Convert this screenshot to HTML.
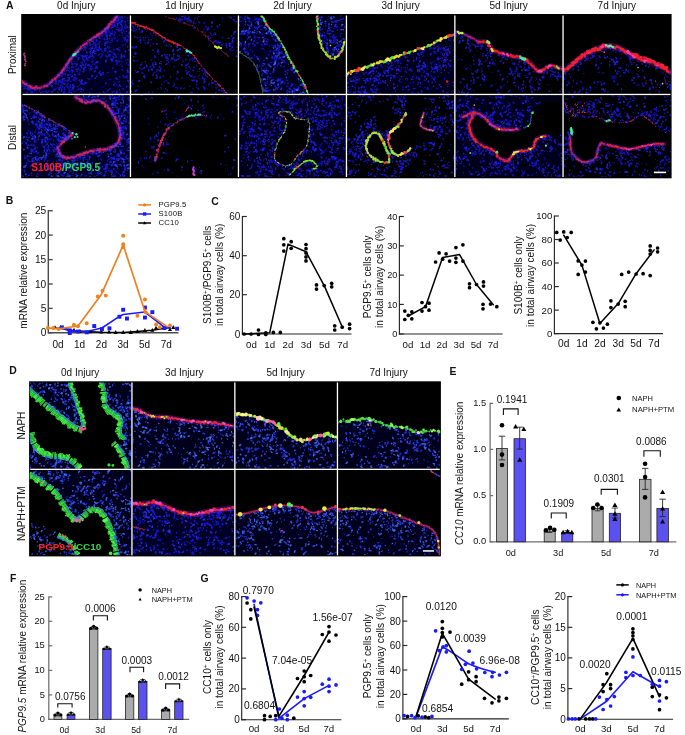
<!DOCTYPE html>
<html><head><meta charset="utf-8"><title>Figure</title>
<style>html,body{margin:0;padding:0;background:#fff}svg{display:block}text{font-family:"Liberation Sans",Arial,sans-serif;fill:#111}</style>
</head><body>
<svg width="685" height="735" viewBox="0 0 685 735">
<defs><filter id="bl" x="-5%" y="-5%" width="110%" height="110%"><feGaussianBlur stdDeviation="0.6"/></filter><filter id="bh" x="-10%" y="-10%" width="120%" height="120%"><feGaussianBlur stdDeviation="2.2"/></filter></defs>
<rect width="685" height="735" fill="#fff"/>
<rect x="21.2" y="14" width="650.4" height="164.3" fill="#000"/>
<rect x="29.1" y="381.3" width="411.8" height="175.1" fill="#000"/>
<clipPath id="c0"><rect x="21.8" y="15.5" width="108" height="78.3"/></clipPath>
<g clip-path="url(#c0)">
<g filter="url(#bl)">
<path d="M20.8 80.7L26.5 84.8L31.4 87.2L36.4 88L44.5 86.4L52.7 80.7L60.9 72.5L65.8 66L70.7 58.6L75.6 52.9L82.1 46.3L88.7 41.4L96.8 35.7L105 30L111.6 22.6L116.5 16.1L118.1 12.8L134.5 12L134.5 98.7L20 98.7Z" fill="#020228" fill-rule="evenodd" filter="url(#bh)"/>
<path d="M67.6 80.2h0M77.8 86.6h0M118.4 20.5l0.3 -1M65 84.1h0M30.5 88.6l-1 -0.9M56 81.2l-0.2 -0.9M27.6 88h0M111.3 27.9l1.3 -0.8M91.2 66.2h0M116.8 16.7l-0.6 0.3M127.4 70.4l0.4 1.5M105.3 42.7l0 1.1M97.5 61.5l-0.1 0.9M106.6 31.8h0M115.7 72.3h0M96.2 40.7l0.5 -0.7M100.7 75.1l0.6 -0.6M80.8 81.3l0.7 0.8M90 56.5l1 -0.8M96.8 76.3h0M110.9 59.3l1.3 0.9M118 20.4l-1.4 0.3M119.9 22.4l-1.3 0.6M116.1 78.2h0M71.4 92.7h0M69.9 60l-0.5 1.1M81.3 88.9l-0.1 0.6M98.4 50.1l0.4 -0.6M95.3 44.2l0.4 1.1M51.1 85.4l1.3 0.9M64.2 78.6l-1.4 0.5M121.7 20.7l0.8 0.6M113.9 25.9l1.2 -0.1M109.4 51.4l0.6 -0.3M34.6 89.7h0M61.7 73.2h0M126.7 92.1l0.7 -0.1M61.7 90.9h0M74.9 74.4h0M96.1 62.8l0.2 -0.5M110.6 33.7l0.6 -0.4M81.7 67.4h0M126.7 86.5h0M100.7 48.6l-0.1 0.7M80.5 49.2h0M125.2 38.1l0.1 0.8M93.4 51.7l-1.1 0.7M109.4 54.8l1 0.9" stroke="#2424f8" stroke-width="1.7" stroke-linecap="round" fill="none" opacity="0.82"/>
<path d="M64.6 91.9l-0.5 0M108.1 72.4h0M112.1 59.2l-0.4 0.9M88.4 65.8l-0.7 -0.2M74.2 86.8l-1 -0.9M86.2 48l-0.5 -1M67.2 84.8l0 -0.8M71.6 76.9l1.2 -0.8M81.2 65.5h0M121.8 24h0M106.7 32.9h0M120.6 30.5l1.3 -0.9M90.1 52.9l0.9 0.8M114.9 22.6l-0.5 0.2M59.3 80.6h0M86.9 42.8l0.4 0.6M92 76.6l0.7 -0.7M73 56.6l0.6 -0.3M32.7 88.4l0.8 0M121.3 55.2l-0.2 -1.1M70.5 85.1h0M82.3 80.9h0M125 17h0M46.1 90.6h0M102.1 75h0M127.6 20.8h0M105.1 45.6l-0.3 -0.6M126.4 31.4h0M125 51.5l0.8 -0M118.4 61.6l1.1 -0.6M120.3 86.1l-0.9 -1M129.2 32.5l0.7 0.7M115 83.6l-0.6 0.2M106 83.1l-0.5 0.5M122 56.9l-0.2 -0.9M99.4 37l-1.3 -0.5M68.3 63.1l-0.5 -0.6M86.4 57.8l0.5 0.8M126.7 76.3l-0.7 0.9M87.1 55.4h0M112.4 41h0M99.8 71.8h0M116.9 23.2l0.4 0.4M85.2 67.3h0M122.5 17.9l-0.7 -1.2M91.3 69.3l-1.2 0.5M92.4 55.7h0M92.9 61.4l-0.9 0.6M79.2 80.7l0.3 -0.8M61.4 89.3l0.4 0.3M61.3 82.2l-0.9 -1.1M108.3 27.7l-0.5 -0.4M109.4 38.6h0M105.9 50.5l-1.1 0.4M103.3 72.9h0M92.4 48.6l-1.5 -0.6M62.3 72.9l-0.5 -0.7M25.4 88.6h0M119.6 89.8h0" stroke="#2424f8" stroke-width="1.4" stroke-linecap="round" fill="none" opacity="0.82"/>
<path d="M83.5 59.4l-0.7 -0.3M58.7 88.6l0.8 -0.9M124.5 56.9h0M77.8 59l1 0.1M68.2 70.4h0M29.4 88.5l-0.7 -0.8M118.7 18.7h0M107.3 36.2l-0.5 0.8M123.2 75.5h0M84.7 67l-0.2 0.8M112.4 31h0M82 83.7l-1.2 -0.1M126.8 40.8l0.1 1M63 74.3l1.4 -0.5M89.1 64.7l0.7 0.8M72.2 57.3h0M81.3 62.9l0.8 0.1M94.8 51l-0.8 1M68.3 74.8l-0.6 0.4M122 25.5l-0.4 1.3M95.2 78.2h0M101.8 35.7l-0.9 -0.2M78.3 89.2l0.9 -0.2M80.2 65.1l0.4 1.2M118 49.9l0.8 -0.1M95.3 71.2l-0.8 0.6M108.4 31.2l0.7 0.8M98.1 50.1h0M73.2 79.9l0.6 0.1M76.1 64l1 0.5M32.3 92.4h0M72.5 88.8l0.3 -1.5M78.4 68.5l-0.6 1M116.3 61.6l0.5 -0.4M72.1 64l0.3 0.5M107.7 29.9l-1 -0.2M60.9 87.8l-0.7 -0.1M126.5 40l1.4 -0.2M108.3 28l-0.1 0.6M27.1 92.8h0M113 20.9l0.7 -0.2M83.5 55.9l-1.1 0.4M86.8 59.3l1.3 0.9" stroke="#1818e0" stroke-width="1.7" stroke-linecap="round" fill="none" opacity="0.82"/>
<path d="M82.8 64l0.1 1.2M83.8 56.6l-1.1 0.6M64 83.7h0M86.8 52.6l0.1 0.5M107 41.5l1.4 0.3M85 56.9l-1 -0.6M95.4 47.2l0.8 -0.7M129.7 61.6h0M75.9 79.1l0.8 -0.6M64.1 88.1h0M94.6 48.4h0M72.1 76.3h0M98.5 50.5l0.3 -1.2M117.3 60.8h0M35.5 89.3l0.3 0.8M84.3 82.4l1 0.3M81.6 80.2l0.8 0.2M105.4 48.5l0.7 -0.3M124.8 28.3h0M62.4 75.9l-1 -0.1M118 93.2l-1.4 -0.6M114.4 34.8l0.3 0.6M85.5 50.1l-0.6 -1.1M61.4 85.3h0M114.9 34.2h0M87.4 45.2l0.3 0.8M56.6 77.1l-0.5 0.1M69 80.2l0.2 -0.5M127.7 59.6l0.5 0.2M84.5 48.1l-0 -1.1M129.4 27.3h0M56.5 83.4h0M66.5 65.8h0M93.7 41.3h0M107.8 38.3l-0.6 1M92.7 56.6l1.4 0.5M116.3 85h0M58.8 82.7h0M122.3 32.7l-0.7 0.3M116.6 29.6l1.4 0.2M112.1 33.9l0.7 -0.8M93.4 43.8l-0.4 0.4M71.3 58.7l-0.6 1.4M108.5 90.2l-1.3 0.8M99.7 93.5l-0.6 -0.1M123.4 31h0M69.3 77.4l-1 0M66.5 67.9l1.3 0.2M62.5 84.1l0.2 -1.4M32.5 87.9h0M65.7 80.3l-1 0.5" stroke="#1c1cd0" stroke-width="1.4" stroke-linecap="round" fill="none" opacity="0.82"/>
<path d="M72.1 87.8l1 0M117.3 90.5l-0.6 0.8M80.3 54.9h0M65.1 89.6l-0.4 -0.3M90.3 78.3h0M120.7 64.2h0M99.6 54.2l-1.2 0.9M129.4 50.7l-0.5 -0.8M126.3 25.4l-0.8 -0.9M44 91.4h0M117.8 24l-0.5 1.4M62.1 73.3h0M26.6 93.8h0M120.3 23.7l0.8 1M109.8 89l0.1 -0.8M71.8 69.5l0.4 0.7M78.2 52.8l0.7 -1.1M68.8 86.9l1.3 -0.2M112.9 56.3l0.9 1.1M75.2 55.7l0.8 0.6M75.9 66.3l0.6 -0.2M55.2 84l0.9 -1.3M106.8 59h0M95.9 53.6l-1.4 -0.2M86.5 51.6h0M112.5 38.7h0M115.2 57l1.4 0M105.8 35.8l-0 -0.9M62.4 86.5h0M78.2 52.8l1 -0.5M73.5 78h0M115 21.1l0.6 -0.8M124.3 37.7l-1.4 0.1M97.5 50.1h0M58.8 80.7l0.5 0.7M122.3 88.8l1.4 0.5M107.1 35.3h0M112.2 22.2l0.4 0.9M31.3 87.7l0.6 -1.5M77.8 52.4l0.5 0.5M123.2 45l-0.5 0.4M46.9 91.8l-1.3 0.4M76.6 70.7l0.5 1.1M66.7 86.2l0.7 1M119 35.5h0M102.8 72.5l0.3 0.8M113.8 85.2h0M93.6 50.4h0" stroke="#2424f8" stroke-width="1.1" stroke-linecap="round" fill="none" opacity="0.82"/>
<path d="M83.7 84l1.1 -0.6M73 67.5l-1 -0.2M115.1 37.3h0M119 81.3l0.3 0.7M109 55.3l1.5 0.1M71.3 70.6l0.7 0.7M126.5 36h0M75.3 80.9l-0.4 -0.4M114.1 37.5l0.3 1.1M62.1 87.5l-0.6 0.8M62 83.3l0.9 -1.2M108.9 46.6h0M112.3 24.7l-0.2 0.6M78.3 57.3l-0.7 0.2M29.9 87.2l0.2 -0.8M110.2 79.4l0.5 0.3M119.6 76.9h0M25.7 88.1l-0.9 0.5M105.7 42l0.1 1.3M117.3 18.2l-0.7 -0M125.8 60.3h0M99.1 43.2l0.8 -1.3M129.6 62.2h0M59.5 89.9l-1.2 -0.5M117.3 26.6h0M88.7 79l0.5 0.8M95.1 50.5h0M74.6 79.4h0M101.7 55.3l-0.3 1.4M84 71.8l-1 -0.6M96.1 66.6l0.4 0.7M70 74.9l1.3 0.1M68.8 80.1l-0.2 1.1M114.9 55.7l1 -1M64.2 74l1.6 0.2M94.9 45.3l-0.4 -1.2M95.5 71h0M23.2 83.1l0.8 -0M82.6 55.3h0M125.5 22.7l-0.7 -1.1M117.6 40.7l-0.8 0.4M57.2 87.5h0M102.9 54.8h0M125.3 77.7h0M67 70.7l0.1 -1.5M32 90.9l-1.1 -0.5M110.2 36.3h0M62.9 81.2l-1.6 -0.1M125 33.3h0M99.3 49.1l1.3 -0M72.5 71.8h0M71 87.5l-1.2 -0.1" stroke="#1010b8" stroke-width="1.7" stroke-linecap="round" fill="none" opacity="0.82"/>
<path d="M75.4 77.9l0.8 0.3M59.3 89.2h0M77.5 63.9h0M108 46.2l-0.4 1.4M78.6 73.9l1.2 0.6M118.8 53.6h0M87.2 43.9h0M103.1 34.9h0M88.8 68.3h0M22.4 86.1l-0 -0.9M114.5 91.1h0M27 85.1h0M101.9 50.9l0.4 0.4M79.2 74.6h0M91.1 51l-1.1 0.7M112.4 68.1l0.8 -0.1M67.1 80.3l0.7 1.1M85.1 65.2l1.1 -0.8M83.3 50.8h0M69.2 68.5l0.5 -1.2M64.5 71h0M85.9 63.2h0M126.1 93.2l-0.1 0.8M69.5 78.7l-0.9 -0.3M32.3 88.2l-0.2 0.5M84.1 56.4l-1.1 0.5M115.7 71.6l-1.1 0M90.1 44h0M118.3 47.8h0M106.9 39.5l-1 -0.4M69.7 91.4l-0.5 -1.4M80.3 70.1h0M60.4 76.1l-1.2 -0.6M83.9 70.2l-0.4 -1.1M110.6 51.5l-1 0M63 80.7l-0.6 -0.4M108.5 56.3l-1.5 0.3M81.8 55.5h0M121.7 18l-0.3 -0.8M100.4 73l0.9 1M82.5 84.2l-1 -1M71.4 89.7h0M120.9 56.9l0.6 1.4M122.2 28.5l-0.4 0.3M77.1 61.6h0M100.4 57.1l0.2 0.6M106.1 31.5l-0.2 0.9M72.5 84.5l0.8 -0.2M31.9 91.9l-1 0.6M96.3 50.3l1 -0.8M51.1 91.8l0.8 -0.4M93 64.3l1.3 -0.2M119.3 17.5h0M116.2 60.4h0M90.6 45l0.2 -0.8M92.5 68.4h0M99.5 73.2l-0.5 -0.6M112.8 58.4l0.6 -0.2" stroke="#1818e0" stroke-width="1.4" stroke-linecap="round" fill="none" opacity="0.82"/>
<path d="M84.2 68.8l-0.6 -0.7M72.1 66.9l-0.5 0.3M128.7 80.7l-0.9 0M119.6 29.7l0.2 -0.5M110.2 35.7l-0.6 -0.6M73.1 88.7h0M116.8 49.2l0.7 -0.4M92.3 47.3h0M105.8 55.5l0.1 0.8M74.9 77.9h0M84.6 56.4h0M113.5 53.3l0.9 0.9M123.4 56.2l0.6 -0.7M97.5 43.9h0M127.5 26.8l0.1 1.1M85.7 82.9l0.8 0.2M64.6 89.7h0M99.9 38.4h0M30 89.7l-1.5 -0.1M99.2 37.6l-0.7 -0.8M83.4 71.6h0M105.7 42.6l-0.4 1.1M76.1 69.4h0M128.8 72h0M99.2 47.3l0.2 -0.7M93.9 51.2l1 0.1M64.5 93.6l0.3 1M84.4 47.8l-0.4 -0.9M104.1 38.3l0.2 1.3M107.5 52.5h0M24.1 86.7h0M47.6 92.8h0M86.5 56.2l-0.6 -0.7M69.6 92.3h0M124 77h0M119.3 29.7l-0.3 1.1M76.5 56.3l-0.8 0.2M108.6 55.7h0M105 49.7l0.3 -0.6M71.7 62h0M117 62.6h0M117.1 78.9h0M106.3 31.6l0.5 1.2M113.8 85.4h0M93.2 41.4l-1.4 -0.3M116.3 93.5h0M73.2 70.7h0M119.5 29.9l-1.5 0.1M106 60.2l-0 1.5M55.1 89.8l-1 -0.4" stroke="#1c1cd0" stroke-width="1.7" stroke-linecap="round" fill="none" opacity="0.82"/>
<path d="M74.2 61.6h0M101.8 53l0.4 1.4M123 27.7h0M76.9 83.8h0M91.7 75.4l-0.4 -0.7M89.5 56.9l-1 1.1M84.8 45.9l-0.3 -1M70.4 71.3l-1.1 0M112.4 92.6l0.7 -0.7M124.5 26.2h0M89.4 48.2l0.6 1.2M74.5 63.5l0.8 -0.7M127.1 72.6l-0.1 0.6M74.9 54.5h0M125.5 21.4l-0.4 0.5M88.4 64.6l-0.7 -0.2M91.1 88.6l0.4 0.5M128.4 82.7h0M123.4 20.1h0M101.7 75.1h0M75.1 54.7h0M52.6 92.8h0M89.3 93.5l0.8 -0.9M58 83.7l0.2 0.9M125.9 28.7l-0.4 -0.5M40.3 90.7l-1 0.2M70.2 85.4h0M128.7 33.4l0.2 0.8M95.8 78.5l-0.1 -1M120.3 27.3h0M127.6 18.1l-0.5 0.9M111.9 22.7l-0.6 -0.3M116 26.9l0.8 0.2M56.1 88.4h0M92.5 54.1l-0.5 0.3M79.3 85.5h0M127.1 78.3l0.7 0.3M81.9 79.7l-0.7 -0.1M118.6 49.7h0M71.7 75.7h0M73.5 90.4l-0.8 0.3M76.9 90.4h0M127.5 75.7l0.3 0.6M103.7 74.4h0M114.5 24.1l0.3 0.5M78.1 55.5l0.9 -0.9M79.6 72.3l0.6 -0.4M106.6 34l-1.3 0.4M104.4 48.8l0.8 -0.6M58.9 77.2h0M107 43.4h0M27.5 89.4l0.2 -0.9M96.4 46.2h0M121.5 22l-0.4 -1.3M68 83.7l0.9 -0.2M107.1 37.8h0M41.8 92.6l-1.1 0.4M84.4 60.3l1.2 -0.5M72.7 76h0M72.5 71.4l0.9 0M120 17.3l-0.3 -1.6M97.5 68.1l-0.7 0.3" stroke="#1818e0" stroke-width="1.1" stroke-linecap="round" fill="none" opacity="0.82"/>
<path d="M116.2 63.6l1 0.6M96.6 68.4l-0.1 -1.1M123.3 30.8l-0.1 -0.6M96.9 47.6l0.8 0.1M124.7 40l0.5 0.9M129 64.8l-0.8 0.3M68.9 77.2h0M67.4 66.1l-0.6 -0.1M63.3 92.5l-0.2 1.5M114.1 49.7l-1.2 0.4M95.1 53.2h0M90.6 67.1l0.3 1.1M112.6 52.1l-1.4 0.5M89.3 42l0.6 1.2M105.8 51h0M82.9 61.4l0.7 -0.1M68.8 92.3l1.3 0.4M83.9 61l0.7 1.3M118.9 79.4h0M118.5 39.3h0M125.8 28.1l0.3 -0.6M110.9 40.6l1.4 -0M92.9 59.7l-0.5 -0.4M112.1 61.6l1.3 -0.1M100.3 41.4h0M99.1 41.7l-0 -0.7M121.7 61.3l0.5 0.3M66.1 93.3h0M89.7 58l-1.3 -0.9M99.3 44.9l0.3 -1.2M80.3 88l1.2 0.4M128.6 37l-0.6 -0.9M54.7 83.4h0M117.9 87l0.4 -0.4M93.5 46.4l0.5 -0.5M60 81.6l-1.3 -0.4M55.2 89.4l0.5 -0.7M65.3 68.9l0.1 -0.9M79.3 70.2l0.2 -1.1M64.4 89.1l-0 -1.5M111.2 24.2l-1 -0.8M113.6 81.9h0M107.6 57.2h0M124.2 37.8l0.1 1.3M75.1 91.4h0M126.6 27.1l-1.1 -0.5M126.9 25.8h0M118.7 59.3h0M69.3 91.7l1 -1.2M122.2 65.5l-0.3 1.1M61 87l-0.5 -0.2M111.9 38.9l-0.6 -0.1M96.6 66.2l-1 0.6M109.8 24.9h0M82.6 89.7l1 0.6M108.4 34.3l0.6 0.1M105.3 44.8h0M106.3 73.1h0M90.2 56.2l1 -1.2M114.8 31.9l0.8 1.2M74 63.8l-0.8 -0.2M124.8 55.5h0" stroke="#1010b8" stroke-width="1.4" stroke-linecap="round" fill="none" opacity="0.82"/>
<path d="M75.9 75.3l-0.7 0.2M118.2 31.4h0M72.3 74h0M122.4 41.3h0M60.3 79.8h0M118.7 17.9l0.3 -1.1M67.8 67.1l-1.3 0.4M119.5 51.2h0M91.5 50.2l-1.1 -0.4M104.1 92.1l-1.1 -0.5M40.3 92.4h0M92.5 76.4h0M57.5 92.4l0.6 0.1M72.8 85.6h0M79.5 57.8l-1.4 0.7M123.9 22.6h0M67.2 81.3h0M83.3 64.9l-0.1 0.6M67.4 87h0M93.5 43l0.9 -0.5M83 64.7l0.8 0.2M94.2 71l0.7 0.5M87.7 78.2h0M105.6 92.8l-1.2 -0.2M74.2 85.3l-1.1 -0.4M91.7 52.3l0.4 0.4M122.8 70.4l-0.9 -0.9M96.4 48.2l-0.5 0.2M127.7 46.2l-0.3 1.5M72 72.5h0M109.5 48.3l-0.6 -0.2M103.6 52.3h0M60.2 85.9l0.9 -0.3M71.1 61.3l0.2 -0.4M89.5 44.2h0M65.2 68.7h0M44.7 86.4l0 -1.5M87.3 52.7l0.5 -0.5M53 91.2l0.8 -1M23.2 88.6l1.4 -0.3M38.1 88.4h0M120.5 18.2l0.1 0.8M106.7 35.9l0.3 -1.5M63.3 93.2h0M68.5 88.4l0.8 0.8M78.1 74.1h0M97.6 67.3l-0.5 -0.7M118.1 25.4l-0.4 -1.5M116 71.6l-1 -0.4M57.3 81.7h0M95.5 68.4l0.4 -0.8" stroke="#1c1cd0" stroke-width="1.1" stroke-linecap="round" fill="none" opacity="0.82"/>
<path d="M94.3 49l1 0.2M118.7 27.6l-0.6 0.1M108.2 29.9l0.1 1.2M94.2 37.6l-1 0.4M48.2 91.1l1 -0.5M71.5 81.7l-1 -0.3M102.5 36l0.7 -0.1M122.8 35l-0.9 0.5M106.3 33.7l-1.5 -0.4M48.5 90.7l0.2 0.7M123.9 23.8h0M110.2 47.5h0M85.7 63.7l-0.1 0.5M69 72.2l1.2 -0.7M57.8 92.6l-0.2 -1.3M89.7 71l-0.5 -0.5M94.1 64.7l0.6 -0.7M116 36.3h0M28.3 90.6l-0.5 1.1M80.8 91.4l1.3 0.2M126.4 63.1l0.5 -0.6M68.3 78.2l-0.9 -0.7M26.5 88.4h0M41.9 91.6l0.8 -0.5M118.1 20.8l1.4 -0.5M117.1 82.9h0M95.7 42.8l0.3 -0.6M127 68.8l1.4 0.2M74.5 76.9l-1.5 0.4M25.5 86.8h0M90.2 65.2h0M92.4 40l0.7 0M85.4 59l-0 0.9M73.2 66.8l1 0.5M84.4 84.6l-0.4 -0.4M127.2 36.4l-0.2 -0.9M35.7 90.5l1.1 -0.7M113.6 25.6h0M75.6 68.3h0M116.9 18.5h0M34.3 91.3h0M62.4 85.7h0M115.9 57.1h0M98.1 35.3l-1 -0.2M46.7 84.9l-0.6 0.9M92.7 62.3h0M113.9 34.4h0M120.1 93.7l-0.1 -1.4M120.6 23.7l-0.7 0.2M104.8 44.4h0M41.7 92.7l0.6 -1.4M102.7 87.2h0M110.4 42.5l-1.3 0.2M73.7 57h0M75.5 91.8l-1.3 -0.6M121.8 15.9h0M121.7 31l-1.4 -0.4M89.7 45.4h0M52.1 87.7l0.4 -0.8M125 44.4l0.5 -0.7M90.3 62.7h0M52.1 88l0.5 -1" stroke="#1010b8" stroke-width="1.1" stroke-linecap="round" fill="none" opacity="0.82"/>
<path d="M20.8 80.7C21.8 81.4 24.8 83.7 26.5 84.8C28.3 85.9 29.8 86.7 31.4 87.2C33.1 87.8 34.2 88.2 36.4 88C38.5 87.9 41.8 87.6 44.5 86.4C47.3 85.2 50 83 52.7 80.7C55.4 78.4 58.7 74.9 60.9 72.5C63.1 70 64.1 68.3 65.8 66C67.4 63.6 69.1 60.8 70.7 58.6C72.3 56.4 73.7 54.9 75.6 52.9C77.5 50.8 80 48.2 82.1 46.3C84.3 44.4 86.2 43.2 88.7 41.4C91.1 39.7 94.1 37.6 96.8 35.7C99.6 33.8 102.6 32.2 105 30C107.5 27.8 109.7 24.9 111.6 22.6C113.5 20.3 115.4 17.7 116.5 16.1C117.6 14.5 117.8 13.4 118.1 12.8" stroke="#7a22b8" stroke-width="4.6" fill="none" stroke-linecap="round" stroke-linejoin="round" opacity="0.38"/>
<path d="M20.8 80.7C21.8 81.4 24.8 83.7 26.5 84.8C28.3 85.9 29.8 86.7 31.4 87.2C33.1 87.8 34.2 88.2 36.4 88C38.5 87.9 41.8 87.6 44.5 86.4C47.3 85.2 50 83 52.7 80.7C55.4 78.4 58.7 74.9 60.9 72.5C63.1 70 64.1 68.3 65.8 66C67.4 63.6 69.1 60.8 70.7 58.6C72.3 56.4 73.7 54.9 75.6 52.9C77.5 50.8 80 48.2 82.1 46.3C84.3 44.4 86.2 43.2 88.7 41.4C91.1 39.7 94.1 37.6 96.8 35.7C99.6 33.8 102.6 32.2 105 30C107.5 27.8 109.7 24.9 111.6 22.6C113.5 20.3 115.4 17.7 116.5 16.1C117.6 14.5 117.8 13.4 118.1 12.8" stroke="#cc245c" stroke-width="1.1" fill="none" stroke-linecap="round" stroke-linejoin="round" opacity="0.4"/>
<path d="M20.5 81.1h0M22.4 82.2h0M29.1 86h0M34.2 87.9h0M46.1 86h0M61.8 72.1h0M62.1 71h0M63.9 68.2h0M65.8 65.5h0M68.6 62h0M69.6 60.1h0M69.8 58.9h0M77 52h0M78 49.9h0M80.8 48h0M81 46.6h0M82.8 45.4h0M83.8 44.8h0M84.6 44.1h0M91 39.7h0M100.1 33.5h0M103.8 31.1h0M113.1 21.7h0M113.8 20.8h0M115 19h0M117.1 15.1h0" stroke="#cc245c" stroke-width="1.8" stroke-linecap="round" fill="none"/>
<path d="M22.1 80.8h0M24.3 83.3h0M40.9 88.1h0M41.8 87h0M64.9 67.5h0M65.5 66.6h0M77.2 50.7h0M87.8 40.9h0M91.6 38.7h0M93.6 37.7h0M101.2 33.3h0M109.4 25.8h0M110.7 24h0" stroke="#cc245c" stroke-width="1.4" stroke-linecap="round" fill="none"/>
<path d="M23.4 82.7h0M30.2 86.3h0M31.1 86.9h0M32 87.6h0M35.3 87.4h0M36.3 86.5h0M39.7 87.9h0M52.6 80h0M55.4 78.2h0M58.5 75.1h0M62.9 70.1h0M73.9 55.1h0M74.4 54h0M75.1 53.2h0M97.1 34.9h0M98.4 34.9h0M99 33.9h0M108.5 26.5h0M109.2 24.2h0M111.5 21.9h0M114.4 19.9h0" stroke="#cc245c" stroke-width="2.4" stroke-linecap="round" fill="none"/>
<path d="M25.1 84.2h0M33 88.3h0M37.5 88.1h0M44 86.6h0M44.8 85.8h0M54.7 79.1h0M63.7 69.4h0M68.8 60.9h0M85.9 43.9h0M89.8 40h0M94.3 36.7h0M115.3 17.8h0M117.6 14.1h0M118.5 13.3h0" stroke="#cc245c" stroke-width="2.1" stroke-linecap="round" fill="none"/>
<path d="M26.3 84.3h0M50.5 82.6h0M51.3 81.9h0M66.5 64.6h0M71.2 58.5h0M102 32.4h0M106.8 28h0" stroke="#8a30c8" stroke-width="2.4" stroke-linecap="round" fill="none"/>
<path d="M27.1 85.1h0M49.1 84.4h0M52.1 81.1h0M56.2 77.4h0M57 76.7h0M59.3 74.3h0M72.8 55.6h0M75 51.6h0M86.7 43.1h0M96.7 36.4h0M102.6 31.4h0M104.8 30.7h0M105.9 28.5h0" stroke="#8a30c8" stroke-width="1.4" stroke-linecap="round" fill="none"/>
<path d="M47.4 85.9h0M60.8 72.7h0M67.2 63.8h0M95.7 36.9h0M104.9 29.1h0M108 27.5h0" stroke="#8a30c8" stroke-width="2.1" stroke-linecap="round" fill="none"/>
<path d="M57.8 75.9h0M68 63h0M72.3 56.6h0M79.9 48.7h0M92.6 38.1h0M116.6 17.4h0M116.8 16.2h0" stroke="#8a30c8" stroke-width="1.8" stroke-linecap="round" fill="none"/>
<path d="M23.6 53.7C23.9 54.6 25.5 57.5 25.6 59.4C25.7 61.3 24.5 64.2 24.3 65.1" stroke="#a03088" stroke-width="1" fill="none" stroke-linecap="round" stroke-linejoin="round" opacity="0.55"/>
<path d="M24.4 53.4h0M25.8 61.3h0" stroke="#a03088" stroke-width="1.9" stroke-linecap="round" fill="none"/>
<path d="M23.8 54.7h0M24.5 55.5h0M24.8 57.5h0" stroke="#a03088" stroke-width="1.6" stroke-linecap="round" fill="none"/>
<path d="M24.9 56.4h0M25 59.4h0M25 65.3h0" stroke="#a03088" stroke-width="2.2" stroke-linecap="round" fill="none"/>
<path d="M25.1 60.2h0M25.4 63.3h0M24.6 64.1h0" stroke="#a03088" stroke-width="1.3" stroke-linecap="round" fill="none"/>
<path d="M73.3 55.8L78.9 50.9" stroke="#3fe8b4" stroke-width="1.4" fill="none" stroke-linecap="round" stroke-linejoin="round" opacity="0.55"/>
<path d="M72.9 55.4h0" stroke="#3fe8b4" stroke-width="1.8" stroke-linecap="round" fill="none"/>
<path d="M74.1 54.6h0" stroke="#3fe8b4" stroke-width="3.1" stroke-linecap="round" fill="none"/>
<path d="M75.5 53.9h0" stroke="#3fe8b4" stroke-width="2.3" stroke-linecap="round" fill="none"/>
</g></g>
<clipPath id="c1"><rect x="131" y="15.5" width="106.9" height="78.3"/></clipPath>
<g clip-path="url(#c1)">
<g filter="url(#bl)">
<path d="M185.9 65.3l0.7 -0.4M139.4 29.2h0M157.2 43.8l-0.5 0.3M180.3 49.3l-0.7 -0.6M177.3 47.3h0M162.6 38.4h0M182 65.1l-0.5 -0.4M138 71.7l-1 0.6M195 58l-0.7 1M160.3 71.1l-0.7 -0.6M193.1 80.5l-1 -0M135.3 53.7l-0.3 -0.6M156.6 74.9h0M189.2 66.8h0M190.5 76.2l1.5 -0M139.6 80.7l-0.7 0.4M162.4 55.4l-0.5 0.5M177.8 72.3l-0.2 -0.9M144.6 77.5l-0.7 -0.9" stroke="#2424f8" stroke-width="1.7" stroke-linecap="round" fill="none" opacity="0.82"/>
<path d="M172.1 57.9l-0.7 0.9M157.1 77.2l-1 1.2M199.4 75.3l-0.5 0.1M177.4 88.9l0.4 -0.3M194.2 61.4l0.9 0.6M144.7 42.9l1.2 0.4M139.5 73.8h0M154.5 55.6h0M158.2 36.4h0M161.2 88.6l-0.3 -1.2M218.9 89.9l1.3 0.6M134.6 36.4l0.4 -0.3M205.1 89.2l-0.4 -0.9M159.4 51.9l-0.5 0.6M163.7 41l0.5 0.4M215.9 87.6l1.5 -0.5M203.2 74.9l0.2 -0.8M135.3 37.1l-0.4 0.7M190.2 86.3l-0.7 -0.4M158.3 59.5h0M134.9 70.6l0.9 0.4" stroke="#1818e0" stroke-width="1.1" stroke-linecap="round" fill="none" opacity="0.82"/>
<path d="M169.9 55.7h0M168.4 58.9l-0.8 -0.6M164.6 70.4h0M157.9 88.8h0M150 67.2l0.8 -0.7M148.9 69.2l-0.3 1.3M173.2 82.1h0M165.7 88.4l-0.3 0.5M166.8 90.3l0.9 -0.3M193.9 77.1l1.2 -0.8M152 70.4l0.4 -1.1M145.2 61.2l0.4 0.9M136.9 29.4h0M166.3 80.7h0M142.9 38.7h0M131.4 47l-1 0.1M132.6 80.1h0M170.1 59.8h0M205.4 73.9l-0.6 0.1M184.4 88.1h0M154.8 56.6l1.1 0.6M211.4 80.5h0M153.4 32.4l0.5 1.4" stroke="#2424f8" stroke-width="1.1" stroke-linecap="round" fill="none" opacity="0.82"/>
<path d="M177.2 72.9h0M148.9 71.6l0.3 -1.2M168.5 61.2l0.4 1.5M132.1 47.9h0M164.8 81.2l-0.5 0.5M179.7 58l-1.2 0.7M154.5 72.3h0M155.4 57.6l-0.6 0.3M188.6 56.8h0M131.8 24.2l-0.7 0.8M161.6 46.8h0M199.8 73.9h0M174.7 83.3h0M148.7 37.7h0M140.2 32h0M163.3 42.4l0.2 -1M199.9 78.6l-0.5 -0.2M191.1 76.6l-0.7 -1M147.8 42l1 0.7M208.3 85.9h0M152.6 37.8h0M216.1 88.7h0M133.8 30.9l1.3 0.8M189.5 61.3h0M161.7 83.8l-0.1 0.5M141.9 31.2l-0.4 1.1M132.3 26.3l0.1 -0.6M176.5 78.3l0.7 -0.5M143.5 73.2l-1.3 0.4M135.4 52.6l-1.1 0.9M176.6 73.1h0M179.1 56.7h0M132.5 83.9l0 1" stroke="#1010b8" stroke-width="1.4" stroke-linecap="round" fill="none" opacity="0.82"/>
<path d="M142.2 30.5l0.1 0.9M190 75l-0.5 -0.5M133 83.8h0M178.5 59.1h0M167 57.4h0M177.3 59.6l-1 0.6M138.2 71.7h0M143.9 68.5l0.4 -1.1M134.7 61l-1 -0.6M148.6 92.4h0M150.6 33.7h0M200.1 68.2l-0.7 1.1M159.6 63.1l0.1 0.6M173.5 56.2h0M186.4 71.1l-0.5 -0.2M178.6 49.4l-1 1.2M155.5 64.5l0.2 -0.7M140.7 39.6l-0.8 0.9M146.5 64.9l0.2 1.5M196.6 84.4h0M137.3 26.8l0.6 -0.3M136.5 46.4h0M140.7 40.4l-0.6 -0.2M156.9 77.9l0.3 -1.3M170.8 46l0.6 0.2M161 61.4h0M173.6 54l0.6 0.1" stroke="#2424f8" stroke-width="1.4" stroke-linecap="round" fill="none" opacity="0.82"/>
<path d="M165.7 39.5l0.9 1.1M160.3 65.9l-0.7 0.9M138.1 31.6l-0.6 0.9M190.4 59.4l-0.7 -0.5M192.4 69.7h0M207.2 88.2h0M195.9 87.8l0.8 0M180.8 86.3h0M186.1 59.4h0M152.5 35.3h0M192.6 60.7l-0.7 -0.1M135.1 27.2l0.6 -1.4M183.5 88.5h0M224.4 90.6h0M131 93.3h0M172.3 85.9l0.3 0.7M152.1 92.6l0.8 -1.1M142.6 72.3l-1.2 -0.1M160.9 60.3h0M136.1 30.5h0M147.5 67.5l-0.7 -0.6" stroke="#1010b8" stroke-width="1.1" stroke-linecap="round" fill="none" opacity="0.82"/>
<path d="M161.2 63.7h0M169.4 44.4h0M204.5 87.5l-0 1.3M153.6 67.1l0.6 0M142.4 31.6l0.1 -0.6M190 59.6h0M133.5 47.2l0.3 0.9M153.8 64.5l-1.4 0.6M131.7 30l-1 -0.4M177.5 55.7l0.2 -0.6M131.4 91.4h0M213.4 82.6l-1.5 -0.1M204.1 78.9l0.3 1.3M180.6 88.2h0M135.5 90.5l-0.3 1M219.3 90.6h0M156.7 71.7h0M187.5 73l0.6 -0.9M158.3 49.9l-1 1.2M223.7 90.1h0M144.6 75.4l-0.3 0.6M164.7 41l-0.5 -0.3M182.1 78h0M145.8 93.7l0.3 1.4M153.4 43.6h0M151 69.5h0M219.5 86.2l-0.2 -1.5M166.9 63.7l-1 0.7M202.8 77l-0.1 0.7M203.4 86.6l0.1 0.5M173.4 49.4l-0.3 1M159.3 66.9h0M160.3 77l-0.3 0.7" stroke="#1818e0" stroke-width="1.7" stroke-linecap="round" fill="none" opacity="0.82"/>
<path d="M160.5 68.1l0.4 1.3M168.9 83.2l-1.1 -0.6M135.2 54.1l1.1 -0.7M153 30.7h0M177 46.2h0M186.9 74.5l-0.1 -1.2M178.3 50.1l-1.2 0.6M165.2 54.8l-0.6 -0.1M151.2 39.5h0M146 29.6h0M158 69.8l-1 -0.1M166.5 56.6l0.4 -0.5M207.8 76.6l-0.6 -0.1M215.9 84.9h0M141.7 64.4l-1.1 0.8M169.4 54.3l0.1 0.5M142.4 69h0M203.8 82.7l1.2 -0.9M202.2 70.1h0M139.1 26.5h0M170.5 76.8h0M157.1 52.2l0.5 -0.2M173.4 86.3h0M167.1 60.4h0M176.8 45.3l-0.5 0.5" stroke="#1c1cd0" stroke-width="1.7" stroke-linecap="round" fill="none" opacity="0.82"/>
<path d="M132.7 46.6h0M173.5 58.2l-1.3 -0.4M140.6 42.2l0.2 0.6M159.4 93.4h0M190.3 68.8h0M198 88.4l1.1 0.8M151.7 83l-0.9 -1.3M187.7 64.5l0.9 -1M136.4 90.8l0.8 -0.9M131.5 86.1l-0.8 0.2M193.1 88.4h0M178.5 56.4h0M202.9 78.8l-0.3 -0.7M197.4 81.1l-1 -0.8M212.7 82.6l-0.8 1.2M151.9 35.2h0M134.2 56.6l-0.7 0.2M151.4 68.9l0.6 -0M136.3 47.5l-0.8 -0M198.1 76.5h0M193.6 69.9l-0.6 1M155.7 64.4l0.8 -0.4M153.1 75.5l-0.8 -0.5M189 54.9l-1.1 0.6M133.9 28.5l-0.8 -1.4M194 67.5l-0.7 -0.6M154.8 62.1l0.9 0.1" stroke="#1818e0" stroke-width="1.4" stroke-linecap="round" fill="none" opacity="0.82"/>
<path d="M155.4 32.7l1.1 0.6M133.4 30.4l1 -0.1M204.6 71.5l0.3 -1.5M158.8 54.1h0M185.6 67.7l1.1 -0.2M140.2 68l-0.8 0.2M194.7 80.6h0M142 62.5h0M145.2 37h0M163.6 75.9l-0.5 0.2M144.5 40.4l-0.6 -0.6M145.5 37.6h0M176 87.7l0.8 -0.4M165.4 56.5h0M164.6 91.6h0M224.7 92.9l-0.9 -0.3M192.2 58.6h0M183 61l0.7 0.5" stroke="#1010b8" stroke-width="1.7" stroke-linecap="round" fill="none" opacity="0.82"/>
<path d="M194 79.8h0M144.9 28.7l0.3 -1.1M197.5 71.4h0M151.1 59.5h0M152 60.1h0M152.8 63.5l0.1 -0.9M185.7 52.7l0.8 -0.4M174.2 66.7h0M190.6 92.3l1.5 0.4M208.8 84.2l1 -0.3M175.5 60.2l-1.1 0.4M150.6 45.8h0M166.2 58.8l1.2 0M138.3 41.4h0M155.6 35.2l0.2 -0.5M143.6 37.4h0M166.7 44.9l-0.6 1M179.2 55.6l0.4 0.5M172.3 59.4l-0.8 -1.4M137.6 60.6l-0.5 0.2M172.6 51.6l0.9 -0.2M147.7 42.2l0.2 1.5M196.7 65.9h0M165.6 57.7h0M149.2 40.6l-0.5 -0.8M135.1 46.1h0M197.2 82.1l-0.8 -1.2M132.3 81.8l-1.4 0.8M153.8 73.8l-0.4 -0.7M199.6 71.4h0" stroke="#1c1cd0" stroke-width="1.4" stroke-linecap="round" fill="none" opacity="0.82"/>
<path d="M131.7 25.6h0M138.4 86.4l-0.7 -0.3M175.9 90.7h0M215.8 92.5l-0.3 0.7M152.1 50.6l1.2 -0.9M173.4 55.2l0.6 -0.7M181.6 87.8h0M173.6 59.3l1.5 0M211.9 87.3h0M222.4 89.9h0M185.1 59.1l1 1M206.2 75.8l-1.5 -0.1M176.9 79.8l1 -0.4M204.7 72.3l0.7 0.7M221.2 90.5l1.4 0.8M207.1 72.9h0M188.6 72l0.4 -0.5M167.2 54.4h0M140.2 37.6l0.5 -0.2M174.3 84.9l-0.2 -0.9M137.8 37.8l-0.8 -0.6M212.3 88h0" stroke="#1c1cd0" stroke-width="1.1" stroke-linecap="round" fill="none" opacity="0.82"/>
<path d="M222.2 18.2h0M229.7 49.1h0M209.2 39.3l-0.9 0.8M193.1 25.1h0M208.7 27.7l-0.5 0.4M194.4 27.2l-0.6 1.3M227.9 38.2l1.4 0.5M195.9 23.6h0M205.3 26.5l1 0.1M186.3 19.8h0M233.3 42.1h0" stroke="#1818e0" stroke-width="1.4" stroke-linecap="round" fill="none" opacity="0.82"/>
<path d="M234 20.5l-0.8 -0.9M193.5 22.1l0.2 1.2M184.8 19.5l-0.2 -1.6M182.7 19.6l-1.4 -0.3M237.7 29.9l0.8 -0.2M229.9 45l-0.6 0.6M233.3 37.9l0.5 -0.2M202.8 31.7h0M198.8 21.9l0.6 0.6M232.4 39.4h0M230 17.2l1.4 0.6M207.3 28.3l-0.1 1.5" stroke="#1c1cd0" stroke-width="1.7" stroke-linecap="round" fill="none" opacity="0.82"/>
<path d="M231.9 50.1l1 0.3M211.5 23.5h0M217 43.4h0M205 22.4l-0.6 -0.4M235.9 21.5l-0.8 0.8M213.5 29.8l1.3 -0.4M203.4 30.1l-0.1 -1M226.8 53.2l-1.3 0.8" stroke="#1010b8" stroke-width="1.1" stroke-linecap="round" fill="none" opacity="0.82"/>
<path d="M227.9 16.7h0M220.5 42.2l0.7 1.1M236.9 50.3h0M231.1 17.3h0M189.6 21.8l-0.6 -0M231.9 42.9h0M204.8 28h0M194.8 19l0.6 -0.4M180.7 21.1l-0.9 1.2" stroke="#1010b8" stroke-width="1.4" stroke-linecap="round" fill="none" opacity="0.82"/>
<path d="M192.7 25.8l0.5 0.1M234.4 34.3l-1.1 -1.2M212.1 35.1l-0.5 0.2M197.5 18.9h0M189.5 20.4l0.5 -0.9M178.5 20.3h0M176.6 18.9l0.4 -1.1" stroke="#2424f8" stroke-width="1.1" stroke-linecap="round" fill="none" opacity="0.82"/>
<path d="M208.6 29.6l-0.7 0.4M226.8 46.6l0.2 1.4M204 24l-0 -1.2M205.3 31.5l-0.1 1.1M194.5 17.8l1.4 0.1M166.2 16.7h0M234.1 55h0M222 37l0.8 1M215.7 33.1l-1.3 -0.3M216.7 26.3l1.1 -0M222.7 21.2h0M210.4 37.9l0.9 -0.1M213.7 34.1l1.1 0.8M184.6 22.9l-1 0.5M186.8 18.6l1.5 0.2" stroke="#1818e0" stroke-width="1.1" stroke-linecap="round" fill="none" opacity="0.82"/>
<path d="M212 22.1l0.3 0.7M237.1 56.7l-0.4 -0.7M232.3 46.9h0M179.9 18.6l-0 1.1M226.4 45.3h0M191.1 21.8l-0.1 -0.9M187.4 18.4l0.9 1.2M215.6 34.1h0M215.6 41l-1.3 0.6M232.3 41.6l0.4 -0.9M219.4 42.7h0M235.5 31.5l-1.2 0.7M211.6 26.4h0" stroke="#2424f8" stroke-width="1.7" stroke-linecap="round" fill="none" opacity="0.82"/>
<path d="M210.4 32.9l0.6 1.2M237.7 38.6l1.4 -0.7M231.8 43.9l0.4 0.4M178.5 19.3l0.7 -0.4M188.7 16.2l0.3 1.4M234.5 16.4h0" stroke="#1c1cd0" stroke-width="1.1" stroke-linecap="round" fill="none" opacity="0.82"/>
<path d="M189.1 18.1l-0.9 0.9M230.8 50.6l-0.5 -1.1M233.9 20.4l0.5 0.5M184.8 15.7l0.3 1.4M216.7 43h0M190.5 21.1l-0.8 -0" stroke="#1010b8" stroke-width="1.7" stroke-linecap="round" fill="none" opacity="0.82"/>
<path d="M236.5 21.5h0M208 36.2l-0.1 1.1M218.1 42.7l0 -1M187.5 21h0M213 42.5h0M230.3 46.1l-0.7 0.1M232.9 38.5l0.5 -0.7M222.2 44.6l-0.6 0.3M218.8 45.8l0.4 1" stroke="#1818e0" stroke-width="1.7" stroke-linecap="round" fill="none" opacity="0.82"/>
<path d="M229.3 44.4h0M209 28h0M226.2 44.1l-0.2 -0.7M216.3 41h0M183.2 16.2l-1.3 0.3M230.4 43.5l-1.4 -0.4M237.7 43.7h0" stroke="#2424f8" stroke-width="1.4" stroke-linecap="round" fill="none" opacity="0.82"/>
<path d="M217.3 26.3l0.8 0.9M231.9 36.2l-0.2 -0.6M231 48.7h0M237.1 47.6l-0.2 -0.5M198.9 16.2h0M219.6 46.6l-0.2 -0.7M219.5 25.4l0.3 -0.8" stroke="#1c1cd0" stroke-width="1.4" stroke-linecap="round" fill="none" opacity="0.82"/>
<path d="M129.6 21.8C131.5 22.5 137.3 24.5 141.1 25.9C144.9 27.3 149 28.2 152.5 30C156.1 31.8 159.6 34.8 162.3 36.5C165.1 38.3 165.9 39.1 168.9 40.6C171.9 42.1 178.4 44.7 180.3 45.5" stroke="#e0202c" stroke-width="0.9" fill="none" stroke-linecap="round" stroke-linejoin="round" opacity="0.55"/>
<path d="M129.5 22.2h0M130.4 22.3h0M137.1 24.5h0M139.5 25.7h0M150.2 29.5h0M155 31.6h0M163.8 37.5h0M165.4 38.2h0M165.7 39.4h0M167.1 40.5h0M170.5 41.8h0M173.3 41.9h0M175.6 43.2h0M179.5 45.3h0" stroke="#e0202c" stroke-width="1.4" stroke-linecap="round" fill="none"/>
<path d="M131.1 22.9h0M133 23h0M135.4 24h0M137.9 24.9h0M140.3 26.1h0M141.2 26h0M142.8 26.7h0M143.8 26.7h0M145.3 27.7h0M147.8 28.7h0M149.5 29.1h0M151.8 30.2h0M153.6 30.6h0M157 33.4h0M159.1 35h0M169.9 40.8h0M172.2 42.2h0M173.6 43.4h0M174.7 43.2h0M177.7 45.1h0M178.7 44.9h0" stroke="#e0202c" stroke-width="1.7" stroke-linecap="round" fill="none"/>
<path d="M132.2 22.5h0M133.8 23.3h0M135 22.6h0M144.3 27.8h0M146.5 27h0M151.2 29.5h0M152.9 30h0M155.5 32.4h0M157.9 33.6h0M160.8 35.6h0M162.1 36.9h0M168.3 40.2h0M169 40.7h0M177.3 43.7h0" stroke="#e0202c" stroke-width="1.9" stroke-linecap="round" fill="none"/>
<path d="M136.2 24.5h0M142.1 26.1h0M147.1 27.9h0M149 27.9h0M158.5 34.2h0M163 37h0M164.6 37.9h0M171.4 41.9h0M176.1 44.2h0" stroke="#e0202c" stroke-width="1.1" stroke-linecap="round" fill="none"/>
<path d="M180.3 45.5C182 46.6 187.4 49.7 190.1 52.1C192.9 54.4 194.8 57.1 196.7 59.4C198.6 61.7 198.9 62.7 201.6 66C204.3 69.2 209.2 74.9 213 79C216.8 83.1 221.9 87.6 224.5 90.5C227.1 93.3 227.9 95.3 228.6 96.2" stroke="#b02890" stroke-width="0.6" fill="none" stroke-linecap="round" stroke-linejoin="round" opacity="0.35"/>
<path d="M180.4 45.4h0M190.7 52.9h0M192.4 54.5h0M196.4 58.5h0M198.4 63h0M199.3 63.4h0M201 65.1h0M208 73.8h0" stroke="#e82030" stroke-width="1.2" stroke-linecap="round" fill="none"/>
<path d="M181.2 45.7h0M181.9 46h0M185.1 48.4h0M200 63.8h0M203.1 68.5h0M206.9 72.7h0M219.4 85.1h0M227.3 94.1h0M228.2 94.5h0" stroke="#e82030" stroke-width="0.8" stroke-linecap="round" fill="none"/>
<path d="M183.1 47.1h0M197.9 61.4h0M209.3 74.8h0M216 81.7h0M220 85.6h0M225.7 92.3h0M226.5 92.7h0M228.4 95.3h0" stroke="#b02890" stroke-width="1.3" stroke-linecap="round" fill="none"/>
<path d="M184.2 48.4h0M190.2 52.3h0M191.6 53.1h0M193.9 55.4h0M207.7 73.1h0M218.6 84.8h0M220.3 86.4h0M221.8 88.3h0M223.1 88.2h0" stroke="#e82030" stroke-width="1.3" stroke-linecap="round" fill="none"/>
<path d="M186.5 49.2h0M187.8 50.1h0M196.5 59.5h0M201.9 66.4h0M205.9 71.4h0M209.7 75.5h0M212.4 78.5h0M214.4 81h0M217.4 83.7h0M223.6 88.8h0M224.7 91.1h0" stroke="#b02890" stroke-width="1" stroke-linecap="round" fill="none"/>
<path d="M187.5 49.2h0M190.1 51.2h0M206.4 72.1h0M211.7 77h0M218.1 84.1h0M224.4 90.3h0" stroke="#b02890" stroke-width="1.2" stroke-linecap="round" fill="none"/>
<path d="M188.2 50.9h0M197.6 60.6h0M198.2 62.2h0M204.2 68.6h0M210.4 76h0M215.7 80.9h0" stroke="#b02890" stroke-width="0.8" stroke-linecap="round" fill="none"/>
<path d="M193.1 55h0M194.5 55.9h0M194.3 57.2h0M195 57.6h0M205.2 69.9h0M208.8 74.2h0M212.8 79.2h0" stroke="#e82030" stroke-width="1" stroke-linecap="round" fill="none"/>
<path d="M165.6 16.8h0M171 18.5h0M179.3 21.2h0M184.6 23h0M189.8 25.2h0M195.6 27.8h0M202.8 32.9h0M204 34h0M204.1 35.1h0M205.2 35h0M221.4 50.5h0M222.7 51.4h0M223.1 52.2h0M228.2 56.1h0M240.2 62.6h0M241.7 63h0" stroke="#c02038" stroke-width="0.9" stroke-linecap="round" fill="none"/>
<path d="M168.6 18.2h0M169.5 17.9h0M172.6 18.7h0M174 19.5h0M177.8 20.6h0M183 22.7h0M183.9 22.8h0M190.7 25.1h0M201.5 32h0M202.3 32.3h0M210.1 40.4h0M212.5 42.5h0M214.1 44.4h0M216.4 46.6h0M219.5 49.1h0M224.7 52.9h0M224.9 53.8h0M241 62.8h0" stroke="#c02038" stroke-width="0.8" stroke-linecap="round" fill="none"/>
<path d="M170.3 18h0M178.7 20.7h0M185.4 23.3h0M187 23.6h0M188.9 25.2h0M194.3 27h0M200.7 31.7h0M210.7 40.9h0M211.3 41.4h0M213.4 43.9h0M215.9 45.9h0M218.2 48.1h0M227.5 55.8h0M228.8 56.7h0M233.9 59.1h0" stroke="#c02038" stroke-width="0.6" stroke-linecap="round" fill="none"/>
<path d="M173.5 18.5h0M174.9 19.5h0M186 24h0M188.2 24.7h0M192.2 25.8h0M197.8 28.9h0M198.8 30.3h0M205.8 35.6h0M205.8 36.7h0M208.6 38.4h0M213 43.1h0M217.7 47.5h0M225.8 53.9h0M227.1 54.9h0" stroke="#c02038" stroke-width="1.1" stroke-linecap="round" fill="none"/>
<path d="M186.5 49.9L192.1 52.9" stroke="#40e8c0" stroke-width="1.1" fill="none" stroke-linecap="round" stroke-linejoin="round" opacity="0.55"/>
<path d="M186.4 50.2h0M188.4 51.2h0M190.1 52.5h0" stroke="#40e8c0" stroke-width="2.1" stroke-linecap="round" fill="none"/>
<path d="M187.1 51.2h0" stroke="#40e8c0" stroke-width="2.4" stroke-linecap="round" fill="none"/>
<path d="M189.4 51.6h0M191.3 52.8h0" stroke="#40e8c0" stroke-width="1.8" stroke-linecap="round" fill="none"/>
<path d="M215 46.7L221.5 48" stroke="#c8e828" stroke-width="1.2" fill="none" stroke-linecap="round" stroke-linejoin="round" opacity="0.55"/>
<path d="M215 46.5h0M216.1 47.1h0M217.2 48.1h0M220.9 48.2h0" stroke="#c8e828" stroke-width="2.3" stroke-linecap="round" fill="none"/>
<path d="M218.6 47.2h0" stroke="#c8e828" stroke-width="2.6" stroke-linecap="round" fill="none"/>
<path d="M219.7 47.8h0" stroke="#c8e828" stroke-width="1.5" stroke-linecap="round" fill="none"/>
</g></g>
<clipPath id="c2"><rect x="239.1" y="15.5" width="106.7" height="78.3"/></clipPath>
<g clip-path="url(#c2)">
<g filter="url(#bl)">
<path d="M261.5 15.3L268.1 25.9L276.2 34.9L284.4 48L291 61.1L297.5 72.5L304 83.9L308.9 96.2L263.2 96.2L261.5 85.6L258.3 72.5L251.7 61.1L237.8 51.2L237.8 14.5Z" fill="#020223" fill-rule="evenodd" filter="url(#bh)"/>
<path d="M289.3 89.6l0.5 0.3M274.1 62.1l0.8 0.5M279.7 47.4h0M266.6 73h0M262 25.4h0M267.9 71.4h0M275 60.5l0.1 1.2M299 90.2h0M261.7 75.5l0.8 -0.7M248.1 53.4l-0.2 -1.5M303.6 90.1l0.5 0.3M240.8 43l0.9 -0.2M280.1 45.2l0.7 -0.5M250.9 50.3l0.2 -1.2M254.2 40.6h0M303.9 89.7h0M244.4 44.6h0M272.7 51.6h0M258.9 19.2l-0.6 0.7M274.9 86.8h0M267.3 26.4h0M300.8 78.8h0M287.7 72.6l-0.3 1.5M275.4 85.9l-0.8 0.2M244.9 45.8l1.1 -0.9M264 79.8h0M275 52.4h0M301.7 84.8h0M259.7 65.3l-0.2 0.9M247.6 38.7l-0.3 1.3" stroke="#1818e0" stroke-width="1.1" stroke-linecap="round" fill="none" opacity="0.82"/>
<path d="M248.2 43.9h0M244.3 19.4l1.4 0.2M259.2 33.2h0M262.2 37.3l0 -0.6M262.3 30.6h0M244.9 51.7l-0.4 -0.9M269.6 73.2h0M261.8 67.1h0M264.3 36h0M263.4 79.6l-0.8 -1.2M288.9 64.4l-1 -0.4M250.2 18l0.5 0.2M284.7 66.5l-1.3 0.6M286.3 91.9h0M262.9 42.3h0M253.3 37h0M281.6 87.2l0.2 -0.6M255.3 39.1l-0.6 -1.2M251.3 26.2l0.7 1.1M246.7 16.3l0.5 -0.5M261.7 21.1l1 -0.6M257.1 29.1h0M273.3 77.5h0" stroke="#1c1cd0" stroke-width="1.1" stroke-linecap="round" fill="none" opacity="0.82"/>
<path d="M266 84l0.5 -0.5M277.1 37.6l-0.7 0.8M262.2 81.8l0.7 0.1M298 86.3h0M292.5 93.1l-0.8 -1.1M263.1 48.3l0.8 1.4M242.6 53.2h0M274.7 36.5h0M247.7 35l-0.6 -0.7M257.4 43.5l-0.8 0.3M274.7 84h0M282.1 56.9l1 0.8M246.2 56.2h0M274.3 65.3l1.3 -0.6M294.4 92.2l0.5 1.3M277.9 65.1h0M270.3 62.6h0M278.7 59.4h0M293.9 72.1l0.7 -0.1M286.2 54.4l-0.3 1.3M254.1 17.3h0M280.4 45.8l-0.2 0.7M271.9 57.9l-0.2 -1.4M273 45.2l-0.9 0.3M249.6 18.8l-0.8 0M250.1 43.3l-1.2 0.5M264.7 25.7l0.2 -0.6M269.4 27.6l-0.5 0.2M250.7 26.1h0M286.9 93.8h0M256.4 56.7l0.2 0.7M291 68.3l-0.1 1.2M281.4 78.9l-0.4 -0.4M273.8 71.6h0M257.3 21.5l-0.6 0.5M247.6 53.2l1.3 0.3" stroke="#1010b8" stroke-width="1.4" stroke-linecap="round" fill="none" opacity="0.82"/>
<path d="M239.5 52l0.8 -0.2M241.9 31.6l1.3 -0.5M266 25.2l1.1 -0.3M264.9 27.8l-0.6 -0.3M301.3 93.7l-1.4 -0M275.2 63.3l-0.9 1.3M273.8 70h0M294.5 72h0M268.9 28.1h0M284.3 56.7l-0.9 0.2M270.8 32.2l0.2 1.4M265.2 72.5h0M263.8 90.8l1.1 -0.4M275.7 40.8h0M300.4 85h0M279.7 52.6l-0.2 1.5M263.4 70.4l1.1 0.8M273.9 53.5l-0.2 -0.4M297.5 89.7l-1.5 0.1M263 37.6h0M269.3 30.7l-0.7 1M275.4 61.9l-0.4 0.9M271.1 82.7l0.8 0.2M272 36h0M270.8 66.6h0M292.7 91l-0.1 0.9M258.1 22.6l0.2 1.5" stroke="#3a6cff" stroke-width="1.7" stroke-linecap="round" fill="none" opacity="0.82"/>
<path d="M278 63.8h0M243.6 29.7h0M256.5 33.3l-0.5 -0.7M284.3 63.7h0M265.8 67.6l-1 1M277.7 49.1l0.7 1M267.4 44.8h0M240.5 21.7l0.9 -0.7M260.3 33.2l-0.4 0.7M244.6 47.1l-0.7 0.8M275.5 46h0M263.7 41.1h0M259 32.1l0.6 0.5M256.1 27h0M294.6 87.3l0.4 0.7M276.2 80.4l-1 -0.1M266.1 33.9h0M279.6 55.6l0.1 -0.9M273.4 64.5h0M287 63.1h0M274.7 50.9l-1.5 0.2M258.2 48.8h0M273.4 62.5l-0.6 0.5M297.3 90.9l-0.3 0.7M257.3 42.4l-0.5 0.3M248.3 29.6l-0.7 0.5M246.3 31.9h0M245.7 23.7h0M268.5 30.7h0M241.3 38.4h0M288.1 93.4l-0.9 -1.1M263.5 48h0M286.7 86.9l-0 -0.6M266.4 32.5h0M261.7 69.2h0M254.8 56.2l-0 -0.6M298.6 79.5h0" stroke="#1010b8" stroke-width="1.1" stroke-linecap="round" fill="none" opacity="0.82"/>
<path d="M300.8 80.4h0M264.9 78.8l-1.4 0.7M273.7 47.2l-0.2 0.8M244.9 48.5l-1.1 0.8M245.5 21.7h0M239.3 44.8l-0.8 -0.5M266.3 70.2l-0.8 1.1M273.1 83.5l1.2 -1M245.3 42.9l0.2 -1.4M259.8 26h0M245.5 31.2l1.2 -0.7M276.4 49.1h0M266.4 57.9l0.7 0.6M251.5 39.5l-0.2 0.5M269.6 65.6l-0.9 -0.8M257.4 28.3h0M265.5 79.6h0M250 36.9h0M257.7 58.8l0.7 0.2M298 89.5l-0.9 0.9M254.7 30.6h0M252.9 32.1l-0.6 0.3M281.3 62.9l1.4 -0.6M257.8 21.4h0M271.5 85.6h0M265.9 91.2l0.7 -0.5M265.1 27.8h0M303.6 92.5l-1.1 -0.4M248.8 18.1l-1.4 -0.2M257.2 65.4l-0 -0.5M266.1 33.4l0.9 -0.6M274.9 34.8l-1.5 -0.3M273.7 68.8h0M296.8 90.3h0M278.4 55.1h0M253.3 32.6l0.7 -0.1" stroke="#3a6cff" stroke-width="1.4" stroke-linecap="round" fill="none" opacity="0.82"/>
<path d="M290.1 61.3h0M262.4 70.2h0M292.4 68.6l-0.2 -0.8M245.3 18l-1 0.3M288.1 70l-0.5 0.1M280.3 43.3h0M248.9 37.2l-0.2 0.9M275 45.3l-0.2 0.6M265.4 44.2l-1 0.7M261.7 70.7h0M257.8 66.7h0M245.4 24.6h0M269.4 64.4l-1.2 -0.3M285.2 55.5l-1.1 -0.5M269.9 77.6h0M302.3 84.8h0M290.9 86l0.4 -0.6M276.3 58.7l0.6 -1.2M268.6 54.5h0M257.1 56.9h0M253 43.3l0.1 0.5M239.5 20.7l-0.5 -1.3M288.2 91.1l-0.7 -0.5M277.9 83.9l-0.1 1M264.4 43.2h0M258.7 20.5l-0.4 -1M262.1 65.5l1.2 0.3M286 53h0" stroke="#1c1cd0" stroke-width="1.7" stroke-linecap="round" fill="none" opacity="0.82"/>
<path d="M304.5 87.8l-1.1 -1M263.4 89.8l0.1 -0.8M286 71.8l-0.9 -0.6M292.1 85.3l0.7 -1M267.3 73.5l-1 -0.9M291.7 69.2l0.5 1.5M244.8 30.8h0M258.8 27.6l-0.1 -1.4M272.5 36.4h0M281.8 59.7h0M276.3 60.3l-0.9 0.1M245.7 56.2h0M263.9 60.5h0M249.9 32.4l-0.9 1.2M294.2 88.6l0.5 0.4M257.7 21.2l0.2 0.6M301.5 93.7l-0.7 0M278.8 53l-0.6 -1.3M273.2 71.8l0.1 0.5M256.3 27.6l-1.6 -0.3M258.1 42.5h0M276.1 87.5h0M261.6 80.1l-0.3 -0.7M248.5 37.6h0M275.3 39.4h0M276.6 50.7l-0.7 -0.4M294.3 72.2l-0 0.5M286.4 77.8l0.1 -0.8M265.1 38.6h0M281 82.7l-0.1 1.3M272.6 57l-0.5 1.3M261 29.3h0" stroke="#2424f8" stroke-width="1.4" stroke-linecap="round" fill="none" opacity="0.82"/>
<path d="M254.7 44.3l0.4 0.5M282.9 46.9l-0.6 0.8M275.5 88.3l0.4 0.6M265.7 71.2l0.1 1M267.2 76.5h0M268.1 40l-0.3 -0.5M254.8 20.2l0.8 -0.3M304.1 85l-0.5 1.4M287.2 80.7l-0.3 -0.9M250.5 28.5h0M269.9 45.9h0M249.2 31.8l1.2 -0.5M241.3 34.2l-0.3 0.5M252.5 32.9l1.2 -0M277.6 66l-0.6 -0.8M277 88l0 0.9M245.5 52.5l1 -0.6M288.2 83l-0.5 1.1M293.7 90.3l1.4 0.7M274.6 67.5h0M261.6 68.6h0M254.5 55.2h0M251.8 25.5l-0.1 -0.8M264.7 71.2l0.1 -0.6M286.1 55l0.3 1.2" stroke="#2424f8" stroke-width="1.1" stroke-linecap="round" fill="none" opacity="0.82"/>
<path d="M259.3 37.3h0M271.7 80.3l-0.7 1M275.6 47.1h0M275.8 55.8l-0.5 0.4M267.8 70.8l0.5 -0.1M239.1 24.9l-0.8 1.2M274.3 90.3l-1 -0.6M274.9 63.9l-1.3 0.5M251.7 23.7l-0.7 1.4M254.7 32.2h0M248 54.7l-0 -0.7M266.1 33.4l1.3 0.3M249.3 29.1l0.1 -1.5M298.6 80l-0.2 -1.5M277.6 48.3l-0.5 0.5M281.6 81.8l1.2 0.9M266.8 88.1l0.6 -0.1M266.1 85.7l-0.7 -0.5M289.8 91.5l-0 0.5M278.9 84.9l-0.8 -0.2M247.6 32.1l0.7 0.5M280.7 89.4l0.7 -0.9M260.3 32.6l-1.1 -1.1" stroke="#3a6cff" stroke-width="1.1" stroke-linecap="round" fill="none" opacity="0.82"/>
<path d="M256.1 18.3l0.4 1M265.2 82.3h0M252.3 58.1h0M262.1 44.7l-0.7 0.2M275.3 67.5h0M277.5 80l0.7 -1M279 47.1l-1.6 0.2M267.4 91.1l1.1 -0.4M240.1 17.4l0.7 -0.3M290.2 88.8l-0.8 -0.4M284.2 61.3l-1.3 -0.8M266.5 29l-0.9 0.6M274.4 58.4h0M280.2 46h0M270.6 73.5h0M278 87.8l0.9 -1M248.4 30.7h0M264.3 89.8l0.6 0.9M292.3 70.1l-0.3 -0.6M283.5 81.9l-1.4 -0.8M299.3 79.3h0M258.7 72.8l0.7 -1.4M267.7 79.2h0M291.8 89.8h0M279.5 80.4l-0.2 -0.6M257.1 66.9l-0.4 1.3M248.5 25.2h0" stroke="#1818e0" stroke-width="1.7" stroke-linecap="round" fill="none" opacity="0.82"/>
<path d="M280.7 57.7l-0.5 0.4M250.7 58.8h0M272.3 32.5l1.5 -0.5M247.6 24.5h0M281.9 53.4l-0.6 -0.7M252.4 51.6h0M274.7 57.6l-0.7 -0.2M276.9 38.9l1.3 0.7M280.3 80.9l-0.2 -1.6M248.6 46.5h0M277.9 53.8l1.4 -0.4M257.8 37.1l0.8 0.7M251.6 58.3l-0.8 -0.2M279.9 56.8h0M251.9 22.1h0M240.2 33.5h0M284.7 82.9l0.4 0.6M268.2 76.6l0.4 0.4M274.3 47.8l-1.1 -0.4M273.6 70.3l0.4 -0.3M279 47.2l0.2 1.1M277.4 80.7l0.8 0.8M282.1 51.8l-1 0.7M268.2 76.6l-0.4 0.5M277.9 45.5l1.5 0.2M275.8 90l-0.6 -0.2M262 85.4l-1.1 0.4M261.2 48.6h0M255.5 23h0M253.9 41.7l0.2 -1.2M263 73.3h0M245.9 51.8l-0.9 0.7M245.3 16.4l0.5 -0.8M248.7 31.7h0" stroke="#1c1cd0" stroke-width="1.4" stroke-linecap="round" fill="none" opacity="0.82"/>
<path d="M250 22l-0.6 -0M254.8 46.1l0.4 -0.6M262.8 19.3l-0.7 -0.2M273.2 38.6l0.9 1M296.1 88.5h0M275 33.5l-0.2 1.3M260.2 19.6l-0.6 -1.2M274.8 59.3h0M266.6 44.2l-1.1 -0.7M254 64.5l-0.7 0.9M291.3 83.4h0M268.4 33.3l-1 0.7M243.2 20.8h0M266.3 28.9h0M277.2 55.5l-0.2 0.5M271.2 77.2h0M257.5 31.9l-0.7 -0M271.7 62.6h0M257.5 28.9l-0.5 0.2M277.1 55.7l-1.1 -0.1M261.7 74.9h0" stroke="#1818e0" stroke-width="1.4" stroke-linecap="round" fill="none" opacity="0.82"/>
<path d="M241.1 46.3h0M255.1 19l1.1 0M264.8 84.1l0.7 -0.8M262 34.4h0M266 87.9h0M270.3 50.5l0.1 1.1M293 66.3l-0.3 0.8M244.9 49.2l-0.6 0.7M278.1 50.4l0.9 -1.3M259.6 60.9l0.1 -0.9M279.2 64.3l-0.7 -1.4M274 54.9h0M274.1 45.6h0M270 29.9l-0.2 -0.8M271.3 35l0.4 1.1M276.5 52.9l0.9 -0.1M261.7 79.3l0.7 0.8M243.3 29.1h0M255.3 36.8l-0.5 -0.1M270.8 84.5l-1.4 0.1M287.9 86.6l-0.8 -0.5M255.9 27.8l-0.7 0M266.8 68.9h0M294.5 67.5l1.1 -0.6M274.6 40.5l0.5 -0.7M285.8 62.5h0M244.3 34.2l0.8 -0.7M255 36.4l-0.7 -0.6M269.7 90.2l1 0.5M249.6 20.2l-0.8 1M277.8 40.7l-0.3 -0.6M239.9 43.1l-1.2 -0.9" stroke="#1010b8" stroke-width="1.7" stroke-linecap="round" fill="none" opacity="0.82"/>
<path d="M263.1 63.5h0M283.3 47.3h0M277.1 57.1h0M240.7 43.6l0.6 0.9M267.6 81.5h0M273.2 79.8l-0.7 0.4M277.7 80.8l1.1 -0.9M244.6 33.7l-0.3 -1.5M265.9 91.1l-1 -0.9M281 65.9h0M264.7 63.5l-0.1 1M249.2 58.1h0M304.5 93.1h0M298.1 89l0.6 -1.5M239.3 42.3l-1 -1M266.5 41.3l0.6 0.6M257.1 70l-0.6 -0.2M250 26h0M262.6 88.6l0.9 -0.4M276.6 56.2l1 -0.8M243.8 34l-1.3 -0.4M248.9 44.6h0M285.4 74.5h0M264.1 40.3l-0.3 -0.6M280.3 58l-1 0.2M277.6 44.4h0M303.7 84.4h0M302.1 85.5l-0.3 -1.1" stroke="#2424f8" stroke-width="1.7" stroke-linecap="round" fill="none" opacity="0.82"/>
<path d="M317.1 15.3L317.9 31.6L320.4 43.1L325.3 52.9L333.5 58.6L341.6 51.2L344.6 41.4L345.2 15.3Z" fill="#020223" fill-rule="evenodd" filter="url(#bh)"/>
<path d="M319.6 26.9l0.8 0.5M322.9 35.2l-0.5 0.4M320 40.3h0M324.9 21.4l0.9 0.2M336.9 42.6l0.5 0.9M328.3 28.2l0.8 0.4M338.2 51.5l-0.8 -0.8M340.9 41.3h0M340.7 29.8l0.9 -0.4M340.2 36h0M343.2 43.8l0.8 0.7M337.3 40.2l-0.3 -0.4M338.9 20.4l0.2 0.5M340.1 44.4h0M321.1 22.2l1.6 0M343.2 38.9l1.2 0.1M329.4 33.8l0.7 0.1M334.3 47.8h0" stroke="#3a6cff" stroke-width="1.1" stroke-linecap="round" fill="none" opacity="0.82"/>
<path d="M321 33.1l-0.4 0.4M337.2 30.1l0.1 -0.8M326.4 23.1l-1.4 0.2M341.2 18.3h0M326.8 39.1l-0.1 -1.2M336.2 40.6l-0.3 -0.4M332.3 16.7l-0.7 0.1M324.2 41.8l-0.2 -1.3M320.8 19.5h0" stroke="#1818e0" stroke-width="1.1" stroke-linecap="round" fill="none" opacity="0.82"/>
<path d="M333.1 22.6l0.6 -0M333.9 57.1l1.2 -0.4M331.7 53.3l-0.5 0.2M336.5 55.7l-0.3 0.5M338.9 52.8l0.9 0.5M320.3 17.8l-0.9 -0.2M336.8 26.1l0 1.3M329.8 40.4l1.4 -0.3M344.5 26.7h0M337.2 20.6l-0.8 0.3M336.9 46.6h0M340.2 43.7h0M323.6 26.3h0M335.6 42.7h0M328.6 51.1l-0.6 -1.4M334.1 21.7l1.5 -0.4M326.8 48.4l-0.1 0.5M328 53.1l-1.1 1.2" stroke="#1818e0" stroke-width="1.4" stroke-linecap="round" fill="none" opacity="0.82"/>
<path d="M330.3 41.9h0M328.6 25l-0.3 1.2M341.3 19.4l-1.3 0.2M321.2 16.2l1 1M342.7 19.4l0.5 -1M329.2 26.9l0.9 0.6M342.3 39.1h0M339.8 27.7h0M340 45.7l-0 0.7M335.9 49.7l-1.4 -0.3M333.9 28.8h0M334.1 55.1l-1.3 0.7" stroke="#2424f8" stroke-width="1.1" stroke-linecap="round" fill="none" opacity="0.82"/>
<path d="M337.5 52.4l-0.5 0.8M333 49.1h0M321 39.4l1.3 0.7M342.6 46.3h0M338.6 52h0M337.2 22.4l-1.5 0.2M319.2 18.2h0M328.3 49.4l-1 -0.3" stroke="#1010b8" stroke-width="1.1" stroke-linecap="round" fill="none" opacity="0.82"/>
<path d="M332.7 21.8l-1.2 -0.3M333.3 49.1l-0.7 0.7M319.5 27.8h0M324.3 33h0M325 36.3l-0.3 -0.6M334.3 50.7l-0.8 0.5M328.2 30.3l-0.4 1.2M327.6 48.4l-0.3 -0.6M334.2 26.1h0M331.3 56.1l-0.7 -0.6M319.4 24.8l-1.5 -0.5M341.4 42.6h0M329.6 30.3l0.7 -0.1" stroke="#2424f8" stroke-width="1.4" stroke-linecap="round" fill="none" opacity="0.82"/>
<path d="M327.1 40.6h0M322.3 34.2l-0.5 1M334.2 28h0M327.7 49.2h0M344.9 26.7h0M336.4 53.1h0" stroke="#1c1cd0" stroke-width="1.1" stroke-linecap="round" fill="none" opacity="0.82"/>
<path d="M325.7 25.6h0M336.8 21.1l-0.6 -0.3M340.5 51.4l1.6 -0.2M335.9 56h0M333.7 40.3l1.2 0.7M321.1 24.2h0M343.1 45.4l0.9 -0.5M331.2 41h0M326 43.2h0" stroke="#1c1cd0" stroke-width="1.7" stroke-linecap="round" fill="none" opacity="0.82"/>
<path d="M321.2 24.3l-0.6 -1.1M327.1 43h0M343.1 29.7h0M330.4 41.8h0M320.5 20.1h0M336.5 49.1h0M327 51.4h0M332.6 54.7l0.8 -0.9M329.1 24h0M340.7 41h0" stroke="#3a6cff" stroke-width="1.7" stroke-linecap="round" fill="none" opacity="0.82"/>
<path d="M319.2 29.1l0.4 0.5M336 36.7l-0.2 1.5M333.6 28.6h0M337.4 51.6h0M328.8 16.4h0M341.3 21.9l0.7 -0.9M318 16l-0.8 0.3" stroke="#1010b8" stroke-width="1.4" stroke-linecap="round" fill="none" opacity="0.82"/>
<path d="M335.6 48.9l-0.5 0.4M342 25.7l-0.6 0.6M341.7 41.2l-0.5 -0.9M322.2 28.8l0.3 0.6M327.4 32.9l1 0.9M337.1 51h0M327.7 39.6h0M334.9 39.2l-0.2 -0.8M336.5 48.6h0M321 23l0 -0.8M340.6 46.9h0M335.7 25.2l-0.8 -0.2" stroke="#1c1cd0" stroke-width="1.4" stroke-linecap="round" fill="none" opacity="0.82"/>
<path d="M330.9 36.3l-0.7 0.1M331.2 42.1l0.8 1M324.4 37.2l0.1 0.7M338.6 44.9l0 0.6M333.8 58l0.5 1.1M333.1 36.5l0.3 1.5M333.7 38.9l0.3 -1.3" stroke="#1010b8" stroke-width="1.7" stroke-linecap="round" fill="none" opacity="0.82"/>
<path d="M322.4 35.6h0M328.2 52.2h0M331.7 24.5h0M334 17.6l-0.1 -0.6M338.7 49.3h0M329.7 40.2h0M341.8 25l1 -0.5M332 18.5l-0.8 0.4M334.3 47.7l0.8 0M331.1 17.2l-0.6 1M339.5 41.8h0M334.7 47.6l0.7 -0.3" stroke="#3a6cff" stroke-width="1.4" stroke-linecap="round" fill="none" opacity="0.82"/>
<path d="M331.7 42.2l1.6 0M336.8 46.5l1.4 -0.8M333.2 31.3l-1.4 -0M333.5 34.9h0M341.5 47.7l0.7 1.3M334.5 37.8l-0.5 -1.2M341.3 33.5h0" stroke="#1818e0" stroke-width="1.7" stroke-linecap="round" fill="none" opacity="0.82"/>
<path d="M320.9 36.7l1.1 -0.6M319.6 33.8l0.1 0.9M319.3 32.9l-0.9 -0.6M340.6 15.7h0M319.3 32.3h0M326.6 45.9l0.7 -1.4M321.6 17.5h0M335.7 24.6l-0.3 1.5M317.5 15.6l0.4 -1.1M326.8 47.6l0.6 0.3M319.7 29.2l1.1 0.4M319.9 34.9l-0.7 -0.9M322.5 43.7l0.2 -0.8" stroke="#2424f8" stroke-width="1.7" stroke-linecap="round" fill="none" opacity="0.82"/>
<path d="M261.5 15.3C262.6 17 265.6 22.6 268.1 25.9C270.5 29.2 273.5 31.2 276.2 34.9C279 38.6 282 43.6 284.4 48C286.9 52.3 288.8 57 291 61.1C293.1 65.1 295.3 68.7 297.5 72.5C299.7 76.3 302.1 80 304 83.9C305.9 87.9 308.1 94.2 308.9 96.2" stroke="#7ad03c" stroke-width="1" fill="none" stroke-linecap="round" stroke-linejoin="round" opacity="0.55"/>
<path d="M261.8 15.1h0M261.5 16.5h0M262.5 17.1h0M263.9 18.7h0M264.1 19.8h0M276.4 35.3h0M284.9 49.6h0M286.3 52.4h0M288.1 57.4h0M291.2 62.9h0M293.2 65.4h0M293.8 66.2h0M293.7 67.5h0M296.1 70.9h0M297.5 71.3h0M307 91.1h0" stroke="#7ad03c" stroke-width="2.3" stroke-linecap="round" fill="none"/>
<path d="M263.4 17.8h0M274.7 32.7h0M275.2 33.6h0M279.5 40.8h0M281 41h0M281.3 43.3h0M282 44.1h0M283.1 45.9h0M284.2 48.8h0M286 53.7h0M288.4 56.1h0M289.7 57.8h0M290.2 59.9h0M302.1 79.6h0M302.6 80.5h0M306.4 90.2h0" stroke="#7ad03c" stroke-width="1.3" stroke-linecap="round" fill="none"/>
<path d="M264.3 20.9h0M269.8 28.7h0M272.2 30.7h0M303.4 83.6h0" stroke="#40e060" stroke-width="2" stroke-linecap="round" fill="none"/>
<path d="M265.4 21.5h0M304.9 85.2h0" stroke="#40e060" stroke-width="2.3" stroke-linecap="round" fill="none"/>
<path d="M265.4 22.7h0M305.5 88.3h0M308.6 94.9h0" stroke="#e84040" stroke-width="2" stroke-linecap="round" fill="none"/>
<path d="M266.2 23.4h0M267.8 26.2h0M304.9 86.3h0M309.3 95.8h0" stroke="#e84040" stroke-width="2.3" stroke-linecap="round" fill="none"/>
<path d="M266.4 24.5h0M277.8 36.9h0M278 38h0M279 38.6h0M283.4 46.9h0" stroke="#7ad03c" stroke-width="2" stroke-linecap="round" fill="none"/>
<path d="M267.4 25.2h0M268.7 26.8h0M292.8 63.2h0M293 64.3h0M299.8 76h0" stroke="#e84040" stroke-width="1.7" stroke-linecap="round" fill="none"/>
<path d="M269.3 27.6h0M271.9 29.5h0M290.4 60.9h0M297.1 72.8h0M307.6 93.1h0" stroke="#40e060" stroke-width="1.3" stroke-linecap="round" fill="none"/>
<path d="M270.4 29.6h0M273.1 31.3h0M274.3 31.6h0M287.2 54.3h0M293.9 68.6h0M307.9 94.1h0" stroke="#40e060" stroke-width="1.7" stroke-linecap="round" fill="none"/>
<path d="M276 34.3h0M279.1 39.8h0M282.5 45h0M284.5 47.5h0M286 51.4h0M287.4 55.4h0M289.1 59.2h0M291.5 61.5h0M300.7 77.9h0M302.9 81.5h0M307.5 92h0" stroke="#7ad03c" stroke-width="1.7" stroke-linecap="round" fill="none"/>
<path d="M276.8 36.3h0M298.7 74.3h0M298.8 75.4h0M306.3 86.9h0" stroke="#e84040" stroke-width="1.3" stroke-linecap="round" fill="none"/>
<path d="M237.8 51.2C240.1 52.9 248.3 57.5 251.7 61.1C255.1 64.6 256.6 68.4 258.3 72.5C259.9 76.6 260.7 81.6 261.5 85.6C262.3 89.5 262.9 94.4 263.2 96.2" stroke="#4f8a34" stroke-width="0.4" fill="none" stroke-linecap="round" stroke-linejoin="round" opacity="0.55"/>
<path d="M238.5 51.7h0M244.6 55.5h0M249.9 59.1h0M252 61.6h0M253.5 63.4h0M254.5 64.7h0M258.7 74.1h0M259.9 76.3h0M259.9 77.9h0M260.6 80.2h0M261.4 85h0" stroke="#4f8a34" stroke-width="0.8" stroke-linecap="round" fill="none"/>
<path d="M239.2 52.1h0M241.2 53.3h0M242 53.7h0M242.6 54.2h0M246.6 56.8h0M247.1 57.4h0M247.9 57.8h0M250.3 59.9h0M253.3 62.5h0M254.2 63.9h0M256.7 68h0M258.3 72.6h0M258.6 73.3h0M259.3 74.8h0M260.2 78.7h0M260 79.5h0M261.9 88.1h0M262.5 88.8h0M262.1 89.7h0M262.2 92.1h0M262.7 92.9h0M262.8 93.7h0M262.8 94.5h0" stroke="#4f8a34" stroke-width="0.7" stroke-linecap="round" fill="none"/>
<path d="M239.7 52.7h0M240.5 53h0M248.9 57.7h0M254.8 65.4h0M255.6 66.7h0M257.1 69.6h0M257.8 71.1h0M257.9 71.8h0M260.4 81.9h0M261.7 86.5h0M262 87.3h0" stroke="#4f8a34" stroke-width="1" stroke-linecap="round" fill="none"/>
<path d="M243.2 54.7h0M243.8 55.3h0M245.4 55.7h0M245.8 56.6h0M251.2 60.1h0M251.4 61h0M255.2 66.1h0M256.3 67.3h0M257.7 70.2h0M259.4 75.6h0M259.6 77.2h0M260.4 81.1h0M261 82.6h0M261.4 84.2h0M261.8 85.7h0M262.4 90.5h0M262.6 91.3h0M263 95.2h0" stroke="#4f8a34" stroke-width="0.6" stroke-linecap="round" fill="none"/>
<path d="M317.1 15.3C317.3 18 317.4 27 317.9 31.6C318.5 36.3 319.2 39.5 320.4 43.1C321.6 46.6 323.1 50.3 325.3 52.9C327.5 55.5 330.7 58.9 333.5 58.6C336.2 58.3 339.8 54.1 341.6 51.2C343.5 48.4 344.1 43.1 344.6 41.4" stroke="#a8d830" stroke-width="1.1" fill="none" stroke-linecap="round" stroke-linejoin="round" opacity="0.55"/>
<path d="M317.7 15.2h0M317.6 23h0" stroke="#40e860" stroke-width="1.8" stroke-linecap="round" fill="none"/>
<path d="M317.2 16.4h0M317.3 19.7h0M317.2 20.8h0M318.2 28.4h0" stroke="#40e860" stroke-width="2.4" stroke-linecap="round" fill="none"/>
<path d="M316.5 17.5h0M339.3 53.8h0" stroke="#ff5070" stroke-width="2.1" stroke-linecap="round" fill="none"/>
<path d="M317.6 18.6h0M317.9 31.7h0M318.3 37.3h0M330.1 58.3h0M338.9 54.9h0" stroke="#ff5070" stroke-width="2.4" stroke-linecap="round" fill="none"/>
<path d="M317.3 21.9h0" stroke="#40e860" stroke-width="1.4" stroke-linecap="round" fill="none"/>
<path d="M318 24h0M317.7 29.6h0M318.5 35h0M319 36h0M318.9 38.3h0M319.4 39.3h0M321.6 47.9h0M327.2 54.7h0M328.5 56.6h0M330 56.4h0M335 56.9h0M338.2 55.8h0M341.5 51.4h0M342.6 49.4h0M342.2 48.1h0M343.9 43h0M344.4 42h0" stroke="#a8d830" stroke-width="2.4" stroke-linecap="round" fill="none"/>
<path d="M318.1 25.1h0M320.3 43.6h0M321.5 46.7h0M336.4 57h0M337.5 56.6h0M343.7 45.2h0" stroke="#a8d830" stroke-width="1.8" stroke-linecap="round" fill="none"/>
<path d="M316.7 26.3h0M319.4 40.4h0M323.3 48.3h0M324.1 51.6h0M331.2 58.7h0M332.5 58.1h0M342.3 50.6h0M343.1 47.3h0M344 44.1h0" stroke="#a8d830" stroke-width="1.4" stroke-linecap="round" fill="none"/>
<path d="M317.8 32.9h0M340.1 51.7h0" stroke="#ff5070" stroke-width="1.4" stroke-linecap="round" fill="none"/>
<path d="M318 34h0M321.2 41h0M320.2 42.5h0M321.3 44.4h0M321.4 45.5h0M322.9 49.7h0M323.6 50.6h0M325.2 52.2h0M326 52.9h0M325.9 54.4h0M327.6 55.9h0M334.9 58.9h0M343.1 46.2h0" stroke="#a8d830" stroke-width="2.1" stroke-linecap="round" fill="none"/>
<path d="M340.1 53h0" stroke="#ff5070" stroke-width="1.8" stroke-linecap="round" fill="none"/>
<path d="M346.9 72.8L350.6 76.6" stroke="#60e040" stroke-width="0.9" fill="none" stroke-linecap="round" stroke-linejoin="round" opacity="0.55"/>
<path d="M346.9 72.8h0M347.4 73.5h0M348.3 75.1h0M349.5 76.4h0" stroke="#60e040" stroke-width="1.4" stroke-linecap="round" fill="none"/>
<path d="M347.9 74.2h0" stroke="#60e040" stroke-width="1.7" stroke-linecap="round" fill="none"/>
<path d="M349.4 75.3h0" stroke="#60e040" stroke-width="1.9" stroke-linecap="round" fill="none"/>
<path d="M350.7 76.5h0" stroke="#60e040" stroke-width="1.1" stroke-linecap="round" fill="none"/>
<circle cx="263.5" cy="41.4" r="0.9" fill="#ff3060"/>
<circle cx="330.5" cy="45.5" r="0.8" fill="#c0e040"/>
</g></g>
<clipPath id="c3"><rect x="347" y="15.5" width="107.3" height="78.3"/></clipPath>
<g clip-path="url(#c3)">
<g filter="url(#bl)">
<path d="M345.8 74.5L354.8 70.9L364.6 67.6L381 61.9L399 56.1L416.9 49.6L430 45.5L443.1 38.2L453.7 34.9L459.5 32.9L459.5 98.7L345 98.7Z" fill="#02021e" fill-rule="evenodd" filter="url(#bh)"/>
<path d="M388.4 75.3l-0.8 0.7M445.7 41.8h0M353 71.8h0M391 65.2l1.1 0.2M384.8 73.2h0M385.2 88.8h0M348.9 73.5l-0 1M431.6 64h0M436.1 53.4h0M417.7 69.4l0.9 0.1M398.8 60.7l-1 0.4M371.9 82h0M364.5 91.3l-1 0.7M360.4 75.7h0M445.1 60.4l0.8 -1.3M395.1 60.5h0M418.8 49.5h0M397.7 62.2l0.8 -0.1M373.7 65.2l1 0.1M413.6 52.3l-0.7 -0.1M431.3 71.2l-0.3 0.5M414.9 93.7l-1.3 -0.3M398 68.8h0M418.5 93.2l0.6 0.4M417.5 71.1h0M438 59.9l1 -0.8M437.5 71.6l-0.2 -0.5M372.6 71.8l-0.2 -0.5M422.1 65.4l0.8 0.2M437.4 67.3l0.7 -0.4M405.6 79.2l0.4 -0.6M397.9 73.3h0M363.6 78.3l-0.7 -0M375.5 86.2h0M349.8 78.6l0.1 0.5M356.3 79.9l-0.4 1.3" stroke="#2424f8" stroke-width="1.1" stroke-linecap="round" fill="none" opacity="0.82"/>
<path d="M434.4 69.3l-0.4 0.4M434.8 44.6h0M441.5 61.5l0.5 -0.4M390.9 68.1l-0.5 0.2M353.1 77.5h0M425 65.5l0.5 0.7M413.7 74.2h0M374 91.9l-0.3 0.6M448.9 40.3l1.3 -0M440.5 52.6l1.2 -0.4M377.5 64.4l0.1 0.7M419.2 77.9l-1.4 0.3M367.4 80.8l0.7 -0.1M356.1 77.3l-1.4 0.1M407.4 64.9l0.1 -0.5M366.4 72.2l-0.9 0.8M437.9 69.3h0M374.1 87h0M368.6 74.4l-1 0.1M411.9 93.6l-0.4 -1.1M385.3 65.9h0M376.3 76l-0.6 -0M394.1 67.2h0M449.5 45.8l0.6 0.6M398.4 61.4h0M431.5 77.8l1.3 -0.6M444.8 79.1l0 -1.1M448.9 72.7l-0.5 0.1M427.1 66.7l-1.5 0.4M355.3 82.6l1.2 -0.2M393.7 64.1h0" stroke="#1010b8" stroke-width="1.4" stroke-linecap="round" fill="none" opacity="0.82"/>
<path d="M391.3 58.8h0M374.6 80.3l-0.2 1.2M394.3 88.5l-0.5 -0.8M366.6 67.7l0.8 0.1M424.4 66.3l-0.6 -0.3M403.9 55.7l0.9 -1.1M424.1 62.9l-0.7 0.2M433.3 86.3h0M419.8 61.7l0.3 -0.8M437.3 67l-1.6 -0.1M454.1 56.5h0M397.9 60l-1.4 0.2M388.4 70.2l-1.3 0.7M428.2 74.2l-0.5 -0.3M420.3 82.7h0M450.6 60.7l-0.8 -0.2M444 55.6h0M444.3 48.6l-1.3 -0.5M375 67.8l-0.9 0.7M351.3 81.3h0M422.7 66.9l-0 -0.8M438.1 57.9h0M429.8 45.9l-0.6 0M421 49.4l0.5 -0.8M419.5 79.4l-0.6 -0.6M443.8 60.5l1.2 0.3M436.6 68.6l-0 -1.2M418 67l1.1 -1.1M361.4 87.6h0M439.5 84.7h0M450.3 66.2h0M447.6 55.2h0M371.2 71.3l-0.6 0.8M391.8 63h0M376.8 80.1l1 -0.1M411.6 79.1h0M366.5 92.6l0.1 1.2M391.2 61.6h0" stroke="#2424f8" stroke-width="1.7" stroke-linecap="round" fill="none" opacity="0.82"/>
<path d="M434.3 79.6l-0.6 -0.8M360.3 92.4l0.6 1.3M435.2 77.6h0M365.5 90.8l-0.6 -0.6M409.8 53.4l-0.3 1.3M356.9 73.2l-0.8 0.1M436.9 88.6h0M409.3 69.7l1.3 -0.6M437.5 70.2h0M444.1 50.2l0.8 -0.6M358 91.2l1.1 0.8M428.8 81.6l-0.6 -0.5M363.9 80.3l1.5 0.4M427.6 87.8l-0.4 0.5M437.1 59.4l0.9 -0.2M395.4 91.1h0M433.6 45.4l-0.9 -1.1M421.3 93.7l-1.3 0.3M365.4 81.5h0M398.1 70l1 0.5M377.8 75.7l0.7 1.3M445.8 65.3h0M397.2 69.4l1.4 0.1M377.6 68.2l-0.5 -0.8M453.8 85.3l0.1 0.7M381.3 64.6l0.1 1.3M386.3 75.9h0M445.6 61.9h0M445.2 62l0.5 -1.4M364.7 93.6l-0.6 -1.3M450.4 65.1h0M366.7 79.6h0M372.7 91.6l0.5 0.3M432.3 69.2l-0.2 -1.3M384.7 72.9l-0.7 -1M443.3 90.8l-0.4 0.8M438.6 48.3l-0.8 1.3M367.9 80.7l-0.8 -0.7M394.7 75.8l-0.6 0.7M370.5 72.1l-0.3 0.4M390.7 78.5l0.7 -1M439.9 65.3l-0.3 0.9M418.3 53.7l0.5 0.3" stroke="#1818e0" stroke-width="1.7" stroke-linecap="round" fill="none" opacity="0.82"/>
<path d="M359 88.1l-0.6 -0.1M376.9 93.4l-0.9 0.7M376.7 90.4l0.1 -0.8M425.2 64.9h0M446.8 54.7l1.1 -0.6M438 51.2l-0.3 -1.3M434.4 72.6l-0.3 -1M372.4 85.4l1.1 -1.2M393.6 76.4l-0.4 -0.8M371.5 76.1h0M436.7 42.2h0M422.9 52.3h0M430.4 54.6l1.1 -1.1M370.9 90l0 -1.3M390.8 66.3h0M388.5 64.4l0.2 -1M384.8 82.4h0M421.7 90.6l-0.1 1M348.3 91.6l-0.4 -1.3M443.1 64.9l0.9 1M434 47.8l-0.7 0.9M364.1 87.3l-0.1 -0.5M421.3 54.5h0M416.6 58.3l0.2 -0.8M417.8 93.2h0M412.9 79.3h0M373.3 73.8h0M353.9 93l-0.1 -0.6M378.2 73.2l0.9 0.7M399 66.1h0M408.8 60.9l-0.7 0.3M372.9 67.9l1.1 -0.5M441.3 72.8h0M406.2 87.4l0.4 -0.3M448 49.6l0.4 -1.2" stroke="#1c1cd0" stroke-width="1.7" stroke-linecap="round" fill="none" opacity="0.82"/>
<path d="M443.4 62.5h0M430.8 63.2h0M375 92l1.1 1M428.7 75.9l-1.1 0.1M424.9 87.4h0M425.3 67.2h0M419.8 68.9h0M405.2 67.6h0M422.8 48l-0.7 0.5M431.9 62.2h0M454.1 37.4h0M405.4 71.6l1 0.8M402.9 87.3h0M424.3 50l-0.2 -0.5M410.7 70.4l1.3 0.6M417.3 67.5l-0.5 -1.3M397.9 63.2h0M422.1 75.2l-0.3 0.9M446.7 54.1l0.5 0.6M435.5 47.8l-1.1 0.9M375 89.3h0M425.7 48.9h0M448.2 63.7l0.7 0.3M440.6 48.5l-0.3 0.4M430 49.2l-0 -1.3M424.7 65.9l0.7 -0.3M374.8 80.3h0M375.7 78.8l-1.2 -1M392.8 58.4h0M355.5 91.4l0.3 -0.5M378.2 62.9h0M443.1 66.6h0M445.8 57.9l0.7 -0.7M442.5 58.2l-0.4 -0.4M359.1 79.4l0 0.6M386.8 63.3l0.1 -0.6M351.1 72.5h0M364.3 80.4h0M389.8 68l-1.4 0.1M364.6 69.8l-1.6 0.1M394.1 75.9l0.5 0.4M414.5 88.5l-1 0.2M385.6 82.4l0 0.8M372.9 78.2l0.6 0.1" stroke="#1c1cd0" stroke-width="1.4" stroke-linecap="round" fill="none" opacity="0.82"/>
<path d="M351.4 78.7h0M439 41.4l0.1 -1.6M430.8 46.4l0.4 0.4M434.5 62l-0.9 -1M347.6 75.1l1.1 0.3M446.6 92.3l0.6 0.3M444 57.3l0.7 -0M415 88.3l0.9 0.1M383.6 70.2h0M377.7 63.6l0.3 1.1M407.7 85.8l0.7 0.3M347.4 91.1h0M386.6 77.1h0M434.8 64.3l-0.4 0.3M425.2 50.2l-1.3 0.2M432 67.4l-0.7 -0.6M424 51.7l0.3 -0.8M453.7 59.2l0.5 0M445.6 50.9l-0.2 -0.6M441.4 70.1h0M380.7 83.3l0.3 -1.1M430.6 75.8l1.1 0.3M405.8 68.6l0.1 0.8M380.3 73.4h0M369.7 81.3l0.7 -0.8M407.3 80.2h0M355.5 84.6l-0.1 -0.7M407.5 79.1l-0.4 -1.1M371.6 90.7h0M407.3 68.1l0.2 -0.8M407.6 56.7h0M384 69.7l0.2 1.4M410.6 82l-0.4 0.5M365.4 78.9h0M362.1 91.5l-0.9 -1.1M403.5 67.2h0M350.5 91.3l-0.5 1.3" stroke="#1010b8" stroke-width="1.1" stroke-linecap="round" fill="none" opacity="0.82"/>
<path d="M431.5 66.5l0.1 1M390.6 77.5l-0.6 1M420.6 52.7l0.9 0.3M424.7 77.2l0.3 -1.6M351.1 78.2h0M362.8 72.9l1.1 0M359.8 70.4l1 -0.9M419.9 86.8l0.7 -0.6M395.8 61.3h0M418.3 64.9h0M446.5 52.9l0.2 0.6M437.1 45.3h0M437.1 46.6l1.3 -0.7M451.7 91.3h0M438.2 76.2h0M421.8 53l1.1 -0.5M376.2 71.8l0.7 -0.5M413.2 82.1l-0.5 0.5M423.8 55.8l-0.8 0.5M448.3 64.6l0.5 -0.5M378.8 80.2l0.3 -1.4M442 47.2h0M446.9 53l0.9 -0.5M417.8 82.1l0.4 1.2M432.1 81.7l-0 0.8M442.6 53.5l-0.1 1.4M391.8 69.4l1.4 0.1M450.2 70.2h0M413.5 61.4l1 -0.7M438 49.2l0.9 -0.1M419.3 57.6l0.6 -0M418.1 54.6l-0.5 -0.4M413.4 60.4l-0 -0.6" stroke="#1818e0" stroke-width="1.1" stroke-linecap="round" fill="none" opacity="0.82"/>
<path d="M437.9 69.9l-0.7 0.6M429.2 84.6h0M365.4 92.5l-0.5 -1.2M397.7 76.8h0M418.3 63.6h0M379.9 75.4l-0.6 -0.1M434.8 80.1l-1.2 -0.8M349 86.8l-0.7 0.8M448.9 83.9l-1.3 0.7M356.5 82.7l0.4 0.3M353.2 79.9l0.4 -0.6M424.3 64.5l1 0.7M437.9 50.7h0M418.3 84.2l-0.7 0.6M453.9 50l-0.5 -0.1M418.5 55l1 0.4M389.7 66.3h0M416.1 60.1l0.8 -1.2M449.7 37h0M438.9 62.6h0M454.3 90.8l-1.5 -0.1M444 39.4h0M363.5 74h0M413.2 57.5h0M422.2 70.3h0M424.6 80.6l1.1 0M400.7 63.6l-0.7 -0.9M365.2 83.2l1.1 -0.9M438.1 64.2h0M445.8 52.5l0.6 -1.1M387.6 60.9h0M406.1 86.8l-0.7 -0.2M386 61.1l-0.2 0.7M447.5 59.6l-0.8 -0.8M365.4 83.8h0" stroke="#1c1cd0" stroke-width="1.1" stroke-linecap="round" fill="none" opacity="0.82"/>
<path d="M378.6 82.4l0.2 1.3M359.2 78.7h0M370.4 78.5h0M445.8 46.7l-0 0.6M407.7 64.5l-0.9 0.3M400.9 82.2h0M409.5 90l-1.6 0.1M402.6 89.6l0.6 -0.3M418.2 54.3l-0.6 -0.6M408.5 86.2h0M355.3 88l-0.3 -0.9M386.1 70.6l1 0.7M379.2 62.6h0M454.1 81.8l-1.1 0.9M413.1 77.1l-0.9 -0.4M354.9 92.9l-1.4 -0.6M394.1 83.8l-0.8 1.2M368.5 93.7h0M422.2 52.1l-1 0.6M443 65.8l1.1 0.2M435.4 81.7h0M387.3 84.9l0.3 0.6M355.3 78.8h0M407.1 57.8h0M358 70.6l0.8 -0.9M382.4 67.3h0M397 73.4l-0.7 0.3M448.8 38.7h0M416.6 76.8l0 0.9" stroke="#1818e0" stroke-width="1.4" stroke-linecap="round" fill="none" opacity="0.82"/>
<path d="M383 75.7l0.4 0.6M379.7 75.5l0.5 -1M364 69.1h0M419.8 50.3h0M352 86.2l1 0.1M382.8 81l0.7 0.9M419.6 71.3l-0.3 -1.5M372.8 70.6l0.9 0.8M422.5 68.5l-1.5 0.5M435.4 68.2l-1.5 -0.2M364.2 74.2h0M394.1 61.6h0M436.2 64.3l0 0.6M422.8 47.8h0M453.8 40.7l0 -1M392 68.4h0M405.7 56.7l-0.6 1.1M388.2 72.9l-0 -1.1M396.8 69.6l1.5 0.3M370.2 79.4l0.1 -1.3M376 78.6l-0.9 -0.1M401.4 67.9h0M370 68.7h0M370.1 72.5l-1.3 0.6M367.9 78.7l-1 0.3M387.8 66.8h0M447.3 50l-1 -0.5M426.5 73.6h0M362.5 86.3l-0.5 0.4M446.2 67.2h0M417.7 70.2l0.3 1.3M372.1 90.3h0M449.6 51.7l0.3 1.5M351 81.2l1.5 0.1M354.4 81l-1.5 -0.1M357.8 79.9l-0.6 -0.3M441.5 86.6l-1 0.3M347.9 75.9l-1.2 0.9" stroke="#2424f8" stroke-width="1.4" stroke-linecap="round" fill="none" opacity="0.82"/>
<path d="M390 75.2l1.4 -0.4M380.7 65.3h0M385.4 71.9h0M427.1 89l1.2 -0.1M425.1 77.6l-0.5 -1.2M434.1 51.4l1.3 0.7M412.6 92.4h0M399 81.3l0.4 -0.8M395.1 77.8h0M400.6 71.1l-1.3 0.3M371.5 79.2h0M387.9 72h0M395.9 67.4h0M423.6 72.3l0.7 -1M347.6 82.8l1.3 0.2M375.4 86.1h0M435.2 53l-1.5 -0.5M357.8 76.4h0M354.9 75.5h0M380.6 82.2h0M425.2 80.4l-1 -0.2M399.9 78.7h0M400.2 58.3h0M438.9 47.7l0.5 0.4M441.3 67.3l-0.3 0.8M423.4 66.2h0M431.1 48.1l-1.2 0.9M377.5 89.7l-0.4 -0.7M395.6 75.8h0M440.2 58.7h0M427.8 69.1l-0.8 -0.1" stroke="#1010b8" stroke-width="1.7" stroke-linecap="round" fill="none" opacity="0.82"/>
<path d="M426.4 79.1h0M444.7 59.5h0M407.7 60.2h0M395.2 87.2h0M390.7 80.5h0M385.4 80.8h0M447.9 86.7h0M401.2 76.6h0M444.4 54h0M444.3 70.1h0M397.7 86.1h0M396.6 70.2h0M380.3 93.5h0M448.4 50.8h0" stroke="#e02848" stroke-width="1" stroke-linecap="round" fill="none"/>
<path d="M345.8 74.5C347.3 73.9 351.7 72 354.8 70.9C357.9 69.7 360.3 69.1 364.6 67.6C369 66.1 375.2 63.8 381 61.9C386.7 60 393 58.2 399 56.1C405 54.1 411.8 51.4 416.9 49.6C422.1 47.8 425.7 47.4 430 45.5C434.4 43.6 439.2 39.9 443.1 38.2C447.1 36.4 451 35.8 453.7 34.9C456.5 34 458.5 33.3 459.5 32.9" stroke="#dcd828" stroke-width="1.6" fill="none" stroke-linecap="round" stroke-linejoin="round" opacity="0.55"/>
<path d="M345.5 73.7h0M360.8 69.1h0M377.2 62.7h0M378.9 62.7h0M380.1 61.4h0M395.4 56.8h0M396.8 56h0M434.2 42.7h0M445.8 37.4h0M447.2 36.6h0" stroke="#dcd828" stroke-width="3" stroke-linecap="round" fill="none"/>
<path d="M347.4 74.1h0M354.5 70.5h0M365.1 66.9h0M381.8 61.5h0M398.7 56.6h0M399.9 55.2h0M430.1 45.2h0M456.5 34.2h0" stroke="#dcd828" stroke-width="2.6" stroke-linecap="round" fill="none"/>
<path d="M348.5 72.5h0M350.8 74h0M353.1 71.1h0M401.4 54.8h0M431.5 44.4h0M444.2 37.7h0M454.8 34.2h0M458.3 34.6h0" stroke="#dcd828" stroke-width="2" stroke-linecap="round" fill="none"/>
<path d="M351.5 71.6h0M394 57.8h0" stroke="#dcd828" stroke-width="3.5" stroke-linecap="round" fill="none"/>
<path d="M356.2 70.4h0M358 70.6h0M359 68.6h0M448.6 35.9h0M459.3 32.5h0" stroke="#f04038" stroke-width="3.5" stroke-linecap="round" fill="none"/>
<path d="M362.6 69.3h0M386.4 60.2h0M387.7 59h0M389.7 59.9h0M441.1 38.8h0" stroke="#ffe860" stroke-width="3.5" stroke-linecap="round" fill="none"/>
<path d="M363.8 67.9h0M440.3 40.6h0" stroke="#ffe860" stroke-width="2.6" stroke-linecap="round" fill="none"/>
<path d="M367 67.3h0M390.8 58.2h0M404.1 52.8h0M409.1 52.5h0" stroke="#58e038" stroke-width="3" stroke-linecap="round" fill="none"/>
<path d="M368.4 66.5h0M383.8 62.3h0M385.3 61.8h0M392.2 57.2h0M436.8 41h0" stroke="#58e038" stroke-width="2.6" stroke-linecap="round" fill="none"/>
<path d="M369.8 65.8h0M407.7 53.2h0M410.4 51.6h0M413.8 51.4h0M427.2 46.4h0" stroke="#58e038" stroke-width="2" stroke-linecap="round" fill="none"/>
<path d="M371.3 65.1h0M428.6 45.6h0" stroke="#58e038" stroke-width="3.5" stroke-linecap="round" fill="none"/>
<path d="M372.9 64.9h0M415.2 50.6h0M422.9 48.7h0" stroke="#ffe860" stroke-width="3" stroke-linecap="round" fill="none"/>
<path d="M374 63.4h0M421.2 48.4h0M424.2 47.3h0M438.2 40.2h0" stroke="#ffe860" stroke-width="2" stroke-linecap="round" fill="none"/>
<path d="M405.8 52.9h0" stroke="#f04038" stroke-width="3" stroke-linecap="round" fill="none"/>
<path d="M417.7 48.2h0M450.1 35.3h0M451.8 35.5h0" stroke="#f04038" stroke-width="2.6" stroke-linecap="round" fill="none"/>
<path d="M419.4 48h0M453.2 34.5h0" stroke="#f04038" stroke-width="2" stroke-linecap="round" fill="none"/>
<circle cx="447.2" cy="81.5" r="1.2" fill="#f01818"/>
<circle cx="350.6" cy="72.8" r="1.3" fill="#ff4040"/>
</g></g>
<clipPath id="c4"><rect x="455.5" y="15.5" width="106.9" height="78.3"/></clipPath>
<g clip-path="url(#c4)">
<g filter="url(#bl)">
<path d="M523.5 62.8h0M491.6 85l0.9 0.4M461.6 59.6l0.5 0.3M507.3 82.1l0.1 -0.6M523.2 84.7l-0.7 0.2M479.7 62.7l-0.6 0.5M480 85l0.8 -0.1M463.1 78.8l-0.5 -0.1M514.7 79.7h0M488.7 55.7h0M484.9 78l-0.2 -0.6M500.8 87.9l0.2 -0.6M561.3 77l-1 -0.5M486.8 57h0M553.6 74.7l-1.4 -0.6M487.8 58.9h0M524 68.9h0" stroke="#2424f8" stroke-width="1.1" stroke-linecap="round" fill="none" opacity="0.82"/>
<path d="M490.2 63.2h0M497.8 89.8l-0.9 0.6M505.4 58.3l0.6 1M480.4 45.3h0M481.6 71.8l0.4 -0.5M551.8 68.9l0.8 1M473.6 44.4l0.3 0.8M507 59.6l0.3 -0.8M461.8 36.8l-0.9 0.8M517.9 74.1l0.2 0.6M467.4 39.5h0M501.4 87l-0.1 1.2M486.1 60.4l-1 0.9M518.8 62.2h0M492.6 59.9l-0.9 -0.6M490.3 86.2l0.8 0.5M543.5 77.5l-0.2 -0.6M514.9 71.2l1 0.2M470.1 45.6h0M551.7 71.4l-1 -1M490.5 54.4h0M511.3 72.6l0.5 0.8" stroke="#1010b8" stroke-width="1.7" stroke-linecap="round" fill="none" opacity="0.82"/>
<path d="M544.4 71l0.8 -1.4M471.1 37.8h0M558.2 76.3l0.7 -1.3M477.9 42.3h0M513.6 82.4l1.1 0.4M531.5 77.2l-0 0.9M517 68.8l-0.7 1M474.1 64.1h0M542.2 77.1h0M529.2 74.2h0M462.8 36.9h0M475.4 45.7l0.1 0.9M511.6 71.8l-0.3 -1.5M513 63.3l-0.2 0.7M503.3 63.3l0.2 -0.7M539.6 79.5l1.2 0.7M543.6 76.3h0M531.2 88.4l-0.1 -0.5M467.3 85.2l-0.7 1.3M523.6 81.2h0M520.9 66.9l-0.7 -0.2M556.7 77.8l0.8 -0.3M499.4 93.2l-1.1 -0.5M470.2 88.5l0.1 0.5M499.1 55.2l-1 0.3M523 88.6l0.4 -0.6M519.8 73.9l-0.9 -0M456 36.5l0.2 -1.1M467.9 40.5l0 1M466.4 47.5l-0.7 0.6M555.7 76.1l-1.3 0.1M544 74h0M557.6 79.2l-0 0.6" stroke="#1818e0" stroke-width="1.7" stroke-linecap="round" fill="none" opacity="0.82"/>
<path d="M486 55.2l-0.4 0.5M531.9 90.8l-0 0.6M525.9 70.2l0.9 -0.5M549.5 91h0M503.2 78.7l-0.8 1.1M462.7 40.4l0.9 0M489.5 63.2l0.3 -0.7M479.4 64.1l-0.5 1M479 59.8l0 1.1M509.6 90.6h0M468.5 43.8h0M468.1 92.9l-1 0.8M482.8 74.3h0M484.7 76.6l-0.5 -0.2M478.8 42.6l-1.3 0.1M485.9 55.5h0M473 73.9h0M460.7 82.5h0M530.4 86.2h0M461.7 92.6l0.2 -0.7M549.2 91.3h0M522 70.2h0M524.4 62.1l1.2 0.2M459.8 41.7l-0.6 1.2M473.6 60.5h0M490.9 56.3h0" stroke="#2424f8" stroke-width="1.7" stroke-linecap="round" fill="none" opacity="0.82"/>
<path d="M508.9 66.3h0M455.8 87.9h0M512.6 57.4l1.4 0.1M537.5 82.3l0.7 -0.5M521.3 88.2l0.6 0.2M518.7 87.9l-0.1 1.3M471.8 73l-0.2 1.4M466.9 84.2l0.4 -0.6M502.9 57.5l1.4 -0.4M535 71.9h0M488.8 68.4h0M487.3 65.5h0M471.1 72.1h0M481.2 69.8l-0.2 -1.5M519.5 59.7h0M501.2 86.1l-1.5 0.3M524.4 65h0M502 87.1l-0.8 -1.1M535.7 80.4l0.2 -0.6M489.4 50.9l0.1 1M483.7 46.9h0M470.5 65.2l-0.4 1.1M524.7 68.1l0.1 -1.1M555.7 67.9h0M470.7 84.4h0M515.6 74l-1.2 -1M467.8 68.6l-0.4 -0.4M488.9 66.5l1.1 -0.7" stroke="#1010b8" stroke-width="1.1" stroke-linecap="round" fill="none" opacity="0.82"/>
<path d="M544 72.7h0M469 47.9h0M528.9 68l0.7 -0.1M480.3 61.1h0M510.5 73.9l-1.6 -0.1M550.9 74.4h0M512.5 75l0.7 -0.7M494.6 63.8l-0.1 0.6M514.7 64.5l-0 -1.4M514.7 78.4l0.6 -1.2M482.4 45.9l-1.3 0.5M481.1 63.8l0.7 0.6M500.2 74.7h0M530 80l0.7 -0.1M546.4 72l1.1 0.1M515.4 85.5h0M491.6 52.4l-0.6 0.3M547.3 73.6h0M477.9 69.6l-0.6 1.4M477 72.2h0M477.5 46.1l0.9 0.3M529.6 81l0.2 1.4M532 68.2h0M471.1 80.9l-0.1 -0.5M502.4 57.8l1 -0.7M553.4 72.6l-0.3 -0.9" stroke="#1c1cd0" stroke-width="1.7" stroke-linecap="round" fill="none" opacity="0.82"/>
<path d="M486.3 48.8l0.9 0.1M464.8 87l-0.5 -0.2M461.2 38.1l-1.4 -0.8M550.3 77l0.1 -1.4M529.7 74.5l0.9 -1.3M524.5 70.5h0M535.3 68.9l1 -0.5M526.3 77.2l1.5 0.4M466.5 68.5l-1.3 0.8M501.3 61.2l-1.3 0.2M472.2 56.4h0M464 67.2h0M467.8 87.5l-0.7 1.2M486.4 50.4l1.2 0.3M518.5 86.9l-0.2 1M491.8 53.5l1.2 -0.2M464.8 92.9l-0.2 -0.5M458.3 59.4h0M480.6 61.6h0M481.8 69.9h0M462.6 90.4h0M487.6 58.4l-0.3 -1.4M560.5 74.9h0M517.3 72.2h0M528.9 72.9l0.8 -0.2" stroke="#1818e0" stroke-width="1.1" stroke-linecap="round" fill="none" opacity="0.82"/>
<path d="M481.9 75.6h0M525.8 75.9l-0.8 -0.3M532.7 93.2l-0.9 -0.9M525.2 64.1l-0.5 0.3M511.2 56.3h0M534.7 69.6h0M531.6 84.4l0.5 -0.2M524.7 63.8l-1 -0.4M461.2 33.2l0.8 0.7M513.5 83.1h0M525.8 86.1l-0.3 1M469.5 52l-0.2 -1.1M491.9 72.4h0M557 77.3h0" stroke="#1010b8" stroke-width="1.4" stroke-linecap="round" fill="none" opacity="0.82"/>
<path d="M534.3 89.4l-1.1 -0.5M487.6 53.3l0.5 -0.9M457.8 92.6h0M551.6 90.8h0M482.5 53.2l1.3 0.6M509.2 91.6l-1 0.4M560 91.4l-0.7 -0.6M470.1 68.5h0M548.3 84.5h0M523.4 82.6h0M521.6 89l-0.6 0.1M526.7 62.5l0.2 -0.6M469.2 39.3l-0.2 -0.5M501.4 59.7l0 0.9M533.2 71.3l0.6 0.7M531.9 86.8l0.4 1M486.1 48.5l0.3 -0.7M477.3 50.9h0M475.3 47.7l0.6 0.5M458.7 91l0.8 1.1M523 83.7l0.6 1.2M522.8 90.5l-0.4 0.7M511.5 60.1l0.7 0.1M474.3 55h0M555.1 71.5l-0.3 1.2M514.2 78.2h0M483.1 58.1h0" stroke="#1c1cd0" stroke-width="1.1" stroke-linecap="round" fill="none" opacity="0.82"/>
<path d="M513.6 57.5l-0.5 0M467.7 40.2l0.1 -1M562.1 84.6l0.8 1.2M492.6 62.9l-0.3 0.8M473.8 79.2l0.1 1.6M487.9 66.2h0M562.4 89.5h0M468.4 43.9l-1.2 -0.7M521 61.1h0M510.1 69.1l0.4 -0.7M535.1 90.3h0M469.8 45.9h0M472.1 43.9h0M539.8 84l-1.3 0M493.3 62.2h0M524.9 69.9l0.9 0.6M519.5 61.4h0M480.9 48.8l0.8 -1.1M484.1 79.5l-0.6 -0.6M516.7 67.3h0M538.6 87.7l0 1.4" stroke="#2424f8" stroke-width="1.4" stroke-linecap="round" fill="none" opacity="0.82"/>
<path d="M504.1 85.3h0M516.3 58l-0.1 0.7M536.2 78.5l0.5 0.3M463.2 92.9l1.1 0.7M528.5 66.3l0.5 1.4M539.9 88.6l-0.1 -0.6M539.1 72.6h0M539.5 73.1l-0.1 -1.2M501.7 54.4l0.7 1.2M478.7 77.2l-1.3 0.9M517.7 75.6l0.2 1M464.2 79.5l-1 -0.3M456 33.9l0.4 -1.1M491.7 50.2h0M477.4 42.5l0.5 -0M543.8 77.4l-0.3 0.5M473 83.5l1.3 -0.8M519.2 75.5l0.4 1.4M537.3 90.3h0M482.4 78l0.3 1.4M559.6 76.5h0M488.4 65.6h0M557.9 73.3l0.6 -0.7M518.5 58.8l1.1 -0.4M475.3 71.1l0.6 -0.8M498.6 70.5l-1.1 1M527.5 70.6l1.4 -0.3M473.9 90.5h0M476.5 46.6h0" stroke="#1c1cd0" stroke-width="1.4" stroke-linecap="round" fill="none" opacity="0.82"/>
<path d="M489.8 53l0.8 0.8M561.8 88.5h0M484.4 81.1l-0.2 -0.5M500.2 53h0M459 32.7h0M483.1 56.1l-0.2 -0.8M518.3 64.6l0.5 0.2M473.2 77.3l-0.9 0.1M482.1 44.7h0M468.6 89.9l0.7 -0.4M537.2 71.9h0M529.2 63.5l0.7 0.3M507.3 76.7h0M558.7 67.9h0M470.3 49.4l0.5 1.4M460.1 40.5h0M489.8 50.8h0M542.7 77.8l-0 -0.6" stroke="#1818e0" stroke-width="1.4" stroke-linecap="round" fill="none" opacity="0.82"/>
<path d="M453.8 31.3C454.8 31.5 457 31.6 459.5 32.4C462.1 33.3 466.1 34.9 469.4 36.5C472.6 38.2 477.5 41.3 479.2 42.2" stroke="#7a22b8" stroke-width="3.7" fill="none" stroke-linecap="round" stroke-linejoin="round" opacity="0.38"/>
<path d="M453.8 31.3C454.8 31.5 457 31.6 459.5 32.4C462.1 33.3 466.1 34.9 469.4 36.5C472.6 38.2 477.5 41.3 479.2 42.2" stroke="#a028c8" stroke-width="0.8" fill="none" stroke-linecap="round" stroke-linejoin="round" opacity="0.55"/>
<path d="M453.8 31.7h0M457 31.8h0M457.6 32.5h0M458.6 32.1h0M463.2 33.5h0M470.7 38.1h0M477.9 41.5h0" stroke="#a028c8" stroke-width="1.5" stroke-linecap="round" fill="none"/>
<path d="M455.3 32h0M462.5 33.1h0M463.8 33.9h0M464.6 34.2h0M466.1 34.8h0M470.8 36.3h0M476.7 40.4h0" stroke="#a028c8" stroke-width="1.3" stroke-linecap="round" fill="none"/>
<path d="M456.2 31.4h0M460.8 33h0M461.6 33h0M465.1 35.1h0M466.9 35h0M472 37.4h0M476 40h0" stroke="#a028c8" stroke-width="1" stroke-linecap="round" fill="none"/>
<path d="M459.3 32.5h0M468.7 36.7h0M478.5 42.1h0" stroke="#f02020" stroke-width="1.3" stroke-linecap="round" fill="none"/>
<path d="M468 36.3h0" stroke="#f02020" stroke-width="1.7" stroke-linecap="round" fill="none"/>
<path d="M469.5 36.8h0M477.2 41.2h0" stroke="#a028c8" stroke-width="1.7" stroke-linecap="round" fill="none"/>
<path d="M472.5 38.1h0M473.1 38.6h0" stroke="#f02020" stroke-width="1" stroke-linecap="round" fill="none"/>
<path d="M474.1 38.6h0" stroke="#f02020" stroke-width="1.5" stroke-linecap="round" fill="none"/>
<path d="M479.2 42.2C480.5 42.2 485.2 41 487.3 42.2C489.5 43.5 490.1 47.8 492.2 49.6C494.4 51.4 497.1 51.8 500.4 52.9C503.7 54 508 55.2 511.9 56.1C515.7 57.1 520 57.2 523.3 58.6C526.6 60 528.8 62.1 531.5 64.3C534.2 66.5 536.7 71.4 539.7 71.7C542.7 72 546.5 66.6 549.5 66C552.5 65.3 554.6 66.8 557.6 67.6C560.6 68.4 565.8 70 567.5 70.5" stroke="#7a22b8" stroke-width="5.2" fill="none" stroke-linecap="round" stroke-linejoin="round" opacity="0.38"/>
<path d="M479.2 42.2C480.5 42.2 485.2 41 487.3 42.2C489.5 43.5 490.1 47.8 492.2 49.6C494.4 51.4 497.1 51.8 500.4 52.9C503.7 54 508 55.2 511.9 56.1C515.7 57.1 520 57.2 523.3 58.6C526.6 60 528.8 62.1 531.5 64.3C534.2 66.5 536.7 71.4 539.7 71.7C542.7 72 546.5 66.6 549.5 66C552.5 65.3 554.6 66.8 557.6 67.6C560.6 68.4 565.8 70 567.5 70.5" stroke="#f01c1c" stroke-width="1.3" fill="none" stroke-linecap="round" stroke-linejoin="round" opacity="0.55"/>
<path d="M479.2 42.1h0M480.4 41.9h0M488.9 43.9h0M495.7 51.3h0M499.3 53.1h0M514.7 56.9h0M517.5 56.3h0M526.5 59.3h0M533.1 66h0M535.5 69.2h0M541.9 69.9h0M546.3 67.1h0M555.4 66.6h0" stroke="#f01c1c" stroke-width="2.5" stroke-linecap="round" fill="none"/>
<path d="M481.7 41.5h0M484.4 41.7h0M485.7 42.3h0M498.3 51.9h0M520 57.1h0M528 61.7h0M531.6 65.6h0M534 66.9h0M534.5 68.2h0M537 71.5h0M544.4 69h0M545.4 68.1h0M552.9 65.3h0M561.6 68.8h0M565.4 69.9h0" stroke="#f01c1c" stroke-width="1.7" stroke-linecap="round" fill="none"/>
<path d="M483.1 41.7h0M488.4 45.6h0M492.4 49.3h0M493.3 50.2h0M494.4 50.9h0M500.7 53.1h0M511 55.3h0M512.1 56.3h0M525.2 58.8h0M527.3 60.5h0M531 64.4h0M543.3 69.7h0M557.8 67.6h0M558.9 68.4h0" stroke="#f01c1c" stroke-width="2.9" stroke-linecap="round" fill="none"/>
<path d="M486.8 42.6h0M490.2 46.2h0M504.4 54.5h0M551.5 65.5h0" stroke="#ff40a0" stroke-width="1.7" stroke-linecap="round" fill="none"/>
<path d="M488.8 42.2h0M508.2 55.7h0M521.2 57.9h0M522.1 59.3h0M548.8 65.9h0" stroke="#ff40a0" stroke-width="2.2" stroke-linecap="round" fill="none"/>
<path d="M497.1 51.2h0M502 53.2h0M513.5 56.3h0M516.2 56h0M528.7 63h0M536.6 69.9h0M554.2 65.9h0M556.6 66.9h0M562.9 68.9h0M564.3 69h0" stroke="#f01c1c" stroke-width="2.2" stroke-linecap="round" fill="none"/>
<path d="M503.3 53.4h0M507.2 54.3h0M523.6 59.1h0M541.4 71.6h0M548.1 67.5h0" stroke="#ff40a0" stroke-width="2.5" stroke-linecap="round" fill="none"/>
<path d="M538.8 71.2h0M539.9 71h0M550.1 65.7h0M566.7 70.1h0" stroke="#ff40a0" stroke-width="2.9" stroke-linecap="round" fill="none"/>
<path d="M457.9 32.3L462.5 33.3" stroke="#b8f040" stroke-width="1.4" fill="none" stroke-linecap="round" stroke-linejoin="round" opacity="0.55"/>
<path d="M458 31.9h0M459.1 33.6h0" stroke="#b8f040" stroke-width="2.3" stroke-linecap="round" fill="none"/>
<path d="M460.7 33h0" stroke="#b8f040" stroke-width="1.8" stroke-linecap="round" fill="none"/>
<path d="M462.1 33.1h0" stroke="#b8f040" stroke-width="2.7" stroke-linecap="round" fill="none"/>
<path d="M487 41.4L489.3 43.4" stroke="#9cf040" stroke-width="1.3" fill="none" stroke-linecap="round" stroke-linejoin="round" opacity="0.55"/>
<path d="M487.3 41h0" stroke="#9cf040" stroke-width="2.2" stroke-linecap="round" fill="none"/>
<path d="M488.1 42.2h0" stroke="#9cf040" stroke-width="2.9" stroke-linecap="round" fill="none"/>
<path d="M489.2 43h0" stroke="#9cf040" stroke-width="2.5" stroke-linecap="round" fill="none"/>
<path d="M491.6 49L492.9 50.9" stroke="#e8e040" stroke-width="1.1" fill="none" stroke-linecap="round" stroke-linejoin="round" opacity="0.55"/>
<path d="M491.5 49h0M492.5 51h0" stroke="#e8e040" stroke-width="2.4" stroke-linecap="round" fill="none"/>
<path d="M491.9 50.1h0" stroke="#e8e040" stroke-width="1.8" stroke-linecap="round" fill="none"/>
<path d="M519.7 57.8L524.9 58.8" stroke="#40f090" stroke-width="1.7" fill="none" stroke-linecap="round" stroke-linejoin="round" opacity="0.55"/>
<path d="M520 56.2h0" stroke="#40f090" stroke-width="2.1" stroke-linecap="round" fill="none"/>
<path d="M521.4 57.8h0M522.9 58.7h0" stroke="#40f090" stroke-width="2.7" stroke-linecap="round" fill="none"/>
<path d="M524.5 59.3h0" stroke="#40f090" stroke-width="3.6" stroke-linecap="round" fill="none"/>
<path d="M556.3 67.3L559 68.2" stroke="#60f060" stroke-width="1.3" fill="none" stroke-linecap="round" stroke-linejoin="round" opacity="0.55"/>
<path d="M556.8 66.1h0M557.6 67.7h0M558.7 68.4h0" stroke="#60f060" stroke-width="1.7" stroke-linecap="round" fill="none"/>
</g></g>
<clipPath id="c5"><rect x="563.6" y="15.5" width="107.4" height="78.3"/></clipPath>
<g clip-path="url(#c5)">
<g filter="url(#bl)">
<path d="M656 64.9l-1.2 -0.2M616.2 76.2h0M618.8 71.7h0M594.3 56l-0.4 -0.5M601.4 84.5h0M580 89.9l0.1 0.9M665.2 80.6l0.5 0.2M633.6 57.9h0M567.3 71.6h0M633.8 62.4h0M613.9 50l-1 0.9M579.2 92.1l-1.2 0.9M649.9 63.6l0.4 -0.5M578.1 69.9l0.9 -0.1M609.8 64.2l-0.1 1.4M641.8 64l1 -0" stroke="#1818e0" stroke-width="1.4" stroke-linecap="round" fill="none" opacity="0.82"/>
<path d="M570.2 66l-0.7 -1M590.4 90.4l-0.6 0.2M608.2 91.3h0M628.1 56.9l1.2 -0.1M638.7 84.4l0.3 -0.5M585.5 56.5h0M637.4 74.1l-0.6 -0.6M575.7 65.7l0.8 -0.8M572 86.7l0.5 0.4M644.2 86.7l-0.1 -1.4M630.8 58.2l0.1 -1.3M608.1 91.7l-0.9 1M638.6 75l0.4 -0.7M588 92.9h0M582.6 90h0M567.1 73.2h0M613.1 60.1l0.9 0.8M600.5 82.6l-0.4 -1M663.9 79.6h0M642 84.3h0M596.2 61.3l0.7 0.4M613.9 49.8l1.1 -1.1M656.8 65.7h0M628.3 70.7l0.5 -0.4M590.9 90.9l-1 -1.2M661.2 71.4l-0 0.6M664.1 68.5l0.1 -1.6" stroke="#1010b8" stroke-width="1.1" stroke-linecap="round" fill="none" opacity="0.82"/>
<path d="M601.6 85.2l0.1 -1M594.6 82.2l-0.4 0.6M580.3 64.4l1.1 -0.9M613.8 81.2l0.4 0.6M665.5 82.7h0M595.6 65.6l0.5 -0.4M583 87.7l0.1 1.2M612.3 59.6l-0.6 0.6M653.2 86.9h0M651.1 62.8l-1.2 -0.4M568.1 67.8h0M601.7 48.8l-0.8 0.5M601.2 63.5h0M575.5 91.8l-0.5 -0.2M616.8 58.3l-0.5 0.2M618.6 67.5h0M612.4 78.4h0M624.5 72.7l0.6 -0.4M619.1 50.8l0.2 0.5M573.6 65.3l0.3 -0.5M603.8 83.6l0.4 -0.5" stroke="#1818e0" stroke-width="1.7" stroke-linecap="round" fill="none" opacity="0.82"/>
<path d="M656 87.1h0M629.7 60.4h0M649.6 88.4l0.5 -0.6M581.2 82.5l-0.3 -1.2M621.3 57.8h0M643.5 70.8l-0.5 -0.3M579.3 62h0M646.9 83.7h0M613.7 80.1h0M568.5 81.7h0M616.9 49.9l-1.4 -0M665.5 75.1h0M612.1 76.5l1.3 0.3M629.9 59l-0.9 -0.9M606 49.7h0M645.8 62.7h0M620.1 76.7l0.1 -0.7M578.1 69.7h0M614.8 78.3l-0.5 -1.2M659.7 91.6l-0.4 -0.9M621.4 54.1h0M665 68.9l0.6 -0.1" stroke="#1010b8" stroke-width="1.7" stroke-linecap="round" fill="none" opacity="0.82"/>
<path d="M622.6 70.5h0M633.7 78.3h0M573.4 80.8h0M651.2 79.5h0M660.4 84.4l0.3 1.1M656.9 67.4l0.2 1.3M636 65.4l1.3 -0.8M565.7 74.7l-0.5 -1.2M603.1 47.3h0M649.1 66.5l-0.8 0.3M630.9 62.2h0M638.2 76.7l0.7 -0.1M620.9 51.6l0.3 -1.1M649.5 89.9l0.6 -1M565.4 69.9h0M598.7 67.6h0M630.7 57.8l-0.5 0.4M670.3 72.9l-0.8 0.7M569 83.2h0M607.5 56.9l-0.5 0.4M626.5 54.4l0.5 -0.5" stroke="#1c1cd0" stroke-width="1.7" stroke-linecap="round" fill="none" opacity="0.82"/>
<path d="M596.2 58.6h0M568.7 91.7l0.7 0.5M631.6 58.6l-1.4 0M636.7 85.8l1.1 -0.8M588.2 59.1l0.4 -0.5M586.1 91.6l-0.2 1.2M609.3 67.1h0M598.6 72.6l0.5 -0.3M569.3 73.5l0.4 0.7M616.2 51.4l-0.5 1.1M628.6 65.9h0M594.3 51.7l1.2 -1M659.4 93.4l0.4 1.2M597.5 84.2h0M666.5 76.7l0.5 0.2M596.1 59.6h0M602.2 73.3l1.5 -0.4M652.9 87l0.7 1.3M602.1 89.3l-0.6 0.4M610.1 75.2h0M642.3 84.4l-0.2 -1.5" stroke="#1818e0" stroke-width="1.1" stroke-linecap="round" fill="none" opacity="0.82"/>
<path d="M615.7 71.4l-0.2 -1M668.2 76h0M601.6 84.3h0M598.1 68.9h0M605.3 88.8l-0.2 0.8M602.5 51.8l-0.8 -0.5M633.1 60.2h0M643.2 86.2l-0.6 -0.3M612.8 59.4l0.5 0.5M607.7 49.1h0M632 64.4l0.1 -0.7M610.8 58.9l0.7 -0.1M658.6 91.8h0M634.4 77.8l-0.8 0.5M598.9 55.6l0.3 1.4M590.5 57.9l1.1 0.2M616.6 58.6l-0.9 -1.3M668.5 86.2h0M594.4 53.8h0M652.5 84l-1.1 -1.2" stroke="#2424f8" stroke-width="1.1" stroke-linecap="round" fill="none" opacity="0.82"/>
<path d="M626.8 64.9h0M593.6 56.3l-0.9 0.9M623.6 72.9h0M586.4 89.7h0M649.4 93.2h0M667.6 83.8l-1.4 -0.1M584.7 60.8l1 -0.7M602 89.1l1.3 0.3M567.7 84.9h0M659.2 67.5l1.4 0M616.9 73.8l0.5 0.2M567.7 84.9l-0.8 0.5M655.7 80.7h0M570.3 77.2h0M646.1 65.2l-0.7 0.8M609.7 61.7h0M613.3 62.1l0.9 -0.5M630.5 59.3h0M615.5 76.1h0" stroke="#2424f8" stroke-width="1.4" stroke-linecap="round" fill="none" opacity="0.82"/>
<path d="M603.5 90.1l-0.1 -1.4M671 86.1h0M596.1 87.7h0M605 50h0M617.3 61.9l-1 0.8M591.9 54.9l0.7 0.5M621.5 88.7l0.3 1M595.9 64l0.6 1.1M565.7 90.7h0M632.5 58.8h0M572.9 69.9l1 -1.2M566 71.7l-0.9 0.2M615.2 62.6l-0.7 0.7M585.9 93.2l1.1 0M598.4 81.9l-1.2 0M617.3 84.7l0.7 -0.8M585.5 57.4h0" stroke="#1c1cd0" stroke-width="1.4" stroke-linecap="round" fill="none" opacity="0.82"/>
<path d="M588 58.3h0M632.9 77.5l0.7 1.1M615.4 64.7l0.5 -0.4M574.8 93.1l-0.9 -0.9M664.8 78.1l-0.7 0M623.4 52.3l-0.6 -0.6M630.2 54.6l1.1 0.4M632.1 79.8l0.9 0.9M589.8 60.7h0M580.2 62.5l0.4 -0.7M587.5 57.4l-0.6 -1.3M627.7 71.6l0.9 0.8M576.5 65.8h0M571.5 65.9l-0.4 -1.5M608.8 48l0.5 -0.1M610.4 49.6h0M670.8 81.5h0M583.7 73.6l0.5 -0.3M620.1 50.9h0M616.6 72.4l1.1 -0.8" stroke="#1c1cd0" stroke-width="1.1" stroke-linecap="round" fill="none" opacity="0.82"/>
<path d="M564 77.3l-0.2 0.7M600.4 57.6l-0.5 -0.5M637.4 61.9l1.2 -0.4M625.8 70.2l0.3 -0.6M651.1 63.5h0M663.5 72.9l-1 0.6M658.2 84.1h0M622.3 52.1h0M592.6 52.2l-0 0.6M644.3 76.3h0M602.2 51.6l-0.9 -0.6M633.3 93.7l-1.1 0.2M619.8 58.4h0M566.5 84.2l1.1 0.4M617.7 64.4h0M610.9 52.1h0M564.6 79.5l0.1 -1.2" stroke="#1010b8" stroke-width="1.4" stroke-linecap="round" fill="none" opacity="0.82"/>
<path d="M620.7 68.3l-0.6 -0.2M632 80.1h0M569.9 67.2h0M576.7 83.5h0M586.4 58.5l0.6 1M604.7 91.2h0M634.2 82.8h0M564.5 71.3l-0.3 0.5M625.9 70.2l0.7 -0.5M649.9 80.1l0.5 -0.1M604.7 57.4l0.7 0.7M644.8 78.1h0M615.4 63.7l-1.1 0.9M644.5 60.3h0M669.7 84.5l1.1 1M656.3 68.3l-0.7 0.5M670.9 89.2l-0.6 -1.4M616.7 61.2l1 0.8M578.3 66.7h0M590.3 86.8l0.5 1M584.8 57.5h0M610.5 48.5h0" stroke="#2424f8" stroke-width="1.7" stroke-linecap="round" fill="none" opacity="0.82"/>
<path d="M669 81.5h0M656.1 90.2h0M651.3 81.1h0M667.3 87.2h0M665.3 82.1h0M644.1 77.1h0M645.8 83.1h0M665.2 79.8h0M657.2 84.9h0M659.3 87.5h0M655.6 81h0M664.9 77.1h0M655.7 81.7h0M646.1 81h0" stroke="#e02020" stroke-width="1" stroke-linecap="round" fill="none"/>
<path d="M562 72.2C563.4 71.1 567.5 68.1 570.2 66C572.9 63.8 575.6 61.5 578.4 59.4C581.1 57.4 583.8 55.3 586.5 53.7C589.3 52.1 592 50.8 594.7 49.6C597.4 48.4 600.4 47.3 602.9 46.7C605.3 46.1 607 45.9 609.4 46C611.9 46.1 615.1 46.4 617.6 47.2C620 47.9 621.1 48.8 624.1 50.4C627.1 52.1 631.2 55.1 635.6 57C639.9 58.9 646.2 60.4 650.3 61.9C654.4 63.4 656.8 64.3 660.1 66C663.4 67.6 667.2 70.2 669.9 71.7C672.6 73.2 675.4 74.4 676.5 74.9" stroke="#7a22b8" stroke-width="6.1" fill="none" stroke-linecap="round" stroke-linejoin="round" opacity="0.38"/>
<path d="M562 72.2C563.4 71.1 567.5 68.1 570.2 66C572.9 63.8 575.6 61.5 578.4 59.4C581.1 57.4 583.8 55.3 586.5 53.7C589.3 52.1 592 50.8 594.7 49.6C597.4 48.4 600.4 47.3 602.9 46.7C605.3 46.1 607 45.9 609.4 46C611.9 46.1 615.1 46.4 617.6 47.2C620 47.9 621.1 48.8 624.1 50.4C627.1 52.1 631.2 55.1 635.6 57C639.9 58.9 646.2 60.4 650.3 61.9C654.4 63.4 656.8 64.3 660.1 66C663.4 67.6 667.2 70.2 669.9 71.7C672.6 73.2 675.4 74.4 676.5 74.9" stroke="#f0202c" stroke-width="1.7" fill="none" stroke-linecap="round" stroke-linejoin="round" opacity="0.55"/>
<path d="M562 72.2h0M584.7 55.8h0M585.3 53.7h0M591.6 51.4h0M605.5 46.7h0M616.9 46.7h0M620 48h0M655.7 64.7h0M664.7 68.8h0M666.7 68.7h0M667.1 71.1h0M674.9 74.2h0" stroke="#f0202c" stroke-width="2.7" stroke-linecap="round" fill="none"/>
<path d="M563.1 70.9h0M568.7 67.3h0M572.9 64.7h0M580.4 58.2h0M592.9 50.2h0M595.6 48.2h0M599.6 49.5h0M600.6 47.4h0M615 47.8h0M621.3 49.1h0M622.9 49.7h0M638.8 58.3h0M641.8 59.9h0M648.2 61.3h0" stroke="#f0202c" stroke-width="3.2" stroke-linecap="round" fill="none"/>
<path d="M564.2 69.6h0M567.7 68.8h0M570 66.3h0M575.2 62.2h0M576.5 61.2h0M577.2 59.5h0M581.4 56.8h0M590.2 52.3h0M594.6 50h0M598 49.6h0M603.5 45h0M607 45.5h0M608.7 46.7h0M610.4 45.6h0M625.4 51.9h0M631.7 54.2h0M635.9 56.7h0M640.4 58.7h0M650 61.4h0M661.8 67.3h0M663.4 67.6h0M676 75.7h0" stroke="#f0202c" stroke-width="3.6" stroke-linecap="round" fill="none"/>
<path d="M571.6 65.7h0M587.2 53.6h0M618.6 47h0M624.3 50.4h0M637.4 57.3h0M643.2 60.9h0M668.5 72.1h0M672.1 72.3h0M673.5 73.3h0" stroke="#f0202c" stroke-width="2.1" stroke-linecap="round" fill="none"/>
<path d="M573.4 62.7h0M632.7 55.8h0" stroke="#ff38a0" stroke-width="2.7" stroke-linecap="round" fill="none"/>
<path d="M588.3 52.1h0M602.2 46.8h0M628.7 52.7h0M634.1 56.7h0M644.8 61.1h0" stroke="#ff38a0" stroke-width="3.6" stroke-linecap="round" fill="none"/>
<path d="M627.7 51.3h0M657.4 65h0" stroke="#ff38a0" stroke-width="3.2" stroke-linecap="round" fill="none"/>
<path d="M630 53.9h0M646.8 60.2h0M659 65.5h0" stroke="#ff38a0" stroke-width="2.1" stroke-linecap="round" fill="none"/>
<path d="M571.8 63.3C573.4 62.1 577.8 58.3 581.6 55.8C585.4 53.3 592.5 49.6 594.7 48.3" stroke="#f02030" stroke-width="1.3" fill="none" stroke-linecap="round" stroke-linejoin="round" opacity="0.55"/>
<path d="M571.5 62.9h0M575.6 59.6h0M578.6 57h0M580.7 57.7h0M585.7 53.3h0M589.9 50h0M591.6 50.3h0M592.2 48.6h0M593.6 48.6h0" stroke="#f02030" stroke-width="1.7" stroke-linecap="round" fill="none"/>
<path d="M572.8 62.5h0M578 58.4h0M581.4 56.4h0M583.3 54.5h0M588.9 51h0" stroke="#f02030" stroke-width="2.2" stroke-linecap="round" fill="none"/>
<path d="M574.3 62.2h0M577.1 59.4h0M581.9 54.8h0M587.6 51.2h0" stroke="#f02030" stroke-width="2.9" stroke-linecap="round" fill="none"/>
<path d="M584.6 54h0M586.9 52.7h0" stroke="#f02030" stroke-width="2.5" stroke-linecap="round" fill="none"/>
<path d="M633.9 54.5C635.6 55.1 640.9 56.8 643.8 57.8C646.6 58.8 647.3 58.7 651.1 60.4C654.9 62.1 664.1 66.8 666.6 68.1" stroke="#f02030" stroke-width="1.5" fill="none" stroke-linecap="round" stroke-linejoin="round" opacity="0.55"/>
<path d="M634.1 54.1h0M637.1 54.8h0M650.1 59.7h0M654.2 61.8h0M658.4 63.8h0M665.1 67.6h0M666.9 67.5h0" stroke="#f02030" stroke-width="2.9" stroke-linecap="round" fill="none"/>
<path d="M635.6 54.3h0M638.2 56.2h0M641.2 57.1h0M644.3 57.6h0M647 59.1h0M648.5 59.4h0M651.4 60.4h0M652.8 61.3h0M655.1 63.6h0M656.5 64.1h0M659.4 65.1h0M662.9 65h0M663.8 66.6h0" stroke="#f02030" stroke-width="2.5" stroke-linecap="round" fill="none"/>
<path d="M639.2 58.2h0M645.9 57.6h0" stroke="#f02030" stroke-width="2" stroke-linecap="round" fill="none"/>
<path d="M661.2 65h0" stroke="#f02030" stroke-width="3.4" stroke-linecap="round" fill="none"/>
<path d="M605.8 46L613.7 47" stroke="#40f0c0" stroke-width="1.2" fill="none" stroke-linecap="round" stroke-linejoin="round" opacity="0.55"/>
<path d="M605.9 45.2h0M608.2 46.4h0" stroke="#40f0c0" stroke-width="2.3" stroke-linecap="round" fill="none"/>
<path d="M609.5 46h0M613 47.3h0" stroke="#40f0c0" stroke-width="2.6" stroke-linecap="round" fill="none"/>
<path d="M610.7 45.7h0M611.8 46.6h0" stroke="#40f0c0" stroke-width="2" stroke-linecap="round" fill="none"/>
<circle cx="662.6" cy="83.6" r="0.9" fill="#e8d030"/>
<circle cx="638" cy="67.6" r="0.8" fill="#e8d030"/>
<circle cx="604.2" cy="52.2" r="0.9" fill="#ff5040"/>
</g></g>
<clipPath id="c6"><rect x="21.8" y="95" width="108" height="82.1"/></clipPath>
<g clip-path="url(#c6)">
<g filter="url(#bl)">
<path d="M20 94.2L134.5 94.2L134.5 181.7L20 181.7ZM21.6 104L36.4 111.4L52.7 121.2L67.4 129.3L72.6 134.2L64.1 140.8L58.4 147.3L60.9 155.5L69.1 157.9L82.1 153.9L93.6 150.6L106.7 149L118.1 142.4L119.7 131L114.8 117.9L108.3 108.1L98.5 100.7L85.4 102.4L75.6 97.5L74 94.2L21.6 94.2Z" fill="#020228" fill-rule="evenodd" filter="url(#bh)"/>
<path d="M23.3 108.7h0M118.4 109.1h0M84.1 163.5l0.8 0.3M40 125.5l0 -1.2M118.5 110.7l0.2 1M71.8 164.6l0.5 -0.9M58.9 156.4l0.5 -0.4M36.7 151l-0.8 0.7M111.6 174.2h0M73.7 165.7l0.7 -0.2M128.8 168.3l-1.2 -0.1M88.2 166.5l1 -1M26.1 174l-0.4 0.6M122.1 114.1l0.6 0.9M63.6 168h0M127.9 139.9h0M94.1 99.7l-0.6 -0.2M99.8 162.5l0.2 1.4M124.6 175.9l-0.3 -0.4M25.5 110.6l1.5 0.1M126.5 134.6l1.1 -0.7M123.2 100.5h0M47.1 132.7l-0.5 -0.8M77.5 163.7h0M36.1 125.2l-0 -0.5M31.3 150.9h0M121.6 116.6l-0.5 -0.7M109.3 149.8l0.4 -0.3M121 125.1h0M84.7 155.4l-0.5 -0.1M38.8 122.1l-0.3 -0.8M49.1 174.3l-0.1 0.7M115.6 151.9h0M38.3 132.1h0M27.3 156.1l0.7 -0.3M83.2 95.9h0M124.6 110l1.4 0.1M47.1 166.4h0M55 131.8l-0.5 -0.4M41.2 132.6l0.1 -0.6M65.2 128.4h0M81.9 174.6l-0.5 0.3M39.3 126.9h0M53.5 169.5h0M53.8 124.4h0M96.2 100.9l-0.3 -0.5M123.5 159.8l-0.8 -0.9M87.8 162.1l-0.7 0.9M58.9 176.6h0M128.3 138.9l1.5 -0.3M24.5 149.6l-1 0.2M57.7 156.4h0M27.2 118.2l-0.6 -1.3M27.5 147.3l-0.3 1.1M65.2 136.1l0.3 -0.8M124 152.9h0M67.8 175.8h0M105.4 168.4l0.7 -0.5M124.8 138.8h0M120.7 134.8l0.8 0.6M25.6 114l-1.1 -0.7M52 130.1h0M122.5 122.9l0.6 0.6M46 128.1h0M62.5 156.7l0.3 1.4M113 103.5l-0.2 0.7M129.7 143.1h0M68.7 165.6l0.5 -0.6M46.2 137.2l-1.2 0.8M110.6 154.1l0.6 -0.7M88.5 96.7l1.1 -1.1M82.5 99.1h0M97 164.2l0.4 1" stroke="#3050ff" stroke-width="1.4" stroke-linecap="round" fill="none" opacity="0.82"/>
<path d="M111.5 158.2l1.1 -0.5M40.5 115.5l0.3 -1.5M105.3 168.8l0 0.7M42.1 131.1l-0.5 -1.4M127.8 150.4l0.9 0.2M80.4 164.2l0.6 -1.4M33.8 118l0.8 -0.9M110.8 158h0M100.6 167.9l-0.3 0.6M56.6 161.5h0M87 100.8h0M105.2 97.2h0M39.1 171.6h0M129.5 147.4l0.8 1M83.2 159.7l-0 1M126.5 139.9h0M40.1 164.8l0.5 -0.2M127.1 155.1h0M24.8 110.4l-1.5 0.4M45.4 140.7l0.3 -0.9M49.3 122.9h0M120.2 118.2h0M119 155.9l-0.4 0.5M64.1 165.8l1.2 -0.5M96.7 153.8l0.8 -0.1M123.7 159.8l1.1 -0.3M69.1 132.6h0M72.6 163.1l-1 0.1M55.5 132.3h0M82.2 164.3h0M118.6 113.3h0M47.8 129.5l0.4 1M44.2 160.7h0M114.1 157.9l0.6 0.6M118.6 173.1h0M43.9 134.4l0.8 1M92.5 168.7h0M123.8 109.9l0.1 0.5M121 153.9h0M38.1 139.8l0 -0.8M129.2 143.5l-0 -0.9M38.8 170.1h0M70.4 135.8h0M108.8 154.7h0M49.1 150.7l0.3 -0.8M81.3 163.2h0M46.6 152.8l-0.3 0.5M127.3 107.5l0.8 -0.6M89.3 159.3h0M34.5 140.4l1.4 0M90.2 164l0.6 1.5M87.6 164l-0.7 -1.3M49.4 135.3l-0.3 0.7M44.3 126h0M57.8 126.2h0M114.5 104.4l0.9 0.9M58.8 136.4h0M61.7 175.2l1 0.2M42.1 127.4l0.9 0.4M53.9 129.6h0M93.1 97.5l-1.5 0.1M61.4 160.9l1.4 -0M126.6 150.1h0M122.5 174.8l0.5 -0.9M39.3 132.2l0.7 0.9M92.2 97.4h0M42.4 139.3l-0.5 0.8M56 156.3l0.6 -1.4M64.6 173.3h0M121.2 161h0M42.1 125.7h0" stroke="#2424f8" stroke-width="1.4" stroke-linecap="round" fill="none" opacity="0.82"/>
<path d="M57.9 153.6l-0.9 0.5M41.9 122.8h0M121.9 158.8h0M43.8 155.7h0M120.7 127.7h0M40.9 126.8h0M79.3 156.5l1.1 0.8M112.1 103.4l0 1.5M36.7 160l0.5 -0.3M121.5 139.5l0.2 -1.5M49 169.4l-0.6 -0.7M123.9 161.7l-0.7 0.7M77.4 175.6l-0.9 0.9M44.3 120.8h0M74.1 164.7l-1.1 1.1M102 102.5l1 -0.3M58.5 176.2l-1.3 -0.3M48.2 130.7l-0.8 -1.3M120.3 128.3h0M33.1 138.7l-1.1 0.2M126.8 165.4l1.3 -0.7M65.6 138.5l-0.9 0.8M99.2 152.4l-0.4 -0.3M60.5 141.2l-1.4 -0.1M62.8 137.3l0.5 0.9M24.3 137l-0.7 0.3M69.4 132.3l-0.3 0.6M43.5 146.5h0M25 166.3l1 -0.7M117.3 166.4l-1.4 -0.6M51.6 177l0.4 -0.3M98.3 95.9l-0.6 0.5M118.8 159.1l-0.6 1M41.8 142.7l0.5 -0.7M23.8 166.9l1 0.2M121.5 123h0M119.7 144.4l0.6 0.1M50.9 168.4l0.8 0.4M64.2 173.5h0M129.1 105.7l1.2 0.8M118.6 116.5l0.3 -0.6M47.1 150.8h0M32.5 121.6l0.1 1.3M66.3 162.8l-1.5 0M108.6 156.7h0M26.2 143h0M23 106.5l-0.7 -0.6M109.3 149.3l0.9 1.2M40 118.9h0M123.7 132.7l-0.6 1.2M35.4 137.2l-0.7 -1.3M55.2 128.5l-1.5 -0.2M118.2 146.3h0M124.1 165.2l0.4 0.9M116.2 165.2l-1.3 -0.5M120.6 151.8l0.6 1.2M46.5 155.5l-0.1 -1.3M65.3 137.2l1.3 -0.1M56.5 170.7l-0.5 -0.5M60.1 154l0.5 -0.2M47.4 124.5h0M42.9 119.6l-0.9 1.2M59.1 159.9h0M41.8 157.7l1.3 -0.4M124.7 118.2h0M59 171.6l-0.1 1M38.7 158.7h0M51.9 130.3h0" stroke="#3050ff" stroke-width="1.7" stroke-linecap="round" fill="none" opacity="0.82"/>
<path d="M41 134.5l1.4 0.5M58.7 124.8l1.1 -0.8M64.5 167.3l-0.9 -1.2M55.4 166.3h0M99 171.5l-0.2 -1.4M37.2 153.6l1.3 -0.8M68 166.9l-0.9 1.3M24.7 115.4h0M120.4 158.1h0M123.2 111.8l0.5 -0.6M91.2 173.4l-0.1 -0.9M33.9 136.4l-1.2 0.5M114.8 103.4l1.4 -0.7M71.4 167.3l-1.2 0.7M128.4 141.4l-0.9 1.1M107.6 106.5h0M74 160h0M75 163.9l-0.4 -0.3M23.7 110.9l-0.5 -0.7M122.7 95.2l-1.2 0.4M121 151.2l-0.9 -1M25.5 117.5l-0.1 -1M54.9 148.5l0.7 0.9M75.1 159.1l-0.3 1.2M113.6 102.2h0M33.9 161.2l-0.5 0.6M67.3 176.7h0M119.2 120.3h0M46.9 143.3l0.4 1M100 151.3h0M94.8 176.6h0M120.4 131.6l-1 0M36.1 124.2l1.6 -0M41.3 115l-1.5 -0.5M31.7 144.5l-0.4 0.7M125.3 126.2h0M46.9 162.9l-0.7 0.4M23.2 109.7l0.1 0.6M120.9 105.4h0M32 122.2l-0.6 -0.4M57.9 140.5h0M31.2 173.8l0.2 -0.8M37.6 112.3l0.6 -1.1M107 166.4l-0.4 -1.2M64.8 137.3l-0.6 -1.4M44.3 147.6l-0.4 -1.1M105.5 173h0M71.8 166l1.1 0.7M77.5 160.1h0M108.5 170.5h0M60.5 141.3h0M112.6 163.8h0M45.6 127.4l0.2 0.8M68 158.6l0.9 -0.6M57.7 147.9h0M125.1 169.8l-0.1 0.8M126.2 106.9h0M114.1 168.3l-0.8 1M40 167h0M60.5 159.9l-1.4 -0.5M80.5 156.5l-1 -0.4M28.8 137.8h0M107.4 160.9h0M50.1 168.7l-0 -0.8M31.2 135.2h0" stroke="#1c1cd0" stroke-width="1.7" stroke-linecap="round" fill="none" opacity="0.82"/>
<path d="M42.3 134.6l0.3 -0.7M114.7 99.6l1.3 -0.1M27.3 141.7h0M50.9 151.7h0M60.7 174.4l1.2 0.3M122.2 114.3l0.6 0.7M64.3 128.7l1.2 0.9M44.9 141.8h0M122.3 134.7l1.5 -0.1M106.9 166.8h0M33.5 124.4l1 -0.4M34.4 114.6l-0.8 1M58.8 126h0M37.1 123.8l-0.5 0.8M125.4 120.2l0.9 -0.2M63.7 135.7l0.8 -0.6M32.5 133.4h0M59.5 141.2h0M22.2 176.2l0.2 -0.7M46.9 165.3h0M84.5 157.1l-1 0.7M57.5 164.8l-0.4 0.4M73.4 161.7l0.3 1.2M34.6 152.4h0M124 136.1l-1.3 -0M56.2 146.1h0M28.2 131l-0.4 -0.4M121.9 138.7l-0.5 1M117.3 159.4h0M129.6 135l0.1 -0.6M61.6 169l0.5 -0.3M33.4 149.8l-0.8 0.9M77.1 171.7h0M56 149.8h0M62.2 126.6l-0.5 -0.3M114.5 101.9l1 -0M30.7 150.2l0.5 -1.4M44.6 140.7l-0.6 -1.4M123.2 135.2h0M109.7 96.2l0.1 -1.3M84.4 166.5l1.1 -1M53.6 169.4h0M48.1 147.1l0.3 1.5M104.2 175.8l0.4 -1M101.6 159.8l-0.6 -0.7M37.5 147.3h0M61.1 161.4l0.7 0.4M91.5 174.5h0M84.1 98.4l-0 -0.7M27 144.3l1.5 -0.3M56.3 154.5l-0.9 0.5M124.6 116.6h0M68.3 162.3h0M34.6 147.7l0.9 -1.2M42.2 119.1l-1.2 -0.6M126.1 127.4l0.2 0.8M53.5 125.8h0M123.9 176.4h0M113.5 101.5l-1.1 -0.9M36.8 121h0M119.3 126.9l-0.4 -0.4M49.4 168.5h0M113.7 175.2h0M26.2 109.8h0M54.8 151.6l-0.6 -0.3M81.5 164.3l0.1 0.6M88.4 172.3h0M88.1 160.7l-0.8 1M31.2 156.4h0M58.5 166.6l-0.1 -0.5M114.8 117.7l0.9 0.5M48.1 168.5h0M29.1 161.4l-0.2 -1M27.2 176.6h0M68 164.6l1.1 0.6M22.7 108.6h0M43.5 128.4l0.1 -0.5M53.4 140.1h0M66.6 163.1l1.2 -0.3" stroke="#1010b8" stroke-width="1.7" stroke-linecap="round" fill="none" opacity="0.82"/>
<path d="M47.7 134.2l0.3 0.5M38.5 133.4l-0.2 0.5M99 173l-1.5 -0.1M61.9 163.1h0M100 100h0M56.6 126.5h0M24.8 171.1h0M111.2 149.3h0M47.3 166.3h0M46.9 149.7h0M125.5 108.2l0.4 -0.4M126.1 121.3l-0.4 0.8M114.1 156.3h0M110.5 98.5l-0.3 -1.5M65.2 129.4h0M88.1 155.8l-0.7 0.2M70.9 170.9l-1 0.4M121 157.5h0M105.4 171.5l1.4 0.1M23.9 141.5h0M109 159.2h0M66.3 129.1h0M120.8 164.1l-1 0.7M22.5 106.8l-0.5 0.7M120.3 174.9h0M46.2 156.6l-0.5 -0.8M41.7 125.3l0.9 -0.6M57.5 131.5l-1.1 0.2M27.6 145.4l0.9 -0.5M122.6 130.6l0.9 -0.2M24.6 171.9l-0.3 -1.5M46.5 124.4h0M119.2 155.7l0.2 0.6M122.6 99.3l-0.5 -0.1M50.9 126.3h0M62.6 142.5h0M45.4 157.5l-0.1 1.2M122.4 97.7l0.4 -0.6M112.1 146.1l0.5 -0.1M116.5 113.2h0M32.1 159.8l0.7 -1.3M124.8 169.7h0M24.4 158.5l0.9 -0.9M117.6 155.6l-0.4 -0.7M121.3 122l-0.2 0.5M125.4 167.6l-0.1 1.4M112.8 112l0.1 -1.4M122.9 137.8h0M34.4 141.7l1.5 0.6M83.9 158.6l-0.9 -0.6M42.3 141.2l-0.3 1.3M72.6 158.2l0.9 0.4M109.8 170.8l0.8 0.9M62 140.2l0 0.7M128.1 113.2h0M34 138.7l0.7 -0M58.6 125l-1.4 -0.7M73.7 169.7l1.2 1M106.3 165.9l-0.9 -0.9M123.6 120.4l0.3 0.4" stroke="#1818e0" stroke-width="1.7" stroke-linecap="round" fill="none" opacity="0.82"/>
<path d="M64.2 135.7h0M47.1 128.2l-0.3 0.6M86 176.7l0.4 -1.2M26.6 132.5l0.7 0.2M90 156.5h0M116.6 158h0M114.7 147.3h0M93.7 154l-0.4 -1.3M57.5 148l0.4 -0.8M111.7 166l0.8 -0.5M121.5 129.1h0M57.1 171.7l-0.4 -1M55.4 165.8h0M39.7 129.4l-1.3 0.2M92.1 151.8h0M31.7 164.5l0.9 -0.5M54.7 150.8l-1 0.8M123.6 108.8h0M113.3 103.3l0.2 -0.5M114.9 176.1l0.6 0.5M108.7 151.1l0.8 -0.2M84.3 175h0M32.1 154.3h0M74 160h0M83.3 157.9l1.2 -0.3M40.4 123.2l-0.5 0.6M48.6 127.7h0M43.3 152.9h0M122.5 159.5h0M129.7 159.5l-0.6 1.3M59.8 155.9h0M36.8 166.2l0.7 0.2M128.6 147.6h0M119.3 127.7h0M28.4 122.2h0M33.8 158.2l0.6 -0.6M22.7 111.4l0.2 1.4M57.5 129.2l-0.2 -1.2M48.3 124.2h0M129.4 95.6l1.4 0.4M72.1 162.9l1.3 -0M116.1 143.6l-1.2 -0.1M59.1 167.1l-0.2 0.5M123.1 151l-0.5 -0.2M102.5 167.1l0.4 -0.4M94.5 101.1h0M112.6 109.1h0M54.6 150.9h0M92.2 162.1l0.3 1.5M79.2 156.2l1.1 0.7M126.6 166.8h0M39.4 162.9l0.7 0.9M46.2 137h0M63.1 130.2h0M26.2 157.8l-0.7 -0.8M52.9 149l0.4 0.7M109.5 148l1 0.1M52.3 144.3l1.5 -0.5M55.3 128.4l-0.8 -0.4M36.7 117.3h0M120.3 121.3h0M31.4 175.2h0M51.2 128.1h0M44.7 126.7l0.9 0.6" stroke="#1c1cd0" stroke-width="1.1" stroke-linecap="round" fill="none" opacity="0.82"/>
<path d="M50.2 124.3l-0.9 1.1M63 163.9l-0.6 1M100.8 152.1l1 0.7M86.8 99.9l-1.4 -0.1M30.7 166l0.8 -0.3M110.3 162.5l0.2 -0.8M44.5 151.2h0M121.2 165.6h0M69.2 166.8h0M93.1 100.8l-0.9 -0.3M52.7 134.9l-0.2 -0.9M47.1 137.6h0M76.1 174.3h0M59.1 139.7l-0.6 -1.1M64.9 134.8l-0.7 -0.2M120.8 142.5l-0.8 -0.6M129.4 99.9h0M113.4 158.3l0.7 0.9M41.6 115.9l0.1 -0.6M114.8 98.3l-0.5 -1.1M126.9 104.4h0M121.8 138.6l-0.5 -1M82.4 166.4l0.1 -0.6M67.7 161.7h0M80.2 99.1h0M28.9 175.3h0M104.5 175.4l-0.5 0.2M123.1 132.7h0M47 138.4l0.9 0.8M31.3 118.5h0M50.4 129.9h0M43.2 116.4l-1 0.6M35.1 148.9l0.2 -0.6M34.5 117.2l1.4 -0.1M123.1 146.4l-0.8 -0.2M63.9 140.1h0M59.2 166l0.8 -0.3M127.1 158.8l1.1 -0.3M123 127.2h0M51.7 165.1h0M36.8 176.7l1.2 0.9M124 172.1l-0.6 -0.2M116.6 159.8h0M129.3 123.1l0 -0.8M37 113.7l-1.1 -0.7M75.2 96.4h0M63 169.5l-1.1 0.6M89.7 156.7l-0.1 1.1M97.7 156.4l1.3 -0.6M115.3 114.3l-0.6 -1.3M88.4 164.1l0.4 1.3M64.4 157.1l-0.1 -0.6M67.6 173.9h0M119.9 128.4l1.2 -0.5M61.7 166.1h0M45.1 129.8l0.9 -0.4M117.9 154.6l0.9 -0.4M69.5 158.1h0M74.5 160.5h0M66.6 176.3h0M111.9 172.4l-0.3 -1.4M49.2 120l-0.1 -1.2M103.8 151.1h0M27.9 120h0M56.2 136.6l-1.5 -0.3M119.7 120.4h0M89.1 99h0M30.7 133.7l-0.1 -1.5M36.3 163.4l-0.3 -0.6M114.6 161.8l0.5 -0.5M22.1 143.4h0M69 168l0.1 -0.5M118.3 117.1l0.7 -0.2" stroke="#2424f8" stroke-width="1.7" stroke-linecap="round" fill="none" opacity="0.82"/>
<path d="M71.9 175.7l0.5 -0.2M100 166.8l-1.3 -0.1M29.1 124.2h0M120.2 109l-1 0.3M118.8 115.9h0M105.4 150.5l0.4 -0.9M27.5 111h0M55.2 129.7l0.9 -1.3M47.6 139.5l-0.5 -0.4M39.1 157.4l0.5 0.7M94.1 152.4h0M121.7 153.7l0.9 -0.7M109 168.5h0M26.8 133.5l0.4 0.3M51.8 175.6l-0.5 -0.1M100 154.7l0 1M53.6 136h0M124.6 126.6l-0.7 0.4M69.4 135.4l-1 0M34.4 145.1l-1.4 0.3M58 134.7l0.5 -1.4M40.2 125.6h0M113 105h0M82.5 154.8l-0.1 -0.5M64.7 162.8l-0.4 0.8M57.6 173.8l0.7 -0.6M117.8 113.5l-1.3 -0.1M117.2 99.9l-1.3 0.6M116.6 171.7l-0.7 0.7M57.1 139.8l1.4 0.5M33.7 158.8l0.4 -1.3M33.2 161.3l-0.9 0.2M23.6 118l-0.6 -1.1M31.8 152.1l-0.6 0.2M45.2 145l0.9 0.6M125.7 156.8h0M30.3 141.4h0M96.5 153.1l-0.9 0.8M83.7 98.5l0.7 0.2M120.5 175.7l-0.4 0.7M45.5 152.5l0.2 0.6M119.7 143l-0.6 -0.5M30.1 161.7h0M63.3 132.9l-0.6 1M112.2 96l0.7 -0.8M57.5 163.9h0M50.9 147.7h0M80.9 162.1l0.5 1.3M105.9 102l0.1 -1.4M24 106.6h0M32 151.6l-0.8 0.8M45.8 157.2l0.5 0.6M37.2 156.3l-0.8 -0M57.9 164.8l-0.5 -1.3M106 151.4h0M102.9 99.2l1.1 -0.5M45.1 133.3h0M120.8 143.4l-0.2 -0.7M53 150.1h0" stroke="#2424f8" stroke-width="1.1" stroke-linecap="round" fill="none" opacity="0.82"/>
<path d="M96.4 175.5h0M121 130.5l-0.1 -0.7M126.3 134.4h0M124.7 115.1l0.6 0.1M116.8 108.1l0.5 -0.5M37.4 173.9l0.5 0.1M92 171.8l-0.6 -0.9M53.6 150l0.4 -0.6M122.7 174.9h0M24 112.5h0M59.9 136.7l-1.1 -1M89.3 156.7h0M104.3 168.6l-0.5 1M71.4 163.4l1.2 -0M26 139.3h0M32.3 150.2l-0.6 -1M126.5 141.1l0.8 0.1M37.1 126.4l0.5 1.1M117.2 109.9h0M51.2 139.1h0M107.6 153.7h0M56.8 135.7h0M22.9 118.6l1 -1M117.7 168.2h0M50.3 143.8l0.6 0.6M119.3 158.7l-1.4 0.3M110.8 150.7l-0.6 -0.2M124.1 161.9l-0.5 0.9M40.3 132.4l-0.5 1.1M31.7 151.3l1.3 -0M57.9 156.9l-0.4 -0.3M27.9 160h0M32.7 117.3l0.1 0.6M111.8 176.3h0M85.5 157.4l-1 0.2M87.9 168.3l-0.6 0.1M123.3 95.2l-1.4 -0.6M23.9 111.6l-0.6 0.7M36.8 160.2l-0.1 -1.6M28.5 147.7h0M37 175.1h0M119.9 135.3l-1 -0.5M70.7 167.9l0.3 0.7M45.1 158.5l-0.1 1.1M113.9 176.9l-1 -0.4M35.3 158h0M72.8 166.3h0M52.5 145.8l-0.6 -0.7M43.2 143.6h0M51.5 171.4h0M24.2 117l-0.4 0.9M46.6 123.4l-0.3 0.5M76.3 95.9l0.7 -0.3M73.5 168.8h0M124.1 106.8h0" stroke="#1c1cd0" stroke-width="1.4" stroke-linecap="round" fill="none" opacity="0.82"/>
<path d="M48.7 145.6l-0.4 0.7M98.6 174l-0.5 1M121.2 146.2l-1 0.1M68.8 175.8l0.2 -1M68.2 176.3l-0.6 -0.7M117.8 97.3l-1 0.6M125.5 170.9l-0.9 -0.8M89.3 173.5l1 -0.5M54.6 128.6l1.2 -1M80.6 176.3h0M41.4 116.1h0M95.9 101h0M48.7 165.5h0M60.7 171.6h0M50.6 169.3l-1.1 -0.9M49.4 129.9l-1.1 -0.8M121.8 127.7l0.4 0.7M27 162.4l-0.7 1.3M126.2 158.1l-0.2 -1.4M115.1 175.5l-0.4 1.5M45 124.4h0M81.4 163.8l0.8 -1.1M58.8 151.1l1.1 -1M129 142.8l0.1 -0.6M109.6 164.3h0M121.1 124.1h0M50.6 138.7l-0.8 1.1M56.6 170.4l-0.8 -0.4M118.7 111.7h0M105.4 167.5l1 -0.9M46.2 163.8h0M73 173h0M39.7 160.4h0M47.9 121.7h0M58.1 147.7l0.8 -0.1M39.9 128.5l-1.3 -0M36.1 124.2l0.3 -0.5M112 159.4l0.8 -0.5M119.4 95.6l-0.8 1.1M112.1 165.3l-1.4 -0.1M36 124.5l0.6 1.1M48.4 127.1l-0.3 1.1M50.9 170.7l-0.4 1.3M43.3 169.6l-0.3 0.4M82.3 166.2h0M26.1 137l1.1 0.5M127.9 111h0M29.2 152.9l0.5 0.6M64.3 164.6h0M79 95.6l0.2 0.5M111.4 162.2l-0.6 -1.1M112.9 171.1h0M128.6 141.3h0M51.8 128.6l1.3 -0M113.5 105.1h0M127.9 169.8l-0.3 0.7" stroke="#1818e0" stroke-width="1.4" stroke-linecap="round" fill="none" opacity="0.82"/>
<path d="M24.5 158.8l1.3 0.2M56.1 144.2l0.2 -1.3M113.5 97.1h0M74.1 158.8l-0.9 0.5M92.7 100.3l-0.2 -1M56.3 174.1l-0.6 -0.6M116.4 107.9h0M42.8 145.3l-0.4 -1M26.1 115.6h0M49.7 135.9l0.2 -0.7M77.9 158.3l0.5 0.2M127.6 150.9l-0.8 -1.4M127.5 117.4l-0.1 -0.8M110.6 165.4l1.1 -1M111.7 107.9l1.2 -0.8M57.3 148.3l-1.1 -1.1M86.3 97.7l1.5 0.2M58.7 126.5l1.2 -0.5M63.3 176.5l0.7 -0.7M59.5 139.3l0 -0.6M113.1 157.2l-0.3 0.4M113 164.8l0.5 -1.2M57.7 138.6l-0.8 -0.3M98.6 154.6h0M118 124.5l0.5 1.2M107.9 168.5l-1.1 0.9M115.7 97.4h0M43.9 127.5l-1.1 -0.8M128.6 110.7l-0.6 -0.4M36.4 128.6h0M53.4 161.3l-0.3 1.5M42.4 122.1l0.3 1.2M117.9 121.8l0.7 -0.7M123.2 157.3h0M37.2 125.8l0.8 -0.1M35.6 157.7l0.1 -1.1M30.2 112.5l-0.9 0.9M116.6 144.6l-1 1.2M117.5 120.6h0M124.5 126.8l-0.5 0.3M76 165.1h0M80.6 155.7l0.4 -1.4M56.3 156.6l0.6 -0.2M23.4 139l-0.2 0.9M98.7 172.3l0.8 -1.1M91.2 95.3h0M60.7 167.1l-0.4 -0.4M94.2 170h0M35.6 157.7h0M102.7 97.9l-1.4 0.7M66.3 131.1l0.7 -0.8M34.4 131.7l1.1 0.8M36.5 113.8l-1 -0.3M91.1 168.3h0M126 167.9l0.1 0.7" stroke="#1010b8" stroke-width="1.1" stroke-linecap="round" fill="none" opacity="0.82"/>
<path d="M88.9 168.4l-0.6 -0.4M40.8 157.6l-0.6 0.5M96.6 153.6h0M75 166.7h0M27.1 139.7l1.1 0.5M60.6 156.9l0.6 -1.2M84.5 100.7l0 0.9M48.9 120.7l0.3 -0.7M23.2 116l0.2 0.8M58.7 125.3h0M77 163.9l1 -1.2M85.9 96.7h0M32.9 165.4h0M35.5 157.6l-0 1.6M76.9 165.3l-0.7 -0.2M95.3 97.2l-1.2 -0.8M34.9 111.4l-0.4 -0.7M124.3 128.3h0M63.2 129l0.9 -0.1M119.9 118.3l0.1 1.1M45.4 142.2l-0.2 -1.1M59.6 166.3l0.1 -1.5M87 167.2l-0.5 -1.2M55.9 126.2l-0.5 -1M113.5 161.3l-0.2 1.4M81.3 98l-0.4 1.4M118.1 164.5h0M83.6 95.8l0.3 0.6M76.1 156.5l-1.2 0.2M112 148.7l-0.9 -0.1M58 135.3l0.3 -0.7M23.5 177h0M113 98.2l0.8 0.3M123.6 101.8l-0.5 1.4M114.9 170.2h0M122.4 158.7l0.5 0.3M93 151.5l-0.8 -1.3M70 175.4l-0 1.1M71.3 133.2l0.1 1M125.7 128l0.7 1.1M68.7 176.1l0.4 0.9M85 153.8l1.3 -0.9M114 152.1l-0.4 -0.5M56.2 168.9l0.1 -1M23.6 119.9l1.2 -0.2M38.7 136.9l0.8 -1.4M92.6 152.6l0.2 1.5M41.6 159.3l-0.4 -0.3M81.3 162.4l-0.6 0.2M51.2 173.4h0M55.5 135.4l-0.5 0.8M21.9 134.8l-1 0.7M36.5 112.8l1.2 -1M56 128.7h0M115.1 150.6l-0.1 -0.9M61.3 138.2l-0.7 -1.3M108.1 164.2l-1.5 -0.2M103.5 152.5h0M109.4 98.2l1.1 1M121.7 103l-1.2 -0.1M101.2 172.5l-1.1 0.9M64.2 172.5l1.4 -0.1M117.5 103.4h0M46.5 166.2l-0.8 0.7M33 160.7l-1.3 0.5M26.3 115.4l0.5 -0.6M48.8 153.5h0M128.6 168.7l0.4 -0.5M24.9 155.7h0M112.7 107.5h0M35.7 130.3h0M99.6 150.6h0M42.7 119.6h0M126.1 109.7l-0.4 -1.5M31.4 153.5l-0.8 0.3M114.2 165h0M71.8 160.4l1.4 0.7M89.6 176.1l0.8 0.7" stroke="#3050ff" stroke-width="1.1" stroke-linecap="round" fill="none" opacity="0.82"/>
<path d="M112.8 175.9h0M124.2 166.4h0M93.7 152.3l-0.6 1M99.7 172.6l-0.7 -0.5M48.2 141.4h0M104.7 164.4h0M80.3 158.1l-0.4 1.6M125.1 153.9l-0.9 0.2M50.7 124.1l0.9 0.3M47.4 148.7l1.3 0.4M126.9 144.8l0.6 0.1M48.3 160.1l-0.9 0.8M122 130.9l-0.9 0.6M54.4 145.2l-1 -0.9M39.6 122.4h0M29.1 156.1l0.6 0.1M32.4 134.3l0.4 -1.4M127.8 117.2h0M34.5 112.3l-1.4 -0.7M56.2 150.5h0M53.3 141.1h0M51 164.6l0.7 0.3M127.7 142.9l-0.8 -0.7M90.7 154.2h0M114.3 148.8h0M26 106.7h0M28.4 137.6l-1.2 -0M44.2 141l1.1 -0.2M78.3 165.6h0M36.9 147.9l1.1 0.4M46.8 120.7h0M38.4 117.8h0M99.8 171.9h0M106.5 169.9l-0.1 -0.7M73.9 163.3l-0.4 -0.6M116.4 102.4l0.6 0.5M78.5 165.4l0.1 -1.6M76.8 158.7l-0.6 -0.8M40 142.9h0M116.1 106.8l-0.5 0.2M127.5 148.1h0M38.7 158.8l-0.3 0.5M44 117.6l1 0.5M108.5 95.4l-0.3 -1.1M42.6 125l1.1 0.5M24 105.2l-0.2 0.5M122.2 126.7l0.4 0.6M118 99.9l0.9 -0.4M119.6 149.5l0.4 0.4M50.4 138.7h0M125.5 125.9l-0.8 1.1" stroke="#1010b8" stroke-width="1.4" stroke-linecap="round" fill="none" opacity="0.82"/>
<path d="M114.3 114.3l-0.6 0.5M50.9 126.2l-1 -1M68.1 161.5h0M122.5 176.1h0M113.1 147.5l0.7 0M119.3 154.5l-0.2 1.2M34.8 149.8l-0.7 0.1M93.5 151.5h0M89.4 166.8l-1.2 -0.2M65.6 136.8l0.3 0.4M92.3 153.4l0.4 0.5M45.8 159h0M47.1 166.8h0M107.1 167.1l-0.3 0.6M74.7 167.9h0M42.1 174.8h0M58.4 166h0M103.4 102.7l0.4 -0.7M77.9 95.4l0.3 0.5M33.2 134.4h0M100.1 168.3l-0.6 0.2M62.2 139.7h0M51.8 144.3l-0.1 0.5M101.2 174.4l0.6 -0.5M118.2 153.9l-0.5 0.7M118.8 112.8h0M92.6 96l0.2 0.5M96.9 96.3l0.5 0.7M43.8 170.4l0.4 -0.4M49.5 172.5l-0.1 -0.5M33.8 152.6l-0.4 -0.4M78.2 158.3h0M44.8 148.9l-0.8 0.9M127.9 98.5l0.7 -1M63.6 137.6l0.9 0.1M110.6 96.1h0M125.2 128.1l0.3 -0.4M69.4 132.2h0M38.4 126.8l-1.4 -0.1M129 105.6l-0.6 1.5M112.5 173.1h0M52.8 147.4l1.5 -0.2M64 132.8l-0.7 1.1M58.4 140.6l-0.8 -0.8M22.3 169.6h0M117.8 153.6l0.3 1.5M110.2 152.6h0M114.4 165.2l-0.6 -0.7M87.5 159.3l-1.2 -0.1M95.1 153.8l-0.5 -0.2M36.9 162l1.1 0.3M46.8 141.1h0" stroke="#1818e0" stroke-width="1.1" stroke-linecap="round" fill="none" opacity="0.82"/>
<path d="M21.6 104C24.1 105.2 31.2 108.5 36.4 111.4C41.5 114.2 47.5 118.2 52.7 121.2C57.9 124.2 64.1 127.2 67.4 129.3C70.7 131.5 71.8 133.4 72.6 134.2" stroke="#a82c70" stroke-width="0.7" fill="none" stroke-linecap="round" stroke-linejoin="round" opacity="0.3"/>
<path d="M21.6 104.1h0M26.1 105.7h0M33 109.9h0M38.3 111.9h0M43.5 115.6h0M45.6 116.8h0M48.3 118.6h0M48.8 119.2h0M53.4 121h0M60.3 124.9h0M70.3 131.5h0M72.1 134.2h0" stroke="#a82c70" stroke-width="0.8" stroke-linecap="round" fill="none"/>
<path d="M22.4 104.3h0M42.1 114.9h0M64.4 127.4h0M65.9 128.1h0" stroke="#6030c8" stroke-width="1.1" stroke-linecap="round" fill="none"/>
<path d="M24.6 105.1h0M34.4 110.6h0M36.2 110.8h0M51.7 120.7h0M71.9 133.4h0" stroke="#a82c70" stroke-width="1.1" stroke-linecap="round" fill="none"/>
<path d="M25.3 105.5h0M41 113.6h0M44.3 115.9h0M52.5 120.8h0M55.9 122.9h0M61.6 125.9h0M71.1 133h0" stroke="#a82c70" stroke-width="1.3" stroke-linecap="round" fill="none"/>
<path d="M26.7 106.5h0M38.8 112.7h0M42.6 115.6h0M49.8 119.1h0M51 120.3h0M53.6 122.1h0M54.6 122.1h0M62.9 126.8h0M63.8 126.8h0" stroke="#6030c8" stroke-width="1.4" stroke-linecap="round" fill="none"/>
<path d="M27.3 107.1h0M31.1 108.4h0M32.5 109.1h0M39.5 113h0" stroke="#6030c8" stroke-width="0.8" stroke-linecap="round" fill="none"/>
<path d="M29 107.1h0M29.4 108.2h0M44.4 117.2h0M58.9 124.1h0M60.9 125.6h0M62.3 126.3h0M69.1 130.5h0" stroke="#a82c70" stroke-width="1.4" stroke-linecap="round" fill="none"/>
<path d="M31.7 108.9h0" stroke="#6030c8" stroke-width="1.3" stroke-linecap="round" fill="none"/>
<path d="M72.6 134.2C71.2 135.3 66.5 138.6 64.1 140.8C61.8 143 59 144.9 58.4 147.3C57.9 149.8 59.1 153.7 60.9 155.5C62.6 157.3 65.5 158.2 69.1 157.9C72.6 157.7 78 155.1 82.1 153.9C86.2 152.6 89.5 151.4 93.6 150.6C97.7 149.8 102.6 150.3 106.7 149C110.7 147.6 115.9 145.4 118.1 142.4C120.3 139.4 120.3 135.1 119.7 131C119.2 126.9 116.7 121.7 114.8 117.9C112.9 114.1 111 110.9 108.3 108.1C105.6 105.2 102.3 101.7 98.5 100.7C94.7 99.8 89.2 102.9 85.4 102.4C81.6 101.8 77.2 98.3 75.6 97.5" stroke="#7a22b8" stroke-width="4.8" fill="none" stroke-linecap="round" stroke-linejoin="round" opacity="0.38"/>
<path d="M72.6 134.2C71.2 135.3 66.5 138.6 64.1 140.8C61.8 143 59 144.9 58.4 147.3C57.9 149.8 59.1 153.7 60.9 155.5C62.6 157.3 65.5 158.2 69.1 157.9C72.6 157.7 78 155.1 82.1 153.9C86.2 152.6 89.5 151.4 93.6 150.6C97.7 149.8 102.6 150.3 106.7 149C110.7 147.6 115.9 145.4 118.1 142.4C120.3 139.4 120.3 135.1 119.7 131C119.2 126.9 116.7 121.7 114.8 117.9C112.9 114.1 111 110.9 108.3 108.1C105.6 105.2 102.3 101.7 98.5 100.7C94.7 99.8 89.2 102.9 85.4 102.4C81.6 101.8 77.2 98.3 75.6 97.5" stroke="#d02858" stroke-width="1.2" fill="none" stroke-linecap="round" stroke-linejoin="round" opacity="0.4"/>
<path d="M72.6 134.2h0M61.2 143.9h0M58.6 149.7h0M59.8 152.8h0M59.8 154.1h0M70 157.6h0M71.1 157.3h0M78.7 154.8h0M81 154.3h0M85.4 153h0M92 151h0M93.3 151.4h0M100.1 150.8h0M102.3 149.8h0M105.7 149.1h0M119.8 138.6h0M111 111.8h0M109.7 110h0M108.2 108.2h0M107.7 107.1h0M96 101h0M94.8 100.5h0M86.9 102.5h0" stroke="#d02858" stroke-width="1.9" stroke-linecap="round" fill="none"/>
<path d="M71.6 134.8h0M70.9 135.8h0M63.9 141.7h0M63.4 156.6h0M67.7 157.6h0M73.5 157.4h0M82.3 154.7h0M84.2 152.9h0M90.8 151h0M104.6 149.5h0M119.8 137.4h0M115.2 117.4h0M105.1 106.4h0M103.4 103.1h0M88 102.1h0M85.7 103h0M82.2 101.8h0M81.7 100.2h0M80.3 100.4h0M76.6 97.7h0" stroke="#d02858" stroke-width="2.5" stroke-linecap="round" fill="none"/>
<path d="M70 136.5h0M68.4 138.2h0M59 146.4h0M58.1 151h0M60.6 154.9h0M65.6 156.9h0M96.6 150.8h0M116.9 143.5h0M120.5 132.8h0M119.3 131.8h0M118.8 127.2h0M114.5 116.5h0M113.5 115.7h0M112.2 112.4h0M89.1 101.9h0M77.1 99.1h0" stroke="#7030d0" stroke-width="1.5" stroke-linecap="round" fill="none"/>
<path d="M68.8 136.8h0M66.5 139.5h0M65 139.5h0M62.4 156.2h0M97.7 149.5h0M115.7 145.8h0M116.2 144.5h0M120.5 135.1h0M119.8 130.5h0M119.1 128.3h0M112.3 113.7h0M110.6 110.7h0M93.6 100.6h0M92.5 101.1h0M91.4 101.4h0" stroke="#7030d0" stroke-width="2.5" stroke-linecap="round" fill="none"/>
<path d="M62.3 141.7h0M61.9 143h0M57.5 148.5h0M64.3 157.5h0M66.5 158.6h0M68.9 158h0M79.9 154.7h0M86.3 152.1h0M87.7 152.7h0M98.9 150h0M107.1 149.5h0M111.1 147h0M112.3 146.8h0M117.9 142.8h0M118.9 140.7h0M119 139.6h0M117.2 122.8h0M116.5 120.6h0M115.6 119.8h0M109.3 108.7h0M105.2 104.6h0M102.2 103h0M101.4 101.9h0M97.1 100.6h0M90.4 102.5h0M79.6 99.4h0" stroke="#d02858" stroke-width="2.2" stroke-linecap="round" fill="none"/>
<path d="M60.7 145h0M75.7 156.8h0M76.6 155.8h0M77.4 154.7h0M83.1 153.2h0M88.7 152h0M89.7 151.1h0M94.2 150h0M101.2 149.3h0M103.4 149.2h0M107.7 147.9h0M109.8 147h0M118.4 141.8h0M119.9 136.3h0M118.6 126h0M118.6 124.8h0M118.4 123.6h0M116.8 121.8h0M115.3 118.7h0M104.3 103.9h0M84.5 102.5h0M78.7 98.7h0" stroke="#d02858" stroke-width="1.5" stroke-linecap="round" fill="none"/>
<path d="M57.8 147.3h0M58.7 152h0M61.4 155.7h0M72.2 157.1h0M113.4 146.4h0M114.5 146.1h0M120.5 134h0M107.6 105.6h0M99.4 100.8h0" stroke="#7030d0" stroke-width="2.2" stroke-linecap="round" fill="none"/>
<path d="M113 114.7h0M98.3 100.3h0" stroke="#7030d0" stroke-width="1.9" stroke-linecap="round" fill="none"/>
<circle cx="72.6" cy="132.9" r="1" fill="#40e8c0"/>
<circle cx="76.4" cy="134.2" r="1.2" fill="#40f0b0"/>
<circle cx="74.8" cy="137.2" r="1.1" fill="#38e0c0"/>
<circle cx="77.6" cy="136.9" r="0.9" fill="#60f0a0"/>
<circle cx="72" cy="138.8" r="0.8" fill="#30c0d0"/>
<circle cx="100.1" cy="148.6" r="0.9" fill="#ff3030"/>
<circle cx="85.4" cy="147" r="0.8" fill="#ff3030"/>
</g></g>
<clipPath id="c7"><rect x="131" y="95" width="106.9" height="82.1"/></clipPath>
<g clip-path="url(#c7)">
<g filter="url(#bl)">
<path d="M198.6 110.3l-0.8 0.4M191 160.1l0.9 0.2M187.6 169.2h0M162.6 145.2l0.9 -0.1M232.9 111.9l0 -0.5M163.7 145.9l-0 -1.4M168.7 136.9h0M210.2 116.9l0.6 1.2M148 118.2l0.9 0.4M175 111.9l-0.4 0.3M176.6 95.2h0M172.1 172.7h0" stroke="#1010b8" stroke-width="1.3" stroke-linecap="round" fill="none" opacity="0.82"/>
<path d="M146.6 157.9l-0.4 0.8M181.7 169.7h0M237.8 158l0.6 -0.3M171.1 125.9l1.6 -0.3M164.6 111.4h0M179.6 119.9l-0.3 -0.6M181.8 166.7l0.6 0.7M165.3 124.8l0.7 -1M218.3 117.4l-0.6 -0.3" stroke="#1c1cd0" stroke-width="1.6" stroke-linecap="round" fill="none" opacity="0.82"/>
<path d="M158.5 133.5l0.2 -0.9M153.5 148.5l0.5 -0.7M165.2 110.6l1.2 -0.4M205.1 116.7h0M166.5 132.6l0.5 -0.5M221 164.4l-0.3 -1.1M171.9 131.4l-0.7 0.2M155.6 161.6l-0.6 0.7M166.4 145l0.9 -0.8M162.6 135l0.2 0.8M152.9 173.9l0.2 -0.6M228.3 174.2h0M176.7 119.2l-0.6 -0.7M223.8 118.6h0M187.9 105.3l0.8 0.6" stroke="#2424f8" stroke-width="1" stroke-linecap="round" fill="none" opacity="0.82"/>
<path d="M151.4 145.9h0M154.5 137.7h0M189.7 168.2h0M172.1 117h0M154.7 142.2l-1.1 -0.3M198.3 116.1l-0.6 0.1M179.5 96.6l-0.5 0.5M197.3 101.8l0.8 -1.3M174.9 113.1l-0.7 -0.5M162.3 129.5h0M148.2 144.7l0 0.5M182.2 117.4l1 -0.8M164 170.9l0.2 -1.4M212.2 97.3l0.7 0.3M148.5 124.5l0.3 -0.8M217.2 97.2h0M204.3 115.8l-0.8 -0.8M169.3 126.5l0.2 -1.1M149.4 141.9l-1 0.4M195.5 113.9h0M141.6 166.4l1 -1.1M222.5 96.2l-0.5 0.2M154.6 149.9l0.5 0" stroke="#1010b8" stroke-width="1" stroke-linecap="round" fill="none" opacity="0.82"/>
<path d="M165 139l0.7 -0.1M198.6 115.8l1.4 -0.2M166.5 142.9h0M190.2 107.8l0.9 0.9M233.2 166.8l-0.8 1.4M225.8 165h0M151.6 147.3l0.3 0.9M203.9 112l-1.2 0.5M175.6 98.1l-0.5 0.9M237.8 108.6h0M155.2 138.4l-0.2 0.7M150.9 162.3h0M196.8 118.4h0M144 168h0M160.7 121.9h0" stroke="#1010b8" stroke-width="1.6" stroke-linecap="round" fill="none" opacity="0.82"/>
<path d="M182.3 117.8l-1.4 -0M217.3 117.9l0.2 0.7M175.9 118.3h0M140.8 95.7h0M150.5 156.3l-0.8 1M166.9 117.7l-0.6 -0.2M166.6 113.8l-0.7 0.9M232.5 111.5l-0.4 0.7M168.3 170.8l-0.5 -0.8" stroke="#1818e0" stroke-width="1.3" stroke-linecap="round" fill="none" opacity="0.82"/>
<path d="M187.7 161.9l-0.3 -0.8M146.5 99l-1.1 0.1M198 101.8h0M168.6 124.8l-1.1 0.8M142.4 95.4l-0.8 -0.9M203.1 105.9l-0.8 -0.1M151.2 98.1l1.2 0.1M191.6 109.5l-0.3 -0.8M183 119.8l0.8 0.2M156 134.9l0.7 1.4M140.6 158.3h0M158 126.9h0M192.4 105.3h0" stroke="#2424f8" stroke-width="1.3" stroke-linecap="round" fill="none" opacity="0.82"/>
<path d="M176 161.3l-0.6 -0.4M228 98.4l-1.1 -0.3M195.7 168.4l1.1 0.9M199.7 172.1l0.1 1.1M236.2 113.8h0M186.9 101.2l0.3 -0.4M184.4 102.9l0.5 0.1M161.1 158.1l1.3 -0.1M165.4 153.1l1.1 0.7M151.3 141.1l-0.6 -0.7M199.8 167.8l-0.5 -0.9M200.2 114.3l-1 -0.7M177.3 176.2h0M221.1 114.5l-0.8 -0.4M174.1 110h0" stroke="#1818e0" stroke-width="1" stroke-linecap="round" fill="none" opacity="0.82"/>
<path d="M228.4 147.2h0M191 99.7l0.4 0.8M224.9 135.6l1 0.1M176.3 159.9l0.4 -0.5M159.3 147.3h0M237.1 105.6l0.9 -0.8M150.9 138.6l-0.7 -0.6M163.3 142.6l0.1 1.5M230.6 173.8h0M163.5 152.9l0.8 0.1M201.6 170.5l-0.7 1M157.7 140.4l0.7 -0.3M145.9 151.5h0M235 160.3l-1.4 -0.4M167.8 144.3h0M179 96.8l-0.8 1.3" stroke="#2424f8" stroke-width="1.6" stroke-linecap="round" fill="none" opacity="0.82"/>
<path d="M171 123.5l-1.3 -0.5M144.5 158l-0 0.6M237.2 97.4l-0.6 1.2M195.4 116.7l0.5 0.5M178.2 159.1l-1.4 0.5M157.7 158h0M131.7 100.6h0M198.6 96h0M157.5 144.2h0M154.1 146.7l-1.3 0.3M213.9 96.8h0M206.2 117.1l-0.1 -0.7M158 140.1l-0.6 0.4M235.3 139.5l-0.3 -1.3M158.1 172.9l-1.1 -0.5M204.8 111.7h0M211.3 115.2l0.5 0.3" stroke="#1c1cd0" stroke-width="1.3" stroke-linecap="round" fill="none" opacity="0.82"/>
<path d="M155.7 136.2l-1.3 -0.1M203.9 104.6h0M168.5 144.2h0M182.9 105.1h0M203.4 108.5l1.1 -0.7M157 137l1 -0.8M208.1 112.2h0M182.5 114.1h0" stroke="#1c1cd0" stroke-width="1" stroke-linecap="round" fill="none" opacity="0.82"/>
<path d="M201.2 173.4h0M168.7 169.5l-1 -0.1M192.9 168.5l1 0.9M224.9 151.9l0.1 -0.7M138.4 161.7l0.1 1.4" stroke="#1818e0" stroke-width="1.6" stroke-linecap="round" fill="none" opacity="0.82"/>
<path d="M155.5 160.4C155.9 158.8 157.4 153.6 158.2 150.6C159.1 147.6 159.7 145.1 160.7 142.4C161.7 139.7 162.6 136.7 164 134.2C165.3 131.8 168.1 128.8 168.9 127.7" stroke="#b82c64" stroke-width="1.3" fill="none" stroke-linecap="round" stroke-linejoin="round" opacity="0.3"/>
<path d="M155.1 160.3h0M155.4 157.7h0" stroke="#8030b0" stroke-width="2.8" stroke-linecap="round" fill="none"/>
<path d="M155.7 159.1h0" stroke="#8030b0" stroke-width="2.4" stroke-linecap="round" fill="none"/>
<path d="M156.6 156.8h0M162 139.9h0M162.8 137.5h0" stroke="#e03040" stroke-width="2.4" stroke-linecap="round" fill="none"/>
<path d="M156.7 154.2h0" stroke="#b82c64" stroke-width="2.1" stroke-linecap="round" fill="none"/>
<path d="M158.3 152h0M160.3 144.7h0M166.5 131h0M168.1 129.1h0" stroke="#b82c64" stroke-width="1.6" stroke-linecap="round" fill="none"/>
<path d="M157.1 150.3h0M159.4 145.7h0M168.8 128.1h0" stroke="#b82c64" stroke-width="2.8" stroke-linecap="round" fill="none"/>
<path d="M158.3 149.4h0M160.3 143.4h0M164.3 134.1h0M165.5 133.4h0M166.6 129.5h0" stroke="#b82c64" stroke-width="2.4" stroke-linecap="round" fill="none"/>
<path d="M161.1 142.3h0M160.6 140.8h0M163.9 135.3h0" stroke="#e03040" stroke-width="2.1" stroke-linecap="round" fill="none"/>
<path d="M162.2 138.7h0" stroke="#e03040" stroke-width="1.6" stroke-linecap="round" fill="none"/>
<path d="M168.9 127.7C170.5 126.6 175.7 122.9 178.7 121.2C181.7 119.4 184.4 118 186.9 117.1C189.3 116.1 190.1 115.7 193.4 115.4C196.7 115.2 204.3 115.4 206.5 115.4" stroke="#a83088" stroke-width="0.6" fill="none" stroke-linecap="round" stroke-linejoin="round" opacity="0.3"/>
<path d="M169 127.9h0M173.9 123.8h0M177.4 121.8h0M180.9 119.7h0M181.8 119.8h0M185.9 117.3h0M186.7 116.9h0M188.9 116.2h0M189.9 116.5h0M200.9 115.1h0" stroke="#a83088" stroke-width="1.3" stroke-linecap="round" fill="none"/>
<path d="M170.2 126.7h0M175.2 122.8h0M179 121.2h0M185.1 117.3h0M187.5 116.9h0M190.6 116h0M193.6 114.8h0M195.3 115h0M198.5 115.4h0" stroke="#a83088" stroke-width="0.8" stroke-linecap="round" fill="none"/>
<path d="M172.1 125.3h0M173 125.2h0M176.2 122.8h0M177.7 120.8h0M180.2 120.2h0M184.6 118.3h0M194.5 115.9h0M196.1 114.6h0M196.9 115.3h0M200.1 115.6h0M201.7 114.8h0M206.5 115.4h0" stroke="#a83088" stroke-width="1.2" stroke-linecap="round" fill="none"/>
<path d="M173.5 124.5h0M177.2 122.9h0M182.3 119h0M183.8 118.3h0M188.1 116.1h0M199.3 114.7h0M202.5 115.4h0M204.1 115.4h0" stroke="#a83088" stroke-width="1" stroke-linecap="round" fill="none"/>
<path d="M187.2 116.7C188.2 116.5 191.2 115.6 193.4 115.3C195.6 114.9 199.1 114.9 200.3 114.8" stroke="#48f098" stroke-width="0.9" fill="none" stroke-linecap="round" stroke-linejoin="round" opacity="0.55"/>
<path d="M187.2 116.8h0M192.7 115.9h0M193.6 115.7h0M195.3 114.2h0" stroke="#48f098" stroke-width="1.5" stroke-linecap="round" fill="none"/>
<path d="M188.1 116.6h0M188.9 115.8h0M189.7 115.3h0M199.1 114.6h0" stroke="#48f098" stroke-width="1.8" stroke-linecap="round" fill="none"/>
<path d="M190.8 115.9h0M197.3 115.5h0" stroke="#48f098" stroke-width="1.2" stroke-linecap="round" fill="none"/>
<path d="M191.7 115.3h0M194.5 115.4h0M198.2 114.6h0M200.1 114.5h0" stroke="#48f098" stroke-width="2" stroke-linecap="round" fill="none"/>
<path d="M193.4 167.3L193.7 175.4" stroke="#c040c8" stroke-width="1.1" fill="none" stroke-linecap="round" stroke-linejoin="round" opacity="0.55"/>
<path d="M193.5 167.3h0M193.7 171.7h0" stroke="#c040c8" stroke-width="2.1" stroke-linecap="round" fill="none"/>
<path d="M193.5 168.4h0M193.5 172.8h0" stroke="#c040c8" stroke-width="1.8" stroke-linecap="round" fill="none"/>
<path d="M193.1 169.5h0M193.8 170.6h0M193.4 173.9h0M194.2 174.9h0" stroke="#c040c8" stroke-width="2.4" stroke-linecap="round" fill="none"/>
<path d="M161.5 112.2L163.2 110.5" stroke="#e03030" stroke-width="0.6" fill="none" stroke-linecap="round" stroke-linejoin="round" opacity="0.55"/>
<path d="M161.4 112.1h0" stroke="#e03030" stroke-width="0.7" stroke-linecap="round" fill="none"/>
<path d="M162 111.6h0" stroke="#e03030" stroke-width="0.9" stroke-linecap="round" fill="none"/>
<path d="M162.7 111.1h0" stroke="#e03030" stroke-width="1.2" stroke-linecap="round" fill="none"/>
<path d="M185.2 111.4L188.8 106.8" stroke="#d03060" stroke-width="0.6" fill="none" stroke-linecap="round" stroke-linejoin="round" opacity="0.55"/>
<path d="M185.3 111.4h0" stroke="#d03060" stroke-width="0.7" stroke-linecap="round" fill="none"/>
<path d="M186.6 110.4h0M187 108.7h0" stroke="#d03060" stroke-width="1.1" stroke-linecap="round" fill="none"/>
<path d="M186.6 109.4h0M187.9 108.4h0" stroke="#d03060" stroke-width="0.9" stroke-linecap="round" fill="none"/>
<path d="M188.1 107.5h0M188.9 107.1h0" stroke="#d03060" stroke-width="1.2" stroke-linecap="round" fill="none"/>
</g></g>
<clipPath id="c8"><rect x="239.1" y="95" width="106.7" height="82.1"/></clipPath>
<g clip-path="url(#c8)">
<g filter="url(#bl)">
<path d="M237 94.2L351.5 94.2L351.5 181.7L237 181.7ZM278.7 112.7L286.1 119.5L284.7 131L277.1 144.1L274.9 158.8L282.8 165.3L291 164L297.5 155.8L305.7 147.3L308.9 134.2L308.9 121.2L302.4 119.5L294.2 117.9L289.3 112.2Z" fill="#01011a" fill-rule="evenodd" filter="url(#bh)"/>
<path d="M273 122.4l0.7 0.6M322.6 115.9l-0.5 -0.3M239.3 170.4h0M307.8 103.9l-0.7 0.4M279.4 127.2h0M313.7 118.7h0M313 149.8l-0 -1.6M279.7 113.8l0.4 1.4M319.9 133.9l0.5 0M343.7 161.3l-1.2 0.5M245.9 145.7l0.2 0.5M313.9 149.8l0.9 -0.6M268.2 153.4l-0.8 -0.5M297.5 163.5h0M320.8 153.4l1 -0.2M285.2 110.8l0.5 0.1M247.6 147.2l-0.2 1.4M278.8 164.3h0M311.9 141.8l-0.2 -1M317.5 128.2h0M335.2 136.2h0M275 127.3l-0.2 0.5M296.3 163.1l0.8 1.3M271.4 157.2l0.7 0.1M274.6 122.9l-0.1 -1.6M340.7 105.6l-0.9 1.2M277.2 134.1h0M254.7 142.9l-0.3 0.5M256.1 108.3l-0 1.5M259.6 128.6l0.7 0.6M343.3 147.6l1.1 1.1M263.5 141l-1.4 0.2M318.2 99.6l1 1M264.5 131.1l0.4 -0.6M298.6 156.8h0M308.8 135.9h0M336.9 101.3l-0.6 -1.2M281.4 133.1h0M268.8 141.7h0M320.8 163.5l1.4 -0.2M307.7 170.3l-0.7 0.9M292.6 107.1l0.2 0.7M302.2 101.7l0.7 -0.6M240.3 133.9l-0.8 0.6M301.7 171h0M263.6 106.9l0.9 1.1M250.8 129.1l0.3 -0.5M295.1 173.7h0M324 137.8h0M297 175.5h0M293.2 175.6h0M249.4 176.4l0.5 -0.9M303.3 170.6h0M320.3 129.1h0M338.2 100.4l-1.2 -0.8M263.7 159.9h0M320.2 132.4h0M275.5 169.5l0.3 -1.5M322.6 125.6l-1 -1.2M260.2 120.2h0M269.6 149.9h0M315 114.4h0M290.2 111.4h0M323.4 122.9l-1 -0.2M310.9 136.8h0M259.6 159.3h0M279.7 117.6l0.2 1.5M265.6 140.8h0M279.2 175.9l-0.2 -1M314.9 169.9l0.5 -0.2" stroke="#1818e0" stroke-width="1.4" stroke-linecap="round" fill="none" opacity="0.82"/>
<path d="M345.8 137.6l0.8 0M291.6 111.7h0M247.6 157.5h0M266 134h0M297.6 117.8l1.2 0.9M252.7 143.2l-1.5 0.3M261.6 166.8l0.5 0.4M309.5 139.5l0.9 -0.1M319.1 163.6h0M279 99.8l-0.6 0.9M299.5 173.8l-1.1 0.3M332.5 107.9l1.1 0.5M344.3 133.2l-0.4 -0.4M294 169.8h0M255.1 125.2l0 -1.6M316.2 114l-0 1M318.3 175.7h0M296.3 103.7l-1.4 -0.2M259.4 117.7l-0 -0.9M257.4 171.8l-1.5 0.5M317.6 168.7l-1 0.2M331.8 142.5l0.7 0.3M306.8 111.3l0.7 -0.7M246.7 143.8l-0.5 -0.2M262.8 166.6h0M322.8 152.6h0M249 132.4l0.8 0M271.3 160.2l-0.6 0.2M328.5 175.8l-0.9 -0.7M288.7 174.6l-0.1 -0.6M309.1 114.3l-0.3 -0.4M270.9 112.2l0.7 0.2M334.6 157.8l-1.4 0.3M286.2 103.2h0M275.7 161.6l-1.1 1.1M263.8 139.4l0.8 -0M313.9 103.9h0M259.2 127.8l-0.6 0.6M316.2 149.1l-0.1 0.7M303.1 162.6h0M339.1 138h0M341.9 161l1 -0.7M267.9 110.3l-1.2 0.1M271.4 135.3l1.4 -0.4M311.4 142.5l0.7 -0.5M293.6 96.6l0.4 0.7M326 149.5h0M262.4 149.2l-0.4 0.8M307.3 104.8h0M324.6 115.4l0 -0.9M256.6 136.4l1.1 0.1M334.7 124.1l-0.4 -0.5M241.6 148.5l0 -0.5M338.7 130.6l-0.3 1.3M292.4 107.6h0M315.2 148.9l-0.1 0.9M288.1 173.3l-1 -0.4M249.7 114.2l-0.3 -0.7M338.8 114.1h0M273.4 141.4l-0.9 1.2M328.5 106.5l0.9 -0.9M261.3 134.7l0.4 -1" stroke="#1818e0" stroke-width="1.7" stroke-linecap="round" fill="none" opacity="0.82"/>
<path d="M239.5 144.1h0M330.3 113.8l0.6 -1.3M318.8 129.4l-0.4 -0.9M311.3 110.7h0M334 158.6l0.8 -1M323.3 122.9h0M308 140.2h0M316.3 175.4l-0.6 -0.5M334.9 95.6l-0.2 1.4M327.5 165.1h0M271 176.5l0.8 1.3M247.1 111.4h0M320.7 145.5l-0.4 0.8M289.3 106l0.7 -0.4M258.5 111.2l1.1 -0.8M313.1 112.2l0.9 1M320.7 127.9l-0.7 -1.1M311.5 170.2l0.7 -0.6M323.9 106.1l0.5 -0.5M288 169.1l1.2 -0.4M287.4 95.5h0M272.7 96.3l0.6 -0.4M266.7 131.2l0.7 -1.4M293.6 164.1l0.8 0.1M336.8 163.9l-0.7 0.2M337 164.8h0M279.4 115.7l1.1 -0.9M242.7 127.5l-0.4 -0.6M309.5 136.3l0.1 -0.5M305.8 100h0M331.3 149.9l1.1 0.1M264.1 147.2h0M340.8 171.3l-1.1 0.7M253.4 142.1l-0.2 1.1M241.7 116l1.3 0.5M301 175.6l-0.6 0.2M275.2 161.2h0M302.4 154.8l0.5 -0M303.6 150l-0.2 -0.5M312 154.7h0M270.1 136.1l-0.4 1.1M284.2 122h0M330.3 102.9l0.8 -0.1M278.1 109.7l-1.6 0.3M284.1 121l-1.4 -0.2M274.6 134.2h0M261.2 166.3h0M305.8 113.6h0M340.8 107.7h0M333.8 142.7l-0 1.1M319.3 129l-1.1 -0.4M316.7 124.1l0.4 0.5M329.5 147.7h0M280 114l-0.2 -1.5M341.8 118.7h0M259.3 98.8h0M275.1 111.4l-0.6 0.3M243.4 123.7l-0.9 -0.7M335.6 158.7l-1.5 0.1M323.9 150.9l0.7 0.5M338 168.4h0M300.1 165.9l0.2 -0.6M342.3 95.7l0.2 0.7M313.6 168.6h0M320.9 162.5h0M323.8 118.8h0M320.5 153.7h0M257.4 171.1h0M258 120h0M306.3 175.7l-0.3 0.5M276.3 162.4l-0.6 -0M341.5 167.2l0 -0.9M293.4 103.9h0M252.6 126h0" stroke="#1010b8" stroke-width="1.4" stroke-linecap="round" fill="none" opacity="0.82"/>
<path d="M280 137.3h0M242.8 164.7h0M281.9 101.4l0.2 0.8M276.1 162.7l0.7 0.3M326.3 128.8h0M268.2 154.7l-1 -0.7M258.1 134.8l0.5 -0.3M335.3 106.9h0M267.2 136.2l-1.2 -0.2M274.6 107.2h0M267.8 100.2l0.5 -0.2M331 115.1h0M342.5 139.5h0M311.1 141.7l-1 -0.7M311.3 107.4h0M295.3 108.3h0M264 174.2l1 -0.8M284.5 96.1h0M274.4 140.6l0.8 -0M310.9 161.5l0.7 0.5M301.2 169.3l-0.3 -1.4M327.1 142.6l-0.1 0.9M314.8 144.8h0M300.4 112.3l-0.6 0.6M324.1 115h0M316.9 98.6h0M323 150.5h0M288.2 174.1l0 -1M327.6 138.4h0M313.7 162h0M335.3 104.8h0M280.9 164.7l0.6 -0.5M292.8 163.2l0.7 1.3M259.1 107h0M289.3 110.4h0M263.7 170h0M306.7 119.5l-0.2 0.7M331.6 105.4l0.6 -0M253 95.4h0M344.3 144h0M278.2 122.9l-0.9 0.6M319.7 102h0M340.8 108.5l1.1 0.4M335 169.2h0M240.2 133.4l-1.1 0.5M337.1 149.1l0.3 -1.1M256.3 136.2l-0.8 -1.1M277.7 127h0M314.3 173.2h0M251.9 166.2l-0.2 0.7M325.7 165.5l0.3 -1M282.6 168.4l1.5 0.4M313.5 168.9h0M313.6 149.7h0M286.4 165.5l-0.8 1M295.2 169.9h0M273.9 99.1l-0.1 -0.6M343.1 133l1 -0.4M248.3 142.9h0M277 105h0M307.6 102.5l-0.7 -0.2M309.7 141.3h0M321.1 153.1h0M260.8 142.6l-0.3 -0.9M328.9 161.3l0.7 0.4M290.3 168.3h0M317.2 127.8l0.7 -0.9M279.6 133.9l1 0.1M268 96.2h0M331.8 137.8l0.4 0.5M244.4 176.9l0.9 1.1M343.4 141.7h0M264.9 158.8l1.3 -0.7M283.4 129.4l1.2 -0.3M250.8 142.7h0M249 155.8h0M336.8 142.1l-0.2 -1.5M274.2 103h0M245.3 103.4l0.5 0M312.1 100.5l0.2 0.6M304.2 149.6l0.5 0.7M270.7 162h0" stroke="#1c1cd0" stroke-width="1.1" stroke-linecap="round" fill="none" opacity="0.82"/>
<path d="M336.8 161.7l1.3 0.4M336.9 114.4h0M288.3 101.8l-0.4 0.4M289.5 107.7l1.2 -0.1M291.5 165.8l-0.5 0.3M304.7 115.9h0M247.5 176.9l-0 -0.9M243.7 97l0.9 -0.2M301.2 117.5l1.3 0M315.7 150.2l0.3 -1.2M337.2 165.4h0M337.5 141.9l-0.4 0.6M255.3 114.6l1.5 0M249.9 135.9l-0.2 -1.4M327.3 161.3l1.5 0.4M320.5 120.6h0M319.5 147.6h0M298.2 159.3l1.2 0.9M326.5 96.6h0M265.3 176.9l0.7 0.2M301 170.5h0M297.2 113.6l-1.2 -1M308.2 109.5l-0.4 -1M240.2 98.3l1 0.8M289.6 100.4h0M250.3 112.1l-1.4 -0.2M268.5 115.5l-0.6 0.4M297 109.8h0M305.9 151.3h0M269.5 161l0.2 1.5M293.3 103.8l-0.9 1.2M342.7 174h0M312.1 130.1l0.5 -0.6M271.2 144.3l1.1 -0.8M292.1 114.2l0.3 -0.7M272.2 151.5l0.1 -0.7M331.7 171.3l-0.5 -0.8M322.9 110.8l0.9 -0.1M252.5 135.1l0 1.3M313.5 98.5h0M326.3 114.3l-0.8 1M257.2 173.3h0M333 121.2h0M298.7 168.7l1.1 -0.1M268.8 160.2h0M331.1 110l0.8 0.2M269.5 170.7l-0.5 0M311.5 126.5h0M247 151.4l-0.7 0.6M338.7 161.7l0 -1.2M251.6 142.4l-0.3 0.8M241.5 104.7l0.7 -1.2M320.9 116.5l-0.7 -1.1M316.6 169.1h0M265.3 136.6h0M296.7 167.2l-0.4 -1.4M265.4 169.5l0.8 0.2M329.8 159.5l-1.3 -0.2M301.9 114.2l-1 1M253.7 97.4l1.1 0.3M328.9 120.1h0M246.3 113.7l-0.5 -1.1M308.5 170.2l0.9 1.3M309.7 173.8l0.5 -0.2M247.2 149l-1.3 -0.1M321.8 157.8l-0.5 -0.8M266.3 100.4l-0.5 1M329.6 143.9h0M278 104.3l0.6 0.9M277.9 164.6l-0.3 1.2M316.7 171.1l0.6 1.1M274.8 156.8h0M303.3 152l0.2 0.9M248.8 159.9h0M309.7 136.7h0M271.4 156.7h0M338.3 107.2l-0.3 -0.9M331.4 170.7l-0.5 -0.5M261.6 113.7l-0.1 -1.6M243.9 132.8l-0.3 0.4M273 147.1l-0.5 0.8M308.8 164.4h0M336 140.6l-0.5 -0.2M268.5 166.9h0M264.4 148.6l-1.2 0.1M336.2 163.8h0" stroke="#1c1cd0" stroke-width="1.7" stroke-linecap="round" fill="none" opacity="0.82"/>
<path d="M322.5 99.7l0.4 -0.8M295.4 167.1l0.1 -1.5M316.8 107.2l-0.7 -1.1M317.5 129.2h0M258.9 139.4l-0.4 -1.1M258.1 166.6l-0.3 -0.4M268.6 139.6h0M268 134.6h0M312.4 147.8l0.9 -0.7M297.5 103.3h0M305.4 160.1h0M273.8 130.7l1.1 0.5M330.9 152l-1.2 -0.1M312.3 107.4l-0.8 0.2M334.2 136.1l-0.1 -0.9M317.7 111.3l-0.4 0.3M322.5 120.9h0M278.7 123l-0.1 -1.4M331.5 108.1h0M338.5 143.2l1.4 0.4M264.2 167.2l-1 -0.1M254.4 137l0.2 -1.2M252.8 123.4l-0.4 -1.1M341.6 169.7l-0.6 -1M320.4 150.2l-0.2 -0.8M286.1 101.7h0M280.4 118.6l0.4 0.9M318 154.8h0M273.4 104l-1.4 -0.7M260.2 171.1l0.4 0.8M286.6 100.7l-0.3 -0.8M254 131.7l-0.8 -1.3M334.8 114.1l-0.7 -1.4M270 134h0M299 159.3h0M336.6 167.3l0 -1.5M285.8 97.8l0.8 0.3M264.6 143.9l0.4 0.5M279.7 126l0.5 -0.7M247.2 137.1h0M256.5 145.5h0M328.7 169.1h0M239.7 131.5l0.5 -0.5M324.3 126.6l0.8 -0.2M325.1 173.5h0M306.1 170.1h0M310.4 134.7l-0.5 -0.8M341.9 124.8l-0.4 -0.9M243.2 176l-1.6 -0.3M256.8 158.5l0.6 -0.9M271.9 171.4l0.1 -1.1M291.2 113.7h0M282.2 166.4h0M263.6 141.3l0.2 0.5M325.2 137.1l-1.1 0.7M300.8 110.4l0.6 0.7M282.3 108.9l-0.4 -0.5M331.5 117.8l1 -0.7M279.7 163.4l-0.1 0.5M260.9 154.3h0M326 172.3l1.5 -0.2M272.1 116.3h0M313.1 122.3l-0.1 -1.3M270.1 132.4l0.1 -0.5M336.6 157.7l-1.5 -0.2M341.7 97.9h0M265 137.6h0" stroke="#2424f8" stroke-width="1.4" stroke-linecap="round" fill="none" opacity="0.82"/>
<path d="M322.4 95.5l-0.5 0.7M253.2 96.8h0M324.1 119.9l-0.2 0.6M283 165.4l-0.6 -1.1M265.7 111.2l-0.5 -0.2M302.1 153l0.3 1M258.5 161l-1.3 0M327.3 121.8l-0.3 -1.4M278.3 95.7h0M265.4 155.8h0M313.3 147l-0.9 0.6M276.8 164.2l-0.9 0.4M318.6 121.9l0.9 1M322.8 101.5h0M323.4 100.6h0M325.4 176.8h0M280 102.8h0M313 164.2l-0.3 0.5M326.1 112.4h0M254.3 129.3h0M321.7 151.3l0.1 -1.2M266.8 115.1l-1.2 -0.9M294.2 169.9l1.6 -0.2M296 115.7l0.9 0.8M341.5 132.6l-0.6 -0.1M266.9 169.1l-1.1 0M275.4 160.2l-1 0.2M266.2 175.5l-1.5 0.3M284.7 129.4h0M315.7 150.1l-0.5 -1.3M270.4 150.4h0M258.3 116.7h0M314.4 109l1 -1.1M242.9 176.3l0.2 -0.5M326.7 96.1l0.7 -0.1M247.4 117h0M252.1 108.6h0M267.3 140.9l0.1 -0.7M294.7 104.1h0M291.3 108.8h0M322 127.2l0.1 0.7M316.6 117.3l-1.1 -0.1M333.3 145.2l-0.1 -0.9M332 134.9l1.1 -0.4M278.2 101.1l0.8 1.1M252.8 106.3l0.5 1.5M326.9 137.4l-1 0.5M331.1 140.6l0.5 0M268.9 176.8h0M307.3 144.5l0.5 0.4M272.3 148.9l0.6 -0.7M280.7 120.4h0M338.7 101.4l-0.3 -1.1M251.7 165.2l0.8 -0.2M330.7 174.7l-0 -1.5M256.7 140.5l-0.5 0.7M335.5 96.9h0M262.3 118.3l0.4 1.4M313.4 133.2h0M305 110h0M309 146.1h0M336.5 115.3l0.9 0M337.4 148.6l1 0.3M304.5 165h0M277.4 105.3l-0.8 -0.7M324.7 100.3h0M318.9 114.8l-0.1 1M289.2 165.9l-0.5 -0.6M262.8 144.3l0.8 0.3M307.1 152.7l-0.9 -0M250.2 144.9l-1.1 0.7M333.3 120.5l0.5 0.2M291.1 108.4l-0.6 0.6M335.2 106.3l-0.9 -0.5M262.6 143.7h0" stroke="#2424f8" stroke-width="1.1" stroke-linecap="round" fill="none" opacity="0.82"/>
<path d="M313.7 112.5h0M304.8 149.4h0M310.8 171.1h0M245 122.6l-1.1 0.2M345.3 147.8h0M319.2 124.3l-0.7 -0.7M260.9 174.3h0M250.2 117.1h0M339.2 141l0.6 -0.3M302.9 175l0.4 -0.7M330.6 147.6l-0.5 0.2M344.2 148.6l-0.1 1.3M298.4 175.6l-1.1 0.2M283.7 124.5h0M336.3 134.4h0M296.5 172.3l-0.3 -0.5M299.2 99.7l-1.1 0.4M291.4 104l-0.1 -0.9M281 111.1h0M268.6 170.6l0.8 0.7M260.4 124.4l-0.3 -0.9M326.4 163.2l-1.6 -0.1M258.9 141.8h0M342 131l-0.5 0.5M272.1 168.7l-1.3 -0.7M306.7 161.9h0M276.5 147.6l-0.5 1.4M269.5 140.4l0.1 -0.7M335.2 141.2l-0.1 1.2M321.2 101.5l1.5 0.1M243.7 121.6h0M256.2 143.3l0.1 0.6M271.6 109.9l1.1 -0.1M324.6 112.1h0M270.7 153.8h0M282.2 131.2l0.9 -1M276.6 121.8l-0.6 -0M284 124.8h0M250.9 151.5h0M311.5 168.5l-0.5 0.9M278.9 113.5l0.4 1.4M332.5 172.6h0M282.3 130.9l-1.5 -0.5M268.1 156.6l-0.2 -0.7M306.6 111.8l-0.2 0.8M269.6 124.2l-0.8 -0.1M252.5 128.8h0M260.6 128.5l-0.5 -0.2M251.6 131.5h0M275.5 146.6h0M310.7 144.2h0M267.8 109.3h0M324 117h0M313.1 132.8l0.9 0.9M300 173.3l1.1 1M271.1 100.6h0M331.9 148.5l-0.7 0.8M263.6 165.3h0M313.8 122h0M260.2 159.4l1.1 1.1M309.6 119.8h0M263.9 117.6l0.6 -1M254.6 110.2l-1.3 -0.8M244.1 148.3l0.1 -0.9M305.8 98.3h0M252.9 129.1h0M259.3 138.5l0.3 -0.5M344.1 118.1h0M264.9 118.2l-1.6 0.1M265.3 105h0M270.1 113.3h0M249.1 153.7l-0.3 -1.5M311.2 118.3l-1.2 0.8M304.7 151.8l-0.6 0.4M332.1 133.9l0.6 0.8M339.7 140.2h0M331.8 115.7l-1 1.1M322.3 121.5l-1.2 0.5M258.7 166.4l1.1 0.7M256.8 112.5l-0.6 0.5M329.9 122.5h0M280.4 129.1l-0.4 1.3" stroke="#1818e0" stroke-width="1.1" stroke-linecap="round" fill="none" opacity="0.82"/>
<path d="M263.4 149.3l-0.6 1.1M265.1 134.1h0M255.7 105.7l-0.1 -0.9M314.6 150.2l0.2 0.7M318.3 109.8l0.5 0.9M255.7 151.1l0.3 -1.5M282 133l-0.5 0.3M262.2 134.1l-0.1 0.8M264.9 123.5l-1 0.7M302.3 176.8l-1.1 -0.5M310.1 171.4l-1 -1.1M329.6 168.4h0M314.6 143.9l0.2 -0.7M248.4 157.2h0M271.1 171.3l0.4 1.4M256.7 152l0.4 -0.5M242.9 125.4h0M313 117.7h0M315.3 120.3l0.7 1.1M335.6 167.3l-0.6 -0.1M255.1 112.9l1.3 -0.1M340.3 159.9h0M280.2 97.6l-0.7 -0.5M267.4 162.7l0.1 0.9M251.1 128.8l1.1 0.8M282.3 117.2h0M318.6 125.7h0M332.5 156.9l1.3 -0.1M310.3 162.2l0.8 0.4M330.7 105.4l-0.7 0.5M264.2 142.1l-1.2 -0.6M329.9 114.3l-0.9 -0.2M270.9 166.6h0M272.4 117.6l-0.9 -0.1M292.9 168.3l-0.6 -0.3M245.1 110.6l0.3 0.5M254.2 147.8l0.2 -0.6M313.8 142.9l-0.1 -0.6M299 112.5l0.3 -1.2M339.9 167l0.1 -0.7M340 138.2l0.7 -0M330.7 173.3h0M341.9 137.9h0M241.7 129.6l0.5 -1M308.7 118.5l-1 0.1M250.7 131.4h0M326.6 123.5h0M309 129.2l-0.8 0.5M323.4 171.4l0.8 0.6M282.8 109.2l-0.5 0.8M320.5 135l1.3 -0.5M324.6 161.1l-0.3 0.4M277.6 117.5l-0.7 0.5M306.8 150.6l0.9 -0.3" stroke="#2424f8" stroke-width="1.7" stroke-linecap="round" fill="none" opacity="0.82"/>
<path d="M243.5 154.4l0.7 1.1M252 127.9l0.6 -0.5M340.1 102.6l0.1 -0.5M268 109.9l1.4 -0.3M247.8 175.2l0.9 0.4M282.6 110.2l-1.3 -0.7M269.1 109.9l1.4 -0.2M315.7 144.7l0.7 0.9M311.9 129.6l0.2 -0.8M286.5 98.4l0.5 -0.5M337.6 150.3l-1.2 -0M284.8 111h0M305.3 109.8h0M338.6 143.3l-1.1 0M334.8 152.5l1.1 0.3M291.3 101.2h0M275.5 163.3h0M263 164.4h0M333.2 145.2h0M332.1 153.6h0M298.4 161.4l-0.3 0.6M291.5 96h0M273.5 125.6h0M251.7 142.8l-1 0.6M275.5 141.1l-0.5 0.9M317.2 118.8l-0.5 1.4M255.1 121.5l0.1 -1M259.7 156.7l-0.6 0.6M280.1 107.7l-0.4 0.5M311.8 141.1h0M325.8 107l0.5 0.5M288.9 103.4l1.2 -0.3M255 176h0M330.7 137.3l-1.2 0.1M258.2 166.5l-0.8 -0.4M299.9 114.1l-1.1 -0.2M307.5 106.6h0M342.5 99l0.1 1.1M260.7 116.5l-0.3 -0.6M255.7 114.6h0M261.8 109.9h0M254.9 161l-0.6 -0.7M305.6 173l1.3 0.3M314.2 176.6l0.8 1.1M320.9 144.4l1.3 -0.9M340 113.1l-0.7 -0.5M291 167.7l0.6 -1.1M306.9 172.8h0M239.8 146.8h0M273.2 95.7h0M247.1 153.9l0 0.6M266.2 125.3h0M323.2 171.6h0M336.4 158.7h0M299.6 159.9h0M281.4 116l-0.6 0.6M339.4 133.1h0M261.9 136.6h0M260.3 149.6l0.3 0.7M340.6 141.3h0M332.7 144.5l-0.3 -1.3M280.2 123.8h0M318.1 121.3l0.1 0.8M264.5 166.9l0.9 0.6M301.5 108.3h0M262.5 99.8h0M274.3 103.9h0M305.6 163.1l-0.5 -1.2M275.1 154.5h0M312.5 147.3l0.4 -0.8M245.4 142.1l1.3 0" stroke="#1010b8" stroke-width="1.1" stroke-linecap="round" fill="none" opacity="0.82"/>
<path d="M290.7 104.8l1 0.2M278.2 136.4l0.6 1.1M259.7 138.5h0M285.7 99.8l0.1 0.5M243.5 158.7h0M284.2 99.3l0.8 0.5M335.4 132.3l0.9 -0.7M255.4 116.8l-0.9 0.7M345.3 168.1l0.1 -0.6M307.7 151.1l-1.1 -0.7M341.5 172.3l0.6 -0.3M259 174.6l-0.3 1.2M345 129l0.9 -0.4M344.2 105l1.5 0M258.1 114.9l0.6 0M332.9 159.7h0M278.4 165.4l0.9 -0.7M310.2 130.1l1.2 -0.2M257 113l0 -0.8M337.6 145.1l0.7 -0.2M266 107.5l-0.7 -0.5M313.4 141.6h0M322 164.1l-0.5 1.4M274.5 162.8h0M292.3 102l1.6 -0.4M243.3 117.2l0.3 -0.6M249.2 128.9l1.4 0.2M257.2 115.8l-0.5 -0.9M299.9 109.1l1.5 -0.2M274.4 159.4h0M273.8 104.5l0.3 0.4M302.5 102.9l-0.5 -0.8M272 157l1.1 -0M345.8 141.1l-0.3 0.8M265.8 131.4l-0.1 1.5M345.5 130.7l1.1 0.7M337.5 163l-1.4 -0.8M295.6 103.3h0M331.7 157.9l0.8 0.2M326.7 102.4l-0.9 1.3M328.7 146l-0.4 1M330 160.5h0M271.6 161.8l-0.2 -0.8M241.5 144.3l-0.2 1.2M271.9 171.6l0.4 0.5M314.2 120.9h0M271.5 116.3l-0.5 0.9M322.5 152.4l-0.3 -0.7M309.9 129.4l-1.3 0.4M269.3 164.6h0M342.3 138.4l0.7 -0.6M318.5 95.3l-0.8 -0.5M311.6 119.1h0M252 131.5l-1 -0.5M261 129.9l-0.6 0.2M259.9 119.8l0.9 0.2M284.4 169.6l0.1 0.5M331.5 126h0M267.8 112.3l-1 0.7M314.3 111l-1 0M313.5 117.3h0M258.6 118.2h0M305.6 165.1l-0.1 0.9M257.7 162.5l0.8 1.1M275.3 144.3l1.2 0.3M257.7 163.6h0M259.1 116.2h0M258.4 103.7l-0.9 -1.2M278.6 121.4h0M326.9 123.2h0M252.6 106.9h0M311.5 169.8l0.3 -1.2M306.5 176.3h0M297 102.9l-0.7 1M278.8 128.4l1.1 0.9M345.1 121.2l-0.9 -0.6M250.6 135.9l-0.6 0.1M343.6 165.1h0M321.3 161.2l0.6 0.5M326.3 158.2h0M310.2 114.1h0" stroke="#1010b8" stroke-width="1.7" stroke-linecap="round" fill="none" opacity="0.82"/>
<path d="M240.5 148.3l0.2 0.6M336.7 132.3l-1 -0.4M274 149h0M267.8 117.9l0 -1.1M271.3 102.9h0M249.9 168.9l0.7 -0.9M318.6 165l-0.3 0.6M278.2 95.8h0M241.5 160.8l0.3 0.5M309.3 101.3h0M322.1 172.7h0M247.7 127h0M274.2 128.3h0M251 168.3l0.7 -1.2M294.9 116.8h0M323.6 114.6h0M327.9 164.4l-0.1 -1.6M242.1 117.5l0.7 -1M266.6 176.4l1.3 0.2M272 174.1l0.9 0.1M242.2 145.9l-0.4 0.4M294.2 166.1l0.5 0.2M319.1 171.7l-1.1 -0.4M326.1 120.9h0M326.8 125.8l-1 -0.9M259.9 168.7l1.2 1M305.8 163.1l0.4 1.1M333.2 101.4h0M260.1 135.7l0.5 -0.3M335 158.8l0.1 1.1M329.7 112.1l-0.3 1.4M332.5 112h0M264.4 119.5l-0.1 0.7M254.5 151.4l-1.1 0.7M265.8 111.5l0.2 1.2M302.3 155.9l0.7 0.9M273.2 114.4l-0.9 0.4M266.7 100.4l-0.4 1.1M294.8 168.1l0.8 0.1M297.7 163.2l-1 -0.3M301.4 158l0.3 0.5M314.2 175.3l-0.2 -1.4M271.5 139.7l0.9 -0.3M326.5 175.4h0M303.6 99.8l0.5 -0M287.8 166.9l-0.5 -1.4M313.4 134.6l-1.4 -0M258.4 127.3h0M254.7 161.3l-0.3 -1M331.6 114l0.4 0.9M320.5 170.9l0.8 -0.5M247.6 114.4l0.5 -0.2M321.5 103.8h0M314.9 99.4l0.5 1.1M322.5 100.4l0.2 -1.5M332.4 147.1h0M262.6 104.3l-0.4 -1M272.8 161.8l0.3 -0.8M330.4 103.9l-0.7 -0.1M260.3 164l-0.3 -1M325.8 141.8l-1.2 -1M244.3 119.3l-0.7 0.8M316.3 145.1l-1.5 -0.1M338.5 132.3h0M332.7 152.6l-1.5 0.3" stroke="#1c1cd0" stroke-width="1.4" stroke-linecap="round" fill="none" opacity="0.82"/>
<path d="M300.8 111.7h0M249.4 126.4h0M286.1 175.2h0M272.9 98.8h0M251.1 100.6h0M264.8 134.1h0M311.3 152h0M259.8 124.4h0M266.7 159.7h0M245.1 131.7h0M331.8 129.9h0M247.5 165.2h0M259.7 157.5h0M279.1 163.4h0M322.5 104h0M246.7 102h0M271.9 121.9h0M343.2 135.5h0M268.8 146.1h0M307.4 105.7h0M272 127h0M309.8 97.2h0M298.5 116h0M298.4 164.9h0M326.3 163.6h0M331.4 156.8h0" stroke="#e02838" stroke-width="0.9" stroke-linecap="round" fill="none"/>
<path d="M278.7 112.7C278.1 113.9 285 116.5 286.1 119.5C287.1 122.6 286.2 126.9 284.7 131C283.2 135.1 278.7 139.4 277.1 144.1C275.4 148.7 274 155.2 274.9 158.8C275.9 162.3 280.1 164.4 282.8 165.3C285.5 166.2 288.5 165.6 291 164C293.4 162.4 295 158.6 297.5 155.8C299.9 153 303.8 150.9 305.7 147.3C307.6 143.7 308.4 138.6 308.9 134.2C309.5 129.9 310 123.6 308.9 121.2C307.9 118.7 304.9 120.1 302.4 119.5C299.9 119 296.4 119.1 294.2 117.9C292 116.7 291.9 113 289.3 112.2C286.7 111.3 279.2 111.4 278.7 112.7Z" stroke="#b8d830" stroke-width="0.7" fill="none" stroke-linecap="round" stroke-linejoin="round" opacity="0.25"/>
<path d="M278.6 112.7h0M281.5 115.3h0M283 116h0M278.7 163.4h0M308.3 137.5h0M309 136.8h0M293.4 117.7h0M282.7 112h0" stroke="#f04040" stroke-width="1.1" stroke-linecap="round" fill="none"/>
<path d="M278.9 113.4h0M281.4 136.9h0M278.9 141h0M277 143.6h0M277.2 144.5h0M274.4 156.1h0M274.4 158.6h0M275.6 160.8h0M291.6 163.9h0M300.7 152.7h0M301.1 151.9h0M301.9 151.6h0M306.4 146.1h0M309.5 131.2h0M309.5 129.6h0M304.4 119.8h0M300.5 119.2h0M295.6 119h0M295.1 118h0M285.9 111.2h0M278.9 112.6h0" stroke="#b8d830" stroke-width="1.1" stroke-linecap="round" fill="none"/>
<path d="M280.4 115.5h0M274.7 152.9h0M299.7 154h0M302.6 151.3h0M303.2 150.7h0M302.9 119.5h0M292.9 116h0M283.5 111.2h0" stroke="#f04040" stroke-width="1.3" stroke-linecap="round" fill="none"/>
<path d="M282 116.1h0M286.5 119.5h0M285.5 125.1h0M274.6 154.5h0M296.6 156.5h0M297.3 156.1h0M297.6 155.3h0" stroke="#f04040" stroke-width="1.4" stroke-linecap="round" fill="none"/>
<path d="M284.7 116.5h0M276.3 147.6h0M276.4 148.4h0M274.5 150.4h0M287.9 165.4h0M308.3 140h0M309.6 126.4h0M298.1 118.8h0M288.3 111.8h0M284.3 111.7h0M281.1 111.9h0" stroke="#50e848" stroke-width="0.8" stroke-linecap="round" fill="none"/>
<path d="M285.4 118.2h0M286.5 123.6h0M285.5 129.1h0M281.7 136.1h0M278.5 141.6h0M277.1 142.7h0M276.7 146h0M274.8 155.3h0M274.4 157.8h0M307.7 143.1h0M307.9 139.1h0" stroke="#b8d830" stroke-width="0.8" stroke-linecap="round" fill="none"/>
<path d="M285.5 119h0M286.5 122.8h0M285 130.6h0M284.7 132.2h0M280.4 138.1h0M279.4 139.4h0M306.8 145.4h0M309 136h0M308.8 131.9h0M294.3 117.8h0M292.5 115.3h0M291.7 114.9h0M290.4 112.9h0M286.7 111.8h0" stroke="#b8d830" stroke-width="1.4" stroke-linecap="round" fill="none"/>
<path d="M285.9 121.3h0M284.7 165.6h0M299 154.4h0M303.8 149.1h0M305.2 148.2h0M309.7 125.6h0M309.6 124.8h0" stroke="#f04040" stroke-width="0.8" stroke-linecap="round" fill="none"/>
<path d="M286.1 126h0M283.6 132.6h0M275.4 149.8h0M308.6 135.1h0M309.5 128h0M287.5 112h0M280.2 111.6h0M279.5 112.1h0" stroke="#50e848" stroke-width="1.4" stroke-linecap="round" fill="none"/>
<path d="M285.1 126.6h0M275.1 148.9h0M277.5 162.4h0M278.4 162.6h0M287 165.3h0M294.1 160.7h0" stroke="#50e848" stroke-width="1.1" stroke-linecap="round" fill="none"/>
<path d="M285.9 127.6h0M283.5 133.5h0M283.2 165.1h0M285.5 166.8h0M307.7 140.6h0M309.7 123.2h0M308.5 120.1h0M289.1 112h0" stroke="#50e848" stroke-width="1.3" stroke-linecap="round" fill="none"/>
<path d="M281 137.6h0M279.9 138.8h0M278.8 140h0M289.4 165h0M290.1 164.6h0M294.8 159.2h0M295.6 158.8h0M300.6 153.8h0M308.2 141.6h0M309.3 128.8h0M308.2 122h0M301.3 119.2h0M296.6 118.2h0" stroke="#b8d830" stroke-width="1.3" stroke-linecap="round" fill="none"/>
<path d="M289 175.4C289.9 174.6 292.5 171.8 294.2 170.2C295.9 168.6 296.7 167.3 299.1 165.6C301.6 164 305.9 160.5 308.9 160.4C311.9 160.3 316.5 163.7 317.1 165.3C317.7 166.9 313.3 169.4 312.5 170.2" stroke="#78e828" stroke-width="0.9" fill="none" stroke-linecap="round" stroke-linejoin="round" opacity="0.55"/>
<path d="M289.6 174.8h0M296.7 166.9h0" stroke="#f05030" stroke-width="1.4" stroke-linecap="round" fill="none"/>
<path d="M290.2 174.2h0M292.8 171.8h0M298.6 166.5h0M304.8 161.4h0M307.3 160.5h0M309.1 160.3h0M314.1 162h0M315.2 163.6h0M313.4 168.5h0" stroke="#78e828" stroke-width="1.7" stroke-linecap="round" fill="none"/>
<path d="M293.5 171.2h0M294.1 170.6h0M299.2 165.7h0M300.8 165h0M301.1 163.9h0M301.9 163.6h0M302.8 163.3h0M313.3 161.7h0M316.6 165.6h0M316.5 168.1h0" stroke="#78e828" stroke-width="1.1" stroke-linecap="round" fill="none"/>
<path d="M294.3 169.6h0M294.6 168.7h0M303.9 161.7h0M305.7 161.3h0M306.5 161h0M310 160.4h0M311.8 160.7h0M312.6 161h0M314.6 168.6h0" stroke="#78e828" stroke-width="1.9" stroke-linecap="round" fill="none"/>
<path d="M295.7 168.4h0M299.9 165.2h0M308.3 160.9h0M310.9 160.5h0M314.3 163.3h0M316 163.9h0M317.3 166.2h0M316.2 166.6h0M315.5 168.4h0" stroke="#78e828" stroke-width="1.4" stroke-linecap="round" fill="none"/>
<path d="M296.6 168.1h0" stroke="#f05030" stroke-width="1.9" stroke-linecap="round" fill="none"/>
<path d="M297.9 167h0" stroke="#f05030" stroke-width="1.7" stroke-linecap="round" fill="none"/>
</g></g>
<clipPath id="c9"><rect x="347" y="95" width="107.3" height="82.1"/></clipPath>
<g clip-path="url(#c9)">
<g filter="url(#bl)">
<path d="M373.8 124.2h0M360.5 126l0.6 -0.1M350.8 171.6l0.6 0.1M434.1 99.2l0.1 0.6M451.5 102.4h0M386.1 130.9l0.5 0.4M353 153.5l-0.4 1M347.8 167.7l-0.5 -0.8M433.5 146.2h0M445.1 167.8l0.7 -0.4M349.7 173.6l1 -0.5M365.9 130.4h0M356.1 148.7h0M442.6 118.9l0.5 -0.3M433.6 120l0.7 -1M400.1 115.2h0M421 147.1h0M417.9 177.1h0M386.5 135.7l0.8 -0.7M372.6 131.4l1.3 -0.7M373.7 117.3l1.2 -0.6M350.9 115.6l0.7 -0.7M367.7 127.8l-1.1 -0.6M388.7 161.6l1.3 0.5M351.7 151.3h0M446.6 95.2h0M396.2 172.1h0M396.5 172.3h0M445 175.9l1.3 0.1M438.1 119l-0.4 -0.4M389.4 159.3h0M356.3 134.5l0.1 1.1M359.1 151.4h0M411.9 152.7h0M362.9 95.6l0.3 0.7M424.6 149l0.5 -0.4M440.3 120.4h0M416.6 154l-0 0.8M430.4 125.4h0M371.6 174l-0.6 0.7M394.8 155.9l0.8 -0.4M401.9 168l1.4 -0.7M389.6 155.6l-0.9 -0.3M391.9 157.3l1.2 0.9M409.7 160.8h0M381.8 135.1l0.3 -1.3M442.4 129.3h0M397.6 108.5h0M363 155.2l-0.4 -0.5" stroke="#1c1cd0" stroke-width="1.7" stroke-linecap="round" fill="none" opacity="0.82"/>
<path d="M452.1 102.2l0 -1.1M433.9 127.8l0.4 1.3M352.5 104.4h0M367.5 157h0M437.2 154.5l1.1 -0.9M356.7 140.9h0M440.7 118h0M370.7 124.3l0.5 1.2M453.9 158.5l-0.1 -1M434.2 144l0.1 -0.7M400.2 112.4l0 0.6M397.3 161.9l-1.2 -0.7M432.2 111.4l-0.4 1.4M386.9 140h0M430.9 142.9l1.2 0.5M438.1 121.9l-1 -0.4M362.1 132.8l-0.5 0.9M398.2 111.5h0M439.2 97.3h0M367.3 123.4l1.3 0.9M443.7 165.6l0.3 0.7M444.6 118l1 -1M439.5 174.3l0.8 -1M449.9 107.5l-0.2 1M360.1 129.8l0.3 -0.5M439.2 107.1l0 1.2M357.9 139.8l-0.5 -0.1M401 100.9l-1.1 -1M436.1 126.8l-1.4 0.3M393.1 152.1l-0.7 1.2M405.4 161.3l0.5 -0.3M441.6 131.2l0.9 0.6M399.9 161.2l0.9 0M384.7 142.3l0.9 0M359.3 105.5h0M358.2 143.1h0M359.7 135.5l-0.1 1.4M352.5 111.7h0M374.9 162.3l-1.5 -0.2M440.1 146.3l-0.1 0.8M386.4 134l1 -0.2M388.4 137.5h0M439.5 126.8l0.1 -0.7M401 172.3l-0.6 -0.1M433.1 169.8h0M452.6 121.4h0" stroke="#2424f8" stroke-width="1.7" stroke-linecap="round" fill="none" opacity="0.82"/>
<path d="M443.5 101h0M399.4 99.7l1 -0.8M364.2 95.6l-0.3 -1.3M355.5 121.6l-0.2 0.6M380.1 170.4h0M440.7 132.7l-0.3 -1.3M439.7 157.4h0M404 97.2l0.6 0.7M426.1 109l-0.6 0.1M380.8 174.1h0M443 117.8h0M349.6 150.9l1 0.2M404.5 109.7h0M401.3 96.6h0M378 130.6l0.7 0.6M454.1 160.5l0.6 -0.4M364.2 139.7l-0.9 0.5M373.5 95.2l0.4 0.5M384.3 141.8l0.9 0M427.1 114.2l-0.9 0.7M389.3 151.2l0.3 0.7M359.4 116.2h0M447.7 108.4l-1.1 -0.5M349.3 170h0M400.1 168.8l1.4 0.5M356 159.4l0.8 0.3M430.1 150.8h0M441.7 166.3l0.4 -0.8M402.4 163.6l0.7 1.2M380.3 134l-1.5 -0.3M361.7 159.5h0M375.2 128.8l-0.9 -0.9M398.6 97.4l-0.5 1.3M431.8 115.5l-0.4 -0.7M437.2 132.1l-0.8 -0.5M383.7 139.2l0.4 0.3M430.8 117.4h0M437.8 166.5h0M355.8 146.4h0M391.1 152l-1.3 0.5M353.4 161.4l-1.3 -0.4M405.9 158.4h0M388.5 139.5h0M409.5 159.4l1.1 -0.5M390.9 151.9h0M438.8 170.9h0M440.5 135.3h0M384.7 171.2l-0.1 -1.5M353.9 146.9l-0.8 0.8M347.3 141.1l0.6 -1.1M448.9 165.4h0M370.5 154.9h0M364.3 134.4l0.8 -0.1M439.7 172.3l0.1 1.5M410.7 154.9h0M412.6 148.6l-1.4 -0.5" stroke="#1010b8" stroke-width="1.7" stroke-linecap="round" fill="none" opacity="0.82"/>
<path d="M434.9 110.4l1.5 0.2M355.2 172.3l0.3 1M443.7 97.8l0.6 0.2M366.1 139.7l1.5 0.1M366.1 145.8l1 0.6M401.2 157.4l-1.1 0.4M434.2 176.2l-0.6 -1M447.9 167.7l-0.7 -0M348.2 107.6h0M410 150.6h0M382.1 174.5l0.8 -0.4M406 100.9h0M436.4 118.6h0M442.6 123.3l-0.6 -0.4M393.8 175.6l-1.1 0.1M354.2 155.4l-0 0.8M361 126.4l0.5 0.3M395.9 102.3l-0.9 -0.6M366.6 152.7h0M350.6 151.3l-1.5 0.3M360.8 143.5h0M429.7 175.1l0.3 -0.8M435.1 129.8h0M355.2 155.6l-0.2 -1.4M402.2 167.2l-1 -0.8M348.4 160.3l1.5 0.5M398.7 166.1l1.2 0.9M435.6 107.6l0.4 -1.1M440.6 135.5h0M358 138.4l0.4 -0.9M423.7 145.5l0.9 0.6M394.2 124.6h0M351.3 170.3l0.6 0.2M368.7 159.7l0.4 0.5M374.5 176.2l1.1 -0.1M444.4 95.6h0M384.6 174.8l1.2 0.6M405.1 95.4h0M362.6 134.9l-1.3 0M452.9 105.5l-0.2 -1M405.8 155.6l-0.9 -1.2M449.1 131.4l0.6 -1.4M355.9 156.2l-1.3 0.6M376.3 134.3h0M375.4 123.9h0M400.9 169.7l1.4 -0.7M362 132.4l0.6 -1M451.4 108.2l-0.7 -0.6M395.8 109.8h0M439.3 148.7h0M401.8 102.3l0.5 0.2M390.4 154.1l-0.9 0.2M431.9 111.9l0.5 -0.3M423.8 122l-0.4 0.6M363.7 136.8l-0.6 -0.4M360.9 148.3l-0.9 -0.2M352.3 141.6l-1.1 1" stroke="#1818e0" stroke-width="1.7" stroke-linecap="round" fill="none" opacity="0.82"/>
<path d="M352.2 173l-0.7 -0.2M391.6 176.8h0M425.6 118.6h0M362.6 142.4l0.1 0.8M391.2 131.4l0.3 -0.7M433.1 167.5h0M407.5 160.6l0.7 0M447.3 152.9l0.8 -0.1M360.8 152.3l-0.1 -1M377.4 131.8l-0.5 1.3M408.9 152.5l-0.8 0.2M370.4 173.6h0M448.7 101.9l0.2 -0.6M431.4 170.5h0M440.7 116.4h0M347.1 139.2l0.9 -0.6M450.7 120.3h0M388.5 144.7h0M403.6 112.7l-0.5 0.1M440 127.1h0M435.9 128.7l-1.4 0.3M361.8 143.4l1.4 0.4M402.5 99.4h0M377.1 175l-0.5 -1.5M355.6 138.7l-1 -0M351.1 146.9h0M397.4 112.5l-0 -0.5M387.7 140.2l0.5 -1.5M367.3 159.5l-0.1 1.1M352.8 162.5h0M387.4 136.1l-0.8 0.3M398.5 109.5l-0.4 0.8M389.7 166.5l-0.3 0.5M431.7 125.5h0M389.1 167h0M428.6 116.8l0.6 0.8M378.8 169l0.5 1.5M348.4 144.2h0M351.8 143.2h0M437.9 160.2h0M429.5 108.2l-0.6 0.5M354.3 113.6l0 -0.9M360.8 95.1l-0.3 -1.4M442.7 120.2l-0.6 -0.3M358.5 107l0.7 0.3M363.6 132l0.4 -1" stroke="#1010b8" stroke-width="1.1" stroke-linecap="round" fill="none" opacity="0.82"/>
<path d="M355.5 114.5h0M354.4 154.3h0M445.5 125.7h0M371.3 157.8l-0.7 0M390.1 95.1l0.8 1M435.1 126.7l-0.6 -0.1M348.1 154.4l0.9 -0.5M355.2 153l0.7 1.1M449.2 103.6l-1.4 0.4M430.7 168.9l-0.1 0.6M374.9 120.2l0.9 -0.1M388.3 135.3l-0.6 1.3M407.5 159.4l0.3 0.4M433 130.3l-0.2 0.8M371.1 160.2h0M362.2 100.3l-0.7 1.4M448.9 122.4h0M373.6 160.9h0M368.2 96.5l0.6 1.1M449.6 131.8l0.3 -0.4M373.7 128.4h0M442.9 97.8l1.2 -0.9M361.7 147.8l0.7 -1.3M387.4 132.5l1.1 -0.5M369.9 96.1l0.3 1.3M403.5 163.7l-0.6 -0.5M386.3 167.8l1.4 0.1M415.6 149.4h0M364.9 124.2l-0.5 -1.1M431.6 101.5h0M432.8 102.8h0M352.1 153l0.9 -0.7M438 129.8h0M429.9 145.8h0M447.1 101.8h0M424 150.1l0.7 -0.3M353.4 169.8h0M392.2 176.3l-1.4 -0.6M420.5 173.4h0M370 125h0M396.6 113.7l0.4 -0.9M366.6 149.7l1.2 0.5M350.1 117.9l0.8 1.2M390.8 128.2l-0.3 1M447.3 105.6h0M380 134l1.1 -0.5M430.4 127.8l0.2 -0.5M387.7 151.1h0M445.2 164.5l-0.5 0.1" stroke="#1c1cd0" stroke-width="1.4" stroke-linecap="round" fill="none" opacity="0.82"/>
<path d="M453.6 130.7l1.3 -0.4M429.1 143.2l-0.6 -0.6M364.8 150.2h0M382.3 137.2l-0.6 -0.1M425.4 174.3h0M353.8 175.6l0.5 -0.1M416.4 157.4l0.1 -0.8M358.1 136.7l-1.4 0.1M430.7 131l-0.9 -1.1M438.2 128.3h0M363.6 155.4h0M392.6 161.4l0.3 1.2M441.6 129.3h0M370.8 100.7l0.1 -1.5M401.5 163.5l-0.8 0.6M397.6 100.1l0.1 -1.3M355.4 170.7l1.2 0.4M445.3 161.2h0M431.3 106.5h0M376.8 167.8l0.6 0.7M360.9 152.9l-0.4 1.4M424.7 121.9l0.9 -0.2M419.9 146.3l-0.9 0.7M360.3 142.2h0M440.3 129.4l0.8 0.4M388 154.1l0.8 0.3M385.8 137.6l-0.1 -0.8M434.8 163.8l0.5 1.2M397.5 103.4l-0.6 -0.8M361.2 152.2h0M356.3 164.2l-0.6 0.9M356.7 149.7l-0.8 0.9M387.2 168.2l0.2 0.6M447.3 163.6l0 0.5M443.6 139l-1 -0.4M429.1 119.3l0.4 0.5M399.9 117.5h0M358.5 154.7l0.8 0.3M452.8 108.3l-1 -0.4M446.8 127.3l0.7 0.4M374 171h0M449.4 150.6l-0.3 -1M376.1 104h0M425.9 149.5l0.2 -1.5M372.7 96.7l0.8 0.8M406.9 162.2l-0.3 -0.9M376.4 126.5l-0.6 -0.3M429.5 129.2h0M453.1 155.7h0M382.6 136.5h0" stroke="#1010b8" stroke-width="1.4" stroke-linecap="round" fill="none" opacity="0.82"/>
<path d="M404.7 109.2h0M443.2 126.1h0M349.8 140l0.4 -0.5M447.4 99.7h0M366.9 119.3h0M395.8 176.4l0.7 0.6M401.3 100.9l1.5 0.4M368.2 124.4h0M354.5 149.5h0M451.2 119.6h0M439.5 127.3l1 -0.3M442.2 160.5l-0.3 0.4M349.7 171.9l0.1 -0.6M422.6 172.6h0M404.8 101.8l0.7 -0.6M360.6 158.6l-0.1 1.4M367.2 111h0M398.7 96.2l-1.4 -0.2M450.6 118.6l0.7 0.7M388.4 150h0M399.6 109l0.1 -0.8M408.4 164.3l-0.3 -1.5M368.8 135.3l1.1 0.2M402.6 106.9l0.3 0.5M445.7 132.6h0M386.7 99.3h0M434.8 126.5h0M395.3 173.9l-0.9 -0.6M425.9 98.3l-1.4 -0M358.4 137.1h0M389.3 163.4h0M350 152.2l0.2 1M424 163.9l1.5 -0.3M434.9 173.6h0M383.4 163.3h0M349.8 112.8l0.8 -0.3M429.8 143.1h0M452 125.2l0.3 -0.6M438.2 176.8l-0.8 1.1M355.6 102.2h0M426.3 174.3h0" stroke="#2424f8" stroke-width="1.1" stroke-linecap="round" fill="none" opacity="0.82"/>
<path d="M402.8 105.1l-0.6 -0.5M349.2 138.9l-1.4 -0.2M441.4 143.5l-0 1.4M402.2 106.4h0M423.5 142.9l0.7 0.4M371.8 164.4l-0.6 0.3M348.1 115.8l-0.6 0.9M355.5 153.3l0.6 0.4M417.6 146.5l-0.7 -0.6M403.5 161.1l0.8 -0.4M348.4 112.1l0.2 1.5M445.9 133.9l1.4 -0.4M356.4 111.7h0M368.5 126.8l-0.8 -0.7M409.1 154.2l0.3 -0.9M403.4 162.1h0M363.5 144.4l-0.7 -0M370.7 122.4l1 -1.1M361 142.9l0.9 0.3M399.5 176h0M436.2 132.4l-0.5 0M373.8 129.3l-0 -0.6M385.3 138.8h0M367.1 162.5h0M359.8 95.5l-0.2 -1.3M404.8 103.9l0.1 1.2M439.3 134.3l-1.6 0.2M359.9 95.3h0M379.6 131.5h0M366.6 126.8l-0.4 0.4M421.7 122.5h0M432.5 148.5l0.5 -0.2M370 99.2h0M398.6 155.6l0.5 0.5M438.5 136.6l0.7 0.6M383.5 101.1h0M403.3 164.8l-1.3 -0.1M430.2 142.8l1.4 0.3M358.5 155.9l0.1 0.5M383.8 138.4h0M388.3 100.2l-0.7 -1.2M360.1 149.1l-1.1 -0.5M452 107.5l0.5 -0.3M358 105.5h0M450.6 114.5h0M368.9 134.7l-1.2 0.7M452.9 158.8h0M347.1 140l-0.6 1M350.9 173.5l-0.7 0.8" stroke="#1818e0" stroke-width="1.4" stroke-linecap="round" fill="none" opacity="0.82"/>
<path d="M450.2 144.5h0M414.6 156.5l-0.6 0.5M388.4 139.2l-0.6 -0.1M438.3 116.8l-0.8 -0.2M444 139.7h0M364.2 162.4l-0.3 -1.2M413.9 154l-1 0.4M446.1 121.1l-0.9 1.1M396.6 109.7l0.4 0.8M356.9 142.9l0.6 0.2M395.2 171.2h0M454 112.5l-1.2 0.3M392.8 157l-1.2 -1M372.6 128.3l-0.6 -0M358.2 97.7l-0.8 -0M403.5 155.2h0M399.7 162.6l1 0.5M404.7 113.7h0M369.5 175.1l-1.1 0.3M379.5 101.6l1.2 0.3M353.2 143.9l-0.4 0.8M433.5 114.5l0.7 -0M361.2 141l-0 -0.9M447.1 104.3l-1 -1.2M445.5 114.4h0M440.5 117.7h0M377.2 171.2l0.4 0.5M449.2 100.9l-1 -0.7M353.4 164h0M349.4 149.5l1.5 -0.6M443.9 101.4h0M433.3 118.4h0M426.9 113.2l1.1 -0.3M394.3 109.4h0M412.9 155.4l1.4 -0.1M411.5 162.2h0M387.8 131.2l-1 -0.4M453.3 101l-0.5 0.3M384.9 135.3l-1.2 0M359 158.4h0M439 135.2h0M450.3 114.8l1.2 0.2M400.9 113.4h0M351.4 149h0M437.1 126.6l0.7 -0.6M359.6 140l0.7 -0M425.1 116.5h0M378.5 165.2h0M365.3 161.1l1.2 -0.7M370.6 127.1l-1.3 0.3M349.2 116.5h0M414.5 148.8h0" stroke="#1818e0" stroke-width="1.1" stroke-linecap="round" fill="none" opacity="0.82"/>
<path d="M360.5 96.3h0M361.9 157h0M447.4 96.5l0.5 -0.8M403.4 160.9l-0.3 -1M448.4 104.6l-0.9 0.2M364.8 153.7l1.5 -0.2M453.1 119.6l-0.8 0.3M359 169.7l-0.3 1.2M349.2 139.5l0.3 0.6M374.1 161.3h0M385.1 135l-0.4 -0.4M402 171.8l-0.5 -0.7M380.6 164.8l0.5 0.1M362.4 137.9l0.7 0.6M354.7 154.7l0.5 0.3M395.8 99.1h0M393.7 121.4l-0.7 0.1M435.6 173.7l0.3 -0.4M366.8 102.1l-0.7 1.1M431.9 150.1l-0.8 -1M347.4 118.7h0M355.5 139.5l-1.1 0.4M430 98.5l-0.8 -0.3M394.2 170.8l1.3 0.7M371.3 123.9l0.2 1.3M368.7 126.9l0.3 -0.4M452.1 105.9h0M377.8 135.2l0.8 0.8M349.3 174.4l-1.6 0.1M394.4 168.8h0M423.5 175.7l0.2 0.9M445 101.6l0.5 -1.3M448.6 97.2l0.3 -1.2M437.8 129l-0.1 0.6M416.3 147.9l0.4 -0.8M364.6 141l-0 1.1M448.8 162.6l-0.1 -0.8M369.1 172l-0.7 1.1M404.2 98.8l-0.4 -1.4M426.7 98.6h0M358.2 146.3l1.2 -0.3M431.3 119.7l0.9 1.2M377.4 167.1h0M363.5 136.8h0M388.2 142.3l0.6 0.8M367.7 156.9h0" stroke="#1c1cd0" stroke-width="1.1" stroke-linecap="round" fill="none" opacity="0.82"/>
<path d="M367.9 127.7h0M392.9 108.6l0.4 -1.5M371.7 120.6l-0.7 0.2M387.2 176.9l0 -0.6M367.2 133.8h0M370.7 119.3h0M431.1 99.5l1.3 -0.5M450 105.8h0M383.4 165.3h0M354 140.1l0.1 -1.5M394.9 113h0M374.5 132.8l0.5 0.6M415 152.8l-1.4 0.1M355.6 112.9l-1.2 -0.3M347.5 168.7l-0.6 1.2M453.5 122.5l-0.6 0.3M450.5 116l0.6 0.2M432.9 144.5l1.2 0.5M441.5 160.2l-0.5 0.3M425 161.1l-1.2 -0.2M362.8 132l0.3 0.5M361.7 139.4l0.1 0.7M402.6 105.2l-0.9 0.5M359.1 156.8l-1.3 0.6M401.6 163.2h0M433.3 102.3h0M448.5 103.8l0.1 -1M357.7 146l-0.5 -0M451.2 172.7l1.3 -0.5M434.2 127.4h0M406.2 165.9l-0.1 0.6M378.6 169.4l-1.3 -0.3M405.1 154.4l0.7 1" stroke="#2424f8" stroke-width="1.4" stroke-linecap="round" fill="none" opacity="0.82"/>
<path d="M397.9 164.1h0M416.7 155.1h0M366.8 156.5h0M438.3 166.8h0M365.8 152.8h0M397.4 155.7h0M359.2 164.5h0M362.7 154h0M430.1 155h0M372.1 169.5h0M443.7 158.2h0M359 137.6h0" stroke="#e02838" stroke-width="0.9" stroke-linecap="round" fill="none"/>
<path d="M366.3 142.4C367.3 139.8 370.3 134.4 372.8 133.4C375.2 132.5 378.8 134.4 381 136.7C383.2 139 384.5 143.4 385.9 147.3C387.3 151.2 389.7 157.6 389.5 160.1C389.2 162.6 387 162.7 384.2 162.4C381.5 162 375.8 160.2 372.8 157.9C369.8 155.7 367.3 151.5 366.3 149C365.2 146.4 365.2 145 366.3 142.4Z" stroke="#b4dc34" stroke-width="1.3" fill="none" stroke-linecap="round" stroke-linejoin="round" opacity="0.55"/>
<path d="M366.8 142.6h0M366.4 141h0M367.7 140.2h0M378.7 133.9h0M380.2 136.4h0M383.5 143.3h0M384.4 144.3h0M386.6 150.6h0M375.9 160.4h0M375.3 158.6h0M366.7 149.3h0" stroke="#b4dc34" stroke-width="2.9" stroke-linecap="round" fill="none"/>
<path d="M368.4 139.1h0M384.4 141.5h0M386.2 149.3h0M387.6 162.6h0M382.4 161.7h0M379.6 161.8h0M378.6 160.8h0M373.2 157.2h0M367.4 151.9h0M367 150.7h0M366 146.9h0M366.3 143.2h0" stroke="#b4dc34" stroke-width="1.7" stroke-linecap="round" fill="none"/>
<path d="M368.3 137.5h0M369.7 136.8h0M370.3 135.6h0M373.3 132.9h0M374.7 132.8h0M376.1 132.8h0M380.9 137.5h0M381.4 138.7h0M381.8 139.8h0M389.1 159.3h0M373.4 159.3h0M371.6 157.1h0" stroke="#b4dc34" stroke-width="2.5" stroke-linecap="round" fill="none"/>
<path d="M372 133.5h0M379.8 134.8h0M380.9 162.1h0M371 155.8h0M369.7 155.3h0M368 153.1h0M366.1 148.2h0M365.5 145.7h0M366.4 144.6h0" stroke="#b4dc34" stroke-width="2.2" stroke-linecap="round" fill="none"/>
<path d="M382.7 140.8h0" stroke="#f03838" stroke-width="2.9" stroke-linecap="round" fill="none"/>
<path d="M384.2 145.8h0M388.1 151.5h0" stroke="#58e848" stroke-width="1.7" stroke-linecap="round" fill="none"/>
<path d="M385.6 146.7h0M385.6 148.1h0" stroke="#58e848" stroke-width="2.5" stroke-linecap="round" fill="none"/>
<path d="M387.8 152.9h0M389.3 153.9h0M388.9 162h0M377.4 160.2h0" stroke="#58e848" stroke-width="2.9" stroke-linecap="round" fill="none"/>
<path d="M389.4 155.2h0M388.9 156.8h0" stroke="#f03838" stroke-width="2.2" stroke-linecap="round" fill="none"/>
<path d="M389.3 160.6h0" stroke="#58e848" stroke-width="2.2" stroke-linecap="round" fill="none"/>
<path d="M386.3 162.2h0" stroke="#f03838" stroke-width="2.5" stroke-linecap="round" fill="none"/>
<path d="M384.8 163.5h0M383.7 162.1h0" stroke="#f03838" stroke-width="1.7" stroke-linecap="round" fill="none"/>
<path d="M405.8 112.7C404.7 114.6 402 120.8 399.3 124.4C396.6 128 391.2 130.7 389.5 134.2C387.8 137.8 388.1 142.3 389.1 145.7C390.2 149.1 393 153.7 395.7 154.8C398.4 156 403 153.6 405.5 152.6C408 151.5 409.9 149 410.7 148.3" stroke="#a8e038" stroke-width="1.4" fill="none" stroke-linecap="round" stroke-linejoin="round" opacity="0.55"/>
<path d="M405.7 112.6h0M400.5 122.8h0M390.2 147.8h0M391.5 148.6h0M391.4 150.3h0M395.6 153.7h0M403.5 153.7h0M407.2 151.6h0M409.6 150h0" stroke="#a8e038" stroke-width="1.8" stroke-linecap="round" fill="none"/>
<path d="M405.7 114.2h0M398.1 126.4h0M392.2 151.5h0" stroke="#a8e038" stroke-width="3.1" stroke-linecap="round" fill="none"/>
<path d="M405.2 115.5h0M396.4 126.7h0M396.6 154.8h0M398 156h0" stroke="#a8e038" stroke-width="2.3" stroke-linecap="round" fill="none"/>
<path d="M403.8 116.5h0M398.1 124.5h0M388.2 142.4h0M404.3 152.2h0" stroke="#f04060" stroke-width="2.3" stroke-linecap="round" fill="none"/>
<path d="M402.6 119.1h0M389.5 133.9h0M388.7 143.8h0M389 145.2h0" stroke="#f04060" stroke-width="1.8" stroke-linecap="round" fill="none"/>
<path d="M401.5 120h0M393.1 129.4h0M390 132.5h0M388.4 139.5h0M400.8 154.9h0M410.2 148.5h0" stroke="#ffe850" stroke-width="2.3" stroke-linecap="round" fill="none"/>
<path d="M401.8 121.9h0M399.3 154.6h0" stroke="#ffe850" stroke-width="1.8" stroke-linecap="round" fill="none"/>
<path d="M399.5 123.8h0M389.1 136.8h0M390.1 146.3h0M406.1 152.6h0" stroke="#f04060" stroke-width="2.7" stroke-linecap="round" fill="none"/>
<path d="M395.7 128.1h0M392.6 153h0M394.1 153.6h0M408.4 150.7h0" stroke="#a8e038" stroke-width="2.7" stroke-linecap="round" fill="none"/>
<path d="M394.3 128.6h0M392.5 130.9h0M401.8 153.5h0" stroke="#ffe850" stroke-width="3.1" stroke-linecap="round" fill="none"/>
<path d="M391 131.4h0" stroke="#ffe850" stroke-width="2.7" stroke-linecap="round" fill="none"/>
<path d="M388.7 135.2h0M389.2 138.2h0" stroke="#f04060" stroke-width="3.1" stroke-linecap="round" fill="none"/>
<path d="M423.8 113C423.3 114.9 420 121.7 420.5 124.4C421 127.2 424.6 128.4 426.8 129.3C428.9 130.3 432.5 130.2 433.6 130.3" stroke="#7a22b8" stroke-width="3.7" fill="none" stroke-linecap="round" stroke-linejoin="round" opacity="0.38"/>
<path d="M423.8 113C423.3 114.9 420 121.7 420.5 124.4C421 127.2 424.6 128.4 426.8 129.3C428.9 130.3 432.5 130.2 433.6 130.3" stroke="#e05070" stroke-width="0.8" fill="none" stroke-linecap="round" stroke-linejoin="round" opacity="0.55"/>
<path d="M423.8 113h0M423.6 113.8h0M420.6 122.9h0M423.5 128.1h0M424.4 128.2h0" stroke="#e05070" stroke-width="1.3" stroke-linecap="round" fill="none"/>
<path d="M423.1 115.3h0M420.9 122.1h0M420.4 123.6h0M426.5 129.4h0" stroke="#e05070" stroke-width="1.5" stroke-linecap="round" fill="none"/>
<path d="M422.7 116h0M428.9 129.8h0" stroke="#e8d840" stroke-width="1" stroke-linecap="round" fill="none"/>
<path d="M422.9 116.9h0M429.7 129.9h0M431.2 129.9h0" stroke="#e8d840" stroke-width="1.3" stroke-linecap="round" fill="none"/>
<path d="M422.3 117.5h0" stroke="#e8d840" stroke-width="1.7" stroke-linecap="round" fill="none"/>
<path d="M421.3 118.9h0M421 119.6h0M420.2 124.6h0M420.1 125.6h0M421.5 126.7h0M422.3 127.1h0M425 128.7h0M427.2 129.7h0M428 130.1h0M430.5 129.6h0M433.6 130.2h0" stroke="#e05070" stroke-width="1" stroke-linecap="round" fill="none"/>
<path d="M421.5 120.6h0M421.2 121.4h0M421 126h0M426 128.6h0" stroke="#e05070" stroke-width="1.7" stroke-linecap="round" fill="none"/>
<path d="M432.8 130.7h0" stroke="#e8d840" stroke-width="1.5" stroke-linecap="round" fill="none"/>
</g></g>
<clipPath id="c10"><rect x="455.5" y="95" width="106.9" height="82.1"/></clipPath>
<g clip-path="url(#c10)">
<g filter="url(#bl)">
<path d="M453 94.2L567.5 94.2L567.5 181.7L453 181.7ZM477.5 116.3L484.1 117.9L492.2 126.1L500.4 129.7L518.4 129.7L523.3 127.7L529.8 124.4L532.6 113L544.6 101.5L567.5 101.5L567.5 134.2L546.2 136.2L536.4 139.5L533.1 147.3L524.9 150.6L515.1 152.2L508.6 159.7L500.4 158.1L493.9 150.6L482.4 145.7L474.3 139.1L469.4 127.7L472.6 116.3Z" fill="#01011a" fill-rule="evenodd" filter="url(#bh)"/>
<path d="M498.6 107.7l-1.3 -0.6M549.9 140.3l-1.1 -0.6M506.6 123.2l-0.5 1.2M507.2 160.3l-0.1 -0.7M478.5 114.1h0M506.3 108.8l0.6 -1.1M554.7 165.8l-1.2 0.3M504.8 127.3l-1.1 0.3M550.5 148.3l0.7 -0.6M556.7 176h0M467.8 127.8l-1.1 -0.4M493.5 109.4l-0.4 -1.2M462.7 139.9l1.1 -0.3M530.8 113l-0.1 -0.5M509.9 103.8l-0.5 0.2M547.3 168.2h0M489.3 152.2l0.8 -0.7M527.8 99.8h0M530.2 148.8l0.7 -0.1M510 168.3l-1.2 0.8M533 97.6l-0.8 -0.4M472.9 113.7l-0.6 0.2M488 166.7h0M478.6 171.7l-0.6 0.2M459.6 131.1l0.3 -0.8M465.7 131.9l-0.9 0.1M495.3 108.7h0M497 173.4h0M499.2 165.6h0M558 168.3l0.6 -1.2M544.7 151.5h0M522 152.1l0.8 0.3M557 170.9l-1.1 -0.6M528.6 100.9h0M561.3 163.9h0M511.5 112.3l-1.5 0.2M495.4 171.9l-0.6 1.2M551.1 136.8l0.5 0.6M504.2 126.7l-0.6 -1.2M516 126.7h0M558.5 143.7l0.2 1.2M469 138.7l-1 -1M541.3 95.6h0M513.7 161l-0.7 1M495.1 121.4h0M487.7 117.5l1.3 0.3M528.2 160.5l-0.9 -0.4M505.4 128.4l-1.2 -1M461.5 105.9h0M537.7 160.8h0M492.2 154.7l-0.9 -1.2M482.4 158.6h0M486.2 169.4l0.4 -0.6M535 163.5l1 0.9M472.4 167.9h0M482.2 151.5l-1 0.8M502.3 165.3h0M520.2 115.4h0M478.7 152.7h0" stroke="#1c1cd0" stroke-width="1.1" stroke-linecap="round" fill="none" opacity="0.82"/>
<path d="M467.8 120.7l0.8 -0.6M561.8 157.7h0M490.8 102.6l-1.2 0.5M531.9 155.5l1.2 -0M548.7 165l-0.4 0.6M483.9 171.2l1.1 -0.6M523.6 103.1l-1.2 0.3M460.7 119.6l-0.6 0.5M463 159.2l1 -0.9M544.9 137.7l0.2 -1M463.7 153.6h0M466.2 123.8l0.8 -1.1M466.3 147.2l-0.9 1.3M459.4 100.8h0M531.3 156.2h0M518 163.7l0.2 -1.1M516.5 109.5l-0.4 1M496 96.9h0M515.5 125.2h0M485.9 151h0M484.2 169.9l-0.4 -1M472.2 153.5l1.4 -0.4M539.6 102.6h0M541.3 150.3l1.6 0.2M525.8 102.2h0M459.3 156.9l0.1 1.4M562 161.2h0M488.8 116.9h0M500.6 97l-0.6 0.5M466.6 148.1l0 0.6M548.8 136.2l-0 -0.6M495 162.3l1.2 -0.2M473.6 108.2l-0.8 0.2M513.4 167.6l1 0.7M490.4 116.3l0.1 -1.2M493.3 122.1h0M517.6 113.9l0.3 -1.4M494.3 111.5h0M545.9 145.7h0M530.1 157.4h0M496.8 104.6l-0.5 -1.3M498.1 97.1h0M503.6 123.4l0.3 -0.4M516.3 119.9h0M555.3 142.7h0M500.4 114.4l0.3 -1.4M496.2 98.2h0M502.5 128.8l-0.5 -0.5M510.9 170.2l0.4 -0.7M459.5 116.4l-0 -1.1M475.6 115.3h0M490.8 118.7h0M493 167.8h0M522.5 115.7l1.2 0.2M506.6 169.3l-1.4 0.1M486.5 112.3l0.2 1M489.8 152.7l0.2 0.9M493.8 113.5h0" stroke="#2424f8" stroke-width="1.7" stroke-linecap="round" fill="none" opacity="0.82"/>
<path d="M527.5 158.8l0.4 1.1M467.1 100.9l1 1M473.1 115h0M513.7 123.9l1 -0.9M504.1 120.8h0M481.7 166.6l0.7 1.1M466.7 150.1l-1.3 0M539.4 168.2l-0.4 -1.1M479.5 150.8l-0.3 0.8M497 125.3l1.3 -0.4M538.7 168.4h0M516.3 170.2h0M510.1 124.5h0M542.8 164.4h0M547.5 143.7l0.3 0.5M558.1 167h0M517.8 161.1h0M468.3 123.3l0.6 0.1M514.3 121.1l-0.4 0.5M494.6 105.1l-0.4 0.3M520 114.6h0M554.8 171.8l-0.5 0.7M560.2 144.1l-0.6 0.1M468 118l0.1 1.1M459.9 163.3l1.3 0.5M499.1 166.5l-0.4 1M538.4 164.5h0M502.5 124.1h0M530.1 159.6l-0.5 -1M522 159.2l-0.4 0.6M458.7 138.7h0M526.7 154.3h0M513.2 102.6l0.9 0.4M498.5 101.2l-0.4 0.6M466.7 106.3h0M470.3 97h0M498.1 120.8h0M498.1 124.3l-0.7 0.2M483.3 150.3l-0.4 1.4M457.2 152.8h0M549.1 172.4l-0.8 0.3M456.1 159.4l0.8 0.9M558.1 176.3l0.5 0.4M529.6 164.8l0.1 0.6M539.2 167.5l0.5 -0.4" stroke="#1c1cd0" stroke-width="1.4" stroke-linecap="round" fill="none" opacity="0.82"/>
<path d="M490.5 175.1h0M474.2 145.9l-1.3 -0.6M457.2 120.5l1.4 0.5M531.6 149.3l0.6 -0.4M459.6 108.1h0M520.8 125.7l-0.3 0.5M507.9 114.3l-0.7 1.1M457.5 161.3h0M498.9 127.3h0M511.4 165.1l0.9 -0.3M507.4 167.7l-0.5 -0.9M513.8 166.4h0M508.8 105.6l0.9 -0.3M505.4 174.5l0.5 -0.4M509 168.4h0M471.3 174.1h0M456.2 110.4h0M534.1 165.4l1.6 0.1M491.7 167.4h0M472.1 155.4h0M520.3 113l0.6 0.3M549.7 147.9h0M455.6 169.4l0.8 -0.8M512.1 174.7l1.2 0.8M523.9 173.7l-0.9 -0.5M481.2 153.9l-1 0M471.2 117.3h0M510.7 171.8l1.2 -0.9M538.4 147.4l-0.4 -1.3M482.5 173h0M525.2 100.7l1.2 0M554.9 140.1l-0.6 1.4M533.7 111.2h0M491.8 115.4l1.3 -0.5M500 103.3l0.8 -0.7M527 96.6h0M521.6 119.6h0M507.7 124.7l1.6 -0.1M517.7 129.3l-0.6 0.4M530.6 152.4l0.9 -0.5M508.2 122.7h0M551.2 140.3h0M495.6 173.3l1.3 0.6M478.5 147.1l-0.7 -0.6M490.1 151.2h0M456.4 110.9h0" stroke="#1c1cd0" stroke-width="1.7" stroke-linecap="round" fill="none" opacity="0.82"/>
<path d="M529.6 103.2h0M528.7 159.7h0M510.1 117.2l1.3 -0.2M493 107.1l0.7 0.8M505.2 128.4l-1 1.1M474.6 115.2l-0.9 0.6M497 165.1l0.9 -1.1M541.9 171.4l-0.1 -0.7M558.2 169.2l-0 0.8M514.7 122h0M508.5 165.6l0.4 1M500.3 126.7l-1.4 -0.4M490.9 166.3h0M461.7 127.4h0M527.3 120.4l0.6 1.2M490 96.3h0M489.9 167.2l-1 0.2M457.5 131.9l-0.4 -0.4M467.7 159.1h0M547 167.7h0M551.3 176.3l0.2 -1.5M550.4 146.4l1 0.2M498.7 102l0.7 -1.2M505.8 166.1l1 -0.9M492.9 124.2l-0.7 0M559.1 144.2l-0.7 0.2M513.3 115.8l0.8 -0.2M461 117.2l-0.8 0.3M526.6 151.1l1.2 0.4M461.2 116.8l-0.1 0.5M500.1 102.9l0.1 0.8M492 168.8h0M524.8 172l-0.5 0.3M480.8 152.1h0M509.8 117.6l0.7 -1.2M495.2 112.6h0M502.3 103.2h0M489.6 163.6l0.7 1.4M517 119.8h0M521.8 170.7l0.5 0.9" stroke="#1818e0" stroke-width="1.1" stroke-linecap="round" fill="none" opacity="0.82"/>
<path d="M477.4 175.2h0M456.4 157.2l-0.5 1.4M460.6 135.2l0.3 0.9M542.8 138l0.1 0.8M456.8 130.8l-0.1 1.5M546.2 163.1h0M498.7 158.6l0.5 -0.3M469.5 164.2l-0.2 0.5M507.6 164.7l0.3 -0.4M468.6 136.1h0M525.7 152.4l-1.2 0.3M500.5 161.1h0M464 166.1h0M484.6 147.9h0M552 148.7l-0.6 0.9M475.9 154.3l-1.1 0.1M512.1 95.8l-1.4 -0.6M467.5 159.4l-0.5 0.7M460.5 159h0M493.1 154.8l-0.1 -0.5M463.6 112.8l0.1 -1.1M474.2 108.1h0M539.1 169h0M519.7 98h0M477.6 142.3h0M524.5 155.4h0M502.4 108.3l-0 -0.5M544.4 175.5h0M493.9 164l-0.4 0.8M467.2 104l-0.8 -0.7M463.5 106.4l-1 -0.5M555.8 175.3h0M542.7 169l1.5 0.5M482.6 100.3l1 -0.8M504.1 95.5l-0.7 -0.4M496.9 163.5l-1.3 0.3M469.3 172h0M561.7 144l-0.7 1.4M560 175.2l-0.4 -0.3M506.2 111.2h0M507.4 129.3l-0.1 0.6M468.7 101.3h0M544.8 158h0M552 168.4h0M519.6 121.8l1.1 0.2M507.1 123.4h0" stroke="#2424f8" stroke-width="1.4" stroke-linecap="round" fill="none" opacity="0.82"/>
<path d="M516.7 129.6h0M461.5 161.1l0.1 0.9M468 160.2l0.9 0.3M465.7 111.7l-0.5 1M491.3 150.4l-1.6 0.1M516.7 154.3l1.1 1M461.5 134.5l-1.4 0.1M501.4 115.3h0M475.2 141l-0.2 -1.2M499.9 162.9l1 1.2M501.4 122.3l1.1 -1M485.9 114.7h0M560.6 135.6l0.3 -0.6M456.6 107.3h0M461.5 114.5l-0.3 0.5M528.8 111.4l-1.1 -0.8M508.7 102.4h0M515.8 125.8l1.1 -0.8M470.9 147.4h0M558.9 154.2h0M532.8 163.4l-0.6 0M529.5 158.2l0.7 -1M554.5 169.5l-0.6 0.7M552.9 168.3l0.4 -1.5M543.4 169.4h0M490.5 164l-1.2 -0.4M458.7 126.7l-1.4 0.3M542.9 142.6l0.3 -1.1M519.5 120.4l-0.4 1.1M536 157.4h0M480.6 162.7h0M528 109.1l-0.6 1M517.8 170h0M479.8 149.4l-1 0.4M527.8 107.4l1.4 -0.3M475.9 99.6h0M540.6 153.5l-0.5 -0M516.5 166.8h0M497.1 167.7l0.4 -0.3M501.7 97l-0.4 1.4M504.9 166.9l1 -0.5M531.1 152l-0.1 -1.1M486.3 115.9l0.7 0.2M513.2 162.8l0.3 1.1M538.7 160.6l-1.2 0.1M473.4 145.3h0M545.4 167.9l0.1 -0.6M530.6 106.4h0M536.6 172.6h0" stroke="#2424f8" stroke-width="1.1" stroke-linecap="round" fill="none" opacity="0.82"/>
<path d="M487.3 150.2l-0.3 -0.7M465.3 100h0M469.9 140.3l-0 -0.6M475 154.7l-0.6 0M538.6 155.1l-0.9 -1.1M475.6 148.7l-0.6 -1.4M457.8 151.2h0M467.3 98.4h0M535.7 163.4l-1.5 -0.2M503.4 97.4l0.6 -0.2M509.3 122.9l0.1 -1.5M499.4 173.5h0M532 162.5l-0.5 -0.4M456.2 164.1l0.7 -0.5M491.4 123l-0.5 -0.8M484.9 115.7h0M479.8 148h0M491.1 120l-0.4 0.7M480.9 115.4l-0.5 1.3M509.2 112.8l-0.5 -0.2M523.5 96.1l-0.8 -0.6M503.4 162.1h0M457.2 105.9l0.8 1.2M476.1 171.8h0M464.7 133.6l0.3 1.3M476.9 98.9l-0.3 0.7M531.9 154.4l0.2 -0.7M522.3 110.6l1.5 0.1M476.8 153.1h0M467.6 106.8l1 0.7M469.8 120.1l-0.9 -0.3M491 173.6l1 -1.1M512.7 174.9h0M516.7 153.4l0.6 0.6M470.5 96.9l0.2 -0.6M559.3 175.2h0M468.7 149.4l-0.4 0.4M468.6 148.6l0.8 0M480.9 162.2l-0.5 -0.4M519.7 117.7l-0.5 -0.3M536.9 142.8l0.7 -1.3M464.9 112l-0.5 -0.2M504 105.6l-0 0.7M494.9 112.3h0M532.8 166.5l-0.9 -1.3M534.7 151.3h0M526.5 98.3h0M494.6 164.8l1 0.8M489.2 119h0M473.7 114.1h0M551.1 150.7l-1.3 0.7" stroke="#1010b8" stroke-width="1.7" stroke-linecap="round" fill="none" opacity="0.82"/>
<path d="M458.8 115.3l-1.6 -0.3M492.4 123.1l-0.7 0.4M511.2 95.2h0M462.8 145.3l0.8 -1.2M513.8 165.5l0.4 -0.9M555.8 149.4l0.1 -0.5M559.1 156.4h0M535.3 156.6h0M484 114.8l-0.6 0M519.6 156.3h0M491 154.7l-0.8 0.5M490.8 158.9h0M459.6 117.4l1.3 0.2M504.7 170.1l1.3 -0.6M503.2 97.3l-0.1 -0.6M561 164.1l0.7 -0.6M455.8 160.5l1.2 -0.5M505.7 128.5h0M504.7 163h0M489.1 149.3l-0.8 1.1M499.7 169.9l0.3 0.5M520.5 125.6h0M516 110.6h0M463.4 144.7h0M464.7 134.7h0M499 171.4l-0.6 -1.1M465.4 123.4h0M518.2 115.9h0M469.2 131.8l1 -0.9M516.6 96.6l-0.4 0.3M518.8 117.8l-0.5 -0.5M530.1 155h0M457.3 108.3h0M475.7 114.5h0M494.4 111.2h0M466.4 137.5l0.1 0.8M532.9 166h0M479.8 148.8l0.9 -0.7M537.1 168l-0.7 -0.2M467.8 151.3l-1.2 -0.5M484.6 147.2l0.4 1.3M492.3 117.6l-0 0.8M467.4 95.3h0M532.8 164.8h0M515.2 161.1l0.8 -1.1M545.9 159.5l-0.8 0.3M470.7 119.5l-0.1 -0.8M519.7 156.2h0M511.4 109.4l-0.6 -0.2M503.7 167.9l0.3 -1.3M543 164.4h0M492.3 160l0.1 0.8M461 116.5l-0.9 0.3M539.7 169.1h0" stroke="#1010b8" stroke-width="1.1" stroke-linecap="round" fill="none" opacity="0.82"/>
<path d="M540.1 169.8l-0.7 -0.8M559.1 176.5l1.1 -0.2M472.1 95.6h0M470.5 114.4l0.6 0.1M457.5 154.7h0M524.4 95.1l0.1 -0.9M529.7 155.3l0.2 1M502.4 128.4h0M459.7 105.4l-1.2 1M468.1 107.6l0.9 1M465.2 154.6h0M528.4 159.6l0.4 0.5M466.3 133.7h0M538.2 103.2l-0.2 1M471.4 111.2l1.3 0.1M457.1 137.6l1.2 -0.5M500.4 172.6l-0 1.5M539.8 168.9l-0.2 1.1M545.6 139.9l-0.9 -1.2M521.4 175.3l1.3 0.7M528.9 153.3l1.5 -0.1M498.7 124.7h0M545.7 176.1h0M463.6 103.8l-1.1 1.1M492.2 119.4l-0.2 0.7M479.8 173.1h0M531.6 175.2l0.9 -0.7M522.3 174.7h0M497.8 102.4h0M528 98.5h0M482.3 177l1.5 0.3M494.7 126.2l0.1 0.6M515.3 118.1h0M456.7 107.8l-0.8 1M504 121.9h0M519.5 114.3l-0.8 -0.9M542.7 139.4l1.5 0.2M491.6 97.2h0M470.1 109.8l-0.7 0M492.1 167.6h0M533.2 155.1l-1 0.8M507.9 126.9h0M480.8 112.3l-1 0.4M533.5 151.9l0.1 -1.5M482.1 170.5h0M527.7 149.8l-1.5 0.3M463.2 165.9h0M501.3 109.4h0M492 162.6l-0.9 0.9" stroke="#1010b8" stroke-width="1.4" stroke-linecap="round" fill="none" opacity="0.82"/>
<path d="M558.4 175.6h0M517.6 157.2l1.4 0.4M468.1 134.7l1.4 0.4M460.7 99.5l-1.2 0.3M502 170.7l0.7 0.2M482.2 103.1l-0.3 0.6M467.3 124.9h0M496 124.5h0M505.7 167.9l-0.5 1.2M492.8 113.9l0.1 -0.9M460.8 105l-0.7 -0.8M471.4 133.9l-0 0.7M531.8 98.1h0M465.9 148.4h0M506 124.3h0M477.2 114.1h0M537.7 159.8l-0.9 1.1M507.6 161.3l1.1 0.4M510.6 164.1h0M526.4 158.4l-1.2 -0.9M466.1 105.5l-0.7 0.1M472.2 150.5h0M484.4 153.9l-0.4 1.1M476.1 112.9l-1.3 -0.3M537.2 103.6l-1.3 -0.7M547.2 139.9l-0.4 -0.7M545.1 137.3l0.5 0.4M475.3 151.4l-0.2 1.3M515.2 96.3h0M480.2 145.4h0M496 126.4h0M500.3 165h0M466.2 114.5h0M536.6 162.5h0M528.9 175.4h0M487.5 114.1h0M463.4 173h0M511 161.7h0M471.2 139.8l-1.4 0.7M520.4 114.6l-0.6 -0.1M498.7 162.7l0.4 0.7M496.8 167.4l1 0.4M463.2 138.8l-0.4 -1M509.1 109.2l-0.4 0.5" stroke="#1818e0" stroke-width="1.4" stroke-linecap="round" fill="none" opacity="0.82"/>
<path d="M471.9 142.9l0 0.8M479.5 174.2l-1.1 0.7M466.2 95.3l-0.1 0.7M509.6 125.7l0.6 -0.6M501.3 115.4l0.8 1.3M500.3 125.5l-0.7 1.4M466 128.3h0M464.4 147.9h0M543.5 170.7l-0.1 0.7M458.3 132.8h0M543.3 172.6l0.6 -0.1M536.4 163.5l-0.2 -1.2M550 138.7l-0 -1.5M466.4 128.8h0M507.9 106.5h0M475.9 149.2l0.9 0.5M496.5 163.6h0M547.7 175h0M552 147.9h0M515.8 154.2l0.5 0.3M511.1 121.2h0M472 112.4l1.2 0.7M506.2 161l-0.7 -1.4M517.8 156.7l0.3 1.1M466.2 156.8l-1.3 -0.2M471.2 174.4l-0.5 -0.6M480.9 117l0.3 0.7M502.7 159.2h0M499.9 121.6h0M478.5 113.3l0.8 1.2M520 121.3h0M561.3 153.2h0M530.1 109.9l-1.2 0.2M527.8 174.8h0M506.4 119.8l-0.4 -0.4M483.3 161.2l0.9 -0.3M479.8 109.9l-0.7 0M495.8 161.6h0M493.3 112.8l1 -0.9M470.4 119.7l-1.3 -0.3M461.6 127.8l1.3 -0.7M550.4 150.3h0M518.6 120.5h0M522.5 115.4l-0.6 -0.8M544.3 139h0M477.5 146.5l0.3 -0.5M536.1 148.9l1.1 0.9M493.2 119.4h0M460.9 127.8h0M472.9 174.1h0M471.4 110.5l-0.5 0.4M496.8 127l0.9 -1.2M515.3 167.9h0M498.5 163.4h0M459.5 138h0M520.6 153.6l0.6 -1.5M505.3 112.2l-1 0.2M485.8 116h0M468 116.9l-0.5 0.4M471.7 135.3l-0.4 1.4M527.6 159.8l0.3 1.4M506.4 120.2l-0.6 -0.2M470.2 137.4h0M473.9 110h0" stroke="#1818e0" stroke-width="1.7" stroke-linecap="round" fill="none" opacity="0.82"/>
<path d="M462.8 117.1C464.7 116.3 470.7 112.7 474.3 112.7C477.8 112.7 481.1 115 484.1 117.1C487.1 119.2 489.5 123.2 492.2 125.2C495 127.3 497.7 128.6 500.4 129.3C503.1 130.1 505.6 129.7 508.6 129.7C511.6 129.7 516.8 129.4 518.4 129.3" stroke="#7a22b8" stroke-width="4.8" fill="none" stroke-linecap="round" stroke-linejoin="round" opacity="0.38"/>
<path d="M462.8 117.1C464.7 116.3 470.7 112.7 474.3 112.7C477.8 112.7 481.1 115 484.1 117.1C487.1 119.2 489.5 123.2 492.2 125.2C495 127.3 497.7 128.6 500.4 129.3C503.1 130.1 505.6 129.7 508.6 129.7C511.6 129.7 516.8 129.4 518.4 129.3" stroke="#f02424" stroke-width="1.2" fill="none" stroke-linecap="round" stroke-linejoin="round" opacity="0.55"/>
<path d="M462.8 117h0M468.9 113.8h0M471.4 113.9h0M475.7 112.9h0M476.7 113.5h0M479.2 113.6h0M480.2 114.1h0M486 119.7h0M495.8 127.8h0M499 129.4h0M503.7 130h0M504.8 128.9h0M514.1 129.9h0M515.2 129.3h0" stroke="#f02424" stroke-width="1.5" stroke-linecap="round" fill="none"/>
<path d="M463.8 116.4h0M473.4 112.6h0M487.7 121.3h0" stroke="#f02424" stroke-width="2.5" stroke-linecap="round" fill="none"/>
<path d="M464.9 116.1h0M474.6 112.2h0M477.9 113.6h0M487.6 119.8h0M490.9 124.7h0M495.2 126.7h0M496.7 128.7h0M498.2 128.1h0M501.4 129.4h0M502.5 129.7h0M512.9 129.9h0" stroke="#f02424" stroke-width="2.2" stroke-linecap="round" fill="none"/>
<path d="M466.1 115.9h0M482.1 115.6h0M482.9 116.5h0M491.8 125.5h0M493 125.9h0M506 130.2h0M510.6 130.3h0M511.8 130.1h0" stroke="#c030c0" stroke-width="1.9" stroke-linecap="round" fill="none"/>
<path d="M467.1 115.4h0M494 126.3h0M509.5 129.9h0" stroke="#c030c0" stroke-width="2.2" stroke-linecap="round" fill="none"/>
<path d="M467.8 114.1h0M470 113.3h0M472.4 113.3h0M485.4 118.8h0M508.3 129.5h0" stroke="#f02424" stroke-width="1.9" stroke-linecap="round" fill="none"/>
<path d="M481.1 114.9h0M484 116.9h0M485.1 117.4h0M488.9 121.8h0M507.1 129.6h0M517.5 129.6h0" stroke="#c030c0" stroke-width="1.5" stroke-linecap="round" fill="none"/>
<path d="M489.9 124h0M516.3 128.8h0" stroke="#c030c0" stroke-width="2.5" stroke-linecap="round" fill="none"/>
<path d="M474.3 113C473.6 114.3 471 118.7 470.2 121.2C469.4 123.6 468.7 124.7 469.4 127.7C470 130.7 472.1 136.1 474.3 139.1C476.4 142.1 479.2 143.8 482.4 145.7C485.7 147.6 490.9 148.4 493.9 150.6C496.9 152.8 498 157.1 500.4 158.8C502.9 160.5 507.2 160.4 508.6 160.7" stroke="#7a22b8" stroke-width="4.9" fill="none" stroke-linecap="round" stroke-linejoin="round" opacity="0.38"/>
<path d="M474.3 113C473.6 114.3 471 118.7 470.2 121.2C469.4 123.6 468.7 124.7 469.4 127.7C470 130.7 472.1 136.1 474.3 139.1C476.4 142.1 479.2 143.8 482.4 145.7C485.7 147.6 490.9 148.4 493.9 150.6C496.9 152.8 498 157.1 500.4 158.8C502.9 160.5 507.2 160.4 508.6 160.7" stroke="#f02020" stroke-width="1.2" fill="none" stroke-linecap="round" stroke-linejoin="round" opacity="0.55"/>
<path d="M474.2 113h0M473.2 115.2h0M470.7 119.3h0M469 123.9h0M469.2 126.4h0M471 132.1h0M477.4 141.9h0M483.3 146.2h0M490.3 148.3h0M492.2 149.9h0M497 153.5h0M499.6 157.6h0M501.4 158.8h0M502.3 159.8h0M505.9 160.5h0M508.3 160.7h0" stroke="#f02020" stroke-width="1.5" stroke-linecap="round" fill="none"/>
<path d="M473.6 114h0M471.7 115.7h0M471.9 118.6h0M469.6 122.8h0M469.6 127.5h0M475.3 139.2h0M484.2 147.1h0M496.4 152.4h0M497.1 154.9h0M507.1 161.1h0" stroke="#f02020" stroke-width="2.3" stroke-linecap="round" fill="none"/>
<path d="M472.5 117.5h0M469.9 121.6h0M469 125.2h0M469.6 128.7h0M470 129.9h0M469.9 131.2h0M470.9 133.4h0M471.4 134.5h0M471.7 135.7h0M473.6 138.9h0M475.4 140.6h0M476 141.8h0M481.3 144.9h0M491.3 149h0M496.9 156.5h0M504.6 161h0" stroke="#f02020" stroke-width="2.6" stroke-linecap="round" fill="none"/>
<path d="M470.5 120.5h0M472.6 136.7h0M485.4 147.3h0M486.8 147.1h0M487.8 148h0M493.1 150.7h0M494.1 151.2h0M500.1 158.7h0M503.6 159.5h0" stroke="#f02020" stroke-width="2" stroke-linecap="round" fill="none"/>
<path d="M508.6 160.7C509.7 159.3 512.4 153.9 515.1 152.2C517.9 150.5 521.9 151.4 524.9 150.6C527.9 149.8 531.2 149.2 533.1 147.3C535 145.4 534.2 141.1 536.4 139.1C538.6 137.2 544.6 136.4 546.2 135.9" stroke="#7a22b8" stroke-width="4.6" fill="none" stroke-linecap="round" stroke-linejoin="round" opacity="0.38"/>
<path d="M508.6 160.7C509.7 159.3 512.4 153.9 515.1 152.2C517.9 150.5 521.9 151.4 524.9 150.6C527.9 149.8 531.2 149.2 533.1 147.3C535 145.4 534.2 141.1 536.4 139.1C538.6 137.2 544.6 136.4 546.2 135.9" stroke="#f03020" stroke-width="1.1" fill="none" stroke-linecap="round" stroke-linejoin="round" opacity="0.55"/>
<path d="M509.1 159.8h0M524 151.3h0M532.3 148.1h0M535.8 140.3h0" stroke="#f03020" stroke-width="2.4" stroke-linecap="round" fill="none"/>
<path d="M509.5 158.7h0M522.9 151.2h0M534.4 146.8h0M533.8 145.3h0M534.8 144.5h0M534.3 142.1h0M535.5 141.3h0M537.5 139.1h0M543.3 136.1h0M545.6 136.2h0" stroke="#f03020" stroke-width="2.1" stroke-linecap="round" fill="none"/>
<path d="M510.4 158h0M526.1 150.6h0M527.4 150.8h0M533.2 147.5h0M538.3 138.6h0M539.1 137.6h0" stroke="#f03020" stroke-width="1.4" stroke-linecap="round" fill="none"/>
<path d="M511.2 157.2h0M511.6 156.1h0M512.5 155.5h0M519.6 151.2h0M520.6 150.8h0M521.7 149.9h0M525 150.5h0M528.2 149.5h0M534.4 143.2h0M536 139h0M544.5 136.4h0" stroke="#f03020" stroke-width="1.8" stroke-linecap="round" fill="none"/>
<path d="M513 154.4h0M516.3 151.7h0M517.5 151.8h0" stroke="#f0e040" stroke-width="2.1" stroke-linecap="round" fill="none"/>
<path d="M514.1 154h0M518.5 151.5h0" stroke="#f0e040" stroke-width="1.8" stroke-linecap="round" fill="none"/>
<path d="M514.1 152.4h0M515.4 152.4h0M530.3 149.2h0M541.2 136.9h0" stroke="#f0e040" stroke-width="2.4" stroke-linecap="round" fill="none"/>
<path d="M528.9 148.3h0M531.2 148.4h0M542.4 137h0" stroke="#f0e040" stroke-width="1.4" stroke-linecap="round" fill="none"/>
<path d="M532 113.3C531.8 114.3 531.3 117.5 530.8 119.5C530.4 121.5 530.4 124 529.2 125.4C527.9 126.8 524.3 127.3 523.3 127.7" stroke="#3060e0" stroke-width="0.6" fill="none" stroke-linecap="round" stroke-linejoin="round" opacity="0.55"/>
<path d="M532.1 113.3h0M531.3 114h0M531.3 114.8h0M531 118h0M530.5 121.2h0M530.2 122.7h0" stroke="#3060e0" stroke-width="0.7" stroke-linecap="round" fill="none"/>
<path d="M531 115.6h0M528.1 125.7h0M526 126.5h0M524.7 128.1h0M523.7 127.2h0" stroke="#3060e0" stroke-width="1.1" stroke-linecap="round" fill="none"/>
<path d="M531.2 117.2h0M530.2 123.6h0M529.2 124.8h0" stroke="#50f060" stroke-width="0.9" stroke-linecap="round" fill="none"/>
<path d="M530.9 118.8h0M530.7 119.6h0M531.2 120.5h0M530.2 121.9h0M528.8 125.4h0M526.9 126.9h0" stroke="#3060e0" stroke-width="0.9" stroke-linecap="round" fill="none"/>
<path d="M529.8 124.3h0" stroke="#50f060" stroke-width="1.1" stroke-linecap="round" fill="none"/>
<path d="M527.6 126.5h0M525.3 127h0" stroke="#3060e0" stroke-width="1.2" stroke-linecap="round" fill="none"/>
<circle cx="532.5" cy="112.7" r="1.3" fill="#50f850"/>
<circle cx="528.2" cy="126.1" r="1" fill="#50f850"/>
<circle cx="499.1" cy="129.3" r="1.1" fill="#a0f040"/>
<circle cx="496.8" cy="152.2" r="1.4" fill="#40f040"/>
<circle cx="545.9" cy="145.7" r="1.1" fill="#40e8c0"/>
<circle cx="470.2" cy="153" r="0.9" fill="#60e840"/>
<circle cx="474.3" cy="105.1" r="0.8" fill="#e8c040"/>
</g></g>
<clipPath id="c11"><rect x="563.6" y="95" width="107.4" height="82.1"/></clipPath>
<g clip-path="url(#c11)">
<g filter="url(#bl)">
<path d="M624.8 112.6h0M589.8 104.5h0M613.4 153.9l-1.1 -0.7M651.3 175.1l-0.5 -0.3M563.7 169.2h0M563.8 155h0M607.8 119.2l1.1 0.1M611 111.1l0.1 -0.8M631.7 157.4l-1.2 -0.4M613.9 96l-1 0.3M606.8 149.1l0.1 0.9M567.5 99.2l0.6 -0.8M571.2 109.3h0M591 101.5h0M668.6 130.4l1.4 0.6M595.8 112.6l1.1 -0.9M631.6 95.5l-0.7 -0.3M660.7 117.9l-1 -0.5M612.7 96.1l-1 -1M644.5 175.8l-0.4 -1M612.2 162.5h0M641.4 174.7l0.6 1.3M594.6 114.3h0M579.2 160.4l-0.9 1.2M636.4 164h0M656 113l-0 0.6M635 117.2l-0.9 0.1M570.8 173.6l0.5 0.4M654 114.5l-0.1 -0.8M619.3 98.3l-0.9 0.7M597.7 102.6l0.3 -0.6M607.1 167.9l1 0.7M621.9 152.7h0M571.9 158l-0.5 1.1M614.1 114.3l-0.1 -1.5M607.6 106l1.1 -0M665 163.7l0.2 -1.3M590.1 164.4l-0.3 0.8M626.2 158.9l-1.2 0.6M570.4 154.4l-1 -0.2M652.9 120.1l0.8 -0.7M592.3 108.8h0M572.3 95.9l0.2 1.4M662.2 130.3h0M618.7 102.2l1.2 0.6M657.1 108.5l-0.5 0.3M664.8 165l-0.5 0.2M567.4 154.7l0.5 -0.3" stroke="#1010b8" stroke-width="1.4" stroke-linecap="round" fill="none" opacity="0.82"/>
<path d="M664.1 113.6l0.7 -0.2M613.8 175.3h0M591.5 160.5l0.7 0.8M565.9 105.1l-1.2 1M571.5 153.1l-0.2 1.3M639.7 110.2l1 -0.6M641.6 111.6l0.3 -0.7M601 161.2l-0.7 -0.6M663.6 129l0.4 1.1M583.9 162.7l-0.8 -0M646 164.3l0.4 -0.5M582.5 111.5h0M566.4 144.8l0.2 -1.2M665.7 97.5l-1 -0.4M574 113.2h0M592.6 162.7l0.5 0.2M627.2 175l-0.2 0.6M666.9 156.7l-0.4 -0.7M580.8 101.8l-1.5 0.6M617.4 107.2h0M631.3 162.4l0.8 -0.2M649.5 115h0M642 172.3l1.4 0.3M574.3 165.1h0M662.8 149.7l0.1 -0.6M649.7 120.1l-0.9 0M657.7 115.1l-1.2 0.4M620.7 148.4l0.5 0.1M604 174.7h0M627.9 153l1.1 0M663.9 129.2l0.6 0.3M607.8 152.7l0.6 0.4M644.3 149h0M569.8 156.2l-0.7 -0.6M565.1 153.6l-0 1.1M613 116.5l-1 0.9M631.2 95.7h0M565.4 158h0M582.9 173.5h0M611.4 118.4h0M664.8 112.9h0M587 101.4l-0.4 1.5M614.9 111.4l-0.6 -0.9M625.3 97.5l-0.7 0.2M659.6 106.5h0M600 113.8l-0.9 -0M657.3 164.1h0M598.7 173.5h0M592.8 102.9l0.1 1.5" stroke="#1010b8" stroke-width="1.1" stroke-linecap="round" fill="none" opacity="0.82"/>
<path d="M646.1 149.2l-0.7 -0.5M664.9 169h0M605.6 105.4l0.7 1.4M631.8 159.4l0.6 1M573.5 110.5l0.5 1.3M630.3 105.5h0M624.6 154.8l0.5 -1.1M589.8 163.5l0.5 -0.4M627.1 105.4l-0.9 -0.5M579.7 160.9h0M573 109.7l0.7 -0.8M664.5 117h0M567.3 140.9l-0.4 -1.1M654.1 121.6l-0.3 -0.4M566.7 143.3l-0.6 1M613 112.5l0.5 -0.4M608.7 175.5l-0.3 -0.9M594.8 107.2l-1.5 0.2M606.2 155.3l0.9 -1.1M626.5 151.5l0.8 0.8M619.9 95.7l0.7 0.6M623.7 95.6l-0.7 1.3M571.7 155.4l0.9 -1.3M578 112.8h0M657.3 120l0.2 1M648.6 115.3l1 -1.1M644.9 150.1h0M587.9 163.2l-0.9 0.5M655.2 159.5h0M583.7 162.5l-0.6 0.5M646.8 151.6l-0.6 -0.7M660.6 177l0.6 0.7M569 113.4l-1.1 -0.9M589.4 100.3h0M664.2 147.9h0M653.4 117.5h0M645.9 99.6h0M574.6 166.6l-0.7 -0.1M618.6 109.5l-0.7 -0.6M619.2 158.2h0M573.6 159.1h0M654.1 168.4h0M616.4 146.6l0.5 -0.4M654.8 119.6l0.8 0.1M638.5 149.2h0" stroke="#1818e0" stroke-width="1.1" stroke-linecap="round" fill="none" opacity="0.82"/>
<path d="M603.6 119h0M660.9 126.4l-0.8 0.6M654.2 109.5l0.5 -0.7M649.7 119.8h0M590.1 112.3h0M567.7 149.2h0M621.5 147.9l1.5 0.1M583.7 116.3l0.9 0.8M598.5 150.3l-0.9 0.7M565.6 138.9l0 -0.9M564.3 108.7h0M626.3 122.6l-0.5 -0.9M654.2 148.7l1.3 0.3M589.4 168.6l-0.7 -0.9M581 172.3l-0.7 -0.5M598.6 149.3l0.9 0.7M600.4 157.9l-0.5 -0.4M627.8 103.8h0M590.1 109.3l-0.7 -0.2M667.6 112.2h0M571.9 156.8l-0.7 -0.7M666.4 128.3l0.3 -0.9M601.4 169.1l0.5 0.9M627.9 161.6h0M664.8 156.7l0.5 -0.2M607.5 168.1l-0.4 -1.2M659.9 164.5h0M569.7 135.4l-1.1 -0.9M604.1 112.1l-0.8 -1.2M640.7 115.3h0M645.2 97.6l0.3 0.4M565.5 144.4l-0.8 0.6M594.5 104.1l-0.5 -0.5M650.5 145.9h0M613.6 173.3l0.9 -0.2M568.1 131.9h0M572.7 96.9l0.5 -0.1M600.5 169.6l-0.5 0.1M598.8 100.4h0M621.3 151.2l-0.4 -0.6M594.8 172.2l0.8 0.1M588.5 117.2l0.8 -0.5M571.4 109.7h0M563.9 149.2h0M607 144.7l-0.1 0.8M612.9 114h0M607.3 165.1l0.4 -0.7" stroke="#1818e0" stroke-width="1.7" stroke-linecap="round" fill="none" opacity="0.82"/>
<path d="M605.1 177.1h0M626.1 171.9l1.5 0.4M628.7 118.4l-0.3 -1.4M661.8 147.8h0M605.9 156.4l-0 1.5M567.7 149.8l0.2 0.7M620.2 102.4h0M617.8 115.8h0M596.5 168.5l1 1M662.2 160.3l1.1 -0.3M611.7 114.3l1.1 0.2M634.7 156.3l-0.3 0.5M570 144.8l-0.8 -0.8M655.2 123.4l1 -0.6M596.3 169.2l1 -0.9M568 133l0.8 0.9M593.3 116.9l-1.4 -0.6M651.9 122.3h0M627.2 116.1l0.3 -0.9M590.7 171.5l-0.5 -0.1M600.1 173.3l0.5 -0.8M643.9 103.6h0M566.8 151.9l-1.3 0.7M608.6 120.2l0.9 0.4M662.9 121.8h0M583.7 108.7h0M661.6 123.8h0M589.1 171.3h0M644 106.7l1.2 -0.3M629.6 164.6h0M622.1 153.5h0M664.9 109.8l-1.1 -0.1M625.7 171.5l-0.7 0.7M612.7 104.5h0M658.8 170.4h0M656.3 123.2l1.3 -0.8M648.5 115.2l0.3 0.7M665.3 157.5h0M637.1 105.8l-0.7 -0.3M590.7 163.4h0" stroke="#2424f8" stroke-width="1.7" stroke-linecap="round" fill="none" opacity="0.82"/>
<path d="M575.5 103.6h0M624.1 101.5l-0.6 0.7M631.2 149.8h0M596 167.4l0 0.7M569.8 120.8h0M638.4 115.9h0M574.6 114.4l0.7 -0.2M611.5 108.3h0M565.2 151.6l-1.4 -0.3M599.5 102.4l1.1 0.1M668.9 159.4l-0.2 -0.5M583.1 111.1l-0.9 0.9M646.8 114.8l-0.4 -0.7M575.9 157.7l0.5 0.2M629.1 101.8l0.9 0.2M625.8 99.1l1.2 0.3M607.7 165.3l-0.6 -1.4M619.9 172.4h0M657.1 149.1l0.5 0.4M620 153.2l0.9 0.9M564.1 158.3l-1.5 0.3M593 107.4l0.2 -1.4M647.5 151.2l-0.1 0.7M670.6 151.4h0M654 146.1l0.4 1M652.8 111h0M565.4 159.3l0.5 0.5M589 104.6l-0.9 -1.3M630.2 160.3l-0.5 0.2M631.2 163.3l-1.1 0.7M575.7 159.8h0M618.4 111.6h0M610.6 116.9l1.4 -0.7M634.8 109.3h0M645.6 148.5l0.9 -1.2M629.3 117.2l-0.9 -1.2M618 110.8l0.6 -0.9M650.4 111.5l0.9 0.9M626.7 113.7l1.6 0.3M600.6 102.5l-1.1 -0.7M602.4 168.6h0M602.2 176.4h0M587 104.7l-0.2 1.1M601 108.3l0.6 -0.1M573.1 159.2l-0.2 1.6M638.7 148.7l-0.2 1.3M614.5 111.3l0.9 1.3M644.3 170.1h0M599.6 159.2l1 -1" stroke="#2424f8" stroke-width="1.1" stroke-linecap="round" fill="none" opacity="0.82"/>
<path d="M607.4 158.1h0M659.1 147l-0.1 -1.2M662.5 105.8l-0.6 0.1M573 158.3h0M663.9 150.2l-0.6 -0.7M621.1 159.7h0M640.2 150.3l-1.5 -0.1M601.3 99.1l-0.5 -1.3M620.2 116.2h0M600.5 150.3h0M656.5 107.5h0M661.4 116.9l-1.2 -0.2M671 115.3l-0.9 -0.4M565 103l0.9 0.5M609.1 162.2l0.6 0.8M635.5 157.2l1.4 0.2M636 165.5h0M665.9 105.7h0M656 150h0M575 116.7l0.9 -0.1M670.2 106l0.8 -0.2M658.8 120.3l-0.5 0.3M566.5 107.8l-0.4 -1.5M578.3 103.1h0M607.2 158.3h0M662.5 145.2h0M615.8 155.4l1.6 0.2M639.3 174.7h0M607.4 112.3h0M582.2 175.2h0M638.1 112.6l0.3 1M614.7 120.9h0M629.8 106.7l0.8 -0.1M591.6 160.6l-0.5 -0.1M622.8 158.3l-1.1 -1.2M600.5 168.7l-0.5 0.2M569.7 118.7h0M660.2 117.9l-0 -0.9M666.6 131.7h0M607.5 121.7h0M620.4 120.8h0M597.9 160.1l-1 -0.2M597.8 110.8h0M583.1 111.2l0.4 -0.6M650.4 116.5l0.4 -1.3M624.1 102.4l-0.9 -1.1M633.4 112.7h0M659.2 153l-1.1 -0.4M639.3 149.8l-1.1 0M646.7 148.4l1.3 0.6M659 152l0.9 0.4M668.1 170.1l0.2 1M658.8 119.8h0" stroke="#2424f8" stroke-width="1.4" stroke-linecap="round" fill="none" opacity="0.82"/>
<path d="M609.7 153.1h0M660.7 175.9l-0.3 -0.7M659.7 106.6h0M668.1 167.7h0M564.7 152.4h0M610.8 116.5l-0.6 0.1M631.3 163.6l0.5 0.4M617.5 111l-0.9 -0.2M566 137h0M588.8 111.7l0.7 -0.5M578.2 175.7l-0.8 0.4M646.7 149.3h0M636.8 163.2l1.4 0.7M592.1 160.1l-0.4 -0.4M595.8 116.1h0M607.1 166.4l-0.3 1.1M588.7 160.8l0.7 -1.2M596.4 116.5l-1.1 0.1M624.7 164.1l1.2 -0.3M581.3 162l0.2 1.1M627.6 152.9l-0.8 1.2M625.5 149.9l0.3 -1.3M578 115h0M586.2 165.9l-0.5 0.5M569.2 176l0.3 -0.6M632.4 100.6l1.4 0.3M652.5 114.5h0M658.7 170.8h0M634.8 170.9l0.1 1.2M646.4 114.4l-1 -0.5M628.4 163l-0.7 -0.6M588 111.1l-0.3 -1.2M593.8 162.8l-0 -1.5M586.8 170.7l-0.8 -0.9M574.5 155.8l1.4 0.2M667.1 102.1h0M636.6 148.7l-0.8 -0.8M609.4 172.6l0.7 -1.1M630.6 106.1l-0.2 1.2M666.2 129.1l-1.4 0.4M654.7 112.9h0M563.9 159.7h0M665.7 120.4l0.3 -1.3M608.8 114.6l0.6 0.1M615.9 151.4h0" stroke="#1818e0" stroke-width="1.4" stroke-linecap="round" fill="none" opacity="0.82"/>
<path d="M664.5 148.1h0M567.4 151.9h0M598.9 150.5h0M621 162.5l-0.1 -1.5M613.8 163h0M663 116.5l1 0.4M660.4 154l0.2 -1.1M656 168l0.4 -0.4M599.6 113h0M643.3 113.5h0M580.5 177l1.3 0.3M619.6 113.4l-0.3 1.1M569.5 175.2l-0.7 -1M565.8 110.6l-0.9 0.5M568.8 138l-0.3 1.4M589.6 165.2l-0.2 -1.5M664.8 96.9h0M629 106.6l0.9 0.4M617.2 147.8l0.5 0.2M601.9 155.3l1.1 -0.2M670.4 100.2h0M588.6 108.7h0M656.3 151.7h0M649.6 115.6h0M577.8 113.2h0M609.6 165.9l1 -0.9M577.6 115.7l-0 -0.6M582.7 175.6l0.5 -0.3M665.9 108.5l0.4 0.4M601.8 118l-0.5 0.3M655.1 109.4l0.7 0.4M660.3 161.5l0.3 1M662 153.2h0M566.6 109.1h0M604.9 148.3l0.8 -0M590.8 101.6h0M668.9 162.5l0.9 -1.1M606.3 121.1l0.5 0.8M624.1 96.4h0M585.3 108.9h0M584.7 110.7l-0.7 -0.2M618.9 160.3l-0.2 -1.1M621 156.8l0.2 -1.4M596.7 99.7l-1.4 0.5M568.8 154h0M614.3 118.9h0M583.5 164.5l-0.6 0.8M623.7 120.8h0M573.9 176l0.6 0.1M644.2 97l0.9 0.7M632.7 96l0.7 0.5" stroke="#1c1cd0" stroke-width="1.4" stroke-linecap="round" fill="none" opacity="0.82"/>
<path d="M650 152.4l-0.1 -1.2M647.6 170.8h0M629.4 166.1l-0.9 -1M595.5 157.5h0M622.3 163.6l-1.3 0.6M655.5 151.2h0M666.8 159.3h0M564.7 166.2l-0.1 -1.2M657.5 115.2l-0.9 0.1M648.2 145.9l-0.2 1.3M660.6 168.1l1.1 0.5M593.9 104.7l-1.1 1M595.1 110.2h0M564.6 102.8h0M567.8 143.2l1.2 -0M623.1 108.4h0M620.7 116.6h0M607 105.7h0M597.6 156.3l0.8 1.1M619 99.7h0M603.1 108.7l-0.5 -0.4M638.3 154.6h0M601.4 163.7l0.2 -1.5M609.5 145.5l0.3 1.2M580.9 107.3l0.3 0.6M588.4 107.2l0.9 -0.3M650.1 154.8l-0.6 0.7M647 112.9l0.8 -0.5M617.2 109.5l-0.3 -1.3" stroke="#1c1cd0" stroke-width="1.7" stroke-linecap="round" fill="none" opacity="0.82"/>
<path d="M664.7 157.1l0.4 0.3M616.3 113.8l0.3 1.5M592.2 105.3h0M589.4 103.8l-1.5 -0M642.2 113.5l-1.1 0.6M582.6 116.1l0.3 0.4M666.5 160.6l0.6 0.4M618.6 115.5l-0.4 -0.5M617.1 148.8l1.4 0.7M622.2 119.9h0M590.3 163.7l0.2 -0.5M646 176.4l-1.3 0.1M665.3 100.4l1 -0M593.9 111.9l-1.1 0.7M628.4 155.1l0.8 -1.4M662.3 161.5l-0.8 -0.1M606 103.7l1.5 -0M645.2 169.8l-0.2 -0.8M618.2 96.3l1 0.7M658.7 110.9h0M610.1 176l0.3 -0.4M657.2 146.2h0M571.2 107.1h0M667.6 96.4h0M588 109.8l0.1 0.7M630.9 98.1l-0.6 1.1M657.7 166.6h0M575.2 155.3l0.1 -0.9M651.3 118.2h0M654.8 115.6l0.9 -0.3M658.7 126.3h0M623.9 148.9l-0.2 -1.1M616.5 157.9l0.8 0.1M634.8 98.1l-1.1 -0.2M651.2 110.8l-0.4 0.5M643.9 112.8l1.1 -0.9M655.3 146.5l-0.1 -1.5M635.9 166.7h0M624.2 152.3l-0.5 0.9M565.1 137.9l0.6 0.7M654.1 117.9l-0.5 0.4M607.8 110.9l0.5 1.1M568 143.2l0.6 0.9M669 158.8h0M621.6 151.6l0.5 -1.4" stroke="#1010b8" stroke-width="1.7" stroke-linecap="round" fill="none" opacity="0.82"/>
<path d="M577.5 101.6l0.8 0.5M616.1 118.9l-0.9 1M605.8 173.3l-1.3 -0.9M604.7 114l0.5 0.8M642.8 114.3h0M608.5 146.7l0.8 0.2M628.8 102.2h0M619.2 114.2l1 -0.2M620.9 112.2h0M571.1 108.4h0M606.9 158.8l-0.4 0.4M609.9 104.7l-0.1 1.3M658.2 154.6l0.6 -0.3M576.1 114.9l0.1 -1.4M587 165h0M607.7 106.8l0.7 -0.4M593.2 101.9l1.1 0.8M662.4 147l0.3 -0.5M631.3 116.4h0M667.1 163.5h0M590.9 171.6l-0.6 -1.3M612.7 119.2h0M611 171.8h0M597.8 152.9l0.5 -0.5M567.7 157.7l-0.3 0.8M593.4 111.5l-0.4 0.6M593.2 106.4l1 -0.7M578.8 109.7l1 -0.4M632.8 175.6l-0.4 -1M582.3 96.5h0M608.2 148.9h0M637.2 167l0.2 -0.6M608.7 114.3h0M620.2 152.5l-0.4 -0.3M566 98.5l-0.8 0.8M630.8 154l0.7 -0.5M602.7 168.3h0M566 176.1l-0.2 -0.5M662.8 148.8l1 -0.9M646.8 112.8l0.3 -1.5M607.7 112l-0 1.4M652.9 96.2h0M579 160.3l0.8 0.7M569.9 169.5l-0.1 1.3M641.9 163.5h0M656.5 109.8l0.3 1.5M663 167.6l0.7 0.4M671 129.2l0.2 -1.3" stroke="#1c1cd0" stroke-width="1.1" stroke-linecap="round" fill="none" opacity="0.82"/>
<path d="M565.7 104.7h0M567.3 109.3h0M572.9 108.3h0M570.4 111.7h0M578 112.4h0M582.3 112.3h0M566.8 105.7h0M572.2 116.2h0M576.1 105.4h0M584.4 103.1h0M582.4 105.4h0M573.4 115.3h0M572.4 114.9h0M577.4 107.2h0M575.6 115.7h0M570.1 110.8h0M579.4 112.7h0M575.1 104.4h0M577.5 104.3h0M582.7 106.5h0M566.7 107.2h0M573.5 112.9h0" stroke="#d82858" stroke-width="1.2" stroke-linecap="round" fill="none"/>
<path d="M565.8 112.3h0M569.7 111.3h0M586.1 112.7h0M587.8 112.8h0M621.2 122.4h0M626 122.5h0M626.8 121.8h0M628.3 121.3h0M643 115.5h0M646.7 118.7h0M650.8 121.2h0M659.6 129.5h0" stroke="#7a28c0" stroke-width="0.9" stroke-linecap="round" fill="none"/>
<path d="M566.7 112.3h0M567.4 112h0M569 111.6h0M570.4 110.8h0M579.2 110.8h0M585.4 112.3h0M604.6 120.4h0M606.2 120.6h0M608.4 121.7h0M612.4 122.2h0M632.1 120.3h0M641.4 115.1h0M642.3 115h0M644.4 116.4h0" stroke="#7a28c0" stroke-width="1.1" stroke-linecap="round" fill="none"/>
<path d="M573.6 110.6h0M582.2 111.8h0M594.3 116h0M600.9 119h0M602.6 119h0M613.2 122.3h0M614.8 122.2h0M619.6 122.8h0M622 122.2h0M623.6 122.4h0M643.7 116h0M649.6 120.1h0" stroke="#7a28c0" stroke-width="0.7" stroke-linecap="round" fill="none"/>
<path d="M576.8 110.7h0M618.8 122.7h0M654.9 125h0" stroke="#e82848" stroke-width="0.7" stroke-linecap="round" fill="none"/>
<path d="M577.6 110.1h0M583 111.9h0M590 113.9h0M637.1 116.6h0M644.8 117.3h0M645.5 117.6h0M648.8 119.9h0" stroke="#e82848" stroke-width="0.9" stroke-linecap="round" fill="none"/>
<path d="M579.9 111h0M592.9 115.2h0M625.2 121.9h0M627.7 122.6h0M631.4 120.8h0M634.7 118.6h0M636.7 117.3h0M648.3 119.3h0M655.9 126.3h0" stroke="#7a28c0" stroke-width="1.2" stroke-linecap="round" fill="none"/>
<path d="M584.5 112.4h0M630.8 121.4h0M633.6 119.9h0M646.3 117.9h0M652.5 122.9h0M665.3 132.4h0" stroke="#e82848" stroke-width="1.2" stroke-linecap="round" fill="none"/>
<path d="M596.7 116.5h0M599.4 118.3h0M610.1 121.3h0M611.7 121.4h0M629.9 121.3h0M632.8 119.9h0M652.9 123.7h0" stroke="#e82848" stroke-width="1.1" stroke-linecap="round" fill="none"/>
<path d="M601.2 143.2C603.7 143.8 612.1 145.6 616 146.5C619.8 147.4 621.7 148.2 624.1 148.6C626.6 149 628.5 149.1 630.7 149C632.9 148.8 635 148.1 637.2 147.6C639.4 147.2 641 147.1 643.8 146.5C646.5 145.9 650.2 144.5 653.6 144.1C657 143.6 662.4 144.1 664.2 144.1" stroke="#7a22b8" stroke-width="4.2" fill="none" stroke-linecap="round" stroke-linejoin="round" opacity="0.38"/>
<path d="M601.2 143.2C603.7 143.8 612.1 145.6 616 146.5C619.8 147.4 621.7 148.2 624.1 148.6C626.6 149 628.5 149.1 630.7 149C632.9 148.8 635 148.1 637.2 147.6C639.4 147.2 641 147.1 643.8 146.5C646.5 145.9 650.2 144.5 653.6 144.1C657 143.6 662.4 144.1 664.2 144.1" stroke="#e82040" stroke-width="0.9" fill="none" stroke-linecap="round" stroke-linejoin="round" opacity="0.55"/>
<path d="M601.4 142.7h0M609.5 145h0M618.6 146.9h0M622.2 147.9h0M635.1 148.3h0M638.6 146.7h0M641.6 147.2h0M646.9 145.3h0" stroke="#e82040" stroke-width="1.2" stroke-linecap="round" fill="none"/>
<path d="M602.2 143.3h0M604 143.9h0M611.2 145.7h0M613.9 146.4h0M614.8 146.8h0M621.2 148.3h0M624 148.7h0M625 148h0M625.9 148.5h0M634.1 148.2h0M636.8 147.4h0M639.6 146.8h0M640.6 146.8h0M644.2 145.9h0M646.1 146.1h0M647.7 144.8h0M648.6 144.6h0M656.1 143.8h0M658 143.5h0M658.9 143.7h0M660.8 143.7h0M661.7 144.7h0" stroke="#e82040" stroke-width="1.8" stroke-linecap="round" fill="none"/>
<path d="M607.7 144.4h0M608.4 145.5h0M610.4 144.9h0M612 146.5h0M615.9 146.1h0M616.7 146.8h0M617.7 146.9h0M623.1 148.5h0M636.1 148.5h0M637.9 147.8h0" stroke="#e82040" stroke-width="2" stroke-linecap="round" fill="none"/>
<path d="M613 146.2h0M619.4 147.6h0M620.2 148.1h0M655.2 143.5h0M657.1 143.7h0M662.7 143.7h0M663.6 143.7h0" stroke="#e82040" stroke-width="1.5" stroke-linecap="round" fill="none"/>
<path d="M626.8 149h0M629.6 149.4h0" stroke="#ff40a0" stroke-width="1.8" stroke-linecap="round" fill="none"/>
<path d="M628.6 149.4h0M642.3 145.9h0M651.6 145h0" stroke="#ff40a0" stroke-width="2" stroke-linecap="round" fill="none"/>
<path d="M630.5 149.1h0M632.3 148.6h0M633.3 148.7h0M643.3 146.3h0M650.6 144.6h0M652.4 144.4h0M653.3 143.6h0M654.3 144.5h0" stroke="#ff40a0" stroke-width="1.2" stroke-linecap="round" fill="none"/>
<path d="M631.4 148.7h0M645.1 145.8h0M649.8 145.3h0" stroke="#ff40a0" stroke-width="1.5" stroke-linecap="round" fill="none"/>
<path d="M570.2 135.9C570.4 138.6 569.6 147.9 571.8 152.2C574 156.6 579.4 160.9 583.3 162C587.1 163.1 592.2 160.9 594.7 158.8C597.2 156.6 596.9 151.5 598 149C599.1 146.4 600.7 144.2 601.2 143.2" stroke="#7a22b8" stroke-width="3.9" fill="none" stroke-linecap="round" stroke-linejoin="round" opacity="0.38"/>
<path d="M570.2 135.9C570.4 138.6 569.6 147.9 571.8 152.2C574 156.6 579.4 160.9 583.3 162C587.1 163.1 592.2 160.9 594.7 158.8C597.2 156.6 596.9 151.5 598 149C599.1 146.4 600.7 144.2 601.2 143.2" stroke="#d82858" stroke-width="0.8" fill="none" stroke-linecap="round" stroke-linejoin="round" opacity="0.55"/>
<path d="M570.3 135.9h0M569.6 136.7h0M571.6 151.4h0M574 155.7h0M574.3 156.5h0M575.9 158.5h0M589.3 162h0M589.8 161.1h0M590.8 161.3h0M594.6 158.3h0M597.6 151.7h0" stroke="#6030d0" stroke-width="1" stroke-linecap="round" fill="none"/>
<path d="M570 137.5h0M575.3 156.8h0M592.2 160.4h0M598.2 150.2h0M599.1 145.2h0" stroke="#6030d0" stroke-width="1.8" stroke-linecap="round" fill="none"/>
<path d="M570 138.3h0M570.2 140h0M570.4 146.6h0M572.2 152.9h0M572.8 154.5h0M576.9 158.6h0M581.3 161h0M583.6 161.4h0M593.1 160.4h0M593.5 159.5h0M596.2 155.6h0M596.7 154.9h0M598.5 146.8h0" stroke="#d82858" stroke-width="1" stroke-linecap="round" fill="none"/>
<path d="M570.7 139.2h0M570.5 140.8h0M569.9 141.7h0M570.9 142.5h0M569.8 145.8h0M571.3 148.1h0M571.9 154.1h0M578.8 158.9h0M580.4 160.8h0M584.4 161.7h0" stroke="#d82858" stroke-width="1.4" stroke-linecap="round" fill="none"/>
<path d="M570.3 143.3h0M570.5 144.1h0M570.7 147.4h0M571 149.9h0M578.8 160.4h0M579.8 160.3h0M582.7 161.7h0M587.5 161.9h0M588.2 161.4h0M596.9 157.8h0M596.2 156.5h0M597 154.1h0M597.3 153.3h0M598 148.4h0M600.3 145h0" stroke="#d82858" stroke-width="1.6" stroke-linecap="round" fill="none"/>
<path d="M570.4 144.9h0M570.6 149.1h0M577.3 159.4h0M581.8 161.9h0M585.1 162.3h0M600.2 143.9h0" stroke="#d82858" stroke-width="1.8" stroke-linecap="round" fill="none"/>
<path d="M571.4 150.6h0M576.1 157.1h0M597.5 152.5h0M596.9 150.7h0M597.8 149.2h0" stroke="#6030d0" stroke-width="1.4" stroke-linecap="round" fill="none"/>
<path d="M571.5 152.3h0M573.7 154.8h0M585.9 162.3h0M586.7 162.1h0M591.5 160.8h0M595.3 157.9h0M599.2 146.2h0" stroke="#6030d0" stroke-width="1.6" stroke-linecap="round" fill="none"/>
<path d="M571.2 127.7L572.5 135.2" stroke="#40e8a8" stroke-width="1.4" fill="none" stroke-linecap="round" stroke-linejoin="round" opacity="0.55"/>
<path d="M571.1 127.7h0" stroke="#40e8a8" stroke-width="1.8" stroke-linecap="round" fill="none"/>
<path d="M571.1 129.2h0M571.8 131.9h0" stroke="#40e8a8" stroke-width="3.1" stroke-linecap="round" fill="none"/>
<path d="M571.3 130.6h0" stroke="#40e8a8" stroke-width="2.3" stroke-linecap="round" fill="none"/>
<path d="M571.6 133.4h0" stroke="#40e8a8" stroke-width="2.7" stroke-linecap="round" fill="none"/>
<path d="M606.5 121.2L610.4 120.2" stroke="#40f080" stroke-width="1.1" fill="none" stroke-linecap="round" stroke-linejoin="round" opacity="0.55"/>
<path d="M606.5 121.1h0" stroke="#40f080" stroke-width="2.4" stroke-linecap="round" fill="none"/>
<path d="M608.5 120.2h0M609.7 120.3h0" stroke="#40f080" stroke-width="2.1" stroke-linecap="round" fill="none"/>
</g></g>
<clipPath id="c12"><rect x="29.7" y="382.5" width="101.7" height="86.2"/></clipPath>
<g clip-path="url(#c12)">
<g filter="url(#bl)">
<path d="M29.4 381.4L69.9 381.4L74.3 394.8L80.6 413.7L82.5 426.3L68 420.3L55.4 409.9L42.8 399.5L29.4 388.1Z" fill="#02021e" fill-rule="evenodd" filter="url(#bh)"/>
<path d="M54.2 395.1h0M53.4 406.7l-1.1 0.6M73.8 397.2l0.5 -0.1M39.7 384l-0.7 0.4M64.8 401.9l-0.6 -0.8M58.6 392.3l0.6 -0.2M54.8 397.5l0.9 0.5M49.9 389.1h0M64.3 399h0M53.4 407.7h0M72.5 407.1h0M75.3 418.1h0" stroke="#2030e0" stroke-width="1.4" stroke-linecap="round" fill="none" opacity="0.82"/>
<path d="M76.5 403.2l-1.1 0.3M55.5 398.9h0M58.6 411.2h0M38.2 394.2l0.9 -1.1M63.1 415.8l0.7 0.3M66.4 409.4l-0 -1.4M76.4 413.1l0.6 0M69.4 406.8l-0.8 1M68.5 408.6l-0.3 -0.7M67.5 386.1l-1.5 -0.4M65.8 393.8l1 -0.3M37.8 385.9h0M49.5 384.7l0.8 0.6M68.4 401.7h0M55.1 387h0" stroke="#4a78ff" stroke-width="1.1" stroke-linecap="round" fill="none" opacity="0.82"/>
<path d="M64 389.9l-0.5 -0.8M58.6 410.6h0M67.4 417.8h0M62.4 395.6l0.2 0.8M69.6 417.6h0M69.3 399.8h0M76.8 413.1l-0.6 0.9M65.5 391.5l0.8 -1M74.8 414.9h0M59.1 412.4l-0.2 0.8M75.8 412.5l1.2 -0.3M54.5 382.9h0M56.7 399.4l0.1 1.4M76.5 417.7l0.5 1.4M40.5 383.2l-1.2 0.1M39.8 388.3h0M56.2 390.9l-0.1 -1.6M75.7 420.7l0.8 0.1M72.6 400l0.5 -1.4" stroke="#2a3cff" stroke-width="1.1" stroke-linecap="round" fill="none" opacity="0.82"/>
<path d="M72.4 405.3h0M64.9 384.5l-0.5 0.3M54.2 407h0M75 402.4l1.6 -0M67.8 419.7l0.6 0.2M72.1 395.4h0M64.8 404.1l1.4 0.4M68.7 419l0.2 1.1M65.7 394.2h0M61.1 388.9h0M71.3 396.5l-0.1 1.6M60.9 411.5l-0.8 0.1" stroke="#2a3cff" stroke-width="1.7" stroke-linecap="round" fill="none" opacity="0.82"/>
<path d="M76 419l0.3 -1.4M68.5 418.8l-0.5 -0.3M63.9 412l0.7 1.3M48.8 404.1l-0.4 -0.4M53 389.4l0.5 0.3M57.2 394.7h0M70.9 386.7l-1.6 -0M62.2 393l-0.4 0.6M62.8 401.9h0M75 406.7l-1.4 -0.4M49.6 384.6l1.1 0.1M66.2 386l0.8 -0.3M49.1 387.9l-0.3 0.6M63.6 402.2l-0.4 0.6" stroke="#4a78ff" stroke-width="1.4" stroke-linecap="round" fill="none" opacity="0.82"/>
<path d="M79 412l0.7 0.4M30.5 383.3l-0 -0.5M43.3 386.3l0.2 0.6M49.8 402.5h0M81.6 425.3l-0.7 -0.2M46.7 385.6l-0 -1.6M78.3 419.6h0M41 391.7l-0.9 0.8M45.9 384.8h0M70 399.8l-1.4 -0.2M73.7 395.4l-0.5 -0.8M31.9 385.2h0M58.2 395.4h0" stroke="#3b5bff" stroke-width="1.4" stroke-linecap="round" fill="none" opacity="0.82"/>
<path d="M75.3 411.1l-1.2 -0.4M54.6 407.9l-0.6 0.2M65.6 400.8l0.1 1.1M54.9 401.2l-0.8 0.2M79.1 419.6h0M55.5 383.8l-0.7 1.4M34.3 388.3h0M42.1 383l0.4 -1M69.1 407.4l-0.5 -0.7M50 405.1l0.7 1.2M42.7 390.9h0" stroke="#3b5bff" stroke-width="1.1" stroke-linecap="round" fill="none" opacity="0.82"/>
<path d="M52.5 387.4l-1 0.6M67.1 384.8l1.1 0.5M62.3 399.6l-1.1 -0.9M43.4 394.8h0M62.2 384.9l-0.7 -0M75.2 409.8l-1.5 0.2M76.3 404.9h0M31.6 386.6l-1.4 0.6M51.3 399h0M79.7 411.4h0M75 421.8l0 0.6M57.8 385.5l-0.3 0.4M40.1 387.8l0.6 0.2" stroke="#3b5bff" stroke-width="1.7" stroke-linecap="round" fill="none" opacity="0.82"/>
<path d="M72.1 393.2h0M52 406.6l1.3 -0M73.4 395.3l0.9 -0.4M73.7 397.9h0M66.3 401h0M35.2 384h0M42.4 391.7l0.1 0.6M55.7 390.9l-0.7 -0.1M55.2 393l-0.7 -0.6M57.6 399.7h0M74.7 422.9l-1.1 -0.5M76.4 413.3h0M76.9 408.7l-1.3 0.2" stroke="#2030e0" stroke-width="1.7" stroke-linecap="round" fill="none" opacity="0.82"/>
<path d="M68.4 394.4l-0.6 -0.1M76.2 405.6h0M71.5 403.6l0.3 0.5M75 404.8l0.5 -0.5M69.7 397.3h0M70.9 419.7h0M64.1 391.6l-0.8 -0.6M55.2 393.1l0.2 -1.3M49.3 402.5h0M70.2 388.9h0M81.6 423.5h0" stroke="#2030e0" stroke-width="1.1" stroke-linecap="round" fill="none" opacity="0.82"/>
<path d="M68.7 417.1l-0.2 -1.3M37.6 392.9l-0.7 -0.6M73.7 422.2l0.4 -1M51 390.7h0M55.1 407.3h0M66.1 389.5l-0.7 0.7M54.4 389.4l0.5 0.4M62 410.5h0M42.1 398.4l0.2 -0.7M70.7 398l1.2 -0.5M45.2 386.7h0M32.8 386.2l-0.6 0.6M66.8 414.4l0.1 1.1M75.1 407.6h0M81.2 421.1l-0.8 1M69.4 384.3h0M75.5 420l0.2 -1.3M33.7 382.9l-0 -0.8" stroke="#2a3cff" stroke-width="1.4" stroke-linecap="round" fill="none" opacity="0.82"/>
<path d="M33 391.2h0M74.5 416l0.3 -1.6M77.3 422.9h0M68.4 395.1h0M44.4 392.3l-0.4 -1.1M58 383l-0.4 -1.2M55.8 392.6h0M58.2 411.8l-0.5 -1.4M52.8 406.5h0M76.3 405h0M49.5 388l-0.8 0.7M61.3 393.5l0.6 -0.5" stroke="#4a78ff" stroke-width="1.7" stroke-linecap="round" fill="none" opacity="0.82"/>
<path d="M28.6 434.2L33.3 445.2L42.8 454.7L63.3 458.6L79 470.4L28.6 470.4Z" fill="#02021e" fill-rule="evenodd" filter="url(#bh)"/>
<path d="M60.7 467.5h0M56.7 461.7l-0.4 -0.5M51 464.2l-0.1 -0.6M29.8 456.4l-0.9 0.4M68.1 467.7l-1.5 -0.3M47.5 463.5l0.4 -1.5" stroke="#2030e0" stroke-width="1.4" stroke-linecap="round" fill="none" opacity="0.82"/>
<path d="M61.8 461.3h0M30.2 467.4l0.2 1.5M47.2 459l0.4 0.4M35.1 454.7l-0.6 0.2M36 463.4h0M37.8 450.2l0.5 0.4M30.7 456.2l0.2 -1.3M33.1 445.4l-0.1 -1.5M54.6 459.8l0.8 -0.8" stroke="#2a3cff" stroke-width="1.1" stroke-linecap="round" fill="none" opacity="0.82"/>
<path d="M30.3 467.2h0M58.6 462.4l-0.8 -0.5M62.2 462.1h0M68 467.3l1.1 0.8M30 465.1h0M33.6 446.9l0.4 0.2M43 455.8l0.3 -0.5M57.1 459.7l-0.4 0.9M34.6 449.7l0.9 0.1" stroke="#3b5bff" stroke-width="1.4" stroke-linecap="round" fill="none" opacity="0.82"/>
<path d="M33.5 451.8l0.7 1M34.2 462.8h0M60.8 460.6l-0.4 0.5M67.5 465.8l-0.7 0.3M37.4 461.1h0M48.7 459.2h0M35.7 460.2l-1.2 -0.6M61 466.5h0M64.7 459.7l0.9 -0.1" stroke="#4a78ff" stroke-width="1.1" stroke-linecap="round" fill="none" opacity="0.82"/>
<path d="M61.1 462.9h0M61 465.6l0.5 0.9M34.3 452.7h0M42.5 455.9h0M54.2 465.7l0.8 -0.5M56.2 457.5l-0.3 0.7M46.2 458.9l-0.4 1.2" stroke="#2a3cff" stroke-width="1.4" stroke-linecap="round" fill="none" opacity="0.82"/>
<path d="M55.1 466.7l0.5 1.1M65.4 462.2h0M36.4 459.2h0M34.6 450.8l-0.8 0.5" stroke="#2a3cff" stroke-width="1.7" stroke-linecap="round" fill="none" opacity="0.82"/>
<path d="M67.9 463.3l-0.7 -0.4M35 460.3l-0.1 -1.6M65.6 468.3l1.2 0.2M46.7 458.1l-1.3 -0.6M59.8 462.6h0" stroke="#3b5bff" stroke-width="1.1" stroke-linecap="round" fill="none" opacity="0.82"/>
<path d="M60.3 460.6l-0.8 -0.5M32.2 457.5l-0.8 0.3M53.8 466.1l-1.5 0.3M36 457.8h0M36.2 461.6h0" stroke="#3b5bff" stroke-width="1.7" stroke-linecap="round" fill="none" opacity="0.82"/>
<path d="M56.2 462.2l0.5 0.9M55.4 463.8l0.4 1.2M39.4 452.5l-0.6 0.5M61.2 458.3l0.5 0.6M33.6 449.2l0.3 1.3M59.9 461.1l-0.5 0.2M47 455.5l0.7 0.9M41.4 465.5h0M32.7 456.2h0M44 465.9h0" stroke="#4a78ff" stroke-width="1.7" stroke-linecap="round" fill="none" opacity="0.82"/>
<path d="M51.6 458.2l-0.1 -1.5M39.5 463.6l0.6 0.1M32.6 461.3h0M61.8 466.7h0" stroke="#4a78ff" stroke-width="1.4" stroke-linecap="round" fill="none" opacity="0.82"/>
<path d="M41.2 456.6h0M30.1 443.8l1 -0.6M55.9 462.6h0M32.3 452.5h0" stroke="#2030e0" stroke-width="1.1" stroke-linecap="round" fill="none" opacity="0.82"/>
<path d="M59.4 461.1l-0.3 -0.8M68.1 463.6h0" stroke="#2030e0" stroke-width="1.7" stroke-linecap="round" fill="none" opacity="0.82"/>
<path d="M104.3 381.4L135.8 381.4L135.8 470.4L129.5 470.4L124.7 457.8L120 449.9L121.6 442.1L125.1 438.9L121.6 432.6L123.2 424.7L121.6 416.8L112.1 410.5L108.2 407.4L107.4 394.8Z" fill="#02021e" fill-rule="evenodd" filter="url(#bh)"/>
<path d="M125.8 436h0M128.8 440l-0.4 0.8M127.1 408.3l-1.3 -0M127.3 403l0.4 -1.4M124.4 426.4l0.7 -0.2M130.8 426.5l0.5 1.1M130 419.8l0.9 -0.7M119.7 413.5h0M109.3 405.3l0.5 -0.8M125.4 407.7l0.2 -0.8M124.4 441.5l-0.4 -0.4M126.2 432.5l-0.4 0.5M131.3 386.9l0.2 -1.1M131.4 402.6l1.2 0.5M130.3 451.9l0.4 -0.9M130 406.8h0M122.5 408.1l0.6 -1" stroke="#2030e0" stroke-width="1.7" stroke-linecap="round" fill="none" opacity="0.82"/>
<path d="M126.5 415.6l-0.7 -0.7M121.9 404l-0.8 -0.5M126.6 444l0.2 0.5M126.8 403.7h0M128.8 462.8h0M129 403.3l-0.3 -0.7M123.3 452.7h0M107.5 389.8l0.5 0.6M128.5 403.6l-0.6 -0.1" stroke="#4a78ff" stroke-width="1.4" stroke-linecap="round" fill="none" opacity="0.82"/>
<path d="M126.9 419.7h0M124.9 417.9l-0.7 1.4M123.3 450.2l-0.7 0.8M129.8 460.1h0M127.2 463.8h0M127.8 398l0.3 -1.6M117.7 402.3l0.5 -0.6M112.5 407.3l0.5 -0.2M123.5 412.6l-1.3 -0.6M129.8 455.5l0.1 -1.4M116.8 403.2h0M128.4 458.2l-0.9 0.3M125.5 439h0M112.9 408.3h0" stroke="#2a3cff" stroke-width="1.1" stroke-linecap="round" fill="none" opacity="0.82"/>
<path d="M110 387.2l0.2 -0.6M116.8 402.8l0.6 -0.4M130.4 402.5l0.7 0.1M119.8 410.8l1.5 -0.3M122.1 410h0M111.2 398l0.9 -0.1M126.7 435.3l0.8 0.7M112.6 384.5l0 1.3M109.3 407.3l0.6 0.7M108.7 382.9l0.5 1.3M112.8 399.8l0.5 0.9M115.2 398.4l-1.1 0.8M128.9 416h0M127.5 428.9l-0.3 -0.9" stroke="#3b5bff" stroke-width="1.1" stroke-linecap="round" fill="none" opacity="0.82"/>
<path d="M129.9 407.6l0.6 0.8M129.7 451.1h0M127.3 460.3h0M126.3 439.3l-0.8 -0.2M128.9 418.5h0M115.4 405.7l0.8 -0.2M125.4 444l-0.4 1.4M118.2 407.6l0.2 0.7M126.9 383.9l1 -0.4M130.9 409l1.2 -0.2M116.1 394.6l0.1 1.5M110.5 399.1l-0.9 0.4" stroke="#3b5bff" stroke-width="1.7" stroke-linecap="round" fill="none" opacity="0.82"/>
<path d="M124 417.8h0M120.7 446.6h0M126.8 448.3h0M122.2 451.8h0M126.2 427.3l0.4 0.4M127.2 407.3l0.9 -0.2M125.9 442.3h0M125.5 453.7l-1 -0.4M125.5 424.7l0.8 -1M126.1 458.2h0M119.7 407.3h0M117.8 403.9h0M126.5 438.3h0" stroke="#3b5bff" stroke-width="1.4" stroke-linecap="round" fill="none" opacity="0.82"/>
<path d="M125.9 457.2h0M122.8 400.1h0M124.2 441.5h0M118.8 412.2h0M122.7 407l-0.5 0.8M120 406.9l0.7 -0.4M126.3 384.2l-0.8 -1M126.4 408.6h0M113.1 401.8h0M123.3 416.9l-0.2 1.4M109.7 398.2h0M108.8 396.7h0M130.7 452.2h0M126.5 415.7l1.2 0.5" stroke="#4a78ff" stroke-width="1.1" stroke-linecap="round" fill="none" opacity="0.82"/>
<path d="M130.2 391.4l1.1 -0.5M126.3 436.1h0M131.1 399.9l0 0.6M126 414.9l-0.3 -1.3M117 401.3l0.8 -1M128 414.2l0 -1.3M112.9 408.9l0.9 -0.7M125.3 438.4l0.6 -0.6M107.2 392.8l1.2 0.3M126.5 426.2h0M128.3 399.7l1 0.8M130.8 461.5l-0.5 -0.3" stroke="#2030e0" stroke-width="1.4" stroke-linecap="round" fill="none" opacity="0.82"/>
<path d="M113.1 410.5l-1.2 0.9M120.5 396.6l-0.3 -0.6M120.1 410.4h0M122.7 407.1l-0.3 0.5M107.5 388.6l0 1.5M129.8 414.1h0M129.7 435.4l1.3 -0.9M121.9 407.2h0M125.2 434l0.2 1.2M124.5 442.6h0M108.5 397.2l-1 -1.2M108.3 406.9h0" stroke="#2a3cff" stroke-width="1.4" stroke-linecap="round" fill="none" opacity="0.82"/>
<path d="M115.4 410.8l0.9 -0.4M105.7 383.8l-1.2 0.5M123.9 384.3l-1.1 -0M128.8 453.8h0M130.6 418h0M121.4 445.6l-0.8 -0.2M124.4 421.3l-0.7 0.7M123.7 409.7l0.2 1.2M127.8 411.2l-0.8 -0.9M130.1 454.9h0M109.6 394.6h0M129.9 390.8l1.3 0.1M121.1 409.2h0M126.4 416h0M108.9 396.9l0.3 -1.2" stroke="#2a3cff" stroke-width="1.7" stroke-linecap="round" fill="none" opacity="0.82"/>
<path d="M110 398.8h0M127.7 403.2l-0.6 -0.4M125.4 430.2l-0.1 -1.4M123.8 425l0.7 -0.7M124.8 434.5l0 -0.5M113.8 383.4h0M112.8 410.8h0M120.7 404.6l1 0.7M123 434.7h0M129.6 410.1h0M124.1 428.2l-1 -1.1" stroke="#2030e0" stroke-width="1.1" stroke-linecap="round" fill="none" opacity="0.82"/>
<path d="M123.9 451.7l-0.4 -0.3M127.1 413.9h0M123.5 445.1l1.1 -1M128 402.7l0.4 0.4M129.5 384.6l0.9 0.9M126.4 448.7l-0.6 -0.2M116.9 400.1l-0.7 0.4M124.6 411.3h0M130.7 454.6l0 0.5M107.2 392.6l0.2 1M109.6 387.2h0M122.7 420.2l-0.8 -0.8M130.6 454.1l-0.8 -1M126 420h0" stroke="#4a78ff" stroke-width="1.7" stroke-linecap="round" fill="none" opacity="0.82"/>
<path d="M30.2 387.9L26.3 392.3M33.7 391.1L30.4 394.9M36.3 393.7L33.4 397M65.8 418.1L62.3 422.3M68.4 420.4L66.1 423.5" stroke="#3cee38" stroke-width="1.3" stroke-linecap="round" fill="none"/>
<path d="M31.1 388.6L28.1 392.1M33 390.1L30 393.5M40.1 396.8L35.7 401.2M54.9 408.6L50.9 413.6" stroke="#44e858" stroke-width="1.1" stroke-linecap="round" fill="none"/>
<path d="M32.2 389.2L29.4 392.5M35.7 392.5L31.6 397.2M43.8 399.7L40 404M53.8 408.1L51 411.5M55.5 409.8L51.8 414.4M76.2 425.5L73.4 430.5M81.9 427.3L81.6 432.6" stroke="#30d834" stroke-width="1.1" stroke-linecap="round" fill="none"/>
<path d="M34.7 391.9L31.2 395.8M77.2 425.9L74.6 431" stroke="#30d834" stroke-width="1.5" stroke-linecap="round" fill="none"/>
<path d="M37.2 394.4L34.5 397.5M51.8 406.7L48.7 410.6M67.5 419.7L64.1 424M75.1 424.9L73.1 428.4" stroke="#58f850" stroke-width="1.3" stroke-linecap="round" fill="none"/>
<path d="M38.3 395.1L35.2 398.4M41.4 397.3L36.8 401.8M56.4 410.6L53.2 414.6M66.7 418.8L62.7 423.8M72.2 423.1L69 428M74.2 424.3L72.3 427.5M80 426.5L79 431.4" stroke="#3cee38" stroke-width="1.5" stroke-linecap="round" fill="none"/>
<path d="M39.2 395.9L35.8 399.5M53 407.2L49.9 411.1M57.3 411.4L54.2 415.2" stroke="#2cc43c" stroke-width="1.1" stroke-linecap="round" fill="none"/>
<path d="M41.8 398.5L38.9 401.5M63.1 415.7L59.7 419.8" stroke="#44e858" stroke-width="1.3" stroke-linecap="round" fill="none"/>
<path d="M42.7 399.2L39.7 402.4M59.3 412.8L55.8 417M60.9 414.6L57.1 419.2M62.2 414.9L58.3 419.6" stroke="#3cee38" stroke-width="1.1" stroke-linecap="round" fill="none"/>
<path d="M44.7 400.5L40.6 405.1M46 402.5L43.1 405.9M47.1 403.1L44.1 406.7M50 405.1L46.4 409.6M60.1 413.7L56.4 418.2M70.3 421.8L67.3 425.9M71.4 422.2L67.7 427.7" stroke="#2cc43c" stroke-width="1.3" stroke-linecap="round" fill="none"/>
<path d="M49 404.5L46 408.2M63.9 416.6L60.8 420.3" stroke="#58f850" stroke-width="1.5" stroke-linecap="round" fill="none"/>
<path d="M50.8 406.1L47.2 410.5M80.8 427.1L80.3 432.7" stroke="#2cc43c" stroke-width="1.5" stroke-linecap="round" fill="none"/>
<path d="M58.4 412L55.6 415.4M65 417.1L61.2 421.8M78.4 426.1L76 431.1" stroke="#58f850" stroke-width="1.1" stroke-linecap="round" fill="none"/>
<path d="M69.5 420.9L67 424.4M73.3 423.5L70.4 428.1" stroke="#30d834" stroke-width="1.3" stroke-linecap="round" fill="none"/>
<path d="M29.8 388.3h0M30.8 389h0M31.9 389.6h0M32.7 390.5h0M33.4 391.5h0M34.3 392.3h0M36 394h0M38 395.4h0M38.9 396.3h0M41.5 398.8h0M45.7 402.9h0M46.8 403.4h0M48.6 404.9h0M49.7 405.5h0M50.4 406.5h0M51.5 407.1h0M52.7 407.6h0M53.5 408.5h0M54.6 409h0M55.2 410.2h0M56.1 411h0M57 411.8h0M58.1 412.3h0M59 413.2h0M59.8 414.1h0M60.6 415h0M62.8 416.1h0M63.6 417h0M64.7 417.5h0M65.5 418.5h0M66.4 419.2h0M67.2 420.1h0M68.1 420.8h0M69.2 421.3h0M71.1 422.6h0M71.9 423.5h0M73.1 423.9h0M73.9 424.7h0M74.9 425.3h0M75.9 425.9h0M77 426.3h0M79.9 427h0M80.7 427.6h0M81.9 427.8h0" stroke="#2c7cd0" stroke-width="1.7" stroke-linecap="round" fill="none" opacity="0.85"/>
<path d="M82.2 426.7L85.2 426.1M80.8 418.4L83.7 417.7M76 403.8L79.4 402.6M71.3 392.7L74.8 391.4" stroke="#58f850" stroke-width="1.3" stroke-linecap="round" fill="none"/>
<path d="M82.2 425.5L84.9 424.9M68.6 383.5L72.7 382" stroke="#30d834" stroke-width="1.5" stroke-linecap="round" fill="none"/>
<path d="M81.7 424.3L85.4 423.6M72.1 395L75.7 393.7" stroke="#44e858" stroke-width="1.1" stroke-linecap="round" fill="none"/>
<path d="M81.7 423.1L85.7 422.3M76.1 405L79 404M75.3 401.5L77.5 400.7M73.4 398.3L77.6 396.9M70.5 390.5L75.1 388.8M69.1 387.2L72.6 385.9M68.7 384.7L72.4 383.4" stroke="#3cee38" stroke-width="1.3" stroke-linecap="round" fill="none"/>
<path d="M81.6 421.9L85.1 421.2M80.7 419.7L83.5 419.1M74 399.4L77 398.3M72.1 393.7L73.9 393.1" stroke="#2cc43c" stroke-width="1.3" stroke-linecap="round" fill="none"/>
<path d="M80.5 420.9L84.4 420.1M79.4 414L81.5 413.3M78.4 411.9L82 410.5M70.1 388.1L72.1 387.3" stroke="#58f850" stroke-width="1.5" stroke-linecap="round" fill="none"/>
<path d="M80.3 417.4L84.4 416.3M80.4 416.1L84 415.1M77.3 408.5L80 407.4" stroke="#3cee38" stroke-width="1.1" stroke-linecap="round" fill="none"/>
<path d="M79.6 415.2L83.2 414M79 412.9L81.9 411.9M77.9 409.5L81.7 408M74.5 400.5L77.2 399.6M73.6 395.7L76.3 394.8M69.3 385.8L72.8 384.5" stroke="#3cee38" stroke-width="1.5" stroke-linecap="round" fill="none"/>
<path d="M78.1 410.7L81.6 409.4M76.6 406.2L79.1 405.2M75.4 402.7L79.4 401.3" stroke="#30d834" stroke-width="1.3" stroke-linecap="round" fill="none"/>
<path d="M76.4 407.5L78.8 406.6" stroke="#30d834" stroke-width="1.1" stroke-linecap="round" fill="none"/>
<path d="M72.8 397.2L76.6 396M71.3 391.5L75 390.1" stroke="#2cc43c" stroke-width="1.1" stroke-linecap="round" fill="none"/>
<path d="M69.9 389.4L73.4 388.1" stroke="#58f850" stroke-width="1.1" stroke-linecap="round" fill="none"/>
<path d="M82.7 425.4h0M82.2 424.2h0M82.2 423h0M82.1 421.8h0M81 420.8h0M81.2 419.6h0M80.9 416h0M80.1 415h0M76.9 407.3h0M75.8 402.6h0M75.8 401.3h0M74.9 400.3h0M74.5 399.2h0M73.8 398.2h0M73.3 397.1h0M74 395.6h0M72.5 394.8h0M72.5 393.6h0M71.8 392.6h0M71.7 391.3h0M70.9 390.3h0M70.4 389.2h0M69.6 387h0M69.7 385.7h0M69.2 384.6h0M69.1 383.3h0" stroke="#2c7cd0" stroke-width="1.7" stroke-linecap="round" fill="none" opacity="0.85"/>
<path d="M28.3 434.1L34.2 432.6M54.7 458.2L55.1 452.5M72.2 463.9L76.1 459.4" stroke="#2cc43c" stroke-width="1.5" stroke-linecap="round" fill="none"/>
<path d="M29.2 435L34.5 433.8M34.9 449.1L39.4 445.5M51.9 458.1L53.1 452.7M71.1 463.4L75 458.7" stroke="#30d834" stroke-width="1.3" stroke-linecap="round" fill="none"/>
<path d="M28.7 436.4L33.8 435.2M29.2 437.5L33.5 436.5M30.9 442.4L36.2 440.3M61.7 459.3L62.4 453.5M70.2 462.9L73.1 458.9" stroke="#2cc43c" stroke-width="1.1" stroke-linecap="round" fill="none"/>
<path d="M30.1 438.5L34 437.6M30.1 441.3L35.8 439.3M75.6 467.1L78.7 463.9" stroke="#44e858" stroke-width="1.1" stroke-linecap="round" fill="none"/>
<path d="M30.1 439.8L35.1 438.5M34 448.2L38.4 444.9M42.3 454.9L44.2 450.9M45.9 456.2L47.6 451.5M50.6 458.1L51.6 454.2M64.7 459.6L66.4 454.7" stroke="#2cc43c" stroke-width="1.3" stroke-linecap="round" fill="none"/>
<path d="M31.5 443.6L35.8 441.5M37.7 452.2L40.6 448.5M38.9 452.8L42 448.4M41.3 454.2L43.6 449.5M44.6 456.2L46.3 451.7M48.3 457.1L49.6 452.7M63.6 459.4L64.8 455.6M69.6 461.9L71.8 458.5M73 464.7L76.1 461.3" stroke="#3cee38" stroke-width="1.5" stroke-linecap="round" fill="none"/>
<path d="M32.9 445.8L36.7 443.5M62.7 459L63.6 454.8M76.9 469.2L81 465" stroke="#58f850" stroke-width="1.3" stroke-linecap="round" fill="none"/>
<path d="M33.1 447.2L37.3 444.5M39.8 454L42.9 448.7M59.6 458.6L59.7 453.7M75.9 468.5L80.3 464" stroke="#3cee38" stroke-width="1.3" stroke-linecap="round" fill="none"/>
<path d="M35.9 450.2L39.5 446.7M36.5 451.4L39.2 448.5M49.5 457.5L50.6 453.6M60.7 458.9L61 453.5M77.8 470.1L81.6 466" stroke="#58f850" stroke-width="1.5" stroke-linecap="round" fill="none"/>
<path d="M43.3 455.9L45.2 451.4M66.7 460.3L69.4 454.7" stroke="#44e858" stroke-width="1.5" stroke-linecap="round" fill="none"/>
<path d="M47.1 456.8L48.7 451.8M65.7 459.8L67.8 454.9" stroke="#58f850" stroke-width="1.1" stroke-linecap="round" fill="none"/>
<path d="M55.9 458.8L56.1 453.9" stroke="#44e858" stroke-width="1.3" stroke-linecap="round" fill="none"/>
<path d="M58.4 458.4L58.4 454.2M74.4 466.6L77.9 463" stroke="#30d834" stroke-width="1.1" stroke-linecap="round" fill="none"/>
<path d="M67.6 460.8L70.1 456.4" stroke="#3cee38" stroke-width="1.1" stroke-linecap="round" fill="none"/>
<path d="M28.7 433.9h0M29.7 434.9h0M29.2 436.2h0M29.7 437.4h0M30.6 438.4h0M30.6 441.1h0M31.4 442.2h0M33.3 445.5h0M33.5 446.9h0M35.3 448.8h0M36.2 449.8h0M36.8 451.1h0M38.1 451.8h0M43.5 455.5h0M47.2 456.3h0M48.4 456.7h0M49.6 457h0M50.8 457.6h0M52 457.6h0M54.7 457.7h0M56 458.3h0M58.4 457.9h0M59.6 458.1h0M62.8 458.5h0M63.8 458.9h0M64.9 459.1h0M65.9 459.3h0M67.8 460.4h0M69.8 461.4h0M70.5 462.5h0M71.4 463h0M72.5 463.5h0M73.3 464.4h0M74.8 466.2h0M76 466.7h0M77.3 468.8h0M78.1 469.7h0" stroke="#2c7cd0" stroke-width="1.7" stroke-linecap="round" fill="none" opacity="0.85"/>
<path d="M103.2 381.6L99.6 382.5M103.9 383.9L98.7 385.3M104.1 385.1L98.6 386.5M105.3 389.8L101.3 390.7M109.6 408.6L106.6 413.1M117.7 413.3L115.4 417.5" stroke="#3cee38" stroke-width="1.3" stroke-linecap="round" fill="none"/>
<path d="M103.6 382.7L99.5 383.8M105.4 388.5L101.8 389.4M105.9 393.6L102 394M106.4 394.9L102.7 395.1M108.1 407.5L105 410.3M110.5 409.2L107.5 414.2M116.4 413.2L113.9 417.9" stroke="#3cee38" stroke-width="1.1" stroke-linecap="round" fill="none"/>
<path d="M104.5 386.2L99.5 387.5M114.6 411.6L112.2 415.7" stroke="#2cc43c" stroke-width="1.3" stroke-linecap="round" fill="none"/>
<path d="M104.9 387.4L101.4 388.3M111.7 409.4L108.9 414.2" stroke="#58f850" stroke-width="1.1" stroke-linecap="round" fill="none"/>
<path d="M106 392.3L100.4 393.1M106.1 396.1L101.6 396.4" stroke="#3cee38" stroke-width="1.5" stroke-linecap="round" fill="none"/>
<path d="M106.5 397.2L101.5 397.6M106.8 399.5L101.9 400.1M108.3 406.8L104.1 408.8M113.7 411L111.3 414.7" stroke="#44e858" stroke-width="1.5" stroke-linecap="round" fill="none"/>
<path d="M106.6 398.4L100.9 398.9" stroke="#58f850" stroke-width="1.3" stroke-linecap="round" fill="none"/>
<path d="M107.1 400.8L102.6 401.2M108 406L103.3 407.6" stroke="#58f850" stroke-width="1.5" stroke-linecap="round" fill="none"/>
<path d="M106.7 402L102.3 402.4" stroke="#44e858" stroke-width="1.1" stroke-linecap="round" fill="none"/>
<path d="M107 404.3L102.5 404.9M112.5 410.5L110.3 414.3" stroke="#2cc43c" stroke-width="1.5" stroke-linecap="round" fill="none"/>
<path d="M107.4 405.3L101.9 406.3M108.8 408.2L105.6 411.7M118.8 413.8L116.6 417.7" stroke="#30d834" stroke-width="1.3" stroke-linecap="round" fill="none"/>
<path d="M115.7 412L113.1 416.6" stroke="#30d834" stroke-width="1.5" stroke-linecap="round" fill="none"/>
<path d="M102.7 381.7h0M103.1 382.9h0M103.4 384h0M103.6 385.2h0M104.4 387.5h0M105 388.6h0M104.8 389.9h0M105.4 393.7h0M105.9 394.9h0M105.6 396.1h0M106 397.3h0M106.1 398.4h0M106.3 399.6h0M106.6 400.8h0M106.2 402.1h0M106.5 404.4h0M106.9 405.4h0M107.5 406.1h0M107.8 407h0M107.7 407.9h0M108.5 408.5h0M109.3 409h0M111.4 409.9h0M112.2 410.9h0M114.4 412h0M115.5 412.4h0M116.2 413.6h0M117.5 413.7h0M118.6 414.2h0" stroke="#2c7cd0" stroke-width="1.7" stroke-linecap="round" fill="none" opacity="0.85"/>
<path d="M121 415L116.4 416.1M124.2 435.5L121.1 439.1" stroke="#44e858" stroke-width="1.1" stroke-linecap="round" fill="none"/>
<path d="M121.2 416.1L115.7 417.6M122.1 419.6L118.2 420.6M121.2 431.2L115.4 430M124.7 436.7L122.4 439.5" stroke="#30d834" stroke-width="1.1" stroke-linecap="round" fill="none"/>
<path d="M121.1 417.3L115.8 418.8M121.3 432.6L117.9 434.9" stroke="#58f850" stroke-width="1.3" stroke-linecap="round" fill="none"/>
<path d="M121.6 418.5L117.4 419.6" stroke="#44e858" stroke-width="1.3" stroke-linecap="round" fill="none"/>
<path d="M122 420.9L118.7 421.7M122.4 434.3L119.1 437.4" stroke="#30d834" stroke-width="1.3" stroke-linecap="round" fill="none"/>
<path d="M123 422.1L118 423M122.6 423.5L117.1 424.2M120.8 432L117 433.7M121.4 433.7L118.3 436.3" stroke="#3cee38" stroke-width="1.3" stroke-linecap="round" fill="none"/>
<path d="M122.5 425.2L117.8 424.7M121.4 430.6L116.5 428.5" stroke="#58f850" stroke-width="1.5" stroke-linecap="round" fill="none"/>
<path d="M122.2 426.6L117.4 425.5M125.5 437.7L123.7 439.7" stroke="#3cee38" stroke-width="1.1" stroke-linecap="round" fill="none"/>
<path d="M121.6 428.1L118.8 426.9M123 435.1L119.7 438.8" stroke="#2cc43c" stroke-width="1.5" stroke-linecap="round" fill="none"/>
<path d="M121.1 429.2L117.3 427.5" stroke="#30d834" stroke-width="1.5" stroke-linecap="round" fill="none"/>
<path d="M120.7 431.9L115.2 431.7" stroke="#58f850" stroke-width="1.1" stroke-linecap="round" fill="none"/>
<path d="M120.5 415.1h0M120.7 416.2h0M120.6 417.5h0M121.6 419.8h0M122.6 422.1h0M122.1 423.5h0M122 425.1h0M121.7 426.5h0M120.6 429h0M121 430.4h0M120.2 431.9h0M120.3 432.2h0M120.8 432.9h0M121 434.1h0M122 434.7h0M123.9 435.9h0M125.2 438.1h0" stroke="#2c7cd0" stroke-width="1.7" stroke-linecap="round" fill="none" opacity="0.85"/>
<path d="M115.5 441.4L111.8 444.4M119.1 446.3L116.1 448.5M123.2 452.7L119.9 454.3" stroke="#2cc43c" stroke-width="1.1" stroke-linecap="round" fill="none"/>
<path d="M116 442.5L111.9 445.9M126 458L122.4 459.7M126.5 459.1L122.2 461.2" stroke="#44e858" stroke-width="1.3" stroke-linecap="round" fill="none"/>
<path d="M117.6 444.3L114.6 446.8M118.5 445.2L115.9 447.3" stroke="#58f850" stroke-width="1.5" stroke-linecap="round" fill="none"/>
<path d="M119.7 447.4L116.3 449.8" stroke="#3cee38" stroke-width="1.3" stroke-linecap="round" fill="none"/>
<path d="M120.9 448.2L116.8 450.8M128.7 464.8L124.7 466.5" stroke="#44e858" stroke-width="1.1" stroke-linecap="round" fill="none"/>
<path d="M121.6 449.2L117.5 451.7M125.3 457.1L121.8 458.7M126.9 460.3L121.5 462.7M127.8 461.2L122.8 463.5" stroke="#3cee38" stroke-width="1.5" stroke-linecap="round" fill="none"/>
<path d="M122.4 450.2L118.1 452.6M127.7 462.6L123.5 464.5" stroke="#58f850" stroke-width="1.3" stroke-linecap="round" fill="none"/>
<path d="M122.8 451.5L119.8 453.1M129.3 465.8L124.8 467.8" stroke="#58f850" stroke-width="1.1" stroke-linecap="round" fill="none"/>
<path d="M123.9 453.7L119.3 455.9M129.2 467.2L124.7 469.1" stroke="#30d834" stroke-width="1.5" stroke-linecap="round" fill="none"/>
<path d="M124.2 454.9L119.7 457" stroke="#3cee38" stroke-width="1.1" stroke-linecap="round" fill="none"/>
<path d="M128.2 463.7L124.5 465.3" stroke="#30d834" stroke-width="1.3" stroke-linecap="round" fill="none"/>
<path d="M115.1 441.7h0M118.1 445.5h0M118.7 446.6h0M119.3 447.7h0M120.5 448.4h0M121.2 449.5h0M122 450.5h0M122.3 451.7h0M123.4 453.9h0M123.8 455.1h0M124.8 457.3h0M126 459.3h0M126.4 460.5h0M127.3 461.4h0M127.2 462.8h0M128.3 465h0M128.7 467.4h0" stroke="#2c7cd0" stroke-width="1.7" stroke-linecap="round" fill="none" opacity="0.85"/>
<path d="M79.8 430.2L85.6 428.2" stroke="#ff4890" stroke-width="1.9" fill="none" stroke-linecap="round" stroke-linejoin="round" opacity="0.55"/>
<path d="M81.3 428.8h0" stroke="#ff4890" stroke-width="4.1" stroke-linecap="round" fill="none"/>
<path d="M83.4 429.3h0M85.1 428.5h0" stroke="#ff4890" stroke-width="2.4" stroke-linecap="round" fill="none"/>
<circle cx="109" cy="464.9" r="1.6" fill="#34e034"/>
<circle cx="112.9" cy="465.4" r="1.4" fill="#34e034"/>
</g></g>
<clipPath id="c13"><rect x="132.6" y="382.5" width="101.7" height="86.2"/></clipPath>
<g clip-path="url(#c13)">
<g filter="url(#bl)">
<path d="M130.8 408.2L136.3 409L141 411.3L150.5 416L169.4 417.6L193.1 421.6L216.7 423.1L234.1 426.3L240.4 427.2L240.4 473.6L130 473.6Z" fill="#01011a" fill-rule="evenodd" filter="url(#bh)"/>
<path d="M133.1 437.5h0M213.4 427.4l0.2 1M183.9 434l-0.6 -1.4M212.4 424.7h0M220.5 429.6l-0.3 0.8M191.1 458.7h0M179.6 421.4h0M202.2 460.1l-1.2 0.3M183.9 423.2h0M161 417.9l-1 0.7M227.4 436.1l-0.9 -0.6M134 442.9l-0.6 0M202.9 439.8l0.9 -0.4M181.3 454.7l-0 -0.6M218.8 459.9l-1.1 -0.7M217.8 445.4l-1.2 0.2M162.5 443.6h0M190.2 454.7l0.5 -0.3M149.5 434.2l0.8 0.4M176.3 423.3l0.7 0.8M175.8 438.8l-0.3 0.9M197.6 463.5l-0.5 -0.4M135.5 448.6h0M164.5 436.7l0.4 0.3" stroke="#2030e0" stroke-width="1" stroke-linecap="round" fill="none" opacity="0.82"/>
<path d="M156 460.3l-0.6 -0.4M170.4 419.3h0M149.1 442.2l-0.5 -0M216.4 425.1l-1.5 0.1M197.1 464.8h0M141.8 458.2l0.6 -0.8M135.6 452.1h0M194.4 457.3l0.6 1.4M156.6 419.1h0M183 420l-0 -0.7M161.4 440.4l1.2 -0.5M139 411.2h0M204.8 468.2l-0.2 -0.9M214.1 466.8h0M195.2 455.2h0M138.9 422.5h0M218.5 432.3h0M139 423.6h0M170.8 450.1l-1.2 0.7M164.2 436.6l0.2 0.6M213.6 436.7l-0.9 -0.6M199.7 451.2l-0.3 -0.4M135 412l0.9 -0.9M206.5 438.5l1.5 -0.6M231.3 435l-1.1 0.4M228.3 429.3l0.3 -1.3M219.2 430l-0.7 0.2M184.3 421.8l-1.6 0.1" stroke="#2a3cff" stroke-width="1.3" stroke-linecap="round" fill="none" opacity="0.82"/>
<path d="M137 419.3l0.5 -0.3M201.7 464.8h0M148.7 431.6h0M167.2 444.2h0M156.2 426.9h0M207 439.2l-0 -1.5M187.7 461.2l-0.8 -1M139.1 418.5l0.3 0.9M210.7 440.2l-0.4 1.4M181.8 437.5h0M183.7 458.5h0M209.8 447.3h0M168.3 439.1h0M207.8 425.6h0M176.5 435.3l-0.5 0.2M160.4 443.4h0M138.3 413.9l0.7 -0.7M212.4 438.9l0.8 0.7M218.9 468l-0.6 0.6M155.4 453.1h0M139.2 418.1l0.5 -0.7M184.4 423.2l-1.4 -0.4M225.5 427.4l0.3 0.4M224.1 429.8l0.8 -0.7M214.3 452.6l-1.3 0.5M159.6 464.3h0M181.8 457.1h0M207.9 450l-0.5 -1M221.5 438.4l0.2 0.7M167.7 429.7l-0.3 -0.6" stroke="#3b5bff" stroke-width="1.3" stroke-linecap="round" fill="none" opacity="0.82"/>
<path d="M168.2 422.2h0M229.8 452.1h0M178.8 438.9l-0.7 -0.6M167.2 434.8l0.5 0.1M154.4 464.5l-1.3 -0.5M144.3 462.7l-1.2 -0.8M227.8 456.7h0M145.9 421.5h0M228.3 454h0M205.9 451l-0.6 0.8M201 442.7l0.6 0.1M166.7 445.8h0M208.5 458.1l0.2 1.2M141.2 444l-1.1 0.2M230.3 457l0.2 0.5M152.8 452.5l0.7 -0.5M136.3 424.7l-0.9 0.3M220.6 434h0M214.6 457h0M194.6 452.9l-0.5 -1.1M198.7 422.3h0M224.6 426l0.3 -0.5" stroke="#2030e0" stroke-width="1.6" stroke-linecap="round" fill="none" opacity="0.82"/>
<path d="M222.4 466.3l0.7 -1.3M227.3 436l0.6 0.4M211.9 443.6h0M195.6 444.8h0M136 456.8h0M155.2 436.1h0M180.4 437.6h0M138.1 466.2h0M143.6 431.3l1.4 -0.7M138.7 417.7h0M210.5 439l-1 0.1M204.8 451.1h0M170.4 452.4l1.2 -0.3M139.3 423l-0.8 -1.3M226.1 427.8l0.7 -0.9M229.9 434.9h0M147.2 432.5l1 0.1M207.2 448.9l1.3 0.8M204.6 422.8l-0.8 0.4" stroke="#4a78ff" stroke-width="1.3" stroke-linecap="round" fill="none" opacity="0.82"/>
<path d="M147.9 422.7h0M179.1 431.4l0.5 -1.3M203.8 452.2l-1.5 0.3M195.4 455.7l1.1 -0.2M180.5 436.2l1.1 -0.1M218.9 451.3l-0.3 1.3M216.6 446.9h0M160.5 454.9h0M145.7 427.7l0.9 0.4M233.3 442.4l0.9 1.1M138.2 424.4l0.4 -1.2M202.7 465.1l1 -0.1M146.4 416.9l0.8 -0.7M199.3 461l-1.1 0.9M221.6 430.3l-1 0.3M188.3 436.2h0M135.9 415.7l0.2 1M162.9 435.2l-0.3 0.9M190.2 452.5l-1 1.1M139.4 436l0.6 1.1M208.3 441.2l0.4 0.6" stroke="#5a90ff" stroke-width="1.6" stroke-linecap="round" fill="none" opacity="0.82"/>
<path d="M160.2 454l-0.7 -1.4M196.2 430.9l0.1 -0.8M199.7 447.1l0.3 0.4M217 437.6l-0.2 -0.8M147.7 457.5h0M150.6 430.4l-0.8 0.8M180.7 419.9h0M136.3 425.3l-1 0.3M191.5 423.8h0M222.1 434.9l1.3 0.4M217.7 463.7l-0.5 -0.4M180.2 425.7l-0.8 -0.3M148.3 455.3l-0.8 -1.1M226.4 451.8l0 -1.1M153.7 466.7l-1.1 1M166.1 431.1l1.6 0.1M213.5 440.1h0M207.2 427.4l-0.8 0.3M145.3 422.5h0M194.2 431.5l-0.8 -0.8M229.8 450.9l-0.4 1.4M162.7 435.3l0.7 0.4M227.2 431.2h0" stroke="#2030e0" stroke-width="1.3" stroke-linecap="round" fill="none" opacity="0.82"/>
<path d="M232.4 456.2l-0 1M156.2 448.1h0M140.7 418.1l-0.4 -0.8M178.2 435.2l-0.6 -0.8M220.6 425h0M190.5 467.2l-0.9 0.7M133.4 439.7l-0.4 0.5M203.1 433.4l1.5 0.3M194.2 431.6h0M174.9 434.1l0.5 -1M162.1 443.1l1.1 0.4M229.7 426.5l-0.9 -0.6M184 462.4l0.5 -1M207.9 423.7h0M208.3 443.3l0.3 -1.4M194.5 468.7l0.3 -0.4M159 442.4l-0.9 -0.8M183.5 463.6l-0.1 -0.6M167 452l0.5 1M144.7 439.1l0.8 -0.7M165.2 438.1h0" stroke="#2a3cff" stroke-width="1.6" stroke-linecap="round" fill="none" opacity="0.82"/>
<path d="M170.9 421.3l-0.5 1.5M231.7 432.8l-0.2 -1.4M194.9 453.3l0.2 1.4M139.6 423.9l0.5 -0.1M200 447.9h0M215.2 425.7h0M149.8 467h0M212.8 457.8l-1.2 0.2M168.8 419.5h0M147.3 440.8l1.1 1.1M213.3 427.8l0.5 0.2M146.1 455.5h0M136.9 410.6l-0.6 -0.1M185.1 424.1h0M208.2 427.5h0M195.4 466.4l1.3 -0.5M172.5 438.8h0M190.1 428.4l-1.2 -0.1M192.7 426.1h0M167.8 445.5l1 0.9M214.2 447.8l0.3 1.5M218.6 454.9l-0.1 0.5M205.4 454.5l-0.7 -0.4M213.2 434.4l0.9 0.9M227 438.7l0.4 0.6M154.3 430.5l-0.5 -0.5M165.8 437.9h0M135.1 424.3l-0.2 -1.3" stroke="#5a90ff" stroke-width="1" stroke-linecap="round" fill="none" opacity="0.82"/>
<path d="M161.6 448.9h0M192.9 464.6l-0.6 -0.5M226.1 453.9h0M178.3 427.6h0M144.5 417.7h0M140.3 423.9h0M224.8 458.1l0.8 -0.2M214.9 442.6l0 0.9M217.1 462.9l1.4 -0.4M187.6 451.9l-0.9 0.8M203.5 439.1h0M221.9 442.5l1.1 0.4M225.2 427.5h0M147.2 418.8l-0.2 -0.9M163.7 434.3h0M184.7 425.2h0M143.9 467.9l-0.1 -0.9M144.1 427.5l-1.3 -0.6M226.3 433.2l0.6 1.5M164.1 429.2l0.9 1.2M208.4 455.3h0M158.9 457.1l-0.1 -0.6M207.2 465.1h0M151.6 468.1l0.5 -0.8M161.5 453.8l0.7 0.6M206.2 439.1h0" stroke="#4a78ff" stroke-width="1" stroke-linecap="round" fill="none" opacity="0.82"/>
<path d="M170.4 421.5h0M213.2 445.1h0M132.6 441.6h0M189.4 436h0M137.9 420.3l-0.1 -1.1M201.4 466.8l-0.7 0.5M161 441.7l-1.3 1M188.4 423.4l-0.4 -0.6M195.4 427.8l1.1 0.2M208.9 447.5h0M181.7 424.2l-1.2 0.2M200.8 426l0 -1.1M195.5 427.9l-1.1 -0.6M139.7 464.8l-0.8 1.1M184.8 433.1h0M202.5 445.3h0M198.6 431.2l1.1 0M226.4 435.5h0M144 432.9l-1.4 -0.1M140.1 412.9l0.4 -1.3M137.2 426.4l-1.3 -0.6M209.2 437.4l1 -0M158.8 423.6h0M232.8 445.9h0M184.6 436.6h0M201 427.9l0.8 -0.4M169.5 449.2l-0.4 -0.5M134.9 431.2h0" stroke="#4a78ff" stroke-width="1.6" stroke-linecap="round" fill="none" opacity="0.82"/>
<path d="M170 423.1h0M206 448.7l0.3 0.6M158.6 456.2l0.9 -0.8M209.7 444.8h0M225.4 435.1l1.5 -0.1M158.7 465.5l0.4 0.8M196.2 446.9l-1.5 0.2M172.3 454.2h0M217.4 446.9l-0.3 0.4M186.3 432.1h0M209 440.4l0.9 0.5M173.1 429h0M141.7 431.8l-1.4 -0.2M158 452.6l1 0.9M150.1 444l0.7 0.7M180.6 423l-0.8 -0.2M160.1 459.4l-0.3 -0.7M163.5 439.3l-0.3 0.6M178.4 453.2h0M163.3 436.9h0" stroke="#3b5bff" stroke-width="1" stroke-linecap="round" fill="none" opacity="0.82"/>
<path d="M140.5 462.2l0 -0.9M183.6 448.4h0M147 417.9h0M142.7 467.9l1.1 0.2M159.7 463.1l-1.1 -0.5M197.1 424.5h0M185.3 459.2l-1.1 0.3M151.2 451.9l-1.4 -0.3M208.4 423.2h0M134.9 412.2l1.6 -0.3M180.3 433.5l0.3 -1M159.9 456.7h0M211.4 468.5l-1.3 0.2M233.5 436.4l1.3 -0.4M187.2 458.7l0.5 -0.5M222.3 429.7h0M230.1 457.2l0.8 -0.1M143.9 427.1l-1.4 0.3M175 447.5l0.2 0.5M231.7 459.8l1 1M183.4 436.2l1.1 1.1M202.4 459.6h0M150.8 429.3l-0.9 0.8M221 453.4l-1.1 -0.5M203.3 447h0M157.1 439.1l-1 -0.3M147.7 455.5l-0.2 0.6M193.2 456.3l1.2 -0M179.8 427.9l-0.2 1.3M211.2 435h0" stroke="#3b5bff" stroke-width="1.6" stroke-linecap="round" fill="none" opacity="0.82"/>
<path d="M218.1 426.5l0.2 1.4M219.8 456.3l0.9 1.2M154.8 466.3l0.6 -0.2M165 444.8h0M224.5 463h0M142.7 416.6l-0.8 1.3M213 424.7l0.3 -1.3M142 460.6l0 -0.6M215.6 451.8l-0.9 0.4M213.4 441.2l1.1 -1.2M201.3 442.7l-0.1 -0.5M148.7 445.7l0.6 1M214.5 427l-0.2 -1.1M232.7 453h0M158.3 417.9l-0.7 -1.2M214 453.5l0.3 -0.6M207.1 427.3h0M233.1 433.3l-0.2 0.7M227.4 433.6l-0.6 0.2M148.9 424.1h0M210.9 424.6l0.4 0.7M147 433.9l0.4 -1.2M146.4 415.6l-0.3 0.6" stroke="#2a3cff" stroke-width="1" stroke-linecap="round" fill="none" opacity="0.82"/>
<path d="M155.2 466.5h0M219.4 448.2h0M143.9 459.8l0.4 0.8M198.9 439.1h0M170.7 420.2h0M210.6 438.1l0.4 -1.5M139.4 419h0M156.2 431.1l-0 -1.2M134 409.8l1.3 0.7M181.4 435.4h0M201.8 426.4l-0 0.7M173.1 446h0M214.5 424.9h0M206 447.1l1.4 0.6" stroke="#5a90ff" stroke-width="1.3" stroke-linecap="round" fill="none" opacity="0.82"/>
<path d="M130.8 408.2C131.7 408.3 134.6 408.4 136.3 409C138 409.5 138.7 410.1 141 411.3C143.4 412.5 145.8 415 150.5 416C155.2 417.1 162.3 416.7 169.4 417.6C176.5 418.5 185.2 420.6 193.1 421.6C200.9 422.5 209.9 422.4 216.7 423.1C223.5 423.9 230.1 425.6 234.1 426.3C238 427 239.3 427.1 240.4 427.2" stroke="#7a22b8" stroke-width="5" fill="none" stroke-linecap="round" stroke-linejoin="round" opacity="0.38"/>
<path d="M130.8 408.2C131.7 408.3 134.6 408.4 136.3 409C138 409.5 138.7 410.1 141 411.3C143.4 412.5 145.8 415 150.5 416C155.2 417.1 162.3 416.7 169.4 417.6C176.5 418.5 185.2 420.6 193.1 421.6C200.9 422.5 209.9 422.4 216.7 423.1C223.5 423.9 230.1 425.6 234.1 426.3C238 427 239.3 427.1 240.4 427.2" stroke="#f02848" stroke-width="1.3" fill="none" stroke-linecap="round" stroke-linejoin="round" opacity="0.55"/>
<path d="M130.7 408.5h0M224.6 423.8h0" stroke="#ff50b0" stroke-width="2.4" stroke-linecap="round" fill="none"/>
<path d="M132.1 408.1h0M138.9 411h0M144.1 412.2h0M144.9 413.3h0M155.5 416.4h0M156.7 417h0M169.4 417.4h0M175.8 417.8h0M179.4 418.9h0M180.6 419.5h0M183.1 419.7h0M185.6 420.4h0M207 422.2h0M213.3 422.9h0M217.1 423.2h0M219.5 424h0M220.7 424.4h0M227 424.9h0M229.4 425.9h0M234.5 426.2h0M238.2 427h0" stroke="#f02848" stroke-width="1.6" stroke-linecap="round" fill="none"/>
<path d="M133.3 408.7h0M135.7 409.3h0M145.9 414h0M159.3 416.7h0M160.5 417.2h0M178.1 419h0M186.8 420.6h0M190.5 421.6h0M196.9 421.8h0M212 423.4h0M214.6 422.3h0M215.9 422.5h0M218.2 424.3h0M228.3 424.9h0" stroke="#f02848" stroke-width="2.4" stroke-linecap="round" fill="none"/>
<path d="M137 409.3h0M165.6 417h0M166.9 417h0M168.1 417.7h0M198.1 422h0M200.6 422.5h0M205.7 421.9h0M237 426.5h0" stroke="#f02848" stroke-width="2.8" stroke-linecap="round" fill="none"/>
<path d="M138 410.1h0M140.7 410.4h0M170.5 418.4h0M171.9 417.5h0M173 418.8h0M174.4 418.5h0M176.9 418.7h0M184.4 419.8h0M189.3 420.8h0M199.4 421.5h0M201.9 422h0M204.4 423.4h0M222 424.1h0M225.7 425.3h0M235.8 426.3h0M239.4 427.4h0" stroke="#f02848" stroke-width="2.1" stroke-linecap="round" fill="none"/>
<path d="M141 412.3h0M142.3 412.6h0M181.8 420h0M191.8 421.6h0M193.2 420.8h0M208.2 422.7h0" stroke="#ff50b0" stroke-width="2.8" stroke-linecap="round" fill="none"/>
<path d="M148.3 414.8h0M203.2 422.1h0M209.5 422.1h0" stroke="#ff50b0" stroke-width="2.1" stroke-linecap="round" fill="none"/>
<path d="M149.3 415.6h0M194.4 421.3h0M210.8 421.7h0M223.4 423.8h0M230.8 425.4h0M232 425.7h0" stroke="#ff50b0" stroke-width="1.6" stroke-linecap="round" fill="none"/>
<path d="M150.7 415.3h0M163.1 416.6h0" stroke="#e8d040" stroke-width="1.6" stroke-linecap="round" fill="none"/>
<path d="M151.7 416.5h0M161.8 416.9h0" stroke="#e8d040" stroke-width="2.4" stroke-linecap="round" fill="none"/>
<path d="M153.1 415.7h0M154.2 416.7h0M164.3 418.3h0" stroke="#e8d040" stroke-width="2.1" stroke-linecap="round" fill="none"/>
<circle cx="144.5" cy="412.7" r="0.8" fill="#60e840"/>
<circle cx="166.6" cy="416.8" r="0.9" fill="#60e840"/>
<circle cx="183.9" cy="419.7" r="0.8" fill="#60e840"/>
<circle cx="223" cy="422.5" r="0.8" fill="#60e840"/>
<circle cx="205.4" cy="421.3" r="1" fill="#ffb040"/>
</g></g>
<clipPath id="c14"><rect x="235.5" y="382.5" width="101.3" height="86.2"/></clipPath>
<g clip-path="url(#c14)">
<g filter="url(#bl)">
<path d="M233.8 412.7L240.9 414.5L248.8 415.3L261.4 418.4L272.4 422.4L283.4 429.4L291.3 436.5L300.8 440.5L310.3 438.9L318.1 435.8L327.6 435L336.3 437.3L343.4 438L343.4 473.6L233 473.6Z" fill="#02021e" fill-rule="evenodd" filter="url(#bh)"/>
<path d="M333 461.1h0M320.8 457l-1 0.2M269.5 430.2l0.8 -0.6M321.7 442.7h0M317.7 445.4l-1.3 0M276.8 431.9l0.6 -0.3M314.2 455.4l-0.9 -0.7M262.8 441.7l1.4 0.8M317.3 458.9h0M251 417.8l1.5 -0.6M237.7 429.3l0.9 0.5M305.1 440.6h0M332.7 466l0.1 -0.8M297.1 443.2h0M263.1 421.1l1 0.5M336.7 442.7h0M277.1 437.8l-1 -0M282.4 452.6l-1.5 -0.4M247.1 449.1h0M318.2 439.2l0 -0.7M290.6 459.7l1.5 -0M236.3 417.1l0.7 0.7M267.3 448.2h0M256.6 449.3l0.7 0.4M296 443.7h0M298.9 458.5l-0.3 0.5M242.5 459.4l0.4 -0.6M258.2 430.1l-1.1 -0.8M311.8 461h0M293.5 442.3h0M264.4 460.2l1.5 -0.4M237.8 449.6l-0.8 0.9M263 466.2h0" stroke="#2030e0" stroke-width="1.1" stroke-linecap="round" fill="none" opacity="0.82"/>
<path d="M330.5 437.5h0M268.1 437.6l-1.1 0.2M253.4 443.1l-0.3 -0.8M281 445.7l0.1 -1M294.7 467.3l-0.1 1.3M272.1 425.3l-0.8 0.1M298.8 456.6l0.8 0.9M292.4 464.9h0M239.8 426.5l0.3 -1.2M236.1 462.1h0M321.5 457.3l1.2 0.4M264.5 429.7l0.9 0.4M285.8 452.2l1.1 0.2M256.5 464.7h0M254.8 421.6l-0.3 0.4M246 416.1h0M273.7 428.7h0M243.7 459.9l-0.6 -0.5M325.4 455.4l0.1 -0.9M329.3 441.1l1.2 0.6M282.4 456.9h0M247.5 422.6h0M322.8 448.5l1.4 -0.2M332.5 441.2h0" stroke="#3b5bff" stroke-width="1.4" stroke-linecap="round" fill="none" opacity="0.82"/>
<path d="M248.7 462.9l-1 -0.7M320.8 453l0.9 0.2M255.1 444l0.2 1.3M268.9 434.8l0.8 0.1M318.2 452l-1 0.8M243.6 416.4l-0.2 -1.3M287.6 437.2l1.1 -0.7M246.7 465.4h0M263.1 446.5h0M269.7 423.7l0.5 0.5M329.7 442.5h0M260.4 430.3l0.4 1.1M334.9 461.6l-0.3 0.7M265.8 467.5l-1.1 0.6M331.5 456.6h0M270.1 444.6h0M283.5 440.9h0M316.3 440.3l0.8 -0.3M274.6 436.5l0.7 0.5M327.6 448l0.1 -0.9M262.6 446.3l-0.8 -1.2M322.7 446.6l0.5 0.9M248.8 450.6l-0.4 1.1M256.7 421.6h0M277.7 429h0M299.2 460.5l0.2 -0.5M312.6 449.8l0.4 0.4M238.7 422.6h0M272.2 452.5l-1.1 -0.6M301.2 458.7h0M268.6 458l1.5 0.1M289.6 454.9l-0.7 -1.4M239.8 446l0.5 -0.4M273.1 445.9h0M301 455.6l0.2 0.8" stroke="#3b5bff" stroke-width="1.1" stroke-linecap="round" fill="none" opacity="0.82"/>
<path d="M308.6 461.4l0.1 0.6M251.6 437.5l-0.5 0.2M303.7 446h0M261.6 455.7h0M321.3 444.3l0.1 0.5M271.6 439.8l-0.2 -0.7M277.2 453.3l-0.7 0.2M272.7 438.7h0M253.2 428.5l0.2 1.1M236.3 462.7l-0.8 0.1M240.5 423.8h0M316.8 458.9h0M319.5 450.5h0M294.9 450.3h0M294.8 461l-0.1 1.1M315 443.1l1.4 -0.6M272.9 427.1l-0.2 0.7M287.1 434.1h0M250 460.2l-0.5 1.4M270.6 449.4l1 -1.1M284.3 458.5h0M285.2 455h0M294.6 439.6h0M293 440.9l-0.6 0.2M248.9 424.4l-0.7 -0.3M317.6 451.6h0M316.1 452.1h0M318.9 444l-0.4 -0.8M299.6 465.3h0M255.7 466.8l-0.8 -0.5M256.6 457.8h0M303.2 453h0M261.7 420.2l-0.8 -0.6M294.4 438.5l1.5 0.2M268 438l-0.2 0.6M245.4 421h0" stroke="#4a78ff" stroke-width="1.7" stroke-linecap="round" fill="none" opacity="0.82"/>
<path d="M242.8 430.6l-0.8 -0.7M317.3 436.9l0.2 -0.6M276.9 449.3l-0.3 0.6M264.9 423.2l0.9 -0.3M300.4 447.8h0M256.1 429.9l-0 -1.1M264.9 426.6h0M301.5 468.6l-0.2 1.4M284 453.2l0.7 0.7M308.8 449.7l-0.1 -1.4M256.1 434.7l-0.7 -0.6M273.6 427.2h0M236.5 422h0M262.6 441h0M241.8 424.6l0.6 -0.2M252.4 428.6l-0 -1.4M323.5 449.3h0M304.4 450.1h0M307.7 459.1h0M252 441.1l-0.9 -0.9M268.2 435.1h0M300.9 440.8h0M252.1 447.8l-0.9 1.1M287.5 456.1l-0.9 -0M271.1 439.8l0.9 0.7M251.9 435.3h0M248.1 433.1l-0.1 -0.9M335.6 439.4h0" stroke="#2a3cff" stroke-width="1.4" stroke-linecap="round" fill="none" opacity="0.82"/>
<path d="M330 466.5l1.2 0.5M292.8 468.2l0 1.5M289.6 459.1l0.7 -0.6M253.5 437.4h0M296.6 443.6h0M273.8 433l0.9 -0.3M323.7 450.1h0M294.2 438.2l-0.8 -0.1M299.2 459.6h0M255.9 449.9h0M253.1 450.9h0M304.9 468.5l-0.3 -0.5M292.9 459.2l1.2 -0.5M270.1 465.8l0.9 -0.2M249.2 416.8l0.3 0.9M254.7 455.5h0M246.3 448.5l1.1 -0.8M287.8 460.4l0.6 -0.3M276.4 446.4h0M314 455.1l0.1 -1.2M310.2 444.6l-0.8 0M267.7 439.1l-1.3 0.4M258 448.5l0.7 -0.2M258 441.4l-0.7 1.2M283.2 455.1l0.8 1.3M242.2 423.7l0.7 1M327.1 463.3l0.4 -1.1M322.9 467.4l1.1 0.6M334 464.9h0M266.6 438.5l0.6 -0.3M251 416.7l1.4 -0.2M295.7 463.6l-0.1 0.7M293.6 465.2l-0.9 0.2M259.8 467.1l-1.3 -0M262.8 451.4h0M241.8 429.9l1.2 -0.8M309.1 441l-0.1 0.7" stroke="#2030e0" stroke-width="1.7" stroke-linecap="round" fill="none" opacity="0.82"/>
<path d="M243.2 462.9l-0.6 -1M270.5 440.4l-0.4 1.1M244.5 415.4l1.1 -0.8M267.7 429.5l-0.5 -0.3M305.4 445.1l0.2 -1.1M331.9 465.1h0M335.5 440.8l-0.7 0.1M316.3 445.8l0.8 -0.9M238.1 457.6h0M262.6 429.7h0M264.7 424.3l0.5 1.2M285.4 440.4l-0.7 -0.7M269.5 446.7l1.1 0.6M310.8 450.2l-0.1 -0.6M309.8 460.3l-1.1 0.5M292.3 441.4l0.3 -0.8M259.8 436.3l0 -1.5M294.5 462.2h0M295 439.1l1 -0.7M332.7 464.7l0.8 1.1M264.8 454.2h0M328.4 448h0M245.9 455.3l-0 0.7M317.6 440.9l-0.2 0.5M330.8 467.4l-0.8 1.2M285.5 456.7l1.3 -0.6M266.9 435.5l0.4 -0.9M280.3 448.9l0.6 -0.8M317.2 445.6l-1.3 0.2M306 440.9l-0.8 0.1M320.1 436.6l0.6 0.3M262.6 438l1 1" stroke="#3b5bff" stroke-width="1.7" stroke-linecap="round" fill="none" opacity="0.82"/>
<path d="M281.7 448.9h0M310 454.7h0M256.5 459.5l-0.9 -1.2M255.1 449.4l0.5 -0.9M247.4 439.1l1.3 -0.1M258.1 431.2l-0 -1.5M297.7 468.1h0M292.4 463.8l-0.7 -0.2M255.4 436.5l-0.9 0.6M257.6 467h0M251.7 420.7l0.1 0.9M315.6 445.4l-0.7 0.2M301.2 461.2l-1.3 -0.6M269.3 426.7h0M290.6 460.6l1.3 -0.7M284.6 451.1l-0.2 -0.7M329 439h0M237.3 427.5l-0.5 -0.9M272.2 438.8l-0.1 -1.4M309.3 466.5l-0.1 0.8M241 449.3l1.2 0.7M293.7 445.7l-0.4 1.3M325.3 444.2l0.2 -0.9M313.5 460.9l0.6 -0M248.7 449.4l0.4 -1.2M249.9 468.6l1 0.7M330.7 454.8l0.8 0.2M256.7 422.3h0M314 452.9l-0.4 -0.7" stroke="#2a3cff" stroke-width="1.7" stroke-linecap="round" fill="none" opacity="0.82"/>
<path d="M259 468.5l0.4 0.9M332.5 440.7l0.1 -0.7M284.8 432.8l1.3 0M242.4 424.2l-1.4 -0.1M336.6 438.8l-0.9 0.6M322.9 439.6l-1.1 1.1M237.4 416.9l1.2 0.5M298.8 458.8h0M318.7 450.8l0.1 0.8M246.3 427.6l-0.3 -1.1M246.6 420.3l-0.5 0.4M270.3 428.1h0M274.9 434.5l-1.1 -0.9M323.7 459.4h0M333.8 462.2h0M278.7 465.9l-1.1 0M254.7 426.6l-0.2 0.6M322.3 446.1l1.2 0.2M333 442.5l0.8 0.3M319.4 453.7h0M307.5 466.6l-1.4 -0M252.1 451.6h0M326.4 442.2h0M265.1 440.1l0.9 0.4M306.5 444.2h0" stroke="#2a3cff" stroke-width="1.1" stroke-linecap="round" fill="none" opacity="0.82"/>
<path d="M248 463.5h0M257.5 448.7l-1 0.8M249 452.4l-1.2 -0.4M309.2 461.9h0M243 457.7l-0.4 0.8M304 440.6h0M328.4 443.6l-0.4 -1.5M301.5 455.7l0.4 0.6M305.8 446.2l0.8 -1.3M315.1 443.8h0M257.3 425.4h0M251.4 428.2h0M282.5 449.2l0.4 -1.2M270.1 424l0.7 0.5M291.1 467h0M285 459.6h0M236.1 421l-0.9 -0M295.4 453.1l0.4 1.3M291.8 444.1h0M329 436.5l-0.4 -0.8M248.1 466.1h0M249.6 448.4l-0.9 0.8" stroke="#2030e0" stroke-width="1.4" stroke-linecap="round" fill="none" opacity="0.82"/>
<path d="M315.4 454.7h0M253 456h0M249.2 465.8l-0.5 -0.9M311.1 447.1l-0.2 0.5M235.7 420.8h0M249.8 419.8h0M259.6 442.1h0M239 460.6l-0.2 0.7M243.7 458.5l-1.4 0.7M283.8 464.8l0.5 -0.4M328 466.4h0M244.9 455.2h0M275.3 431.8l0.3 -0.9M276.1 438.7l0.6 0.3M271.5 451.9l0.3 0.5M259.5 436.9l-1.3 -0.9M313.5 437.7l0.9 -0.8M276.4 451l-0.8 -0M267.7 444.4l-0.6 0.5M303 455.3l-0.5 0.5M276.2 441.7l-0.7 0.7M328 448.9h0M276.9 444.8l1 0.9M324 437.9l-0.7 -0.7M265.6 468.5l1.1 0.3M273.8 449.8l-1.1 -0.2M266.4 451.5h0M265.7 423.5l-0.7 0.9M277 426.3h0" stroke="#4a78ff" stroke-width="1.1" stroke-linecap="round" fill="none" opacity="0.82"/>
<path d="M252.2 458.9l0.6 1.1M255.7 430.1h0M267 446.3h0M272.5 434.8l0.4 1.4M287.1 462.1l0.2 0.9M313.6 454.7l-0.1 1.2M254.1 430.5l0.3 -0.4M308.7 443l0.3 0.5M252.1 438.5l-1.5 -0.1M286.7 433h0M284.1 450.8l-0.5 -0.4M316.7 447.2h0M306.8 443.9h0M264.8 437.9l0.2 0.8M320.7 464.7l-1.3 0.2M315.2 439.7h0M240.5 444.7l-1 0.6M327.9 442.1l0.3 -0.6M249.5 425.6h0M328.6 451.4l0 -1.4M264.2 421.6h0M240.4 454.2l0.5 0.6" stroke="#4a78ff" stroke-width="1.4" stroke-linecap="round" fill="none" opacity="0.82"/>
<path d="M233.8 412.7C235 413 238.4 414.1 240.9 414.5C243.4 414.9 245.3 414.6 248.8 415.3C252.2 415.9 257.4 417.2 261.4 418.4C265.3 419.6 268.7 420.5 272.4 422.4C276.1 424.2 280.3 427.1 283.4 429.4C286.6 431.8 288.4 434.7 291.3 436.5C294.2 438.4 297.6 440.1 300.8 440.5C303.9 440.9 307.4 439.7 310.3 438.9C313.1 438.1 315.2 436.4 318.1 435.8C321 435.1 324.6 434.7 327.6 435C330.6 435.2 333.6 436.8 336.3 437.3C338.9 437.8 342.2 437.9 343.4 438" stroke="#c4e444" stroke-width="1.8" fill="none" stroke-linecap="round" stroke-linejoin="round" opacity="0.55"/>
<path d="M234 411.8h0" stroke="#50f040" stroke-width="3.8" stroke-linecap="round" fill="none"/>
<path d="M237 414.5h0M280 427.8h0M281.9 428.1h0M294.6 437.1h0M300.8 439.5h0M328.1 433.4h0" stroke="#c4e444" stroke-width="3.8" stroke-linecap="round" fill="none"/>
<path d="M239 413.5h0M263 419h0M279.1 425.8h0M297.1 439.9h0M324.4 435.8h0M326.2 433.8h0" stroke="#c4e444" stroke-width="3.4" stroke-linecap="round" fill="none"/>
<path d="M240.6 414.7h0M254.6 416.2h0M277.3 425.4h0M288.4 434h0M289.9 435h0M292.6 437.2h0M302.4 441.9h0" stroke="#c4e444" stroke-width="2.9" stroke-linecap="round" fill="none"/>
<path d="M242.4 414.6h0M245.9 414.5h0M259.8 417.4h0M261.3 418.4h0M286.2 431.2h0M315.9 436.7h0M338.2 436.9h0M339.9 437h0" stroke="#fff0a0" stroke-width="3.8" stroke-linecap="round" fill="none"/>
<path d="M244.1 415.1h0M307.3 438.5h0M312.6 438.1h0M317.3 435.2h0" stroke="#fff0a0" stroke-width="2.2" stroke-linecap="round" fill="none"/>
<path d="M247.7 414.5h0M249.4 414.9h0M251.2 415.1h0M256.2 417h0M286.6 433.3h0M304.1 439.9h0M341.7 437h0" stroke="#c4e444" stroke-width="2.2" stroke-linecap="round" fill="none"/>
<path d="M264.5 420h0M266.1 420.6h0M329.7 435.2h0" stroke="#50f040" stroke-width="2.2" stroke-linecap="round" fill="none"/>
<path d="M267.9 420.8h0" stroke="#50f040" stroke-width="3.4" stroke-linecap="round" fill="none"/>
<path d="M269.7 421.1h0M273.2 422h0M320.9 435.2h0" stroke="#ff60a0" stroke-width="3.4" stroke-linecap="round" fill="none"/>
<path d="M271.5 421.3h0M275.5 424.9h0M311.1 439.1h0M322.7 435.6h0" stroke="#ff60a0" stroke-width="2.2" stroke-linecap="round" fill="none"/>
<path d="M274.5 423.2h0M319.2 435.5h0" stroke="#ff60a0" stroke-width="2.9" stroke-linecap="round" fill="none"/>
<path d="M285.8 429h0M291.4 435.9h0M331.6 435h0M334.6 437.1h0" stroke="#50f040" stroke-width="2.9" stroke-linecap="round" fill="none"/>
<path d="M309.4 439.5h0" stroke="#ff60a0" stroke-width="3.8" stroke-linecap="round" fill="none"/>
<path d="M314 436.8h0" stroke="#fff0a0" stroke-width="3.4" stroke-linecap="round" fill="none"/>
<path d="M333 436.5h0M336.4 437h0" stroke="#fff0a0" stroke-width="2.9" stroke-linecap="round" fill="none"/>
<circle cx="258.2" cy="418.4" r="2.3" fill="#ffc8d0"/>
<circle cx="266.9" cy="420.9" r="2" fill="#ff9ab0"/>
<circle cx="250.3" cy="415.6" r="1.5" fill="#e8f060"/>
<circle cx="278.7" cy="423.9" r="1.8" fill="#58f040"/>
<circle cx="237.7" cy="413.7" r="1.4" fill="#fff0a0"/>
<circle cx="288.2" cy="432.6" r="1.4" fill="#ffe0a0"/>
<circle cx="300.8" cy="440.2" r="1.6" fill="#ffd0c0"/>
<circle cx="307.1" cy="439.5" r="1.5" fill="#f0e860"/>
<circle cx="315" cy="435.8" r="1.5" fill="#70f040"/>
<circle cx="324.4" cy="434.2" r="1.6" fill="#60f040"/>
<circle cx="330.7" cy="435.8" r="1.4" fill="#60f040"/>
</g></g>
<clipPath id="c15"><rect x="338" y="382.5" width="102.3" height="86.2"/></clipPath>
<g clip-path="url(#c15)">
<g filter="url(#bl)">
<path d="M336.8 422L343.9 421.3L351.8 420L359.6 419.2L367.5 418.4L377 421.6L388 425.5L402.2 427.1L418 431.8L430.6 431L439.3 431.8L446.4 432L446.4 473.6L336 473.6Z" fill="#01011a" fill-rule="evenodd" filter="url(#bh)"/>
<path d="M363.4 423.3h0M424 460h0M395.6 462.9l0.7 -1.1M360.5 461.3h0M354.1 420.7h0M350.7 450.7h0M403.9 458.6h0M384.6 465.8l-0.6 -0.1M360 434.2h0M378.1 447.5l-0.6 -0.6M364.8 425.9l0.7 0.2M372.2 438.7l-1.2 -0.2M422.9 440.4l-0.6 0.2M390.5 456.5h0M379 452.4l-0.6 0.5M387.4 427.9l0.5 0.1M352.6 441.7l1.2 0.8M387.3 444.3l0.7 -0.7M361.2 464.2l0.7 1.1M363.5 425.4h0M360.9 428.7h0M349.5 439.9l0.6 0.4M438.1 440.8l0.1 -0.5M408.5 443.4h0M438.7 432.7h0M374.4 430.6l0.3 1.2" stroke="#2030e0" stroke-width="1.4" stroke-linecap="round" fill="none" opacity="0.82"/>
<path d="M417.5 461.8h0M409.6 434.6l1.2 0.9M360.7 429.6l-0.7 -0.3M388.3 442.1l-1 0.1M400.1 453.9l0.6 -0.6M400.4 442l1.6 -0.1M345.8 453.2h0M360.3 432.4l-1.3 0.1M407 458.6h0M338.1 423.7l-1.4 0.6M417.5 440.8l-0.8 0.2M340.8 445.7l0.4 -1.1M412.4 432.6l0.7 -0.7M407.2 441.3h0M348.6 450.6h0M410.2 442.2l-0.1 -0.7M438.4 434.8l0.3 0.6M406.2 432.4l-1.1 0.2M403 434.7l0.3 1.4M406.8 450l0.7 1.4" stroke="#2a3cff" stroke-width="1.4" stroke-linecap="round" fill="none" opacity="0.82"/>
<path d="M381.5 456.8l1 -0.9M393.4 449.8h0M419.9 434h0M380.6 467.4h0M405.2 433.3l0.5 -0.6M404 456.3l-1 0.4M349.2 445.5h0M421 436l-0.8 -1.2M404.5 464.8h0M416.1 459.2l1.3 -0.4M393.7 444.8h0M439.6 451.5l-0.7 -0M364.7 446.7l-1.4 -0.6M357.5 465.3h0M372.6 430.2l0.6 1.1M375.2 421.3h0M424.8 445.5l0.6 -0.6M417.4 433.9h0M406.2 430.7h0M420.6 451.2l1.1 -0.6M439.5 464.3l-0.2 0.7M412 459.1h0M365.5 436.3h0M426.7 438.6l0.2 0.8M391.8 443.3h0M406.2 430.2l-0.1 0.8" stroke="#2030e0" stroke-width="1.7" stroke-linecap="round" fill="none" opacity="0.82"/>
<path d="M421.8 438.7l-0.1 1.3M366.7 420h0M393.7 444.6l-0.5 -0.6M361.1 422.3l-0.5 1.4M360.3 461.9h0M434.6 465.4h0M378.6 464.9l0.2 -0.7M395.8 443.8l-1 -1.1M345.8 450.1l-0.4 1.5M381.3 423.8l0.5 -0.6M381.9 441.5h0M423.8 441.2l1.5 -0.4M414.8 440h0M367.7 461.1l-0.3 0.5M416.9 442l0.4 1M376.3 457.5h0M437.3 454.6l0.5 -0.1M427.9 461.7h0M402.5 458.1h0M350.5 454.4l1.2 0.8M348.3 420.8l-0.7 -1.3M360 445.4l0.6 0.8M395 451.4h0" stroke="#3b5bff" stroke-width="1.1" stroke-linecap="round" fill="none" opacity="0.82"/>
<path d="M361.6 459.3l0.2 0.7M428.9 449.3l0.7 1.1M406.6 429.7l-0.9 -0M439.4 456.7l-0.4 0.3M339.4 445.4h0M386.8 467.5l1.1 -0.8M352 454.5l-0.1 0.6M398.5 456.1l-0.9 -1M389.8 429.1l0.1 -1M346.4 438.2h0M392.8 462.8h0M396.1 450.7l1 0.1M347.2 462.3l-0.9 1M402.9 459.3l0.1 -1.5M435.4 452.3l-0.9 -0.6M342.6 452.2h0M414.2 447.6l0.7 -0.4M394.1 464.8h0M386.6 466.8h0M430.4 435.8h0M402.7 434.8h0M385.5 457.6l0.6 0.1M360.9 438.9l0.6 0.1M425.2 448.9l0.7 -1.3M396.9 429.6h0" stroke="#4a78ff" stroke-width="1.7" stroke-linecap="round" fill="none" opacity="0.82"/>
<path d="M414.6 450l0.5 0.7M347.2 447.7l0.8 0.8M417.9 442.3l0.6 0.4M409.8 433.4l-0.2 -0.5M380.5 445.5l-1.3 -0.6M418.1 447.9h0M365.9 434.2h0M385.2 444.3l-1 -0.3M349.5 437.1h0M341.3 425.9l0.8 0.2M397.1 463.6l-0.4 -1.1M343.5 448.8l0.8 -0.6M408.3 463.9h0M430 437.8h0M345.2 443.1h0M436 459.3h0M357.2 435.6h0M389.3 426.9h0M427.8 440.4h0M427.9 443l-1.1 1.2M395.5 445.3l-0.8 1.3M438 464.1h0M418.8 435.1l0 -1.4M377.4 465.3l-0.6 0M356.1 425l-0.5 1.1M368.4 423.6l0.1 1.6M415.4 434.6h0M403.8 435.9l-0.7 0.6" stroke="#2030e0" stroke-width="1.1" stroke-linecap="round" fill="none" opacity="0.82"/>
<path d="M409.7 443.6h0M407.3 441.8l0.2 0.9M382.2 466.6h0M365.6 456.7l0.7 0.3M406.8 452.9l-1.5 -0.2M366.7 428.5l-0 1.1M381.8 465.5l-0.5 -0.9M396.4 429.8l-1.2 0.2M406.8 459.1l0.8 0.2M358.5 438.3l-1.1 0.5M353.6 424.1l0.8 1.1M382.2 446.2l0.7 1.2M364.6 463.6h0M369.6 420.1l-1.1 0.9M346.7 421.9l-0.9 0.6M436.3 460.3h0M431 435.6l0.5 0.2M381.4 426.6h0M369 462.9l0.6 0.1M395.2 462.4l0.5 -1.2M361.9 467.3h0" stroke="#3b5bff" stroke-width="1.7" stroke-linecap="round" fill="none" opacity="0.82"/>
<path d="M425.3 444.5l-0.3 -1.1M370.6 466.4l1.1 1.1M424.2 443.8l-1.3 -0.1M429.4 434.7h0M367.5 424.5l0.9 0.2M355 444.7h0M389.2 425.8h0M385.6 465.9h0M386.4 446h0M364 431.4l-1.5 -0.5M359.4 419.5l0.3 -1.1M391.5 443.8h0M393.2 438.8l-0.4 -1.3M357.5 427.5l0.9 0.1M424.3 446.5l0.4 1.2M409 432.1h0M434.5 464l-1.3 -0.5M422.1 443.8l-0.1 0.5M369.1 423h0M436.5 468.1l0.7 0.1M355 424.6h0M371.3 425.2l-0.8 -0.2M398.2 447.8h0" stroke="#4a78ff" stroke-width="1.4" stroke-linecap="round" fill="none" opacity="0.82"/>
<path d="M368 423.8l-0.5 -0.3M407.6 438.6l0.6 -0.9M398.4 458.8l-0 -0.6M355.1 435.2l-1 0.7M367.2 433.3h0M361.7 467.1l-1.2 -0.8M425.7 439.8h0M400.6 438.5h0M416.3 444.5l-0.1 1M372.1 421.1l0.6 -0.8M416.1 432.7l-1.5 -0.1M347.6 441l-1.3 -0.9M429.8 467.2h0M356.9 464.9h0M398.8 456.2h0M413.1 443.4l0.7 -0.7M416.7 451l1.3 0M359.9 439.3l1 -0.1M352.1 438.7h0M398.3 438.7h0M401 441.5l-0.1 -0.9M359.2 424.9l1.1 -0.6M424.6 439.3l0.5 0.7M423.6 431.9l0.6 0.6M386.5 426l0.6 -1.2M391.3 451l-0.7 -0.1M349.9 432.6l0.6 0.9M353.1 453.1l0.1 1.4M360.6 438.4h0" stroke="#3b5bff" stroke-width="1.4" stroke-linecap="round" fill="none" opacity="0.82"/>
<path d="M388.3 427.8h0M345.9 432.7l0.7 1.4M414.6 444.6h0M398.3 431.3h0M436.4 456.9l-1.1 0.6M420.7 445l-0.6 0.4M371.5 465.9h0M416.5 434.3h0M373.8 457.1l0.9 -1.3M346.7 439.9l-0.4 -1.4M435.3 455.3h0M432.6 453.5l0.3 1.1M396.6 427.3h0M433.9 438.1l0.3 0.6M414.3 447.1l-1 0.9M393.2 451.4l-0 -0.6M411.4 460.1h0M391.7 453.4h0M398.3 433.8l-0.7 0.6M360.6 440.7l0.8 -0.7M429.7 444.9l-0.1 0.5M417.3 449l-1.4 0.6M379.9 466.5h0M385.4 443.2l-0.2 -0.6M398.4 434.2h0M350.4 422.5l0.2 -0.8M395 443.5l-1.2 -0.7M434.2 450.8l-0.5 -0.4M405 439.8l0.6 0.1M398.6 459.3h0M358.6 443.6h0" stroke="#2a3cff" stroke-width="1.7" stroke-linecap="round" fill="none" opacity="0.82"/>
<path d="M412.5 463.2l-0.1 -0.5M353.8 434.3l0.2 -1.4M369.3 428.4l0.8 -0.1M340.5 445.8l-1.3 0.5M427.2 439.6l-0.8 1.2M422.1 435.3l-0.4 0.4M382.1 424.7l-0.1 1.2M429.7 442.1l-1.1 0.7M377.8 422.1l-0.7 0.2M383.7 454.1h0M400.2 454.9l-0.5 0.2M433.9 447.2h0M403.2 438.1h0M419 446h0M365.3 426.8l0.4 -0.8M398.6 448.1l0.3 1.2M359.5 432.8l0.9 -0.3M368.8 448.8h0M395.8 429h0M360.3 423.5l1 0.2M410.5 440.3h0M371.1 426.7l0 -1.1M410.2 457h0M389.7 468h0M414.4 450l0.3 0.7M357 425.4l0.9 0.4M358.3 455.4h0M346.6 427h0M406.1 452.7l-1.2 -0.1M389.8 426.8l0.9 1M429.3 451.3l1.5 -0.1" stroke="#2a3cff" stroke-width="1.1" stroke-linecap="round" fill="none" opacity="0.82"/>
<path d="M370.5 423.6l0.4 -0.9M373.8 433.3h0M384.9 424.6h0M379.8 442.5h0M338.3 422.6h0M368 421.3l-1.5 0.2M383.3 460.8l1.2 0.4M395 455l-1.4 -0.6M344.1 457.5h0M356 442.3h0M403.5 465.3l0.5 1.5M359.1 425.2l0.5 -0.3M384 452.2l1.2 -0M350.7 441.8h0M395.2 462.1h0M368.5 437.6l-0.1 0.6M352.3 456.5l-0.7 0.6M434.2 455.6l-0.6 -0.3M438.2 433.7l0.1 -0.7M338.1 455.3h0M398.1 452h0M421.1 439.8l0.3 -0.6M342.6 442.5h0M380.3 453.6l1.5 0.3M388.4 426.6h0M428.6 467.2l-1.4 -0.2M392.7 450l-1.1 0.6M409.3 459.2h0" stroke="#4a78ff" stroke-width="1.1" stroke-linecap="round" fill="none" opacity="0.82"/>
<path d="M336.8 422C338 421.9 341.4 421.6 343.9 421.3C346.4 420.9 349.1 420.3 351.8 420C354.4 419.6 357 419.5 359.6 419.2C362.3 418.9 364.6 418 367.5 418.4C370.4 418.8 373.6 420.4 377 421.6C380.4 422.7 383.8 424.6 388 425.5C392.2 426.4 397.2 426 402.2 427.1C407.2 428.1 413.3 431.2 418 431.8C422.7 432.5 427 431 430.6 431C434.1 431 436.6 431.7 439.3 431.8C441.9 432 445.2 431.9 446.4 432" stroke="#50e440" stroke-width="1.4" fill="none" stroke-linecap="round" stroke-linejoin="round" opacity="0.35"/>
<path d="M336.7 421h0M393 426.5h0M434.9 430.7h0" stroke="#b0f860" stroke-width="1.8" stroke-linecap="round" fill="none"/>
<path d="M340.8 420.5h0M355.9 419.7h0M370.8 419.1h0M395.8 425.9h0M397.1 427.1h0M405.3 427.5h0M407.8 428.8h0M411.8 430h0M416 430.1h0M419.7 433.1h0M437.6 431.2h0M441.6 431.7h0" stroke="#50e440" stroke-width="1.8" stroke-linecap="round" fill="none"/>
<path d="M343.4 419.4h0M350.3 419.7h0M368 419.3h0M381.2 422.9h0" stroke="#38c848" stroke-width="2.2" stroke-linecap="round" fill="none"/>
<path d="M346.4 421.2h0M357.3 420.2h0M360.1 420.4h0M410.4 429.6h0M412.7 431.7h0M414.1 431.7h0M421.1 431.8h0M422.5 432.7h0M438.9 432.1h0M443 433.2h0" stroke="#50e440" stroke-width="2.6" stroke-linecap="round" fill="none"/>
<path d="M347.8 421.4h0M354.5 419.2h0M362.6 418.2h0M375.8 421.5h0M390.2 426.1h0M394.3 427.5h0M406.9 427.1h0M445.8 431.6h0" stroke="#50e440" stroke-width="3" stroke-linecap="round" fill="none"/>
<path d="M349.2 421.2h0M380.1 421.9h0" stroke="#38c848" stroke-width="3" stroke-linecap="round" fill="none"/>
<path d="M351.7 419.6h0M353.1 419.5h0M391.7 425.1h0M401.2 426.9h0M402.4 427.8h0" stroke="#b0f860" stroke-width="3" stroke-linecap="round" fill="none"/>
<path d="M358.6 419.7h0M361.2 418.4h0M364.2 419.2h0M371.8 420.4h0M373.7 419.4h0M382.6 423h0M383.3 425.1h0M399.8 426.8h0M426.5 431.2h0M440.3 431.8h0" stroke="#50e440" stroke-width="2.2" stroke-linecap="round" fill="none"/>
<path d="M365.4 419h0M386.2 425.3h0M388.8 426.1h0M425.2 431.3h0" stroke="#38c848" stroke-width="2.6" stroke-linecap="round" fill="none"/>
<path d="M366.8 418.1h0M378.6 421.9h0M387.6 425.4h0M429.3 431.6h0M430.7 430h0" stroke="#38c848" stroke-width="1.8" stroke-linecap="round" fill="none"/>
<path d="M432 431.4h0M433.5 429.9h0" stroke="#b0f860" stroke-width="2.2" stroke-linecap="round" fill="none"/>
<circle cx="370.1" cy="420.3" r="1.5" fill="#ffd0e0"/>
<circle cx="418.3" cy="432.6" r="1.6" fill="#ffc0e0"/>
<circle cx="368.3" cy="425" r="1" fill="#ff8030"/>
<circle cx="340.7" cy="421.6" r="1.5" fill="#60f040"/>
<circle cx="349.4" cy="421.3" r="1.5" fill="#60f040"/>
<circle cx="369.1" cy="418.4" r="1.7" fill="#60f040"/>
<circle cx="391.2" cy="423.9" r="1.3" fill="#60f040"/>
<circle cx="423.5" cy="429.8" r="1.4" fill="#60f040"/>
<circle cx="438.5" cy="431" r="1.5" fill="#60f040"/>
</g></g>
<clipPath id="c16"><rect x="29.7" y="469.9" width="101.7" height="85.3"/></clipPath>
<g clip-path="url(#c16)">
<g filter="url(#bl)">
<path d="M29.4 469.4L137.4 469.4L137.4 561.6L120 561.6L116.9 541.1L112.9 528.5L108.2 517.4L101.1 508.8L91.6 506.4L83.8 511.9L79 517.4L71.1 512.7L64.8 500.1L57 489.1L44.3 481.2L31.7 472.5Z" fill="#02021e" fill-rule="evenodd" filter="url(#bh)"/>
<path d="M96.6 486.3l-0.6 1.2M74.2 495.6h0M71.2 501.9h0M120.2 525.5l1 0.5M70.9 475.2h0M71 504.8h0M117.9 543.5l-1 -0.2M89.6 499.6h0M102.5 509.3l-0.1 0.5M54.1 479.9h0M50.6 473.9l-0.4 1.2M106.2 514.4l0.9 -0.4M67.7 501.4l1 -0.3M115.3 535.7l0.3 -0.5M78.2 486.4l-0.4 0.3M72.2 500.1h0M111.2 508.3h0M79.6 487l0.5 -0.1M59.9 489.3h0M78.1 500.2h0M123.5 520.9l0.1 0.8M69.2 504.2h0M122.1 551.8l-0.5 1.2M92.5 472.4l0.7 -1.3M94.4 506.7h0M118 524.9l-0.1 -0.6M130.7 528.7l1.1 -0.4M122 534.7l-0.9 0.8M130.9 498.5l-0.5 -0.5M93.5 477.7h0" stroke="#3b5bff" stroke-width="1.1" stroke-linecap="round" fill="none" opacity="0.82"/>
<path d="M126.8 524.3l0 -1.3M120 533.6h0M129.3 483.7h0M92.9 476.6h0M125.5 499.5l0.4 -0.3M121.6 508l-0.5 1.1M112.3 504.7l0.6 -0.4M69.1 474.8l0.7 0.8M93.6 496.4l-0.9 0M125.5 503.8l0.3 0.8M119.7 520.3l1.3 -0.3M128.5 520.5h0M120 549.1h0M126.8 486.5h0M65.8 475.1h0M129.5 501.1l1.1 0.1M69.8 497.6l1.4 -0.4M121.7 525l0.6 -0.1M127.8 504.5l0.4 -1.4M84.1 495.3l0.2 -0.8M128.2 525.5h0M76.1 510.1l-0.8 -0.8M127.6 500.4l0.4 0.2M57 476.2l-0.5 1.1M115.4 513.3h0M93.8 478.8l0.8 -0.5M95.1 474.3l0 -1.5M78 488.4l0.1 1.5M122.4 508.7l1.4 -0.2M115.9 524.1l1.2 0.9M115.4 530.5l0.4 0.9M117.1 492.4h0M86.2 492.3h0" stroke="#4a78ff" stroke-width="1.1" stroke-linecap="round" fill="none" opacity="0.82"/>
<path d="M124.1 520.1l0.9 1.2M38.8 474.3h0M98.7 502.5h0M108.8 509.6l1 -0.8M50.4 471.4h0M110.4 509.1l-1.2 -0.5M52.6 481.6l-0.6 -0M127.7 554.8l-0.7 0.4M88.1 495.4h0M84.9 481l-0.2 -0.7M87.9 486.1h0M101.5 505.7h0M70 504.4l1 0.1M93.6 478l-0.5 -0.9M57.7 476.9l-0.9 -0.2M42.8 477.1l-0.2 0.7M74.2 501.8h0M83.9 476.4l1.5 0.5M129.6 554.6h0M130.7 506.7l0.3 -1.5M99.2 473.2l0.1 -0.6" stroke="#2a3cff" stroke-width="1.4" stroke-linecap="round" fill="none" opacity="0.82"/>
<path d="M66.9 496.7l0.1 1.2M117.9 471.6h0M77.2 500.9h0M57.6 473.9h0M91.7 492.5l-0.4 -0.7M64.8 480l-0.5 -1M70.8 498.8h0M57 471.1l-1 -0.1M90.2 489.7h0M128.3 538l0.9 -1.1M86.9 494.7h0M64.9 471.8h0M107.4 516.1h0M95 470.3h0M86.2 494.4l1.3 -0.2M115.5 511.2h0M76.9 492.2l1.1 -1M115.5 513l-0.5 0.2M102.4 494.8h0M116.3 512.3h0M103.6 495.2l0.4 -0.5M118 514.8l-0.7 -0.3M78.4 512.6h0M117.9 515.8l1.2 0.6M102.4 491.1l-0.5 0.4M125.7 551.9l0.5 -1.1M105.6 507.3h0M47.9 470.4l-0.7 -1.2" stroke="#2030e0" stroke-width="1.1" stroke-linecap="round" fill="none" opacity="0.82"/>
<path d="M108.6 471.8h0M121.2 547l0.7 -0.7M61.7 494.9l-0.8 0.5M113.6 494.7h0M68.4 480.5h0M125.3 503.1h0M124.1 522.2h0M80.8 514.4h0M102.7 483.9l-0.3 -1.1M110.8 508.8h0M55.6 477.6l0.2 1.2M126.7 499.9h0M80.6 514.3h0M92.2 482h0M69.2 499.8l-0.3 1.2M95.5 473.7l-0.7 0.2M75.2 492.1l0.7 -1.1M50.3 478.7l-0.5 1.4M116.5 485.8h0M109 515.4h0M84.6 502.9h0M108.7 512.6h0M93.6 505.7l0.8 -0.6M85 493.5l0.7 0.8M118.8 480.3l0.7 0.8M72.4 511.6h0M99.2 486.7h0M94 494.4h0M102.8 502.9l-0.5 0.9M110.6 515.7l1 -1M123.5 496.2l0.6 0.7M62.9 479.6l-0.6 -0.9M115.9 534.5l0.1 -1.4M73.9 495.8h0M121.3 511.8h0M129.8 521.7h0M102.4 496.9l0.8 -1.3" stroke="#2030e0" stroke-width="1.4" stroke-linecap="round" fill="none" opacity="0.82"/>
<path d="M108 473.2l0 -1.5M124 527.7h0M86.5 487.6l-0.2 0.5M64.9 475l-0.5 -1.2M94.1 472.9l1.1 -0.5M125.3 508.3l0.2 -0.7M123 518.1h0M113.4 516.9h0M126.7 510.3l-1.1 -0.1M92.4 492.6h0M118.5 496l-0.4 -0.4M75.8 511.6l-0.6 0.1M81.7 490.5l0.6 -1.4M105.4 481.3l-1.4 0.3M73.9 502.1l-0.2 -0.6M68.3 476.5h0M125.2 488.9l0.6 -1.1M110.4 514.6h0M101.3 500.7l-1 0.3M109.8 503.4l0.3 1M128.5 528.2l-0.5 0.8M77.7 488.2l-0.7 -1.4M99.7 485.2h0M86.6 507.1h0M115.2 495l1.4 -0.5M103.3 477.1l0.4 -1.2M108.3 471.3h0" stroke="#2a3cff" stroke-width="1.7" stroke-linecap="round" fill="none" opacity="0.82"/>
<path d="M92.2 480l0.4 -1.2M53.8 474.1h0M41.6 477.3l0.3 -0.4M110.5 491.7h0M115.8 524.6l-1.2 0.8M120.9 494.4h0M117.2 541.2l-0.7 1.3M130.9 547.7h0M44.5 478.4h0M66.7 499.4l1.2 0.3M111.9 502.3h0M71.9 495.6h0M109.7 470l-0.3 0.8M124 517.2h0M53.3 475.1h0M56.9 472.8h0M77.3 498.7l-0.3 -0.7M35 471.8l-1 0.5M115.3 484.4l-0.5 -1.1M61.5 470.9l-0.8 -1.2M118.4 528.4l0.5 -0.3M94.3 498.4l-0.8 0.7M81.1 490.5l0 1.1M62.2 483.3h0M73.7 485.6l-0.5 -0.2M62.4 471.8l-0.9 -0.3M80.4 477.2h0M67.8 500.8l-0.5 -0.7M40.2 472.2h0M131.2 519.1l-1.1 -0.2M117 498.2l0.2 0.5M84.3 492.7l0.2 -1.1" stroke="#3b5bff" stroke-width="1.4" stroke-linecap="round" fill="none" opacity="0.82"/>
<path d="M126.4 544.8h0M113.1 511.1h0M108.3 471.4l0.6 -0.6M120.7 552h0M33.6 472.4h0M61.8 473h0M123.5 516.5l0.2 0.9M116.6 523.5l-0.2 -0.6M69.2 507.6l0.4 -0.4M56.2 478.8l0.4 -0.7M124.2 545.6l0.7 0.1M98.3 484.3l-0.7 1.1M107.2 506.6h0M130.4 502.9l-1 1M80 482.8l1.1 -0.5M72.7 490.8h0M59 477.9h0M104.3 484.2l-0.2 1M116.7 518.6h0M70.8 508.2h0M115 479.7l0.3 0.4M66.5 475.1l-0.5 -0.9M48.3 473.9l0.9 -0.2M64.5 474.5l1.4 0.4M129.4 511.4h0M106.3 499.1l0.5 -1.3M48.8 471.7h0M95.9 503.4l1.1 -0.5M94.9 502.2l0.7 0.9M111.9 506.5h0M87.1 490.4h0M57.1 488.8l1.1 1.1M124.6 552.8l0.7 0.2M90.7 493.8l-0.1 -0.6M80.8 502.7l0.2 -1.5M62.9 488.3h0" stroke="#4a78ff" stroke-width="1.7" stroke-linecap="round" fill="none" opacity="0.82"/>
<path d="M70.9 505.2l-0.4 0.6M105.7 483.5h0M116.4 517.7l0.7 0.2M111.7 516.4l-1 -1M70.2 501.2l0.7 0.3M96.1 473.4l1 -0.3M119.7 514.2l-0.5 1.4M116 487.9h0M77.2 486.4l-0.5 -0.3M60.4 480.8l0.6 -0.2M97 471.8l0.8 -0.1M122.2 489.7l0.6 0.4M36.1 471l-0.5 -0.2M106.2 500.7h0M113.8 519.5l0.5 1.4M86.5 503.8l-0.8 0.7M109.2 478.5l0.4 -0.6M124.9 544.7l0.9 0.1M109.2 507.9h0M119.3 539h0M70.3 497.4h0M97.8 487.7l0.3 1M126.4 485.6h0M113.4 510.9l-1.1 0.4M91.6 491.2l0.4 -0.7M131.4 485.2l0.9 0.7M95.1 487.1l1.5 -0.6M110.5 500.9l0.8 -1M78.2 503.3h0M63.2 475.8l0.4 1M89.2 499.5h0M74 502.6l-1.1 0.8" stroke="#2030e0" stroke-width="1.7" stroke-linecap="round" fill="none" opacity="0.82"/>
<path d="M86.1 509.8h0M128.5 508.6l0.3 0.8M112.4 490.7l1.2 -0.2M59.8 475.5l0.5 0.4M118.4 540.6l0.9 1.2M126.9 554.4h0M33.7 473.1l1 -0.4M93.9 487.5l1.1 0.9M122.2 477.8l0.6 -1.3M84.7 486.2l-0.8 0.8M122.7 537.1h0M116.1 516.3h0M120.3 512.7h0M83.9 487.1h0M113 508.9l0.5 -1M114.8 532.7l0.4 -0.7M102.9 502.7l-1 0.4M120.7 478.2l-0.2 1.3M118.4 512.6l-1.1 -0.5M115.2 509l0.4 0.4M114.5 528.6l-0.5 0.3M111.1 506.8h0M87.8 486.1l-0 0.7M119.9 544.4l-0.7 -0.3M71.6 503.7l1.4 -0.5M93.9 491.5l-0.4 -1M123.6 500.6l-1 1.1M64 477h0M79.4 471.3l-0.8 0.9M84.7 510.2l-0.9 0.5M81.3 482.6l-0.4 1.5M122.9 533.5l1.4 0.7M127.6 554.9h0" stroke="#4a78ff" stroke-width="1.4" stroke-linecap="round" fill="none" opacity="0.82"/>
<path d="M55.2 480h0M127.9 504.3h0M103.9 504.7h0M75.2 502.3l-1.2 0.1M58.4 476.7l-0.5 0.8M100 487.4h0M49.7 477.8l0.5 -0.4M88.9 486.5l1.1 -0.1M50.6 473.4l0.5 -0.8M106.2 510.3h0M100.7 480.8h0M103.5 480.6l-0.7 0.3M102.4 502.1l0.8 -0.5M87.1 491l-1.4 0M58.3 472.4h0M34.4 473.8l-0.5 -0.2M104.7 494.3l-0.2 0.7M126.8 499.9h0M71.7 509.6l0.4 -0.6M110.7 503.7h0M75.9 510.4h0M60.4 477h0M116.9 529.1l0.1 -0.7M72.8 504h0M120 517.2h0" stroke="#2a3cff" stroke-width="1.1" stroke-linecap="round" fill="none" opacity="0.82"/>
<path d="M114.9 495.4l-1.5 -0.4M65.6 501.2h0M78.7 515.3l-0.6 1.4M68.3 478.3h0M116 507l-0.5 0.5M115.8 492.3h0M83.1 503.2l1.3 0.9M130.9 503.9h0M74.4 495.4l-1.2 0.7M89.5 479.7l-0.8 0.5M107.2 508.2l-0.7 -0.7M108.7 513.5l1 0.3M121.4 500.8h0M125.5 551.5l0.4 0.8M61.5 480.6l1 0.6M130.6 470.6l0.7 0.4M83.6 488.1l-0.5 0.7M94.4 504.9h0M116.9 537.4l-0.2 0.6M128.3 551.6h0M51.4 478.2l0.7 -0.5M88.7 506.5h0M116.5 536.5h0M39.9 476.5h0M106.7 509l-0.7 0.8M125.6 519.8h0M39.3 473.9h0M119.4 527.5l-0.1 -0.9" stroke="#3b5bff" stroke-width="1.7" stroke-linecap="round" fill="none" opacity="0.82"/>
<path d="M34 537.7l0.6 1.4M67.9 546.1l0.2 0.6M62.4 538.1l-0.6 -0.8M70.9 542.2l-0.1 -1.2M34.2 534.9l-0.7 0.1M39.8 547.1h0M41.5 540.3l-0.9 -1M59.8 543.8l0.3 -0.5M37.9 532.9l-0.9 0.4" stroke="#4a78ff" stroke-width="1.7" stroke-linecap="round" fill="none" opacity="0.82"/>
<path d="M61.1 534.7h0M68.5 542.7l-1.3 -0.4M37.4 553.8h0M60.5 546.9h0M61.6 538.2l-0.8 1.1M68.9 552.8l1.1 0.5" stroke="#2030e0" stroke-width="1.7" stroke-linecap="round" fill="none" opacity="0.82"/>
<path d="M32 554.4l0.2 -1.1M60.4 553.4h0M32.8 535.3l1.5 -0.1M36.7 531.6h0M54.2 542.7l-1.5 0.4M51.5 549.3l0.2 0.8M66.5 552.8h0M55.8 547.6h0" stroke="#3b5bff" stroke-width="1.1" stroke-linecap="round" fill="none" opacity="0.82"/>
<path d="M44.3 546.8l0.2 0.5M54.3 536.2h0M37.4 534.8l-0.9 0M33.2 527.3l-0.8 -0.2M46 537.3h0" stroke="#2a3cff" stroke-width="1.1" stroke-linecap="round" fill="none" opacity="0.82"/>
<path d="M40.5 553.9l0.6 -1M42.8 552.5h0M50 535.3l0.8 -0.3M44.5 535.9l0.4 -0.6M32.1 526.4l-0.1 -1.1M39.4 539.6h0M33 535.8l1 0.8M69.7 541.9h0" stroke="#2030e0" stroke-width="1.4" stroke-linecap="round" fill="none" opacity="0.82"/>
<path d="M60.6 534.7l-0.9 0.8M66.6 554.8h0M37.5 545.9l0.5 -0.5M46.3 537.5l1.2 -0.5M31.9 524.2l-0.1 -0.9M64.2 551.4l0.6 1.3M51.4 542.9l-1 -0.2M40.5 537.4l-0.5 0.3M58.5 537.9l0.4 0.9" stroke="#2a3cff" stroke-width="1.4" stroke-linecap="round" fill="none" opacity="0.82"/>
<path d="M43.6 540.3l-1.3 -0.9M31.5 538.7l-0.3 -0.4M53.3 549.5h0M45.2 528.4l-0.6 1M41.8 540.8l-1.4 0M48.4 545.1l0.7 0.7M68.9 540.1h0M50 534.2h0" stroke="#2030e0" stroke-width="1.1" stroke-linecap="round" fill="none" opacity="0.82"/>
<path d="M38.9 527.5h0M74.5 546.5h0M63.2 538.3h0M75.3 549.4h0M52.4 547.6h0M30 536.8l0.8 -0M49.5 550.3l1.1 0.6" stroke="#2a3cff" stroke-width="1.7" stroke-linecap="round" fill="none" opacity="0.82"/>
<path d="M61.4 546.4l-0.7 -0.2M53.4 534.4h0M38.6 536.7h0M70 550.9l1.1 -0.1M43.7 526.5h0M39 551.8l0.3 -0.7M39.5 545h0M46.3 550.9l-0.7 0.7M64.4 548.3h0" stroke="#3b5bff" stroke-width="1.4" stroke-linecap="round" fill="none" opacity="0.82"/>
<path d="M35.8 527.1l-0.2 0.6M54.4 532.8l0.7 -0.7M42.2 530.6l-0.6 -0M68.2 546.5l-1.4 -0.3M41.2 531.5h0M47.2 539.6l0.1 1.4M72.3 553.2l1.1 1M37.3 541.8h0" stroke="#4a78ff" stroke-width="1.4" stroke-linecap="round" fill="none" opacity="0.82"/>
<path d="M40.2 540.8h0M50 544.2l-0.7 -1.4M35.3 536.2h0M40.5 539.6l-1.2 -0.9" stroke="#4a78ff" stroke-width="1.1" stroke-linecap="round" fill="none" opacity="0.82"/>
<path d="M43.1 544.3l-0.4 0.5M76.3 554.3l0.1 1.1M72 554.3l0.4 -0.5M43.5 554.9l1.1 -0.1M46.8 543h0M65.2 536.9h0" stroke="#3b5bff" stroke-width="1.7" stroke-linecap="round" fill="none" opacity="0.82"/>
<path d="M31 472.5L28.9 475.4M33.3 473.5L29.8 478.2M44.2 480.6L40.8 485.8M56.7 490.8L53 494M64.8 501.8L59.9 504.6M71.2 512.8L67.3 516.1M78 517.7L78 521.7M98.6 507.9L96.7 512.1M106.3 515.5L103.1 517.5M113.9 532.4L108.8 534M115.2 538.4L110 539.7M116.2 540.6L111.7 541.7" stroke="#3cee38" stroke-width="1.5" stroke-linecap="round" fill="none"/>
<path d="M32 473.1L29.1 477.2M35.1 474.9L32.6 478.5M49 484.2L45.9 488.9M51.1 485.5L48.1 489.8M52.2 486.2L49.4 489.9M63.9 500.9L59.1 503.8" stroke="#30d834" stroke-width="1.3" stroke-linecap="round" fill="none"/>
<path d="M33.9 474.7L30.9 478.8M41 478.7L39.1 482M42.9 480.4L40.1 484.7M46.9 483L45.1 485.8M55 488.8L51.5 492.6M56 489.7L52 493.5M59.3 493.7L54.9 496.7M65.5 504.3L62.5 505.8M67 506.2L61.9 508.9M69.9 511.1L66 513.8M76.6 517.4L75 521.5M84.6 512.1L88 515.4M104 512.4L99.5 516M110.1 522L105.6 524M112.5 527.7L108.4 529.2M116.7 544.3L111.8 545.4M117.2 545.4L112.4 546.4" stroke="#3cee38" stroke-width="1.1" stroke-linecap="round" fill="none"/>
<path d="M36.5 475.1L33.4 479.5M72.7 514.5L69.6 517.5M78.5 517.2L79.8 522.4M87 509.2L90.3 512.8M103.2 511.1L99.4 514.9M109.7 520.8L105.8 522.6M110.6 523.1L106.2 525M112.1 526.5L107.1 528.4M115.1 535.9L110.2 537.2M118.4 550.1L113.5 551M119.4 554.9L114.7 555.6" stroke="#2cc43c" stroke-width="1.5" stroke-linecap="round" fill="none"/>
<path d="M37.1 476.3L34.4 480.1M67.6 507.2L62.1 510.1M94.4 507.1L93.9 511.2M113.7 531.2L108 533M115.1 537.2L110.4 538.4M116.6 541.8L112.5 542.8" stroke="#58f850" stroke-width="1.1" stroke-linecap="round" fill="none"/>
<path d="M38.1 476.7L34.9 481.7M66.3 505.2L62.5 507.2M73.9 516.3L71 519.9M75.7 517.2L72.9 522.2M81.7 514.5L85.3 517.5M119.7 558.6L113.3 559.4" stroke="#30d834" stroke-width="1.5" stroke-linecap="round" fill="none"/>
<path d="M38.9 477.6L35.9 482.5M68.3 508.2L63.6 510.7M92.8 506.9L93 510.7M97.2 507.7L95.4 512.6M101.2 509.3L98.5 512.8M105.1 513.2L100.9 516.3M107.7 517.5L102.8 520.4M108.4 518.6L103.3 521.4M109.1 519.7L104.4 522.1M112.8 530.1L108.5 531.6M114.9 534.7L110.3 536" stroke="#58f850" stroke-width="1.3" stroke-linecap="round" fill="none"/>
<path d="M40 478.1L37.2 482.8M50.2 484.7L46.7 489.8M53.3 486.9L50.9 489.9M74.8 516.8L71.5 521.5M79.6 517.1L82.8 520.5" stroke="#58f850" stroke-width="1.5" stroke-linecap="round" fill="none"/>
<path d="M42.5 478.8L39.9 482.8M59.9 494.8L55.5 497.6M65.2 503L60.9 505.4M68.4 509.4L64.9 511.4M71.8 513.8L68.5 516.7M83.6 512.7L87.4 516.6M89.4 507.1L92.2 512.7M91.4 507.1L92 511M111.5 524.1L105.2 526.6M117.1 546.7L113.3 547.5" stroke="#2cc43c" stroke-width="1.3" stroke-linecap="round" fill="none"/>
<path d="M45.2 481.3L42.2 485.9M61.5 496.6L57.3 499.3M61.9 497.8L58.8 499.7M95.7 507.3L94.8 511.8M112.9 528.8L108.7 530.3M118.8 556.3L114.9 556.8" stroke="#30d834" stroke-width="1.1" stroke-linecap="round" fill="none"/>
<path d="M46.1 482L43.5 486.1M63.3 499.7L58.8 502.6M85.2 510.9L88.3 514M115.9 539.5L111.1 540.7M119.5 557.4L113.5 558.1" stroke="#2cc43c" stroke-width="1.1" stroke-linecap="round" fill="none"/>
<path d="M57.7 491.7L54.2 494.4M69.2 510.2L66 512.2M82.7 513.6L86.3 517M116.4 543.1L112.2 544.1M117.5 549L113.9 549.8" stroke="#44e858" stroke-width="1.1" stroke-linecap="round" fill="none"/>
<path d="M58.6 492.7L55.5 494.9M61 495.5L55.8 498.9M70.6 511.9L65.6 515.7M77.3 518.1L76.4 521.8M99.8 508.5L97.6 512.7M102.2 510.3L99.2 513.6M106 514.1L102.6 516.5M111.6 525.4L106.4 527.4M114.6 533.5L110.4 534.7M118.9 552.5L113.9 553.4M119 553.8L113.9 554.5" stroke="#3cee38" stroke-width="1.3" stroke-linecap="round" fill="none"/>
<path d="M73.8 514.9L70.3 518.5M88.1 508.3L91.3 512.4M117.7 547.8L113.8 548.6" stroke="#44e858" stroke-width="1.3" stroke-linecap="round" fill="none"/>
<path d="M79.9 516.1L83.3 519" stroke="#44e858" stroke-width="1.5" stroke-linecap="round" fill="none"/>
<path d="M31.8 473.5h0M33 473.9h0M33.6 475.1h0M34.9 475.3h0M36.2 475.5h0M36.8 476.7h0M37.9 477.2h0M39.8 478.5h0M40.8 479.2h0M42.2 479.2h0M44.9 481.7h0M46.6 483.4h0M48.7 484.7h0M49.9 485.1h0M51.9 486.6h0M53 487.3h0M56.3 491.2h0M57.3 492h0M58.2 492.9h0M59.5 495.1h0M60.6 495.8h0M61.1 496.9h0M61.5 498.1h0M62.9 500h0M63.4 501.1h0M64.4 502h0M65.9 505.4h0M66.5 506.4h0M67.2 507.4h0M67.8 508.4h0M67.9 509.7h0M68.8 510.5h0M70.2 512.2h0M70.8 513.1h0M71.4 514.1h0M73.6 516.7h0M74.6 517.2h0M76.4 517.9h0M77.2 518.5h0M78 518.2h0M78.6 517.7h0M80 517.4h0M83 513.9h0M84 513h0M85.5 511.3h0M87.4 509.6h0M89.6 507.6h0M91.5 507.6h0M94.3 507.6h0M95.6 507.8h0M97 508.2h0M98.4 508.4h0M99.6 508.9h0M101.8 510.7h0M102.9 511.5h0M103.6 512.7h0M104.7 513.5h0M105.6 514.4h0M105.8 515.7h0M108 518.8h0M108.6 519.9h0M109.2 521h0M110.1 523.3h0M111.1 525.6h0M111.6 526.7h0M112.3 530.3h0M113.2 531.3h0M114.6 536h0M114.6 537.3h0M114.7 538.5h0M115.4 539.6h0M115.7 540.8h0M116.1 541.9h0M115.9 543.2h0M116.7 545.5h0M117.2 547.9h0M117.1 549.1h0M117.9 550.2h0M118.4 552.6h0M118.5 553.9h0M118.9 555h0M118.3 556.3h0M119 557.5h0M119.3 558.6h0" stroke="#2c7cd0" stroke-width="1.7" stroke-linecap="round" fill="none" opacity="0.85"/>
<path d="M57.7 537.4L59.6 533.4M67.9 542.7L69.9 540.3" stroke="#2cc43c" stroke-width="1.5" stroke-linecap="round" fill="none"/>
<path d="M58.8 538L60.5 534.1" stroke="#3cee38" stroke-width="1.1" stroke-linecap="round" fill="none"/>
<path d="M60 538.1L61.1 535.8M65.3 540.4L67.3 537.4M66.1 541.3L68 538.7" stroke="#58f850" stroke-width="1.1" stroke-linecap="round" fill="none"/>
<path d="M61.2 538.3L62.2 536.3M68.5 543.5L71.6 540.5M73.2 549.9L76.5 548.1" stroke="#44e858" stroke-width="1.5" stroke-linecap="round" fill="none"/>
<path d="M62.1 539.3L63.5 536.4M62.9 540.1L64.8 536.5" stroke="#30d834" stroke-width="1.3" stroke-linecap="round" fill="none"/>
<path d="M63.9 540.5L66.1 536.8" stroke="#30d834" stroke-width="1.1" stroke-linecap="round" fill="none"/>
<path d="M67 541.8L68.3 540.4" stroke="#3cee38" stroke-width="1.5" stroke-linecap="round" fill="none"/>
<path d="M69.5 544.2L72.6 541.4M75.9 555.2L79.5 553.4" stroke="#44e858" stroke-width="1.3" stroke-linecap="round" fill="none"/>
<path d="M71.2 545.8L72.4 544.8M75.1 554.2L79 552.4" stroke="#30d834" stroke-width="1.5" stroke-linecap="round" fill="none"/>
<path d="M72.1 547.9L75.1 546" stroke="#58f850" stroke-width="1.5" stroke-linecap="round" fill="none"/>
<path d="M72.2 549.1L75.9 547.1" stroke="#2cc43c" stroke-width="1.3" stroke-linecap="round" fill="none"/>
<path d="M74.7 551.8L76.2 551M74.7 553.1L77.8 551.6" stroke="#44e858" stroke-width="1.1" stroke-linecap="round" fill="none"/>
<path d="M57.9 536.9h0M59 537.6h0M60.2 537.7h0M61.5 537.9h0M63.1 539.7h0M64.2 540.1h0M65.6 540h0M66.4 540.9h0M68.2 542.3h0M68.9 543.2h0M69.9 543.8h0M71.6 545.5h0M72.5 547.6h0M72.7 548.8h0M75.1 551.6h0M75.6 554h0M76.4 555h0" stroke="#2c7cd0" stroke-width="1.7" stroke-linecap="round" fill="none" opacity="0.85"/>
<path d="M74.3 520.3L81.4 519.7" stroke="#ff50b8" stroke-width="1.4" fill="none" stroke-linecap="round" stroke-linejoin="round" opacity="0.55"/>
<path d="M74.3 520.1h0M80 520.3h0" stroke="#ff50b8" stroke-width="3.1" stroke-linecap="round" fill="none"/>
<path d="M75.6 519.3h0M78.6 519.8h0" stroke="#ff50b8" stroke-width="1.8" stroke-linecap="round" fill="none"/>
<path d="M77.2 520.1h0" stroke="#ff50b8" stroke-width="2.7" stroke-linecap="round" fill="none"/>
<path d="M62.5 535.1L65.6 536.7" stroke="#ff5090" stroke-width="0.8" fill="none" stroke-linecap="round" stroke-linejoin="round" opacity="0.55"/>
<path d="M62.6 534.8h0M65.5 536.2h0" stroke="#ff5090" stroke-width="1.7" stroke-linecap="round" fill="none"/>
<path d="M63.2 535.5h0" stroke="#ff5090" stroke-width="1" stroke-linecap="round" fill="none"/>
<path d="M63.6 536.3h0M64.5 536.4h0" stroke="#ff5090" stroke-width="1.5" stroke-linecap="round" fill="none"/>
<circle cx="42.8" cy="482.5" r="1" fill="#ff60a0"/>
<circle cx="110.6" cy="553.4" r="1.8" fill="#50f040"/>
</g></g>
<clipPath id="c17"><rect x="132.6" y="469.9" width="101.7" height="85.3"/></clipPath>
<g clip-path="url(#c17)">
<g filter="url(#bl)">
<path d="M130.8 503.3L137.9 503.6L145.8 503.6L153.6 502.5L164.7 505.6L175.7 511.1L185.2 513.5L196.2 514.3L208.8 511.1L224.6 508.8L234.1 508L240.4 507.7L240.4 561.6L130 561.6Z" fill="#020228" fill-rule="evenodd" filter="url(#bh)"/>
<path d="M195.5 518.6h0M141.8 504.5h0M216.1 531.7l-0.7 1.2M144.6 517.4h0M203.8 519.4l-0.6 0.6M185.3 527.5l-0.1 -1.1M138 543.8h0M223 513.9h0M205.1 523.8l-0.4 -0.4M133.4 535l-0.8 -0.5M174.7 514.2l0.2 0.9M215.9 536.1l0.1 1.2M198.8 531.3l-1.1 0.8M168.3 521.1h0M213.1 518.9h0M233.5 521.9l-1 0.6M143.1 505.2l-1.5 0.3M218 538.1l-1 -0.2M184.1 542.3h0M152.3 537.6l1.1 0.1M166.1 521.1l-1.5 0M223.6 550.3l0.7 -0.1M230.9 511l-0.3 1.2M154.1 512.4l0.5 0.5M211.1 525.6h0M176.6 537.2h0M154.2 505.4l-0.3 0.7M194.2 555.2l0.7 -0.1M202.1 524.8l-0.3 0.8M194.9 546.5h0M212.8 544.2l0.3 0.7M146.6 549.5h0M174.3 517.5h0M162.4 524.5l0 0.5M180.1 539.3l-1 0.2M193.3 547.5h0M176.1 551.7l0.5 0.3M217.9 518h0M218 540.4h0M145.8 511.6l-1.5 0.1M165.2 523.6h0M220.5 510.6l-0.1 0.6M147.8 511.5l0.5 -0.4M186.7 531.9h0M150.2 525.8l-0.8 -0.2" stroke="#2222f0" stroke-width="1.4" stroke-linecap="round" fill="none" opacity="0.82"/>
<path d="M221.5 543.1l-1.5 0.1M166.1 554l-0.6 0.6M150.2 511.3l-0.2 -0.5M145.3 543l0.7 0.2M203.7 516.5l0.6 -0.4M202 514.8h0M167.6 509.9l0.6 0.4M154.2 503.5l0.7 0.7M215 524.3l-0.8 0.4M156.3 517.1l0.3 0.9M211.5 542.5h0M160.6 540l-0.4 -0.6M186 545.2l-1.2 -0.7M209.6 537.9l0.4 -0.6M223.6 542.8l0.6 0.1M159.1 520.6l1.5 0.5M173.4 518.6h0M168.9 508.9l0.9 -0.2M155.5 535.2h0M170.1 532.7l0.4 1M150.2 519.8h0M217.4 513.8l0.6 -1.4M182.4 543.8h0M173.1 544.4l-1.3 0.5M202.4 515.9l0.6 -1.1M220 549.5l0.3 -1.4M163.4 529.5h0M196.2 522.2h0M165.7 534.7l-0.2 -1M175.1 551.1l1 -0.8M183 532.5l-0.6 0.5M198.5 540.1h0M199.3 531.4l-0.6 -0.9M144 515.8h0M157.7 522.4h0M167.6 520.3l-0.2 0.8M153.2 519.6h0M222.2 519.8l-0.2 0.5M141.1 535.3l-1 -0.2M157.5 549.3l1.1 0.7M150.2 536.7l-0.7 -0.4M177.5 540.3l-0.4 0.7M140.1 521l0.6 1.1M187.9 550l-1.1 0.3" stroke="#1515d0" stroke-width="1.4" stroke-linecap="round" fill="none" opacity="0.82"/>
<path d="M208 542.3l0.9 0.2M214 537.8l0.7 0.1M141.1 542.3l0.8 0.1M196.2 533.1h0M135.1 516.8l-0.2 -0.9M179 546.4h0M202.2 530.2h0M196.3 532.8l-0.4 -1.2M199.2 534.9h0M143.3 513.1l0 -1.1M140.9 538.9l1.2 0.9M191.1 540.7h0M153.4 518.9l1.1 -1M221.9 516.5h0M191 529.5h0M181.2 539.4h0M194.6 521.3l0.5 -0.5M153 513.2h0M135.4 549.8h0M221.1 549h0M201.1 514.3h0M227 550.8l-0.4 -1.4M200.7 528l-0.5 -0.3M143.4 515.3l0.2 1M208.8 518.8l-1.4 0.5M232.9 510.2h0M192.4 552.2l0.5 0.3M150.2 537h0M205.4 549.1l-0.9 0.7M231.9 528.8h0M213.5 512.3l0.8 0.5M203.4 528.3h0M138.6 524.2l-0.3 0.8M229.3 544.3h0M217.3 548.3h0M183.8 516l1 1.1" stroke="#1a1aff" stroke-width="1.4" stroke-linecap="round" fill="none" opacity="0.82"/>
<path d="M151.4 510.6l-0.6 -0.1M227.6 551.7l1.5 -0.2M171.4 534.8h0M144 530.9h0M186.7 541.3l0.8 0.6M150.6 536.7h0M217.7 524.1l0.5 0.6M178.4 543.1l0.1 -1.4M227.8 544.3l0.6 0.1M221.4 520.9h0M196.7 551.5l0.2 -0.6M198.8 528.3h0M160.2 517.2l0.2 -1.1M136.6 517.9l-0.1 1.5M177.7 514.1h0M184.1 515.2l-0.3 0.4M182.1 552.2h0M190.6 550.4h0M141.2 534.9l0.4 0.7M230.7 518.3l0.6 0.2M196.7 523.3l1.3 0.8M147.3 522.2l1 -0.1M167 531.2l-0.1 0.6M198 527.7l0.1 1.5M198.1 537h0M154.7 506.2l-0.4 -0.3M151.9 535.1l-0.6 0.8M178.1 519.8l-0.6 -0M213.3 517.1l0.9 0.7M172.9 541l-0.4 -0.4M195.1 551.4h0M228.7 543.4h0M155.3 514.9l-0.8 -0.5M146.6 535.8l-0.3 0.8M174.5 517.4h0M212.2 526.6l-0.7 0.5M185 544.9l-0.2 -1.1M218.4 523.5h0" stroke="#1a1aff" stroke-width="1.1" stroke-linecap="round" fill="none" opacity="0.82"/>
<path d="M142.7 521.3l0.6 1M211.6 528.9l0.4 -1.2M220.6 543.5l0.3 -0.4M188 536.1h0M166.3 509.9h0M193.6 542.1l1.4 0.6M206.5 529.8l-0.1 1.5M144.3 504.6h0M190.9 553.3l0.1 -0.8M140.9 509.2h0M177.3 540.6h0M192.1 545.2l1.5 0.5M183.4 550.9l0 1.6M219.9 511.1l0.6 -0.4M190.5 518l0.9 1.2M214.6 546.9h0M215.1 521.2l0.5 -0.5M133.7 551l1.2 0M133.1 518l-0.4 -0.4M160.3 520.1h0M151.6 514.6l-0.5 0.9M174.2 515.8h0M192.8 514.4h0M193.9 516.3l1.2 0.6M135.8 518.6l-0.4 -0.3M218.5 540.9l-0.9 -0.2M182.8 537.7h0M185.7 514.7l-0.2 1.2M154.1 529.1l-1 1M223.2 511.9h0M181.8 517.5l0.7 0.4M191.7 554.1l0.8 -0.2M163.4 543.7l-1 -0.4M156.2 531.9l0.6 -0" stroke="#1515d0" stroke-width="1.1" stroke-linecap="round" fill="none" opacity="0.82"/>
<path d="M202.1 523.6l-0.7 0.8M219.7 518.1l-0.3 -0.8M200.4 518.2h0M171.8 525.5h0M228.5 519.3l-1 0.8M159.7 516.1l-0.7 0.2M200 548.6l0.6 -1.1M147.1 534.9l0.8 0.7M175.2 549.1l-0.3 -0.6M164.7 525.7h0M146.5 512.9l-1.5 -0.6M169.1 515.7l0.1 -0.5M163.5 505.7h0M201 514l-1.3 -0.1M133.5 513.6l0.5 0.3M212.8 511.6l-0.8 0.9M169.5 530l-1.3 0.9M228.6 510.3l0.9 -0.2M225.8 523l0.8 0.6M161.9 553.7l-0.8 -1.1M143.6 533.3l-1.2 0.5M195 548l1.3 0.9M225.6 552.3l0 0.7M149.3 521.4l-1.3 0.3M154.7 518.2h0M219.9 517.3l0.6 0.6M210.4 531.9h0M135.4 509.2h0M233.4 551h0M194.1 525l-0.1 -0.8M150.9 520.5l0.3 1.1M233.6 546.7l-0.8 0.3M187 534.5l1 0.3M150.6 515l1 -0.5M169.6 522.6l-1 -0M146.2 546.4l0.3 -1.4M168.7 530.6l-0.7 -0.1M181.6 544.5h0M229.6 509.8l1.4 0.4M196.5 537.7l0.8 1.4" stroke="#3040ff" stroke-width="1.4" stroke-linecap="round" fill="none" opacity="0.82"/>
<path d="M152.1 527.3l0.2 -1M149.1 517.4l-1 0.4M204.7 519.3l-0.8 0.5M163.2 530.8l0.5 -0.6M162.2 552h0M183.2 515.3l0.5 -0.8M148.1 530l-0.3 0.5M201.5 515.7l0.4 -0.9M139.8 529.6h0M133.2 538.6l0.6 -1.2M185.6 520.6l1.1 0.8M192 531.5h0M232.4 531h0M151.7 506.6l-0.1 1.3M192.8 524.9h0M133.4 504.5l0 -0.6M139.7 551.4l-0.6 -1M153.9 518.4h0M224.7 517.5h0M174.1 545.7l-0.5 -0.4M132.7 505.2l0.4 -0.7M201.5 517.5l-0 -0.8M146.3 516.7l0.7 0.3M135.5 527.7l1.3 0.2M164.5 507.2h0M167.3 523.2h0M178.5 543.4h0M162.7 507.7l-0.4 -0.5M223.3 517.9l0.4 -1.1M164.3 516.3h0M168.9 532.2l1.1 -1M214.6 539.8l-0.5 0.3M149.1 512.1h0" stroke="#3040ff" stroke-width="1.7" stroke-linecap="round" fill="none" opacity="0.82"/>
<path d="M156.9 517h0M190.7 517.4l-0.3 -0.6M163.9 509.7l-0.3 -0.5M178.6 551.5h0M163.2 548.9l0.5 0.3M197.7 514.8l-0.2 1.1M196.6 536.4h0M157.5 507.4l-0.8 0.7M212.3 515.1l1.2 0.5M143.2 547.4l-0.7 0.4M137.1 550.3l-0.5 -0.8M215.3 511.1l0.5 -0.6M209.6 516.1l-0.1 0.6M210.7 532.2l1.3 0.8M167.4 507.4l-1.2 -0.6M201.9 524.4h0M162.2 507.3l-0.7 -0.1M166 523l-1 -1M139.1 545.5l1.2 0.2M200.1 553h0M179.7 552.3h0M140.3 518.2h0M214.3 544h0M220 512.4l1.5 -0M146 517.5l-0.7 -0.2M174.3 552.7h0M231.9 515.1l0.9 0.1M217.1 517.8l1 -0.7M221.5 540.5h0M204.4 525.5l1.3 -0.5M155.7 536.8l-1.1 0.7M169.4 508.9l-0.6 0.5M155.7 553.3l-0.1 -1.4M166.7 553.6h0M155.6 534.2l0.7 -1M150.8 549.5l0.4 1.1M156 535.5l-1 -0.7M152.7 510.5l0.8 1.3M137.9 529l-0.1 -0.7M140.4 536.2h0" stroke="#2222f0" stroke-width="1.7" stroke-linecap="round" fill="none" opacity="0.82"/>
<path d="M211.2 512.5l0.1 0.6M191.1 530.4l-0.8 0.2M133.8 535.7l0.1 1.3M158.7 540.1l-0.2 -0.6M228.8 518.1h0M154.2 547.8l-0.2 1.6M202.6 515l-0.3 -0.5M217 516l0.9 0.3M208 544.5l-0.7 1M189.8 537l0.4 -0.6M217.3 512.6h0M209.6 511.4l0.7 0.9M132.8 543h0M229.4 537h0M194.7 536.3l-0.5 0.2M183.2 551.8l-0.6 0.4M167.1 515.2l-0 0.7M211.5 519.3l-1.2 -0.3M147.7 529.5l-0.6 -0.2M220.1 526.8h0M226.5 538.2l-1.1 -0M157.5 545l0.2 0.5M137.1 507.6l1.5 -0.2M219.2 515.7l-0.7 -1.4M222.7 524.6l-0.5 -1.2M188 517.8h0M141.7 533l-0.4 -0.8M153 517.1l-0 -1M157.8 531.1l-0.5 0.1M222.4 542.2l-0.6 0.2M207.8 523.6l-1.4 -0.4M137.4 532.2l-0.1 -0.8M176.9 519.1h0M210.5 525.3l-0.5 0.4M156.2 516.4l0.5 0.2M217 522l1.2 -0.1M159.3 552.7l0.6 -1.2M148.2 511.2l-0.1 -0.9M190.6 523l0.7 0.2M208.6 539.8h0M208.1 514l1.1 0.3M181.8 522.7l0.4 -1.2M156.7 504.3l0.3 -1.4M144.9 515.2l0.5 0.3M215.4 511.4l0.6 0.2M206.8 537.4h0M192.8 539.6l-0.4 1.4M208.8 524.3l1.4 0.2M200.9 538.1h0M179.1 546.9l1.1 0.2M227.5 544.3h0M139.6 508.2l0.3 1.1" stroke="#1a1aff" stroke-width="1.7" stroke-linecap="round" fill="none" opacity="0.82"/>
<path d="M216.5 524.8h0M146.4 514.1l-0.4 1M192.7 535.1l0.1 -0.6M146.4 509l0.9 1M154.1 545.6l-0.4 0.5M184.2 537.5l0.9 -1.1M169.5 525.8h0M214.7 512.8h0M184.3 532.4l-0.5 -0.1M134.9 552.2l-1.5 0.1M211.7 528l-0.1 -1M205.2 515.2h0M216.5 515h0M141.9 543.2l-0.6 0.4M189.6 534.9h0M150.2 547.4h0M158.4 508.8l0.7 -0.3M190.5 527l1.3 -0.6M146.8 508.3l-0.4 1.2M172.7 543.7h0M142.8 519.5l0.6 0.1M137.3 536.8l-0.7 0M231.3 517.9h0M162.3 521.9h0M173.3 541.4h0M191.7 515.5h0M163.8 507.2l0.8 1M198.3 538l0.6 -0.6M197.2 515.6h0" stroke="#3040ff" stroke-width="1.1" stroke-linecap="round" fill="none" opacity="0.82"/>
<path d="M229.3 517l0.3 1.1M198.8 515.4h0M158.2 530.4l-1.2 -0M150.8 507.3l0.6 -0.6M216.7 522.3l-0.5 0.5M218.3 510.4h0M228.8 544.1l0.8 -0.6M208.8 543.8l0.4 0.5M139.7 523.1h0M219 541.9l-0 -1.2M224.9 514.9h0M170 553.9l0.4 1M219.4 511.6l0.7 0M167.3 515.8l-0.8 -1.4M175.1 512.7l-0.4 -1.5M153.7 505.3l-1.1 -0.2M189.1 531.8h0M135 552.8l-0.4 -0.4M192.9 534.6l0.8 0.9M184.1 515l0.1 1M134.8 531.2h0M174.6 517.3l-0.2 -0.7M224.4 516.9l0.4 -0.9M168.4 522.9h0M193.7 514.6h0M189.9 543h0M186.6 515.8h0M217.7 524h0M221.4 544.7l0.6 -0.2M138.2 520.5l0.9 0.3M135.3 537.3h0M134.5 550.2l-0.9 -0.1M134.9 509.8l0.4 1.5M181.7 519.4l-0.3 -0.9M194.4 549.7l0.7 -1.1M134.1 537.7l0.1 0.9M212.7 541.8l0.4 0.4M144.5 520.6l0.6 -0.1M141.2 548.8l0.2 0.6M226 553.1h0M202.9 517.6l-1.2 -0.7M174.3 518.3h0" stroke="#1515d0" stroke-width="1.7" stroke-linecap="round" fill="none" opacity="0.82"/>
<path d="M180.4 547.9h0M152.1 509.7l-0.7 -0.2M181.6 515.7h0M195 533.8l0.8 -1.3M157.9 526.6l-0.6 -0.1M152.2 510l-1 -1M140 504.7h0M219.6 513.6l1.4 0.4M136.4 526.3h0M134.1 517.3l-0.6 -0.8M207.2 527.5h0M166.7 512.8l-1.1 -0.6M211.7 531.9h0M212.8 521.1l0.3 1.1M164.8 518.4h0M176.5 532.3l-0.2 0.9M163.2 509.4l-1.1 -1.1M214.5 548.2l-1.4 0.1M234.1 524.4l0.2 0.9M140.3 539.8l-0.9 -0.8M178.8 543.3l-0.2 -1.3M162.8 521h0M229.8 543.5l-1.5 0.3M167.1 549.8h0M167.1 553.2l1.1 0.5M192.9 554.3l0.9 -1.3M148.3 505.8l-1.3 -0.9M219 512.3l-0.4 1.2M169.3 526.4h0M229.2 514.8l0.3 -0.5M178.9 552.8l-0.6 0.7M221.1 530.2h0M220.1 511.1l0.2 0.5" stroke="#2222f0" stroke-width="1.1" stroke-linecap="round" fill="none" opacity="0.82"/>
<path d="M130.8 503.3C132 503.3 135.4 503.5 137.9 503.6C140.4 503.6 143.1 503.8 145.8 503.6C148.4 503.4 150.5 502.1 153.6 502.5C156.8 502.8 161 504.2 164.7 505.6C168.4 507.1 172.3 509.8 175.7 511.1C179.1 512.5 181.8 513 185.2 513.5C188.6 514 192.3 514.7 196.2 514.3C200.2 513.9 204.1 512.1 208.8 511.1C213.6 510.2 220.4 509.3 224.6 508.8C228.8 508.3 231.4 508.2 234.1 508C236.7 507.8 239.3 507.7 240.4 507.7" stroke="#7a22b8" stroke-width="5.8" fill="none" stroke-linecap="round" stroke-linejoin="round" opacity="0.38"/>
<path d="M130.8 503.3C132 503.3 135.4 503.5 137.9 503.6C140.4 503.6 143.1 503.8 145.8 503.6C148.4 503.4 150.5 502.1 153.6 502.5C156.8 502.8 161 504.2 164.7 505.6C168.4 507.1 172.3 509.8 175.7 511.1C179.1 512.5 181.8 513 185.2 513.5C188.6 514 192.3 514.7 196.2 514.3C200.2 513.9 204.1 512.1 208.8 511.1C213.6 510.2 220.4 509.3 224.6 508.8C228.8 508.3 231.4 508.2 234.1 508C236.7 507.8 239.3 507.7 240.4 507.7" stroke="#f02430" stroke-width="1.5" fill="none" stroke-linecap="round" stroke-linejoin="round" opacity="0.55"/>
<path d="M132.3 504h0M136.9 503.8h0M138.5 504.6h0M147.7 503.1h0M149.1 502.6h0M168.3 507.4h0M169.7 508h0M178.1 511.6h0M179.3 512.9h0M184.2 512.5h0M185.7 512.7h0M205.3 512.4h0M225 509.3h0M232.6 507.4h0M235.7 507.5h0M238.8 508.6h0" stroke="#f02430" stroke-width="2.9" stroke-linecap="round" fill="none"/>
<path d="M133.9 503.4h0M156.8 502.8h0M202.2 512.6h0M211.2 510.5h0M221.9 509.5h0" stroke="#ff40b0" stroke-width="2.9" stroke-linecap="round" fill="none"/>
<path d="M135.4 502.8h0M193.2 514.4h0M194.7 514.7h0M196.2 513.6h0M197.8 514.1h0M203.8 512.8h0M209.6 510.2h0M220.4 509.6h0M229.5 508.3h0M240.3 507.9h0" stroke="#ff40b0" stroke-width="2" stroke-linecap="round" fill="none"/>
<path d="M140 503.1h0M141.6 504h0M152.2 502.4h0M171.2 508.4h0M187.1 513.8h0M215.7 509.5h0M226.5 509.2h0M237.3 508.9h0" stroke="#f02430" stroke-width="2.5" stroke-linecap="round" fill="none"/>
<path d="M143.1 504.1h0M161.1 504.8h0M172.2 509.8h0M181.1 512.5h0M182.4 513.4h0M191.7 514.4h0M206.7 511.6h0M208.4 512h0M214.1 509h0" stroke="#f02430" stroke-width="3.4" stroke-linecap="round" fill="none"/>
<path d="M146.3 504.4h0M155.4 502.2h0M158.3 503.4h0M199.1 512.8h0M212.7 510.3h0" stroke="#ff40b0" stroke-width="2.5" stroke-linecap="round" fill="none"/>
<path d="M153.8 502.4h0M162.7 504.8h0M165.7 505.7h0M176.8 510.9h0M188.6 514.1h0M200.7 513.1h0M217.3 509.9h0M219 510.4h0M223.6 510.1h0M228 507.9h0M234.1 507.3h0" stroke="#f02430" stroke-width="2" stroke-linecap="round" fill="none"/>
<path d="M160 503.2h0M173.9 509.8h0" stroke="#ff40b0" stroke-width="3.4" stroke-linecap="round" fill="none"/>
<path d="M133.2 526.9C134.2 527.1 137.5 527.7 139.5 528.2C141.4 528.6 144.1 529.5 145 529.7" stroke="#d02030" stroke-width="0.5" fill="none" stroke-linecap="round" stroke-linejoin="round" opacity="0.55"/>
<path d="M133.2 526.6h0M135.6 526.9h0M137.1 527.7h0M142.6 528.8h0M144 529.5h0M144.9 529.4h0" stroke="#d02030" stroke-width="0.8" stroke-linecap="round" fill="none"/>
<path d="M133.9 527.2h0M141 528.5h0M143.1 529.8h0" stroke="#d02030" stroke-width="1.1" stroke-linecap="round" fill="none"/>
<path d="M134.7 527.3h0M137.9 527.5h0" stroke="#d02030" stroke-width="0.9" stroke-linecap="round" fill="none"/>
<path d="M136.3 527.4h0M138.7 527.8h0M139.3 528.5h0M140.2 528.2h0M141.7 528.8h0" stroke="#d02030" stroke-width="0.6" stroke-linecap="round" fill="none"/>
<circle cx="136.3" cy="503.3" r="1.6" fill="#ff40b0"/>
<circle cx="153.6" cy="500.7" r="1.4" fill="#f02430"/>
<circle cx="183.3" cy="513" r="1" fill="#a0e850"/>
<circle cx="190.7" cy="514.3" r="1.4" fill="#ff40c0"/>
<circle cx="144.5" cy="504.8" r="0.8" fill="#c0e040"/>
</g></g>
<clipPath id="c18"><rect x="235.5" y="469.9" width="101.3" height="85.3"/></clipPath>
<g clip-path="url(#c18)">
<g filter="url(#bl)">
<path d="M233.8 515.2L240.1 514.3L248.8 512.7L261.4 509.3L274 506.1L288.2 505.6L302.4 508L311.8 512.7L321.3 511.1L330.7 508.3L343.4 505.5L343.4 561.6L233 561.6Z" fill="#01011a" fill-rule="evenodd" filter="url(#bh)"/>
<path d="M320.8 533.4l0.5 -0.4M332.1 514.6l1.2 0.8M280.5 530.9h0M335.8 552.5l1.4 -0.7M294.3 552.3l0.8 -0.4M258 511.2l0.4 1.4M328.8 518l1.2 0.3M244.4 551.2l-0.3 0.4M237.9 537.3l0.5 0.7M247.8 542.2l-0.2 0.5M268.8 514.3l-0.1 0.5M249.4 518.3l0.3 0.7M279.4 529.7l0.5 -1M254.9 527.2l-0.3 -0.6M267.9 523.1l1 -0.2M239.1 537.6h0M306 543.5l-0.2 1.3M282.6 508.2l-0.3 -1.5M304.9 510.1l-0.3 -0.7M336.6 511.3h0M238.8 533.4h0M325 531.9l1.1 -1M318.8 516.2l0.8 0.1M322.6 515.4h0M319.3 538.5l-0.1 -0.8M258.6 529.2h0M292.8 528l-0.9 0.2M331.9 515.5h0M332.8 513.6h0M326.1 515.8l-0.4 -0.5M259.6 522.5l0.2 1.4M249 525.7l-1.3 -0.3" stroke="#3b5bff" stroke-width="1.3" stroke-linecap="round" fill="none" opacity="0.82"/>
<path d="M298 516.5h0M290.5 507.3h0M237.1 530.5h0M239.5 516.3h0M334.1 520.2l-1.1 0.3M300.6 520.5h0M289.7 545.2h0M288.5 507.3h0M306.5 526.5l0.1 0.7M272.3 539l0.5 -0.6M299.9 538.4l-0.8 -0.5M253.3 529.2l-0.9 -0.4M300.4 529.6h0M244 526.8h0M307.6 537.4l0.5 -0.8M305.8 516.1h0M273.3 507.1l0.3 0.6M314.2 522.8l1.2 0.1M276 508.1h0M323.2 515l1.5 -0.1M241.4 518.1l-1.3 -0.6M301.2 548l1.6 -0M265.1 530h0M301.4 510.6l-0.2 0.8M297.6 528.2h0M314.1 528.1l0.3 0.7M264.9 510.7h0M254.3 519l0.2 1M236 538.3l0.8 0.2M319.5 524.1l-1.6 0.2M334.1 553.2h0M259.5 555.2h0M242.3 530.7l0.5 0.6M325.5 510.9h0M268.6 521.9h0M288.5 541.7l-1 -0.9M325.4 527.8l0.9 0.3M315.4 535.2l-0.2 -0.7" stroke="#2a3cff" stroke-width="1.3" stroke-linecap="round" fill="none" opacity="0.82"/>
<path d="M322.9 526.7l1 -0.8M259.2 528.2h0M247.6 539.7l-1.2 0.3M264.3 529.7l-0.3 -1.1M246.3 544.4l-0.1 1.4M262 519.9l-0.4 -0.3M276.5 510.9h0M299.1 512.4l0.6 -0.5M236.9 532.6h0M309.6 518.1l0.3 -1.5M310.9 528.8h0M252.9 523.9l-1 -0.4M307 529.2h0M258 519.9h0M304.1 527.3h0M276.4 531.2h0M283.4 552.8l0 1.1M239 523.3h0M284.6 520.4l0.2 -1.1M312 515.7l-0.8 0.7M306.7 551.1l-0.4 1M249.7 528.3l-0.9 0.8M260.8 554.8h0M314.8 535.6h0M320.3 530l-0.9 -0.6M325.8 522.5h0M275 509.7l0.2 0.9M284 541.9h0M242.1 541.4l1.2 -1M297.6 518.2l-0.1 -0.5M242.7 516.6h0M286.6 543.3l0.8 0.6M298.7 534.4l0.1 0.6M247.6 547.6h0M262.4 510l1.1 -0.3M272.8 511.3l1 -0.6M323.1 535.7l1.4 -0.2M333.4 510.5h0M289.3 540.9l-0 0.6M313.2 546.4l0.4 0.4M240.1 516.1h0M332 522.1l0.4 -0.8M272.5 511.4h0M336.2 539.1l0.6 1.2M290.3 506.6h0M259.6 528.6h0M282.8 533.1h0M309.1 554.8h0" stroke="#2030e0" stroke-width="1" stroke-linecap="round" fill="none" opacity="0.82"/>
<path d="M311.5 528.4l-0 -1.6M331.9 553.5l0.8 0.5M252.8 533.8h0M313.3 529.7h0M317.5 530.6l-0.8 -0.1M329.2 510.3h0M253.6 512.1l0.6 0.6M271.7 520.3h0M328.8 555.2l-0.8 -0.6M266.8 510.2h0M288.7 511l0.3 -1M239.3 537.1l-0.5 0.3M279.9 541.1l0.9 1.1M326.5 525.9h0M322 519.8l0.8 -0.5M260.2 517.7h0M268.7 529l0.6 0.2M310.5 529.5h0M283 509.5l0.9 -0.2M313.5 528.7h0M264.3 528l-1 -0.2M237 545.8h0M261 517.7l1.3 -0.1M289.3 549.5l-0.5 -1.1M270.6 523l-1.1 0.2M254.9 544.6l1.2 0.1M254.6 521.3l0 -1.5M283.2 554.5l-0 1.2M266.6 516.6l1.2 0.8M235.8 521.2h0M295 550.5l-0.6 1.2M265.7 511.8l-0.7 -0.8M316.8 523.3l0.5 1.4M329.1 514.1l1.3 0.2M267.1 553.9l-0.2 -0.7M288.6 555.1l-0.7 -0.9M312 523.1l0.7 1.4M300.8 538l1 -0M283 539.8l-1.4 0.3M314.9 529.9l-1.1 -1" stroke="#4a78ff" stroke-width="1.3" stroke-linecap="round" fill="none" opacity="0.82"/>
<path d="M325.1 511.3l-0 -0.9M311 516.1l-0.6 0.1M260.9 509.4l-0.5 0.3M267.7 521.8l0.2 -0.7M256.7 521.5l0.2 1.1M331.3 522.4l-0.1 0.6M238.7 532.3l-1.3 -0.5M306.4 518.4h0M255.9 553.2l-0.7 0.6M250 538.5l1.4 -0.6M274.6 513.1l0.2 0.7M300.4 523.9h0M307.8 523.6l0.6 0.4M313.5 526.5h0M290.6 510.2h0M259.5 549.8h0M242.7 532.8h0M297.9 515.4l-0.6 -0.2M273.2 508.4l-0.4 1M318.3 513l-0.8 1.1M262.7 513.5l-0.4 -0.6M280.6 542.4l-1 -0.4M265.1 528.8l1.1 -0.1M289.7 538.5h0M253.6 526.3l-1.5 0.2M288.3 544.8h0M301.9 549.7h0M290.9 545l-0.5 0.9M291.1 521.8l0.4 1M336 524.3l0.6 -0.8M326.5 513l-0.8 1.2M298.9 510.9h0M266 547l0.6 -0.1M328.9 520.5l-0.8 -0.2M303.7 554.9l-0.1 -0.9M254.3 526.4h0M308.3 544.7l0.7 -0.7M305.6 546h0M332.6 538.3h0M253.7 540l-1.1 -0.4M262.8 523.3h0M321.3 545.9l0.6 1.2M330.9 552.9l-1.1 1.2M250.2 532.6l1 -0.1M260.7 527h0M259.3 530.2l0.9 -0.4M280.5 540.9l0.4 -1M278.7 512.8l0.8 -0.4M309.6 514.5l-1.4 -0.7" stroke="#4a78ff" stroke-width="1.6" stroke-linecap="round" fill="none" opacity="0.82"/>
<path d="M271.8 532.5h0M243.8 516.7l-0.4 -1.5M330.8 508.3l0.6 -1M312.1 521.2h0M279.3 510.8l-1.1 -0.3M296.6 510.7h0M243.5 516l0.2 0.6M284.4 537.2h0M323.5 524.8l-0.4 -0.4M276.3 507.3l-0.2 -1.2M240.8 542l-0.6 0.3M251.4 550.2h0M324.9 513.4h0M312.2 528.5l0.9 -0.2M290.7 512.7l-0.4 0.5M296.3 509.4l-0.8 -0.1M271 533.2l0.5 -0.6M280.3 518.8h0M335 525l-0.3 -0.7M296.8 522.2h0M284 510.9l1.5 0.5M318.8 516.2h0M309.9 531.8l0.4 0.7M335 546.9h0M240.4 535.3h0M297.9 527l-0.2 -1.3M280 551.1l1 0.6M314 528l0.6 0.6M267.6 523.7h0" stroke="#2030e0" stroke-width="1.6" stroke-linecap="round" fill="none" opacity="0.82"/>
<path d="M297.8 519.5l0.1 1.5M250.9 528.6h0M321.5 540.1l0.2 -1.2M266.7 530.6l-0.1 -0.6M248.3 537.9l1.3 0.7M333.1 521.7l-0.4 0.4M334.7 518.7l-0.5 -1M270.9 555.1l-0.3 -1M263.6 522.1h0M324.7 520.7l-0.2 0.8M328.1 509.3h0M245.5 527.1l0.7 1.2M256.8 520.3l1.2 -0.2M244.5 536.7h0M335.2 517.1l-0.2 0.9M334.5 509.9h0M336 511.2l-0.8 -1.2M250 539.1l-0 -0.5M267.3 518.3l-0.7 0.2M261 512.5l-0.3 1.4M311.2 534.6h0M261.3 526l1.6 0M289.8 507.9l0.1 -1M320.3 517.1l0 0.6M296 514.4l-0.6 0.8M306.5 513h0M323.9 522.1h0M331.4 508.2h0M248.1 522h0M281 532.9l-0.6 -0.4M284.5 531.6l-0.1 1" stroke="#3b5bff" stroke-width="1" stroke-linecap="round" fill="none" opacity="0.82"/>
<path d="M243 533.5l1.2 0.1M240.8 536.6l-0.4 -0.6M332 554.3h0M245.1 538.7l1.2 0.2M303.4 511.9h0M324.7 519.3l-0.8 -0.2M258 525.5l-1.2 -0.7M315.5 516.3l-0.1 -1.5M328.8 517.1l-0.8 0.1M332.6 509.1l1.5 0.2M269.1 527.7h0M246.7 537l-1.4 -0.5M238.6 546.7l0.5 -1M252 534.8l1.3 0.4M298.4 508.2l-0.5 1.2M244.2 533.7h0M320 512.5l-0.2 1.1M297.2 520.3l-0.2 1.5M334.9 540.9l0.2 1.1M250.8 545.8l0 -0.8M302.2 513.3l0 1.5M316.5 518.9h0M307.6 520.6l0.6 1M242.8 541.2l0.5 0.5M305.6 517l0.1 0.9M247.9 526.4h0M270.6 532.2l0.8 0.9M270.3 526.1l1 -1.2M244.4 526.7l-0.4 0.4M250.8 535.4l1.2 -0.2M294.3 538.9l1 -0.6M321.1 534.4h0M309.7 513.4l-0.5 -0.1" stroke="#2030e0" stroke-width="1.3" stroke-linecap="round" fill="none" opacity="0.82"/>
<path d="M284.4 512.3l-0.3 0.9M289.1 524.3h0M326.6 515l1.2 0.7M242 535.6l1.1 0.7M251 532.1h0M284.9 510.7l0.7 -0.3M297 520.9h0M251.8 515.8l-1 0.7M281.9 536.2l-0.7 0.3M260.7 523.4l-0.8 0.2M315.4 537.4h0M316.1 536.6h0M261 525.7l1.2 0.7M291 520.9l0 1.1M259.2 551.8h0M313.8 514.9h0M273.2 506.7h0M288 516.2h0M296.5 515.8l-0.1 0.6M264.8 515.8l-0.8 0.7M336.3 511.6l-1.2 0.4M286.7 553.8l0.2 0.8M248 550.7l-0.4 -1M304.5 529.1l1.3 0.5M336.6 509.1l1.5 -0.5M249 512.9l0.5 0.7M308.4 517.8h0M331.9 513.7l0.2 -0.9M308.7 541.6l0.9 0.3M270.4 511.8l-0.3 -1M284.8 507.7l1.1 1M298 507.7l-0.9 -0.5" stroke="#2a3cff" stroke-width="1" stroke-linecap="round" fill="none" opacity="0.82"/>
<path d="M305 552.7l-0.6 0.6M268.5 551.4l0.6 -0.5M299.1 524.7l-1.1 0.6M299.2 508h0M330.7 513.3l0.8 -0.1M275 506.5l0.6 1.3M288.6 551.6l-1.2 0.2M254.9 513.7h0M283.5 510.7h0M244.1 531.3l-1.2 0.4M313.1 546l1.4 -0.2M300.1 518.1l0.5 -0.3M322.2 528.2l-1 -1.1M316.5 545.3l0.2 -0.5M243.9 532.6l-0.9 -0.2M243 532.6h0M328 551.3h0M318.7 514.3l-1 0M250.5 519.6l-0.3 1.3M310.5 519.3l0.6 -0.1M283.4 531.9l0.1 0.6M322.2 522.3h0M279.2 545.8l0.6 -0.1M264 517.7l-0.7 -0.9M335.1 508.8h0M281.7 507l1.5 0.4M249 524.2h0" stroke="#3b5bff" stroke-width="1.6" stroke-linecap="round" fill="none" opacity="0.82"/>
<path d="M241.4 543.1l-0.9 -0.7M255.7 524.1l-0.5 0.4M255.8 511.6l-0.1 0.6M294 525.8h0M256.8 513.1l-0.9 0.4M244.8 514.6l-0.6 0.4M289.3 541.4l0.1 1.2M281.7 521.8h0M332.5 527.7h0M331.8 547l0.2 -1.2M277.6 521.8l-1.1 0.9M293.4 516.6h0M335.6 517.2l-0.5 -0.8M242.9 514.7l0.3 0.6M257.8 514.9l1.1 0.7M274.3 508l-0.9 1.1M242.4 533.6h0M243.8 550.5h0M251 523.3l-0.7 -1.1M284.2 542l1.5 0.3M293.8 525.2l0.6 -0.2M258 516.4h0M251.5 536.3h0M269.6 523.7h0M240.6 544l0.7 -0.2M326.6 537l1 -1.2M249.3 548.2h0M308.7 518.1h0M274.9 545l-0.7 0.2M329.2 511.1h0M323.3 516.7l1.4 -0.4M290.9 509.3l-0.8 -1.2M323.6 513.7l0.7 0.3M239.9 518.8l1.2 -0.2M252.8 549l-0.5 -0.1M321 530.6h0M247.6 539.1h0M280 511.7h0M289.2 510.5l0.6 0.4" stroke="#4a78ff" stroke-width="1" stroke-linecap="round" fill="none" opacity="0.82"/>
<path d="M335.8 523l0.6 -1M273.9 511.1l-0.3 -1.1M290 506.8l0.8 -1M261.5 513.6l-0.7 0.1M317.6 518.5l1.4 -0.3M286.2 543.1l0.1 0.7M271.7 523.6h0M333.6 518.2l-0.6 0.3M239.6 529.2h0M264.7 516.4l-1.3 0.3M308.6 534.7h0M247.5 531.5l1.3 -0.6M257.6 548.7l0 -0.8M288.1 507.1l-0.1 0.7M305.6 551.7h0M261.9 515.8h0M242.3 514.9h0M319.3 522.4h0M275.7 544.3h0M262.1 521.8l0.5 -0.2M250.8 546.9l-0.7 0.9M249.5 544.6l-1.2 0.6M274.7 509.5l1.4 -0.3M308.4 523.2l1 0.8" stroke="#2a3cff" stroke-width="1.6" stroke-linecap="round" fill="none" opacity="0.82"/>
<path d="M233.8 515.2C234.8 515.1 237.6 514.7 240.1 514.3C242.6 513.9 245.2 513.6 248.8 512.7C252.3 511.9 257.2 510.4 261.4 509.3C265.6 508.1 269.5 506.7 274 506.1C278.5 505.5 283.4 505.3 288.2 505.6C292.9 505.9 298.4 506.8 302.4 508C306.3 509.2 308.7 512.2 311.8 512.7C315 513.2 318.1 511.9 321.3 511.1C324.4 510.4 327.1 509.3 330.7 508.3C334.4 507.4 341.3 505.9 343.4 505.5" stroke="#7a22b8" stroke-width="3.2" fill="none" stroke-linecap="round" stroke-linejoin="round" opacity="0.38"/>
<path d="M233.8 515.2C234.8 515.1 237.6 514.7 240.1 514.3C242.6 513.9 245.2 513.6 248.8 512.7C252.3 511.9 257.2 510.4 261.4 509.3C265.6 508.1 269.5 506.7 274 506.1C278.5 505.5 283.4 505.3 288.2 505.6C292.9 505.9 298.4 506.8 302.4 508C306.3 509.2 308.7 512.2 311.8 512.7C315 513.2 318.1 511.9 321.3 511.1C324.4 510.4 327.1 509.3 330.7 508.3C334.4 507.4 341.3 505.9 343.4 505.5" stroke="#e82838" stroke-width="0.6" fill="none" stroke-linecap="round" stroke-linejoin="round" opacity="0.55"/>
<path d="M233.8 515h0M234.6 515.2h0M235.4 515h0M238.6 515h0M240.1 514.2h0M241.7 514.2h0M246.5 513.4h0M251.9 511.9h0M254.3 511.8h0M255.6 510.5h0M267.3 507.6h0M270.4 506.8h0M271.1 506.4h0M276.7 505.7h0M279.1 505.4h0M279.9 505.9h0M283.1 505.4h0M284.7 505.4h0M287.9 505.5h0M288.7 505.7h0M292.6 506.2h0M293.4 506.3h0M295 506.6h0M297.4 506.9h0M299.8 507.2h0M305.1 509h0M308.3 511.5h0M312.9 512.7h0M316.9 512.6h0M319.2 511.8h0M329.8 508.2h0M331.2 507.4h0M334.5 507.4h0M337.7 507h0M343.2 505.8h0" stroke="#e82838" stroke-width="0.8" stroke-linecap="round" fill="none"/>
<path d="M236.1 514.4h0M242.4 513.7h0M245.7 513.7h0M250.2 511.8h0M252.6 511.6h0M261.9 509.2h0M262.5 508.3h0M263.3 508.1h0M268.1 507.5h0M269.5 506.7h0M272.8 506.7h0M274.3 506.2h0M275.9 506.1h0M282.3 505.5h0M283.9 505.2h0M287.1 505.3h0M289.5 505.6h0M290.2 506.1h0M295.9 506.2h0M298.3 506.4h0M302.1 507.9h0M303.6 508.3h0M305.7 509.6h0M306.2 510.2h0M307.1 510.3h0M309 511.8h0M310.6 512.3h0M311.4 512.1h0M312.1 512.7h0M315.2 512.2h0M316 512.3h0M321.5 511.2h0M327.7 509.6h0M332.2 507.9h0M332.9 507.4h0M333.7 507.2h0M336.7 506.1h0M340.7 505.6h0M341.6 506.1h0M342.4 505.9h0" stroke="#e82838" stroke-width="1.2" stroke-linecap="round" fill="none"/>
<path d="M236.9 514.5h0M237.8 514.9h0M239.3 514.2h0M244 513.5h0M244.8 513.2h0M247.2 512.9h0M258 510.2h0M259.6 509.8h0M261 509h0M265.7 508h0M268.6 506.5h0M275.1 506.2h0M277.5 505.8h0M280.7 505.9h0M281.5 505.6h0M291.1 505.6h0M291.8 506.1h0M296.6 506.7h0M299 506.9h0M314.5 513h0M320.1 512.1h0M324.6 510.5h0M335.4 507.6h0M338.4 506.3h0" stroke="#e82838" stroke-width="1.3" stroke-linecap="round" fill="none"/>
<path d="M241 514.5h0M243.3 513.8h0M248.1 513.2h0M248.8 512.7h0M251.2 512.3h0M254.9 510.8h0M256.5 510.6h0M258.8 510.1h0M260.3 509.5h0M264.2 508.4h0M266.5 507.7h0M273.5 506.1h0M286.3 505.6h0M294.2 506.3h0M300.6 507.2h0M301.3 507.7h0M304.3 508.8h0M307.6 511h0M309.9 511.9h0M313.7 512.6h0M317.7 512.5h0M320.6 511h0M322.3 511.1h0M326.7 509h0M328.3 508.8h0M329.2 508.9h0M330.7 508.5h0M339.3 506.5h0M340 506.1h0" stroke="#e82838" stroke-width="1" stroke-linecap="round" fill="none"/>
<circle cx="240.1" cy="514.3" r="2.2" fill="#d8f040"/>
<circle cx="260.6" cy="509.6" r="2.1" fill="#e8e848"/>
<circle cx="269.3" cy="507.4" r="1.9" fill="#f0f060"/>
<circle cx="280.3" cy="505.6" r="2.3" fill="#f0f070"/>
<circle cx="275.3" cy="504.8" r="1.2" fill="#ff4050"/>
<circle cx="289" cy="504.5" r="2.2" fill="#50f040"/>
<circle cx="291.6" cy="505.5" r="1.4" fill="#60f060"/>
<circle cx="324.4" cy="508.6" r="2.3" fill="#e0f040"/>
<circle cx="302.4" cy="507.4" r="1.6" fill="#f03040"/>
<circle cx="305.5" cy="509.3" r="1.2" fill="#f03040"/>
<circle cx="318.1" cy="512.1" r="1.5" fill="#f02850"/>
<circle cx="335.5" cy="506.4" r="1.3" fill="#f03030"/>
<circle cx="281.9" cy="530.8" r="1" fill="#ff3060"/>
</g></g>
<clipPath id="c19"><rect x="338" y="469.9" width="102.3" height="85.3"/></clipPath>
<g clip-path="url(#c19)">
<g filter="url(#bl)">
<path d="M336.8 509.9L345.5 509.3L359.6 508.8L383.3 510.4L399.1 515.9L414.8 522.2L430.6 528.5L436.9 536.4L439.3 550.6L440.1 561.6L336 561.6Z" fill="#01011a" fill-rule="evenodd" filter="url(#bh)"/>
<path d="M347.6 535.5l-0.7 0.3M369 510.8l-0.6 -0.1M354.1 517.8l-0.7 -1.4M375.5 545.1h0M377.8 547.8h0M375.2 513.2l0.4 -0.3M351.5 509.1l-0.9 0.2M361.2 516.5l-0.4 1.2M338.6 542.5l-0.1 0.9M424.9 553.8l-0.3 0.6M350.2 527.3h0M435.4 543.5h0M359.9 536.9l0.5 -0.2M427 530.3h0M347.8 520.8l0.4 1M420.1 540.7l-0.1 -0.8M371.1 511.4h0M356.6 513.7l0.1 1.5M410.9 522.4h0M368.5 531.7l-0.1 1M413.4 541.7h0M361.7 538.6h0M339 511.6l0.4 0.5M351.4 532.5h0M427.9 545.5h0M365 549.4l-0.2 1.1" stroke="#2030e0" stroke-width="1.6" stroke-linecap="round" fill="none" opacity="0.82"/>
<path d="M356.8 548.2h0M407 552.2l0.1 -1M394.8 539.4l1.1 -0.7M370.8 522.5l-0.4 0.8M429.4 550.9h0M369.1 548.7l0.4 -0.7M368.2 521.6l-0 -0.9M378.6 528.3h0M424.9 527.6l-1.1 -0.4M389.1 552.4h0M347.4 515.8h0M398.3 520.1l-1.4 0.8M405.2 526.5l-0.3 -1M351.3 530.1l0.6 -0.2M371.9 511.9l0.4 1.3M384.8 512.8l0.6 0.7M365 537.6h0M341.4 511.5h0M381.2 520.8h0M432.6 533.2l1.4 -0.1M398.5 537l0.1 -1.2M377.3 547.8l-0.8 0.7M344.2 518.2h0M394.8 544.5h0M359.1 529.1l-0.4 0.4" stroke="#2030e0" stroke-width="1.3" stroke-linecap="round" fill="none" opacity="0.82"/>
<path d="M377.3 545.8l-0.2 1.5M390.2 515.7l-0.2 -0.6M392.2 530.9l0.8 -0.9M395.2 521.6h0M341.8 516l0.8 0.1M367.3 553.4h0M406.8 522.5h0M385.4 528.9l-0.1 0.5M372.7 514.6h0M360.3 539.4l0.3 -0.7M352.1 543.6l-0.6 -0.7M415.1 533.5l0.1 -0.7M395.1 536.5l-0.2 -1.5M355.6 519.2l0.4 0.8M369.1 549.7l0.2 -1.2M350.5 528.4l0.6 -0.2M353.6 554.2l0.5 0M359.7 539.5l-0.9 -0.9M382.2 538.6h0M416.9 544.7h0M414.2 544h0M372.7 517h0M432 535.2h0M375.2 545.3l-0.2 1.4M340.6 520.9h0M379.9 551.5l-0.7 -0.1M340.2 514.5h0M374.8 546l-1.4 -0.1M398.2 526.1l-0.6 0" stroke="#2a3cff" stroke-width="1" stroke-linecap="round" fill="none" opacity="0.82"/>
<path d="M411.2 531.8l0.6 -0.9M379.8 512.6l0.8 -0.9M427.9 535.7l0.5 -0.3M358.4 530l0.5 -0.8M369.9 524h0M379.9 517.5l-0.5 -0.5M410.6 523.6l-0.3 -0.8M424.4 533l0.7 0.2M349.9 540.5l0.1 1.4M373.7 536.8h0M408.6 526.6l0.4 1.2M438.5 546.3h0M393.1 525l-0.9 -0.6M352.3 511.4l-1 0.2M384.4 524.8l0.2 -0.5M390.1 513.9l-0.9 -1.3M414.5 526.8l0.1 -0.6M421.1 539l-0.7 -1.4M392.8 524h0M408.7 522.9h0M381.6 530.2l0.1 0.5M437.7 546.9h0M374 511.7h0M392.8 528.1l-0.1 1.4M339.7 518l1.2 -0.4" stroke="#3b5bff" stroke-width="1" stroke-linecap="round" fill="none" opacity="0.82"/>
<path d="M417.1 551.5l0.5 -0.1M352 530.4l-0.4 0.6M346.5 517.1l0.7 1.1M342.7 546.1l0.7 -0.1M414.6 548.5l0.9 0.7M353.9 511l-0.9 -1M365 510.9l0.9 -1M378.7 542.6l-0.8 0.3M365.4 538.1l1.1 0.8M394.1 552.9l-0.7 0.8M401.6 530.3l-0.3 0.5M400.7 524.5l-0.5 -0.4M364 542.1h0M341.2 549.4l-0.9 -0.1M414.1 525.1l-0.6 1M353.4 554.6l-0.8 -0.8M370.6 517.4l0.5 -1.4M388.7 532h0M435.1 549.4l0.7 -0.1M382 524.5l-0.3 1.5M400.9 533h0M408.8 531.9l0 -1M383.7 521.6l0.1 0.7M397.7 526.6h0" stroke="#2a3cff" stroke-width="1.3" stroke-linecap="round" fill="none" opacity="0.82"/>
<path d="M395.1 516.2l0.3 -1.3M343 523.4l0.7 0.4M379 552.3l0.5 -0M425.3 537.5l-0.7 -0.2M384.1 518.5l-1 0.3M362.8 517h0M341.8 512.8h0M409.6 523.7l-0 -1M340.6 524.3l-0.1 0.6M436.6 538.3l0.6 0.2M421.4 537.1h0M389.3 518.4h0M422.8 547.1l-1 -0.9M405.2 521l-0.7 0.4M396.3 515.1l-0.7 0.4M423.2 541.8l0.4 0.9M437.4 551l-0.7 -0.7M381.3 533.3l-0.7 1M344.7 515.9h0M435.5 540.3l-1.1 -0.6M424 528.9l0 1.2M409.6 520.2l0 -1.3M418.7 548l1.5 0.3M360.6 538.8l-0.2 -0.8M412.2 541.1l-0.5 0.1M431.8 535.5h0M370.8 550.8l-1.4 -0.3M380.4 516.4h0M348.7 526.5l1.5 -0.2M393.5 525.4l-0.9 0.2M407.3 530.8l-1.5 0.4M406.3 545.8h0" stroke="#3b5bff" stroke-width="1.6" stroke-linecap="round" fill="none" opacity="0.82"/>
<path d="M412.9 524.9h0M357.5 514.2l0.1 -1.5M392.8 519.8l-0.8 1.2M391.1 527.3h0M396.9 520h0M400.9 536.9l0 1.2M340.3 540.4l0.6 -0.7M400.4 522.6l-0.4 1.5M398.8 520.8l0.9 1.1M434.4 544.9l-0.7 0.6M400.2 549.6l-1.2 0.8M426.6 541.2l-0.6 0.5M360.8 542h0M406.4 548.6l-0.7 0.7M379.4 546.7l-0.8 -1.2M410.6 554.4h0M360.6 547.6l-0 -1.5M347.3 543.7l0.4 0.6M373.3 514.4l1 -0.9M405.2 520.7h0" stroke="#2a3cff" stroke-width="1.6" stroke-linecap="round" fill="none" opacity="0.82"/>
<path d="M351.9 517.2h0M366.9 511.8h0M354.7 550.3l-0.5 -0.1M396.1 517.8h0M361.7 510l-1.2 -0.6M394.1 538.5h0M362.9 522l-1.1 0.1M352 546h0M379.4 534.8l-0.6 -1.4M392.1 543.7l0.5 -0.3M437 551h0M402 532.5l-0.6 -0M371.3 514.3h0M349.1 534.8l-0.9 0.4M410.6 529.7h0M413.3 550.6l-0.9 0.8M369.3 513.7h0M393.1 530.6l1 -1.1M377.1 512.5l-0.8 -1.1M387.1 530.2l0.1 -0.9M370.3 520.1l-0.6 -0.8M360.8 509.5h0M387.7 515.8l-0.5 -1.5M358.1 510.1l1.2 0.3M403.3 520.8l0.7 0.8M394.9 526.1l0.8 -0.1M369.9 518.4h0M382.3 527.7h0M387.6 513.1h0M375.4 524.8l1.4 -0.6M400.9 518h0" stroke="#4a78ff" stroke-width="1.3" stroke-linecap="round" fill="none" opacity="0.82"/>
<path d="M431.4 539.6l-1.4 0.6M403.8 539h0M400.7 544.1h0M390.7 527.1l-0.4 -1.5M424.6 532.3l-1 -0.2M430.6 553.8h0M386.8 527.5l0.6 -0.4M423 534.8h0M391.5 535.9l-0.9 1.2M353.5 535.3h0M424.8 533.4l-1.2 0M380.4 516.4l-0.1 -1.4M338.2 527.8h0M409.4 554.8l0.7 1M426.3 535.2h0M429.1 552.5l0 1.3M408.9 543.9h0M435.9 540h0M345.5 511.7l0.8 0M385.9 524.7l0.7 0M344.6 534.2h0M348.1 517.8l-0.2 0.5M387.6 521l-1.4 0.5M392.5 536.3h0M379.5 513.9l0.9 -0.5M414.7 553.7h0M357.9 532.3l-0.9 1M387.3 526.6l0.5 -0.3" stroke="#2030e0" stroke-width="1" stroke-linecap="round" fill="none" opacity="0.82"/>
<path d="M381.4 551.7l1 -0.7M437.7 552.6h0M361.8 512.8l0.9 -0.3M345.6 516.4l0.2 1.1M364.2 548.7l0.9 -0.2M420.5 542.1l0.1 -1.2M380.4 513.4l1.4 -0.6M372.3 521.7h0M396.8 526.2l-0.7 0.4M433 533.7l-0.8 -1M338.5 519.9l-0.3 -0.8M342.9 528.7h0M396.3 517.8l1.1 -0.2M398.1 522.8l0.4 0.4M339 528.4l1.5 0.3M395.5 542.8h0M407.7 536l0.7 -0M392.6 528.9l0.5 0.7M373.8 545.6l0.9 0.6M384.7 513.7l1.4 0.2M379.2 549.7l0.4 -1.5M412.6 522.8l-0.3 -1M338 539.9l1 -0.7M401.5 528.1h0M382.6 514.4l-0.8 -0M413.1 534.6l0.1 -0.6M389.2 528.3l-0.6 0.2M409.6 524.8h0M404.2 544h0M340 527.1h0M358 533.4h0M422.7 528.6h0M397.9 522.7l0.6 1.1" stroke="#4a78ff" stroke-width="1" stroke-linecap="round" fill="none" opacity="0.82"/>
<path d="M424.2 529.7h0M366.7 514.9l-0.1 -1.4M426.8 540.9l-1 -0.2M433 548.2l-0.9 -1.3M398.9 533.8l-0.1 -0.8M359.1 538.3h0M392.9 523h0M379.1 554.4l0.4 -0.8M402.4 523.6l-0.4 -0.8M388.5 523.1h0M426.8 547.1h0M357.5 531.3l-0.3 0.8M388.6 550.2h0M390.3 529.6h0M431.9 533.9h0M373.6 514.9l0.5 -0.7M338.4 510.8l1.4 0.4M381.8 525.8l0.1 1.4M432.4 541.6l0.4 1.4M380.4 545.3l0.3 1.5M431.2 538.2l0.4 -0.4M423.4 544.3l0.8 0.4M385.3 545.5h0M409 541l-0.5 0.7M436.1 536.3h0M403.8 523.1h0" stroke="#3b5bff" stroke-width="1.3" stroke-linecap="round" fill="none" opacity="0.82"/>
<path d="M402 539.4h0M360.1 527.1l0.6 0.5M345.6 524.7l0.5 0.1M405.7 526.4l-0.4 0.8M346.1 522.3l0.7 0.9M342 549.4l1.1 1.1M419.7 548.1l0.7 0.3M392 517.7h0M362.3 541.4h0M378.3 519.6l-0.9 1.3M354.9 511.4h0M370.8 529.3h0M422.3 530.5h0M376.3 547.3h0M352.1 530.4h0M428 546.5l1.1 -0.9M349 511.1h0M340.8 521l1.5 -0.3M397.7 524.2l-0.7 1.2M380.6 525.4h0M364.8 554.7h0M395 530.2l-1 0.9M400.8 530.9h0M351.7 519.7h0M346.5 512.5h0M376.4 513.4h0" stroke="#4a78ff" stroke-width="1.6" stroke-linecap="round" fill="none" opacity="0.82"/>
<path d="M336.8 509.9C338.2 509.8 341.6 509.4 345.5 509.3C349.3 509.1 353.3 508.6 359.6 508.8C366 509 376.7 509.2 383.3 510.4C389.9 511.5 393.8 513.9 399.1 515.9C404.3 517.8 409.6 520.1 414.8 522.2C420.1 524.3 426.9 526.1 430.6 528.5C434.3 530.8 435.5 532.7 436.9 536.4C438.3 540 438.7 546.4 439.3 550.6C439.8 554.8 439.9 559.8 440.1 561.6" stroke="#7a22b8" stroke-width="3.2" fill="none" stroke-linecap="round" stroke-linejoin="round" opacity="0.38"/>
<path d="M336.8 509.9C338.2 509.8 341.6 509.4 345.5 509.3C349.3 509.1 353.3 508.6 359.6 508.8C366 509 376.7 509.2 383.3 510.4C389.9 511.5 393.8 513.9 399.1 515.9C404.3 517.8 409.6 520.1 414.8 522.2C420.1 524.3 426.9 526.1 430.6 528.5C434.3 530.8 435.5 532.7 436.9 536.4C438.3 540 438.7 546.4 439.3 550.6C439.8 554.8 439.9 559.8 440.1 561.6" stroke="#e82848" stroke-width="0.6" fill="none" stroke-linecap="round" stroke-linejoin="round" opacity="0.55"/>
<path d="M337.6 509.7h0M339.2 509.8h0M340.8 509.8h0M345.6 509.3h0M346.4 509.3h0M353.5 508.7h0M355.1 508.6h0M360.8 508.5h0M364 508.6h0M368.8 508.5h0M373.5 509.5h0M374.3 509.5h0M383.9 510.2h0M391.7 512.4h0M392.8 514h0M397.3 515.4h0M406.3 519h0M407 519.3h0M407.9 519.2h0M410.1 520.1h0M415.2 522.5h0M422.9 524.9h0M424.4 525.3h0M424.8 526.4h0M426.7 526h0M430.1 528.2h0M436.7 535.1h0M437.1 536.7h0M437.5 540.6h0M438.6 543.7h0M438.7 546.1h0M439.3 550.9h0M439.6 553.3h0M439.3 554.9h0M440.3 560.4h0" stroke="#e82848" stroke-width="0.8" stroke-linecap="round" fill="none"/>
<path d="M338.4 510h0M341.6 509.5h0M342.3 509.1h0M344 509.6h0M348.8 509h0M354.3 508.7h0M356 508.9h0M359.2 508.5h0M362.4 508.7h0M364.7 509.1h0M366.3 509.2h0M367.1 509.2h0M371.2 508.9h0M372.8 509.1h0M375.1 509.7h0M376.7 509.7h0M381.5 510h0M383 510.7h0M385.4 510.7h0M390.6 512.9h0M392.3 513h0M398.4 515h0M400.4 516.5h0M401.2 516.6h0M402.7 517h0M404.3 517.4h0M405.6 518.4h0M408.7 519.5h0M411.6 520.7h0M416.4 523.8h0M418.3 523.3h0M419 523.8h0M433.5 530.5h0M433.7 531.4h0M436 534.5h0M437.7 537.3h0M438.6 542.1h0M438 543h0M439.2 547.7h0M438.9 549.3h0M439.3 550.1h0M439.3 554.1h0M439.5 555.7h0" stroke="#e82848" stroke-width="1" stroke-linecap="round" fill="none"/>
<path d="M343.2 509.4h0M344.8 509.4h0M348 509h0M349.6 509.4h0M350.4 509h0M352.8 509.2h0M356.8 508.9h0M361.6 508.7h0M363.1 508.9h0M367.9 509.2h0M370.4 508.8h0M375.9 509.6h0M378.4 509.2h0M380.7 510.2h0M384.6 510.7h0M386.9 511.4h0M387.8 511.4h0M393.6 514h0M394.4 514.1h0M395.7 515.1h0M399.8 515.8h0M403 518.6h0M404.9 518h0M410.9 520.3h0M414.6 521.9h0M415.8 523.1h0M417.4 523.6h0M419.8 523.9h0M421.3 524.5h0M423.5 525.6h0M426 525.5h0M428 527.1h0M429.1 526.7h0M431 528.4h0M432.2 529.5h0M434.9 532.4h0M434.9 533.3h0M436.4 536.1h0M438.2 541.3h0M438.6 544.5h0M438.8 546.9h0M439.1 552.5h0M440.4 558.8h0M440.1 559.6h0" stroke="#e82848" stroke-width="1.3" stroke-linecap="round" fill="none"/>
<path d="M347.2 509.2h0M352 508.9h0M357.6 508.8h0M358.3 508.9h0M359.9 508.9h0M365.5 509h0M369.5 509.1h0M371.9 509.7h0M377.5 509.9h0M382.3 510.3h0M390 512.1h0M396.8 514.7h0M402 516.7h0M409.3 519.9h0M413.2 521.1h0M420.7 523.9h0M422 524.9h0M427.4 526.3h0M429.4 527.9h0M431.4 529.2h0M432.9 529.9h0M434.3 531.8h0M437.5 539h0M437.7 539.8h0M438.8 545.3h0M439 548.5h0M439.4 551.7h0M439.4 556.5h0M440 558h0M440.4 561.2h0" stroke="#e82848" stroke-width="1.2" stroke-linecap="round" fill="none"/>
<path d="M339.1 508.9h0M340.2 509.2h0M347.5 509.1h0" stroke="#e83040" stroke-width="2.3" stroke-linecap="round" fill="none"/>
<path d="M343.3 509.5h0M350.6 508.3h0M360 508.6h0M364.2 509.2h0M368.4 508.4h0" stroke="#b8ec40" stroke-width="2" stroke-linecap="round" fill="none"/>
<path d="M344.4 509.3h0M348.5 508.8h0M369.4 509.4h0" stroke="#e83040" stroke-width="1.3" stroke-linecap="round" fill="none"/>
<path d="M346.4 508.6h0M354.8 508.5h0M355.9 508.5h0M357.9 508.5h0M363.2 508.3h0M371.5 509.4h0M373.6 509.9h0" stroke="#b8ec40" stroke-width="2.3" stroke-linecap="round" fill="none"/>
<path d="M349.6 509.2h0" stroke="#e83040" stroke-width="1.7" stroke-linecap="round" fill="none"/>
<path d="M351.7 508.1h0" stroke="#f0e040" stroke-width="1.7" stroke-linecap="round" fill="none"/>
<path d="M352.7 508.4h0" stroke="#f0e040" stroke-width="2.3" stroke-linecap="round" fill="none"/>
<path d="M361.1 508.5h0" stroke="#b8ec40" stroke-width="1.3" stroke-linecap="round" fill="none"/>
<path d="M365.3 508.7h0M367.3 509.5h0" stroke="#b8ec40" stroke-width="1.7" stroke-linecap="round" fill="none"/>
<path d="M430.6 470.5C431.6 471.2 435.1 473.9 436.9 474.9C438.7 475.8 440.6 475.9 441.3 476.1" stroke="#e040a0" stroke-width="0.7" fill="none" stroke-linecap="round" stroke-linejoin="round" opacity="0.55"/>
<path d="M430.4 470.8h0M432.4 472.1h0M440.1 476.4h0" stroke="#e040a0" stroke-width="1.1" stroke-linecap="round" fill="none"/>
<path d="M431.3 470.9h0M431.6 471.9h0M433.1 472.4h0M435 473.9h0" stroke="#e040a0" stroke-width="1.3" stroke-linecap="round" fill="none"/>
<path d="M433.8 472.8h0M436.9 475.6h0" stroke="#e040a0" stroke-width="0.8" stroke-linecap="round" fill="none"/>
<path d="M435.9 474h0" stroke="#3050ff" stroke-width="1.1" stroke-linecap="round" fill="none"/>
<path d="M436.4 474.7h0M438 475.1h0M438.6 475.8h0" stroke="#3050ff" stroke-width="1.4" stroke-linecap="round" fill="none"/>
<path d="M439.3 476.3h0" stroke="#3050ff" stroke-width="1.3" stroke-linecap="round" fill="none"/>
<path d="M441 476h0" stroke="#e040a0" stroke-width="1.4" stroke-linecap="round" fill="none"/>
<circle cx="345.5" cy="509.3" r="1.3" fill="#a0f040"/>
<circle cx="350.2" cy="508.9" r="1" fill="#e8e040"/>
<circle cx="355.7" cy="508.5" r="1.4" fill="#90f040"/>
<circle cx="364.4" cy="508.6" r="1.2" fill="#b0f040"/>
<circle cx="369.9" cy="508.9" r="1.1" fill="#d0e840"/>
<circle cx="374.6" cy="509.3" r="1.1" fill="#b0f040"/>
<circle cx="384.9" cy="510.2" r="1.7" fill="#c8f040"/>
<circle cx="399.8" cy="515.6" r="1.4" fill="#a0f040"/>
<circle cx="418.8" cy="522.5" r="1.5" fill="#a8f040"/>
<circle cx="438.2" cy="541.1" r="1.3" fill="#e0e840"/>
<circle cx="438.8" cy="547.4" r="1.2" fill="#80f040"/>
</g></g>
<rect x="129.8" y="15.5" width="1.3" height="161.5" fill="#fff"/>
<rect x="237.8" y="15.5" width="1.3" height="161.5" fill="#fff"/>
<rect x="345.8" y="15.5" width="1.3" height="161.5" fill="#fff"/>
<rect x="454.2" y="15.5" width="1.3" height="161.5" fill="#fff"/>
<rect x="562.4" y="15.5" width="1.3" height="161.5" fill="#fff"/>
<rect x="22.5" y="93.8" width="648" height="1.3" fill="#fff"/>
<rect x="131.3" y="382.5" width="1.3" height="172.8" fill="#fff"/>
<rect x="234.2" y="382.5" width="1.3" height="172.8" fill="#fff"/>
<rect x="336.8" y="382.5" width="1.3" height="172.8" fill="#fff"/>
<rect x="30.2" y="468.7" width="409.6" height="1.3" fill="#fff"/>
<rect x="653.9" y="171.6" width="12.2" height="1.6" fill="#fff"/>
<rect x="423" y="550.2" width="11" height="1.5" fill="#fff"/>
<text x="31.2" y="171.2" font-size="10.1" font-weight="bold"><tspan fill="#ff2222">S100B</tspan><tspan fill="#38d850">/PGP9.5</tspan></text>
<text x="38.6" y="549.9" font-size="9.9" font-weight="bold"><tspan fill="#ff2222">PGP9.5</tspan><tspan fill="#38d850">/CC10</tspan></text>
<text x="5.9" y="8.9" font-size="10.4" font-weight="bold" fill="#000">A</text>
<text x="5.7" y="203.9" font-size="10.4" font-weight="bold" fill="#000">B</text>
<text x="211.2" y="204.9" font-size="10.4" font-weight="bold" fill="#000">C</text>
<text x="9.2" y="373.7" font-size="10.4" font-weight="bold" fill="#000">D</text>
<text x="449.4" y="374.6" font-size="10.4" font-weight="bold" fill="#000">E</text>
<text x="10.1" y="581.8" font-size="10.4" font-weight="bold" fill="#000">F</text>
<text x="200.4" y="581.9" font-size="10.4" font-weight="bold" fill="#000">G</text>
<text x="76.3" y="9.2" font-size="10" text-anchor="middle">0d Injury</text>
<text x="184.4" y="9.2" font-size="10" text-anchor="middle">1d Injury</text>
<text x="292.5" y="9.2" font-size="10" text-anchor="middle">2d Injury</text>
<text x="400.6" y="9.2" font-size="10" text-anchor="middle">3d Injury</text>
<text x="508.7" y="9.2" font-size="10" text-anchor="middle">5d Injury</text>
<text x="616.8" y="9.2" font-size="10" text-anchor="middle">7d Injury</text>
<text x="80.2" y="376.4" font-size="10" text-anchor="middle">0d Injury</text>
<text x="184.3" y="376.4" font-size="10" text-anchor="middle">3d Injury</text>
<text x="285.6" y="376.4" font-size="10" text-anchor="middle">5d Injury</text>
<text x="388.6" y="376.4" font-size="10" text-anchor="middle">7d Injury</text>
<text transform="translate(16 54.6) rotate(-90)" font-size="10" text-anchor="middle">Proximal</text>
<text transform="translate(16 137.5) rotate(-90)" font-size="10" text-anchor="middle">Distal</text>
<text transform="translate(25 425.6) rotate(-90)" font-size="10" text-anchor="middle">NAPH</text>
<text transform="translate(25 513.7) rotate(-90)" font-size="10" text-anchor="middle">NAPH+PTM</text>
<line x1="48.3" y1="210.1" x2="48.3" y2="333.2" stroke="#4a4a4a" stroke-width="1.4"/>
<line x1="47.8" y1="332.7" x2="178.4" y2="332.7" stroke="#4a4a4a" stroke-width="1.4"/>
<line x1="48.3" y1="210.7" x2="52.7" y2="210.7" stroke="#4a4a4a" stroke-width="1.4"/>
<text x="46.3" y="214.3" font-size="10.2" text-anchor="end">25</text>
<line x1="48.3" y1="235.1" x2="52.7" y2="235.1" stroke="#4a4a4a" stroke-width="1.4"/>
<text x="46.3" y="238.7" font-size="10.2" text-anchor="end">20</text>
<line x1="48.3" y1="259.6" x2="52.7" y2="259.6" stroke="#4a4a4a" stroke-width="1.4"/>
<text x="46.3" y="263.2" font-size="10.2" text-anchor="end">15</text>
<line x1="48.3" y1="284" x2="52.7" y2="284" stroke="#4a4a4a" stroke-width="1.4"/>
<text x="46.3" y="287.6" font-size="10.2" text-anchor="end">10</text>
<line x1="48.3" y1="308.4" x2="52.7" y2="308.4" stroke="#4a4a4a" stroke-width="1.4"/>
<text x="46.3" y="312" font-size="10.2" text-anchor="end">5</text>
<line x1="48.3" y1="332.7" x2="52.7" y2="332.7" stroke="#4a4a4a" stroke-width="1.4"/>
<text x="46.3" y="336.3" font-size="10.2" text-anchor="end">0</text>
<text x="58" y="347.7" font-size="10.0" text-anchor="middle">0d</text>
<text x="79.6" y="347.7" font-size="10.0" text-anchor="middle">1d</text>
<text x="101.4" y="347.7" font-size="10.0" text-anchor="middle">2d</text>
<text x="123" y="347.7" font-size="10.0" text-anchor="middle">3d</text>
<text x="144.6" y="347.7" font-size="10.0" text-anchor="middle">5d</text>
<text x="166.2" y="347.7" font-size="10.0" text-anchor="middle">7d</text>
<text transform="translate(27.4 270.7) rotate(-90)" font-size="10.1" text-anchor="middle">mRNA relative expression</text>
<polyline points="53,328.2 64,328.6 75,331 101.5,332.2 123.2,332.5 137,331.5 152,330.2 170,327.4" fill="none" stroke="#000" stroke-width="1.5" stroke-linejoin="round" stroke-linecap="round"/>
<g fill="#000"><path d="M55 325.2L52.9 329L57.1 329Z"/><path d="M60.5 325.2L58.4 329L62.6 329Z"/><path d="M74 327.7L71.9 331.5L76.1 331.5Z"/><path d="M80 328.9L77.9 332.7L82.1 332.7Z"/><path d="M90 329.5L87.9 333.3L92.1 333.3Z"/><path d="M101.5 329.7L99.4 333.5L103.6 333.5Z"/><path d="M109 329.7L106.9 333.5L111.1 333.5Z"/><path d="M115.7 330.1L113.6 333.9L117.8 333.9Z"/><path d="M123.2 330.1L121.1 333.9L125.3 333.9Z"/><path d="M130.7 330.1L128.6 333.9L132.8 333.9Z"/><path d="M137.4 329.1L135.3 332.9L139.5 332.9Z"/><path d="M144.9 328.1L142.8 331.9L147 331.9Z"/><path d="M152.3 327.9L150.2 331.7L154.4 331.7Z"/><path d="M156 325.7L153.9 329.5L158.1 329.5Z"/><path d="M170 327.3L167.9 331.1L172.1 331.1Z"/><path d="M173.3 325.1L171.2 328.9L175.4 328.9Z"/></g>
<polyline points="59.9,327.4 69.8,330.9 86.7,331.5 101.9,328 119.4,316.4 123.2,314.5 144.9,312 164.3,327.2 170.3,328" fill="none" stroke="#1a1aff" stroke-width="1.6" stroke-linejoin="round" stroke-linecap="round"/>
<g fill="#1a1aff"><rect x="60" y="325.4" width="3.9" height="3.9"/><rect x="67.8" y="328.4" width="3.9" height="3.9"/><rect x="67.8" y="331.1" width="3.9" height="3.9"/><rect x="76" y="329.6" width="3.9" height="3.9"/><rect x="84.8" y="330.4" width="3.9" height="3.9"/><rect x="92.3" y="324.1" width="3.9" height="3.9"/><rect x="100" y="327.1" width="3.9" height="3.9"/><rect x="107.5" y="326.4" width="3.9" height="3.9"/><rect x="117.5" y="314.8" width="3.9" height="3.9"/><rect x="121.2" y="307.8" width="3.9" height="3.9"/><rect x="125" y="316.6" width="3.9" height="3.9"/><rect x="143" y="305.6" width="3.9" height="3.9"/><rect x="143" y="315.6" width="3.9" height="3.9"/><rect x="150.4" y="310.2" width="3.9" height="3.9"/><rect x="162.4" y="326.1" width="3.9" height="3.9"/><rect x="175.1" y="326.8" width="3.9" height="3.9"/></g>
<polyline points="47.9,328 58.7,328.9 78,326 101.5,294.2 123.2,245 144.9,311.6 167.3,326.6" fill="none" stroke="#f07f1f" stroke-width="1.7" stroke-linejoin="round" stroke-linecap="round"/>
<g fill="#f07f1f"><circle cx="47.9" cy="328" r="1.95"/><circle cx="53.4" cy="328" r="1.95"/><circle cx="58.7" cy="329.1" r="1.95"/><circle cx="73.9" cy="324.7" r="1.95"/><circle cx="78" cy="326.2" r="1.95"/><circle cx="86.7" cy="323.3" r="1.95"/><circle cx="97.8" cy="296.4" r="1.95"/><circle cx="102.5" cy="290.6" r="1.95"/><circle cx="105.8" cy="295.6" r="1.95"/><circle cx="123.2" cy="235.7" r="1.95"/><circle cx="123.2" cy="244.2" r="1.95"/><circle cx="123.2" cy="247.2" r="1.95"/><circle cx="144.9" cy="299.5" r="1.95"/><circle cx="137.4" cy="315.7" r="1.95"/><circle cx="145.6" cy="312.2" r="1.95"/><circle cx="156.1" cy="324.5" r="1.95"/><circle cx="159.8" cy="327.2" r="1.95"/><circle cx="170" cy="325.4" r="1.95"/></g>
<line x1="138.2" y1="204.9" x2="151" y2="204.9" stroke="#f07f1f" stroke-width="1.5"/>
<g fill="#f07f1f"><circle cx="144.6" cy="204.9" r="1.7"/></g>
<text x="158.6" y="207.1" font-size="7.7" text-anchor="start" letter-spacing="0.15">PGP9.5</text>
<line x1="138.2" y1="214" x2="151" y2="214" stroke="#1a1aff" stroke-width="1.5"/>
<g fill="#1a1aff"><rect x="142.9" y="212.3" width="3.4" height="3.4"/></g>
<text x="158.6" y="216.2" font-size="7.7" text-anchor="start" letter-spacing="0.15">S100B</text>
<line x1="138.2" y1="223" x2="151" y2="223" stroke="#000" stroke-width="1.5"/>
<g fill="#000"><path d="M144.6 221.2L142.9 224.2L146.3 224.2Z"/></g>
<text x="158.6" y="225.2" font-size="7.7" text-anchor="start" letter-spacing="0.15">CC10</text>
<line x1="242.4" y1="215.9" x2="242.4" y2="334.6" stroke="#262626" stroke-width="1.15"/>
<line x1="241.8" y1="334" x2="351.5" y2="334" stroke="#262626" stroke-width="1.15"/>
<line x1="242.4" y1="216.5" x2="246.8" y2="216.5" stroke="#262626" stroke-width="1.15"/>
<text x="240.4" y="220.1" font-size="10.0" text-anchor="end">60</text>
<line x1="242.4" y1="255.7" x2="246.8" y2="255.7" stroke="#262626" stroke-width="1.15"/>
<text x="240.4" y="259.2" font-size="10.0" text-anchor="end">40</text>
<line x1="242.4" y1="294.7" x2="246.8" y2="294.7" stroke="#262626" stroke-width="1.15"/>
<text x="240.4" y="298.2" font-size="10.0" text-anchor="end">20</text>
<line x1="242.4" y1="334" x2="246.8" y2="334" stroke="#262626" stroke-width="1.15"/>
<text x="240.4" y="337.6" font-size="10.0" text-anchor="end">0</text>
<text x="251.5" y="347.5" font-size="9.7" text-anchor="middle">0d</text>
<text x="269.7" y="347.5" font-size="9.7" text-anchor="middle">1d</text>
<text x="288" y="347.5" font-size="9.7" text-anchor="middle">2d</text>
<text x="306.2" y="347.5" font-size="9.7" text-anchor="middle">3d</text>
<text x="324.4" y="347.5" font-size="9.7" text-anchor="middle">5d</text>
<text x="342.7" y="347.5" font-size="9.7" text-anchor="middle">7d</text>
<text transform="translate(210.6 274.8) rotate(-90)" font-size="10" text-anchor="middle">S100B<tspan dy="-3" font-size="6.5">+</tspan><tspan dy="3">/PGP9.5</tspan><tspan dy="-3" font-size="6.5">+</tspan><tspan dy="3"> cells</tspan></text>
<text transform="translate(223.2 274.8) rotate(-90)" font-size="10" text-anchor="middle">in total airway cells (%)</text>
<polyline points="244.1,334 269.7,332.8 288,244.1 306,251.8 324.2,285.6 342.6,327.7" fill="none" stroke="#000" stroke-width="1.5" stroke-linejoin="round" stroke-linecap="round"/>
<g fill="#000"><circle cx="244.1" cy="334" r="1.85"/><circle cx="251.1" cy="334" r="1.85"/><circle cx="258.5" cy="330" r="1.85"/><circle cx="258.5" cy="334.5" r="1.85"/><circle cx="265.8" cy="332.8" r="1.85"/><circle cx="265.8" cy="334.5" r="1.85"/><circle cx="273.3" cy="332.4" r="1.85"/><circle cx="280.3" cy="332.4" r="1.85"/><circle cx="283.8" cy="238.7" r="1.85"/><circle cx="283.8" cy="244.8" r="1.85"/><circle cx="283.8" cy="251.1" r="1.85"/><circle cx="291.2" cy="241.7" r="1.85"/><circle cx="291.2" cy="248.3" r="1.85"/><circle cx="306" cy="244.5" r="1.85"/><circle cx="306" cy="248.7" r="1.85"/><circle cx="306" cy="252.9" r="1.85"/><circle cx="306" cy="256.9" r="1.85"/><circle cx="306" cy="260.9" r="1.85"/><circle cx="316.5" cy="284.9" r="1.85"/><circle cx="316.5" cy="289.1" r="1.85"/><circle cx="324.2" cy="285.6" r="1.85"/><circle cx="331.7" cy="283.3" r="1.85"/><circle cx="331.7" cy="286.8" r="1.85"/><circle cx="334.7" cy="325.8" r="1.85"/><circle cx="334.7" cy="330" r="1.85"/><circle cx="342.2" cy="327.2" r="1.85"/><circle cx="349.6" cy="324.2" r="1.85"/><circle cx="349.6" cy="328.6" r="1.85"/></g>
<line x1="399.4" y1="215.9" x2="399.4" y2="334.6" stroke="#262626" stroke-width="1.15"/>
<line x1="398.8" y1="334" x2="502.6" y2="334" stroke="#262626" stroke-width="1.15"/>
<line x1="399.4" y1="216.5" x2="403.8" y2="216.5" stroke="#262626" stroke-width="1.15"/>
<text x="397.4" y="219.8" font-size="9.2" text-anchor="end">40</text>
<line x1="399.4" y1="245.9" x2="403.8" y2="245.9" stroke="#262626" stroke-width="1.15"/>
<text x="397.4" y="249.2" font-size="9.2" text-anchor="end">30</text>
<line x1="399.4" y1="275.1" x2="403.8" y2="275.1" stroke="#262626" stroke-width="1.15"/>
<text x="397.4" y="278.4" font-size="9.2" text-anchor="end">20</text>
<line x1="399.4" y1="304.4" x2="403.8" y2="304.4" stroke="#262626" stroke-width="1.15"/>
<text x="397.4" y="307.7" font-size="9.2" text-anchor="end">10</text>
<line x1="399.4" y1="334" x2="403.8" y2="334" stroke="#262626" stroke-width="1.15"/>
<text x="397.4" y="337.3" font-size="9.2" text-anchor="end">0</text>
<text x="408" y="347.5" font-size="9.7" text-anchor="middle">0d</text>
<text x="425.1" y="347.5" font-size="9.7" text-anchor="middle">1d</text>
<text x="442" y="347.5" font-size="9.7" text-anchor="middle">2d</text>
<text x="459" y="347.5" font-size="9.7" text-anchor="middle">3d</text>
<text x="476.1" y="347.5" font-size="9.7" text-anchor="middle">5d</text>
<text x="493.1" y="347.5" font-size="9.7" text-anchor="middle">7d</text>
<text transform="translate(370.6 276.8) rotate(-90)" font-size="10" text-anchor="middle">PGP9.5<tspan dy="-3" font-size="6.5">+</tspan><tspan dy="3"> cells only</tspan></text>
<text transform="translate(383.2 276.8) rotate(-90)" font-size="10" text-anchor="middle">in total airway cells (%)</text>
<polyline points="408.3,316 425.5,306.7 442.6,257.6 459.6,254.6 476.5,284.5 493.3,304.8" fill="none" stroke="#000" stroke-width="1.5" stroke-linejoin="round" stroke-linecap="round"/>
<g fill="#000"><circle cx="404.8" cy="311.1" r="1.85"/><circle cx="404.8" cy="319.5" r="1.85"/><circle cx="408.3" cy="315.3" r="1.85"/><circle cx="411.8" cy="311.8" r="1.85"/><circle cx="411.8" cy="318.8" r="1.85"/><circle cx="422" cy="302.5" r="1.85"/><circle cx="422" cy="311.1" r="1.85"/><circle cx="425.5" cy="306.7" r="1.85"/><circle cx="429" cy="303.2" r="1.85"/><circle cx="429" cy="310.2" r="1.85"/><circle cx="435.6" cy="262" r="1.85"/><circle cx="439.1" cy="252.9" r="1.85"/><circle cx="442.6" cy="259.2" r="1.85"/><circle cx="446.1" cy="253.9" r="1.85"/><circle cx="449.6" cy="261.1" r="1.85"/><circle cx="455.9" cy="247.6" r="1.85"/><circle cx="455.9" cy="258.1" r="1.85"/><circle cx="455.9" cy="262.3" r="1.85"/><circle cx="462.9" cy="244.8" r="1.85"/><circle cx="462.9" cy="261.1" r="1.85"/><circle cx="469.5" cy="283.8" r="1.85"/><circle cx="469.5" cy="287.7" r="1.85"/><circle cx="476.5" cy="284.5" r="1.85"/><circle cx="483.5" cy="281.9" r="1.85"/><circle cx="483.5" cy="286.1" r="1.85"/><circle cx="483" cy="304.3" r="1.85"/><circle cx="483" cy="308.8" r="1.85"/><circle cx="490.5" cy="304.1" r="1.85"/><circle cx="496.8" cy="306.7" r="1.85"/></g>
<line x1="554.4" y1="215.4" x2="554.4" y2="334.2" stroke="#262626" stroke-width="1.15"/>
<line x1="553.9" y1="333.6" x2="663" y2="333.6" stroke="#262626" stroke-width="1.15"/>
<line x1="554.4" y1="216" x2="558.8" y2="216" stroke="#262626" stroke-width="1.15"/>
<text x="552.4" y="219.4" font-size="9.7" text-anchor="end">100</text>
<line x1="554.4" y1="239.5" x2="558.8" y2="239.5" stroke="#262626" stroke-width="1.15"/>
<text x="552.4" y="242.9" font-size="9.7" text-anchor="end">80</text>
<line x1="554.4" y1="263" x2="558.8" y2="263" stroke="#262626" stroke-width="1.15"/>
<text x="552.4" y="266.4" font-size="9.7" text-anchor="end">60</text>
<line x1="554.4" y1="286.6" x2="558.8" y2="286.6" stroke="#262626" stroke-width="1.15"/>
<text x="552.4" y="290" font-size="9.7" text-anchor="end">40</text>
<line x1="554.4" y1="310.1" x2="558.8" y2="310.1" stroke="#262626" stroke-width="1.15"/>
<text x="552.4" y="313.5" font-size="9.7" text-anchor="end">20</text>
<line x1="554.4" y1="333.6" x2="558.8" y2="333.6" stroke="#262626" stroke-width="1.15"/>
<text x="552.4" y="337" font-size="9.7" text-anchor="end">0</text>
<text x="563.7" y="347.2" font-size="10.2" text-anchor="middle">0d</text>
<text x="582" y="347.2" font-size="10.2" text-anchor="middle">1d</text>
<text x="600" y="347.2" font-size="10.2" text-anchor="middle">2d</text>
<text x="618.2" y="347.2" font-size="10.2" text-anchor="middle">3d</text>
<text x="635.9" y="347.2" font-size="10.2" text-anchor="middle">5d</text>
<text x="653.9" y="347.2" font-size="10.2" text-anchor="middle">7d</text>
<text transform="translate(522 275.4) rotate(-90)" font-size="10.1" text-anchor="middle">S100B<tspan dy="-3" font-size="6.5">+</tspan><tspan dy="3"> cells only</tspan></text>
<text transform="translate(534.2 275.4) rotate(-90)" font-size="10.1" text-anchor="middle">in total airway cells (%)</text>
<polyline points="563.7,235.2 581.9,265.1 599.9,323.5 618.2,303.6 636.1,273.7 654.1,249.9" fill="none" stroke="#000" stroke-width="1.5" stroke-linejoin="round" stroke-linecap="round"/>
<g fill="#000"><circle cx="556.7" cy="232.4" r="1.85"/><circle cx="560.2" cy="240.1" r="1.85"/><circle cx="563.7" cy="231.9" r="1.85"/><circle cx="567.2" cy="237.5" r="1.85"/><circle cx="571.2" cy="232.4" r="1.85"/><circle cx="578.2" cy="260.9" r="1.85"/><circle cx="578.2" cy="274.4" r="1.85"/><circle cx="581.9" cy="265.1" r="1.85"/><circle cx="585.4" cy="261.1" r="1.85"/><circle cx="585.4" cy="272.1" r="1.85"/><circle cx="592.9" cy="322.3" r="1.85"/><circle cx="596.4" cy="328.8" r="1.85"/><circle cx="599.9" cy="322.8" r="1.85"/><circle cx="603.4" cy="328.1" r="1.85"/><circle cx="607.4" cy="324.2" r="1.85"/><circle cx="610.9" cy="300.8" r="1.85"/><circle cx="610.9" cy="307.6" r="1.85"/><circle cx="618.2" cy="304.1" r="1.85"/><circle cx="625.2" cy="301.3" r="1.85"/><circle cx="625.2" cy="306.7" r="1.85"/><circle cx="621.7" cy="274.4" r="1.85"/><circle cx="628.7" cy="272.1" r="1.85"/><circle cx="636.1" cy="274" r="1.85"/><circle cx="643.1" cy="273.7" r="1.85"/><circle cx="650.2" cy="245.9" r="1.85"/><circle cx="650.2" cy="250.4" r="1.85"/><circle cx="650.2" cy="254.1" r="1.85"/><circle cx="650.2" cy="275.6" r="1.85"/><circle cx="657.6" cy="248" r="1.85"/><circle cx="657.6" cy="251.8" r="1.85"/></g>
<line x1="490.1" y1="402.8" x2="490.1" y2="542.3" stroke="#6e6e6e" stroke-width="1.25"/>
<line x1="489.6" y1="541.8" x2="676.3" y2="541.8" stroke="#6e6e6e" stroke-width="1.25"/>
<line x1="490.1" y1="403.4" x2="493.1" y2="403.4" stroke="#6e6e6e" stroke-width="1.25"/>
<text x="486.1" y="406" font-size="9.3" text-anchor="end">1.5</text>
<line x1="490.1" y1="449.4" x2="493.1" y2="449.4" stroke="#6e6e6e" stroke-width="1.25"/>
<text x="486.1" y="452" font-size="9.3" text-anchor="end">1.0</text>
<line x1="490.1" y1="495.6" x2="493.1" y2="495.6" stroke="#6e6e6e" stroke-width="1.25"/>
<text x="486.1" y="498.2" font-size="9.3" text-anchor="end">0.5</text>
<line x1="490.1" y1="541.8" x2="493.1" y2="541.8" stroke="#6e6e6e" stroke-width="1.25"/>
<text x="486.1" y="544.4" font-size="9.3" text-anchor="end">0.0</text>
<text x="510.8" y="556" font-size="9.2" text-anchor="middle">0d</text>
<text x="558.2" y="556" font-size="9.2" text-anchor="middle">3d</text>
<text x="606" y="556" font-size="9.2" text-anchor="middle">5d</text>
<text x="653.8" y="556" font-size="9.2" text-anchor="middle">7d</text>
<text transform="translate(463.2 473.4) rotate(-90)" font-size="10" text-anchor="middle"><tspan font-style="italic">CC10</tspan> mRNA relative expression</text>
<rect x="496.6" y="448.5" width="10.9" height="93.3" fill="#ababab" stroke="#222" stroke-width="0.8"/>
<rect x="514" y="438.7" width="11.4" height="103.1" fill="#5b50f0" stroke="#222" stroke-width="0.8"/>
<rect x="544.2" y="531.1" width="11" height="10.7" fill="#ababab" stroke="#222" stroke-width="0.8"/>
<rect x="561.7" y="532.5" width="11.1" height="9.3" fill="#5b50f0" stroke="#222" stroke-width="0.8"/>
<rect x="592" y="508.4" width="11.2" height="33.4" fill="#ababab" stroke="#222" stroke-width="0.8"/>
<rect x="609.3" y="513.3" width="11.3" height="28.5" fill="#5b50f0" stroke="#222" stroke-width="0.8"/>
<rect x="639.4" y="479.3" width="11.6" height="62.5" fill="#ababab" stroke="#222" stroke-width="0.8"/>
<rect x="656.9" y="508.4" width="11.5" height="33.4" fill="#5b50f0" stroke="#222" stroke-width="0.8"/>
<line x1="502" y1="436.2" x2="502" y2="459.9" stroke="#262626" stroke-width="0.9"/>
<line x1="498.8" y1="436.2" x2="505.2" y2="436.2" stroke="#262626" stroke-width="0.9"/>
<line x1="498.8" y1="459.9" x2="505.2" y2="459.9" stroke="#262626" stroke-width="0.9"/>
<line x1="519.7" y1="427.2" x2="519.7" y2="449.1" stroke="#262626" stroke-width="0.9"/>
<line x1="516.5" y1="427.2" x2="522.9" y2="427.2" stroke="#262626" stroke-width="0.9"/>
<line x1="516.5" y1="449.1" x2="522.9" y2="449.1" stroke="#262626" stroke-width="0.9"/>
<line x1="549.7" y1="529" x2="549.7" y2="532.4" stroke="#262626" stroke-width="0.9"/>
<line x1="547.1" y1="529" x2="552.3" y2="529" stroke="#262626" stroke-width="0.9"/>
<line x1="547.1" y1="532.4" x2="552.3" y2="532.4" stroke="#262626" stroke-width="0.9"/>
<line x1="567.2" y1="530.8" x2="567.2" y2="533.4" stroke="#262626" stroke-width="0.9"/>
<line x1="564.6" y1="530.8" x2="569.8" y2="530.8" stroke="#262626" stroke-width="0.9"/>
<line x1="564.6" y1="533.4" x2="569.8" y2="533.4" stroke="#262626" stroke-width="0.9"/>
<line x1="597.6" y1="505.2" x2="597.6" y2="510.8" stroke="#262626" stroke-width="0.9"/>
<line x1="594.8" y1="505.2" x2="600.4" y2="505.2" stroke="#262626" stroke-width="0.9"/>
<line x1="594.8" y1="510.8" x2="600.4" y2="510.8" stroke="#262626" stroke-width="0.9"/>
<line x1="615" y1="508" x2="615" y2="518" stroke="#262626" stroke-width="0.9"/>
<line x1="611.8" y1="508" x2="618.2" y2="508" stroke="#262626" stroke-width="0.9"/>
<line x1="611.8" y1="518" x2="618.2" y2="518" stroke="#262626" stroke-width="0.9"/>
<line x1="645.2" y1="468.4" x2="645.2" y2="489.4" stroke="#262626" stroke-width="0.9"/>
<line x1="642" y1="468.4" x2="648.4" y2="468.4" stroke="#262626" stroke-width="0.9"/>
<line x1="642" y1="489.4" x2="648.4" y2="489.4" stroke="#262626" stroke-width="0.9"/>
<line x1="662.6" y1="499.2" x2="662.6" y2="516.6" stroke="#262626" stroke-width="0.9"/>
<line x1="659.4" y1="499.2" x2="665.8" y2="499.2" stroke="#262626" stroke-width="0.9"/>
<line x1="659.4" y1="516.6" x2="665.8" y2="516.6" stroke="#262626" stroke-width="0.9"/>
<g fill="#000"><circle cx="502" cy="425.2" r="2.3"/><circle cx="502" cy="454.6" r="2.3"/><circle cx="502" cy="465" r="2.3"/><circle cx="545.9" cy="530.4" r="2.3"/><circle cx="550.1" cy="527.9" r="2.3"/><circle cx="554.3" cy="529.7" r="2.3"/><circle cx="593.2" cy="508" r="2.3"/><circle cx="597.4" cy="504.5" r="2.3"/><circle cx="601.6" cy="508" r="2.3"/><circle cx="645.1" cy="463.8" r="2.3"/><circle cx="645.1" cy="477.1" r="2.3"/><circle cx="645.1" cy="497.4" r="2.3"/></g>
<g fill="#000"><path d="M515.6 423.9L513.1 428.4L518.1 428.4Z"/><path d="M523.8 426.6L521.3 431.1L526.3 431.1Z"/><path d="M519.7 457.2L517.2 461.7L522.2 461.7Z"/><path d="M563.1 529.8L560.6 534.3L565.6 534.3Z"/><path d="M567.6 528.7L565.1 533.2L570.1 533.2Z"/><path d="M571.8 529.8L569.3 534.3L574.3 534.3Z"/><path d="M614.9 502.5L612.4 507L617.4 507Z"/><path d="M614.9 511.2L612.4 515.7L617.4 515.7Z"/><path d="M614.9 516.5L612.4 521L617.4 521Z"/><path d="M662.6 489.5L660.1 494L665.1 494Z"/><path d="M662.6 506L660.1 510.5L665.1 510.5Z"/><path d="M662.6 518.9L660.1 523.4L665.1 523.4Z"/></g>
<polyline points="503.4,415 503.4,408.9 518.1,408.9 518.1,415" fill="none" stroke="#111" stroke-width="1.1"/>
<text x="512" y="402.8" font-size="10" text-anchor="middle">0.1941</text>
<polyline points="551.3,518.5 551.3,513 566.2,513 566.2,518.5" fill="none" stroke="#111" stroke-width="1.1"/>
<text x="558.8" y="506.8" font-size="10" text-anchor="middle">0.1909</text>
<polyline points="601.2,494.8 601.2,489.4 617.4,489.4 617.4,494.8" fill="none" stroke="#111" stroke-width="1.1"/>
<text x="609.3" y="482" font-size="10" text-anchor="middle">0.0301</text>
<polyline points="643.9,456.8 643.9,450.8 660.3,450.8 660.3,456.8" fill="none" stroke="#111" stroke-width="1.1"/>
<text x="651.4" y="444.9" font-size="10" text-anchor="middle">0.0086</text>
<g fill="#000"><circle cx="618.8" cy="398" r="2.3"/></g>
<g fill="#000"><path d="M618.8 407.4L616.4 411.6L621.1 411.6Z"/></g>
<text x="632.1" y="400.9" font-size="8.1" text-anchor="start" textLength="20.8" lengthAdjust="spacingAndGlyphs">NAPH</text>
<text x="632.1" y="411.7" font-size="8.1" text-anchor="start" textLength="42.1" lengthAdjust="spacingAndGlyphs">NAPH+PTM</text>
<line x1="48.8" y1="596.4" x2="48.8" y2="719.9" stroke="#6e6e6e" stroke-width="1.25"/>
<line x1="48.2" y1="719.4" x2="189.2" y2="719.4" stroke="#6e6e6e" stroke-width="1.25"/>
<line x1="48.8" y1="596.9" x2="52.2" y2="596.9" stroke="#6e6e6e" stroke-width="1.25"/>
<text x="44.8" y="599.5" font-size="9.3" text-anchor="end">25</text>
<line x1="48.8" y1="621.3" x2="52.2" y2="621.3" stroke="#6e6e6e" stroke-width="1.25"/>
<text x="44.8" y="623.9" font-size="9.3" text-anchor="end">20</text>
<line x1="48.8" y1="645.8" x2="52.2" y2="645.8" stroke="#6e6e6e" stroke-width="1.25"/>
<text x="44.8" y="648.4" font-size="9.3" text-anchor="end">15</text>
<line x1="48.8" y1="670.4" x2="52.2" y2="670.4" stroke="#6e6e6e" stroke-width="1.25"/>
<text x="44.8" y="673" font-size="9.3" text-anchor="end">10</text>
<line x1="48.8" y1="694.9" x2="52.2" y2="694.9" stroke="#6e6e6e" stroke-width="1.25"/>
<text x="44.8" y="697.5" font-size="9.3" text-anchor="end">5</text>
<line x1="48.8" y1="719.4" x2="52.2" y2="719.4" stroke="#6e6e6e" stroke-width="1.25"/>
<text x="44.8" y="722" font-size="9.3" text-anchor="end">0</text>
<text x="64.3" y="733.2" font-size="8.8" text-anchor="middle">0d</text>
<text x="100.2" y="733.2" font-size="8.8" text-anchor="middle">3d</text>
<text x="136.1" y="733.2" font-size="8.8" text-anchor="middle">5d</text>
<text x="172.3" y="733.2" font-size="8.8" text-anchor="middle">7d</text>
<text transform="translate(26.4 656.2) rotate(-90)" font-size="10" text-anchor="middle"><tspan font-style="italic">PGP9.5</tspan> mRNA relative expression</text>
<rect x="54" y="714.9" width="7.8" height="4.5" fill="#ababab" stroke="#222" stroke-width="0.8"/>
<rect x="67.1" y="714.3" width="7.8" height="5.1" fill="#5b50f0" stroke="#222" stroke-width="0.8"/>
<rect x="89.5" y="628.2" width="8.4" height="91.2" fill="#ababab" stroke="#222" stroke-width="0.8"/>
<rect x="102.7" y="648.6" width="8.4" height="70.8" fill="#5b50f0" stroke="#222" stroke-width="0.8"/>
<rect x="125.4" y="695.9" width="8.4" height="23.5" fill="#ababab" stroke="#222" stroke-width="0.8"/>
<rect x="138.5" y="681.4" width="8.5" height="38" fill="#5b50f0" stroke="#222" stroke-width="0.8"/>
<rect x="161.6" y="710" width="8.2" height="9.4" fill="#ababab" stroke="#222" stroke-width="0.8"/>
<rect x="174.7" y="700.9" width="8.3" height="18.5" fill="#5b50f0" stroke="#222" stroke-width="0.8"/>
<line x1="57.9" y1="713.2" x2="57.9" y2="715.8" stroke="#262626" stroke-width="0.9"/>
<line x1="55.5" y1="713.2" x2="60.3" y2="713.2" stroke="#262626" stroke-width="0.9"/>
<line x1="55.5" y1="715.8" x2="60.3" y2="715.8" stroke="#262626" stroke-width="0.9"/>
<line x1="71" y1="712.6" x2="71" y2="715.2" stroke="#262626" stroke-width="0.9"/>
<line x1="68.6" y1="712.6" x2="73.4" y2="712.6" stroke="#262626" stroke-width="0.9"/>
<line x1="68.6" y1="715.2" x2="73.4" y2="715.2" stroke="#262626" stroke-width="0.9"/>
<line x1="93.7" y1="626.5" x2="93.7" y2="629.1" stroke="#262626" stroke-width="0.9"/>
<line x1="91.3" y1="626.5" x2="96.1" y2="626.5" stroke="#262626" stroke-width="0.9"/>
<line x1="91.3" y1="629.1" x2="96.1" y2="629.1" stroke="#262626" stroke-width="0.9"/>
<line x1="106.9" y1="646.9" x2="106.9" y2="649.5" stroke="#262626" stroke-width="0.9"/>
<line x1="104.5" y1="646.9" x2="109.3" y2="646.9" stroke="#262626" stroke-width="0.9"/>
<line x1="104.5" y1="649.5" x2="109.3" y2="649.5" stroke="#262626" stroke-width="0.9"/>
<line x1="129.6" y1="694.2" x2="129.6" y2="696.8" stroke="#262626" stroke-width="0.9"/>
<line x1="127.2" y1="694.2" x2="132" y2="694.2" stroke="#262626" stroke-width="0.9"/>
<line x1="127.2" y1="696.8" x2="132" y2="696.8" stroke="#262626" stroke-width="0.9"/>
<line x1="142.8" y1="679.7" x2="142.8" y2="682.3" stroke="#262626" stroke-width="0.9"/>
<line x1="140.3" y1="679.7" x2="145.2" y2="679.7" stroke="#262626" stroke-width="0.9"/>
<line x1="140.3" y1="682.3" x2="145.2" y2="682.3" stroke="#262626" stroke-width="0.9"/>
<line x1="165.7" y1="708.3" x2="165.7" y2="710.9" stroke="#262626" stroke-width="0.9"/>
<line x1="163.3" y1="708.3" x2="168.1" y2="708.3" stroke="#262626" stroke-width="0.9"/>
<line x1="163.3" y1="710.9" x2="168.1" y2="710.9" stroke="#262626" stroke-width="0.9"/>
<line x1="178.9" y1="699.2" x2="178.9" y2="701.8" stroke="#262626" stroke-width="0.9"/>
<line x1="176.5" y1="699.2" x2="181.3" y2="699.2" stroke="#262626" stroke-width="0.9"/>
<line x1="176.5" y1="701.8" x2="181.3" y2="701.8" stroke="#262626" stroke-width="0.9"/>
<g fill="#000"><circle cx="55" cy="715.1" r="1.6"/><circle cx="57.9" cy="713.1" r="1.6"/><circle cx="60.8" cy="714.9" r="1.6"/></g>
<g fill="#000"><path d="M68.1 712.8L66.5 715.7L69.7 715.7Z"/><path d="M71 710.8L69.4 713.7L72.6 713.7Z"/><path d="M73.9 712.6L72.3 715.5L75.5 715.5Z"/></g>
<g fill="#000"><circle cx="90.8" cy="628.4" r="1.6"/><circle cx="93.7" cy="626.4" r="1.6"/><circle cx="96.6" cy="628.2" r="1.6"/></g>
<g fill="#000"><path d="M104 647.1L102.4 650L105.6 650Z"/><path d="M106.9 645.1L105.3 648L108.5 648Z"/><path d="M109.8 646.9L108.2 649.8L111.4 649.8Z"/></g>
<g fill="#000"><circle cx="126.7" cy="696.1" r="1.6"/><circle cx="129.6" cy="694.1" r="1.6"/><circle cx="132.5" cy="695.9" r="1.6"/></g>
<g fill="#000"><path d="M139.8 679.9L138.2 682.8L141.4 682.8Z"/><path d="M142.8 677.9L141.2 680.8L144.3 680.8Z"/><path d="M145.7 679.7L144.1 682.6L147.2 682.6Z"/></g>
<g fill="#000"><circle cx="162.8" cy="710.2" r="1.6"/><circle cx="165.7" cy="708.2" r="1.6"/><circle cx="168.6" cy="710" r="1.6"/></g>
<g fill="#000"><path d="M176 699.4L174.4 702.3L177.6 702.3Z"/><path d="M178.9 697.4L177.3 700.3L180.5 700.3Z"/><path d="M181.8 699.2L180.2 702.1L183.4 702.1Z"/></g>
<polyline points="57.8,707.4 57.8,703.7 72.1,703.7 72.1,707.4" fill="none" stroke="#111" stroke-width="1.1"/>
<text x="70.2" y="699.7" font-size="10" text-anchor="middle">0.0756</text>
<polyline points="93.4,620.4 93.4,615.8 107.4,615.8 107.4,620.4" fill="none" stroke="#111" stroke-width="1.1"/>
<text x="100.4" y="611.6" font-size="10" text-anchor="middle">0.0006</text>
<polyline points="130,672.2 130,667.2 143.6,667.2 143.6,672.2" fill="none" stroke="#111" stroke-width="1.1"/>
<text x="136.8" y="664" font-size="10" text-anchor="middle">0.0003</text>
<polyline points="165.6,689.1 165.6,683.9 179.6,683.9 179.6,689.1" fill="none" stroke="#111" stroke-width="1.1"/>
<text x="173.6" y="680.2" font-size="10" text-anchor="middle">0.0012</text>
<g fill="#000"><circle cx="140.1" cy="589.9" r="1.7"/></g>
<g fill="#000"><path d="M140.1 597.7L138.5 600.6L141.7 600.6Z"/></g>
<text x="151.7" y="592.7" font-size="8.1" text-anchor="start" textLength="20.3" lengthAdjust="spacingAndGlyphs">NAPH</text>
<text x="151.7" y="602.1" font-size="8.1" text-anchor="start" textLength="41.0" lengthAdjust="spacingAndGlyphs">NAPH+PTM</text>
<line x1="241.7" y1="596.1" x2="241.7" y2="720.2" stroke="#262626" stroke-width="1.15"/>
<line x1="241.1" y1="719.7" x2="341.4" y2="719.7" stroke="#262626" stroke-width="1.15"/>
<line x1="241.7" y1="596.6" x2="246.1" y2="596.6" stroke="#262626" stroke-width="1.15"/>
<text x="239.7" y="600.1" font-size="10.0" text-anchor="end">80</text>
<line x1="241.7" y1="627.3" x2="246.1" y2="627.3" stroke="#262626" stroke-width="1.15"/>
<text x="239.7" y="630.8" font-size="10.0" text-anchor="end">60</text>
<line x1="241.7" y1="658.1" x2="246.1" y2="658.1" stroke="#262626" stroke-width="1.15"/>
<text x="239.7" y="661.6" font-size="10.0" text-anchor="end">40</text>
<line x1="241.7" y1="688.9" x2="246.1" y2="688.9" stroke="#262626" stroke-width="1.15"/>
<text x="239.7" y="692.4" font-size="10.0" text-anchor="end">20</text>
<line x1="241.7" y1="719.7" x2="246.1" y2="719.7" stroke="#262626" stroke-width="1.15"/>
<text x="239.7" y="723.2" font-size="10.0" text-anchor="end">0</text>
<text x="254.1" y="732.1" font-size="9.7" text-anchor="middle">0d</text>
<text x="278.9" y="732.1" font-size="9.7" text-anchor="middle">3d</text>
<text x="303.9" y="732.1" font-size="9.7" text-anchor="middle">5d</text>
<text x="328.8" y="732.1" font-size="9.7" text-anchor="middle">7d</text>
<text transform="translate(210.6 657) rotate(-90)" font-size="10.1" text-anchor="middle">CC10<tspan dy="-3" font-size="6.5">+</tspan><tspan dy="3"> cells only</tspan></text>
<text transform="translate(222.6 657) rotate(-90)" font-size="10.1" text-anchor="middle">in total airway cells (%)</text>
<polyline points="254.1,604.3 278.9,718.4 304.2,698.6 329,685.4" fill="none" stroke="#1a1aff" stroke-width="1.6" stroke-linejoin="round" stroke-linecap="round"/>
<g fill="#1a1aff"><circle cx="247.1" cy="597.8" r="1.85"/><circle cx="254.1" cy="601" r="1.85"/><circle cx="260.8" cy="602.8" r="1.85"/><circle cx="257.5" cy="609.7" r="1.85"/><circle cx="257.5" cy="615.4" r="1.85"/><circle cx="279.4" cy="709" r="1.85"/><circle cx="275.7" cy="719.7" r="1.85"/><circle cx="281.9" cy="718.2" r="1.85"/><circle cx="287.3" cy="715.2" r="1.85"/><circle cx="287.3" cy="719.7" r="1.85"/><circle cx="297.5" cy="697.1" r="1.85"/><circle cx="304.2" cy="691.6" r="1.85"/><circle cx="304.2" cy="698.6" r="1.85"/><circle cx="304.2" cy="705.8" r="1.85"/><circle cx="310.7" cy="697.3" r="1.85"/><circle cx="322.3" cy="684.2" r="1.85"/><circle cx="329" cy="679.2" r="1.85"/><circle cx="329" cy="686.2" r="1.85"/><circle cx="329" cy="691.6" r="1.85"/><circle cx="336" cy="684.9" r="1.85"/></g>
<polyline points="254.1,607.2 278.9,716.4 304.2,675.5 329,632.1" fill="none" stroke="#000" stroke-width="1.6" stroke-linejoin="round" stroke-linecap="round"/>
<g fill="#000"><circle cx="247.1" cy="603" r="1.85"/><circle cx="250.8" cy="609.7" r="1.85"/><circle cx="250.8" cy="618.9" r="1.85"/><circle cx="264.5" cy="715.7" r="1.85"/><circle cx="264.5" cy="719.7" r="1.85"/><circle cx="270.2" cy="716.4" r="1.85"/><circle cx="275.7" cy="715.7" r="1.85"/><circle cx="293.8" cy="718.2" r="1.85"/><circle cx="297.5" cy="678.5" r="1.85"/><circle cx="304.2" cy="671" r="1.85"/><circle cx="304.2" cy="676.7" r="1.85"/><circle cx="304.2" cy="681.7" r="1.85"/><circle cx="310.7" cy="675.5" r="1.85"/><circle cx="322.3" cy="634.5" r="1.85"/><circle cx="329" cy="626.6" r="1.85"/><circle cx="329" cy="632.1" r="1.85"/><circle cx="329" cy="641.2" r="1.85"/><circle cx="336" cy="635" r="1.85"/></g>
<text x="242.7" y="593.6" font-size="10.2" text-anchor="start">0.7970</text>
<text x="312.4" y="620.9" font-size="10.2" text-anchor="start">1.56e-07</text>
<text x="271.9" y="663.8" font-size="10.2" text-anchor="start">7.04e-05</text>
<text x="243.9" y="708.5" font-size="10.2" text-anchor="start">0.6804</text>
<line x1="402.9" y1="596.1" x2="402.9" y2="719.4" stroke="#262626" stroke-width="1.15"/>
<line x1="402.3" y1="718.9" x2="508.8" y2="718.9" stroke="#262626" stroke-width="1.15"/>
<line x1="402.9" y1="596.6" x2="407.3" y2="596.6" stroke="#262626" stroke-width="1.15"/>
<text x="400.9" y="600.1" font-size="10.0" text-anchor="end">100</text>
<line x1="402.9" y1="621.1" x2="407.3" y2="621.1" stroke="#262626" stroke-width="1.15"/>
<text x="400.9" y="624.6" font-size="10.0" text-anchor="end">80</text>
<line x1="402.9" y1="645.5" x2="407.3" y2="645.5" stroke="#262626" stroke-width="1.15"/>
<text x="400.9" y="649" font-size="10.0" text-anchor="end">60</text>
<line x1="402.9" y1="670" x2="407.3" y2="670" stroke="#262626" stroke-width="1.15"/>
<text x="400.9" y="673.5" font-size="10.0" text-anchor="end">40</text>
<line x1="402.9" y1="694.4" x2="407.3" y2="694.4" stroke="#262626" stroke-width="1.15"/>
<text x="400.9" y="697.9" font-size="10.0" text-anchor="end">20</text>
<line x1="402.9" y1="718.9" x2="407.3" y2="718.9" stroke="#262626" stroke-width="1.15"/>
<text x="400.9" y="722.4" font-size="10.0" text-anchor="end">0</text>
<text x="416" y="732.1" font-size="9.7" text-anchor="middle">0d</text>
<text x="442.3" y="732.1" font-size="9.7" text-anchor="middle">3d</text>
<text x="468.6" y="732.1" font-size="9.7" text-anchor="middle">5d</text>
<text x="495.2" y="732.1" font-size="9.7" text-anchor="middle">7d</text>
<text transform="translate(371.2 656.2) rotate(-90)" font-size="10.2" text-anchor="middle">PGP9.5<tspan dy="-3" font-size="6.5">+</tspan><tspan dy="3"> cells only</tspan></text>
<text transform="translate(384 656.2) rotate(-90)" font-size="10.2" text-anchor="middle">in total airway cells (%)</text>
<path d="M416 716.9L442.3 646.9C452 651 460 659 468.6 663.8C478 668 487 670.5 495.2 672.3" fill="none" stroke="#1a1aff" stroke-width="1.6" stroke-linecap="round" stroke-linejoin="round"/>
<polyline points="416,716.4 442.3,633.3 468.6,679.2 495.2,699.1" fill="none" stroke="#000" stroke-width="1.6" stroke-linejoin="round" stroke-linecap="round"/>
<g fill="#000"><circle cx="407.6" cy="716.4" r="1.85"/><circle cx="418.3" cy="715.9" r="1.85"/><circle cx="425.2" cy="716.9" r="1.85"/><circle cx="428.7" cy="717.7" r="1.85"/><circle cx="442.3" cy="621.6" r="1.85"/><circle cx="442.3" cy="628.3" r="1.85"/><circle cx="442.3" cy="632.5" r="1.85"/><circle cx="442.3" cy="637" r="1.85"/><circle cx="450" cy="632.1" r="1.85"/><circle cx="461.7" cy="684.2" r="1.85"/><circle cx="468.6" cy="671.8" r="1.85"/><circle cx="468.6" cy="679.7" r="1.85"/><circle cx="476.1" cy="676.7" r="1.85"/><circle cx="476.1" cy="681.7" r="1.85"/><circle cx="484.5" cy="698.3" r="1.85"/><circle cx="492" cy="702.8" r="1.85"/><circle cx="498.9" cy="697.1" r="1.85"/><circle cx="498.9" cy="700.8" r="1.85"/><circle cx="506.4" cy="698.3" r="1.85"/></g>
<g fill="#1a1aff"><circle cx="404.1" cy="715.7" r="1.85"/><circle cx="411.6" cy="715.7" r="1.85"/><circle cx="415" cy="717.7" r="1.85"/><circle cx="422" cy="717.2" r="1.85"/><circle cx="431.9" cy="716.4" r="1.85"/><circle cx="435.6" cy="630.8" r="1.85"/><circle cx="439.4" cy="650.7" r="1.85"/><circle cx="446.3" cy="645.7" r="1.85"/><circle cx="446.3" cy="651.9" r="1.85"/><circle cx="443.1" cy="646.9" r="1.85"/><circle cx="461.7" cy="669.3" r="1.85"/><circle cx="465.4" cy="664.3" r="1.85"/><circle cx="469.1" cy="651.2" r="1.85"/><circle cx="472.9" cy="663.1" r="1.85"/><circle cx="476.6" cy="668.8" r="1.85"/><circle cx="484.8" cy="672.5" r="1.85"/><circle cx="492" cy="676.7" r="1.85"/><circle cx="492.7" cy="672.3" r="1.85"/><circle cx="499.4" cy="675" r="1.85"/><circle cx="506.4" cy="672.3" r="1.85"/></g>
<text x="425.7" y="609.7" font-size="10.2" text-anchor="start">0.0120</text>
<text x="454.7" y="642" font-size="10.2" text-anchor="start">0.0039</text>
<text x="479.6" y="663.8" font-size="10.2" text-anchor="start">6.96e-08</text>
<text x="422" y="711.5" font-size="10.2" text-anchor="start">0.6854</text>
<line x1="567.9" y1="596.1" x2="567.9" y2="719.8" stroke="#262626" stroke-width="1.15"/>
<line x1="567.4" y1="719.2" x2="673.1" y2="719.2" stroke="#262626" stroke-width="1.15"/>
<line x1="567.9" y1="596.6" x2="572.3" y2="596.6" stroke="#262626" stroke-width="1.15"/>
<text x="565.9" y="600.1" font-size="10.0" text-anchor="end">20</text>
<line x1="567.9" y1="627.3" x2="572.3" y2="627.3" stroke="#262626" stroke-width="1.15"/>
<text x="565.9" y="630.8" font-size="10.0" text-anchor="end">15</text>
<line x1="567.9" y1="657.9" x2="572.3" y2="657.9" stroke="#262626" stroke-width="1.15"/>
<text x="565.9" y="661.4" font-size="10.0" text-anchor="end">10</text>
<line x1="567.9" y1="688.6" x2="572.3" y2="688.6" stroke="#262626" stroke-width="1.15"/>
<text x="565.9" y="692.1" font-size="10.0" text-anchor="end">5</text>
<line x1="567.9" y1="719.2" x2="572.3" y2="719.2" stroke="#262626" stroke-width="1.15"/>
<text x="565.9" y="722.8" font-size="10.0" text-anchor="end">0</text>
<text x="580.3" y="732.1" font-size="9.7" text-anchor="middle">0d</text>
<text x="606.3" y="732.1" font-size="9.7" text-anchor="middle">3d</text>
<text x="632.9" y="732.1" font-size="9.7" text-anchor="middle">5d</text>
<text x="659.5" y="732.1" font-size="9.7" text-anchor="middle">7d</text>
<text transform="translate(538.8 657.2) rotate(-90)" font-size="10.2" text-anchor="middle">CC10<tspan dy="-3" font-size="6.5">+</tspan><tspan dy="3">/PGP9.5</tspan><tspan dy="-3" font-size="6.5">+</tspan><tspan dy="3"> cells</tspan></text>
<text transform="translate(551.4 657.2) rotate(-90)" font-size="10.2" text-anchor="middle">in total airway cells (%)</text>
<polyline points="580.3,718.9 606.3,701.5 632.9,671.8 659.5,686.7" fill="none" stroke="#1a1aff" stroke-width="1.6" stroke-linejoin="round" stroke-linecap="round"/>
<polyline points="580.3,718.9 606.3,682.9 632.9,638.3 659.5,696.6" fill="none" stroke="#000" stroke-width="1.6" stroke-linejoin="round" stroke-linecap="round"/>
<g fill="#000"><circle cx="579" cy="718.9" r="1.85"/><circle cx="585.7" cy="718.9" r="1.85"/><circle cx="589.5" cy="718.9" r="1.85"/><circle cx="592.7" cy="718.9" r="1.85"/><circle cx="603.1" cy="684.7" r="1.85"/><circle cx="603.1" cy="691.6" r="1.85"/><circle cx="606.8" cy="673.7" r="1.85"/><circle cx="610.6" cy="684.7" r="1.85"/><circle cx="610.6" cy="688.6" r="1.85"/><circle cx="632.9" cy="628.8" r="1.85"/><circle cx="632.9" cy="632.5" r="1.85"/><circle cx="632.9" cy="635.8" r="1.85"/><circle cx="632.9" cy="639.5" r="1.85"/><circle cx="632.9" cy="648.9" r="1.85"/><circle cx="652.3" cy="687.2" r="1.85"/><circle cx="652.3" cy="696.6" r="1.85"/><circle cx="659.5" cy="694.8" r="1.85"/><circle cx="659.5" cy="709.7" r="1.85"/><circle cx="666.4" cy="697.8" r="1.85"/></g>
<g fill="#1a1aff"><circle cx="568.4" cy="718.9" r="1.85"/><circle cx="572.1" cy="718.9" r="1.85"/><circle cx="575.3" cy="718.9" r="1.85"/><circle cx="595.7" cy="718.9" r="1.85"/><circle cx="599.4" cy="697.1" r="1.85"/><circle cx="603.1" cy="709.5" r="1.85"/><circle cx="606.8" cy="699.6" r="1.85"/><circle cx="610.6" cy="706" r="1.85"/><circle cx="614.3" cy="696.6" r="1.85"/><circle cx="625.9" cy="672.3" r="1.85"/><circle cx="625.9" cy="677.5" r="1.85"/><circle cx="632.9" cy="656.9" r="1.85"/><circle cx="632.9" cy="675.5" r="1.85"/><circle cx="640.3" cy="675.5" r="1.85"/><circle cx="652.3" cy="684.2" r="1.85"/><circle cx="659.5" cy="680.4" r="1.85"/><circle cx="659.5" cy="686.2" r="1.85"/><circle cx="659.5" cy="701" r="1.85"/><circle cx="666.4" cy="681.7" r="1.85"/></g>
<text x="616.3" y="620.4" font-size="10.2" text-anchor="start">0.0001</text>
<text x="579.5" y="667.5" font-size="10.2" text-anchor="start">0.0020</text>
<text x="651" y="675" font-size="10.2" text-anchor="start">0.0115</text>
<line x1="616.3" y1="584.9" x2="628.7" y2="584.9" stroke="#000" stroke-width="1.5"/>
<g fill="#000"><circle cx="622.5" cy="584.9" r="1.6"/></g>
<line x1="616.3" y1="594.8" x2="628.7" y2="594.8" stroke="#1a1aff" stroke-width="1.5"/>
<g fill="#1a1aff"><circle cx="622.5" cy="594.8" r="1.6"/></g>
<text x="635.9" y="587.7" font-size="8.1" text-anchor="start" textLength="20.2" lengthAdjust="spacingAndGlyphs">NAPH</text>
<text x="635.9" y="597.6" font-size="8.1" text-anchor="start" textLength="40.6" lengthAdjust="spacingAndGlyphs">NAPH+PTM</text>
</svg></body></html>
